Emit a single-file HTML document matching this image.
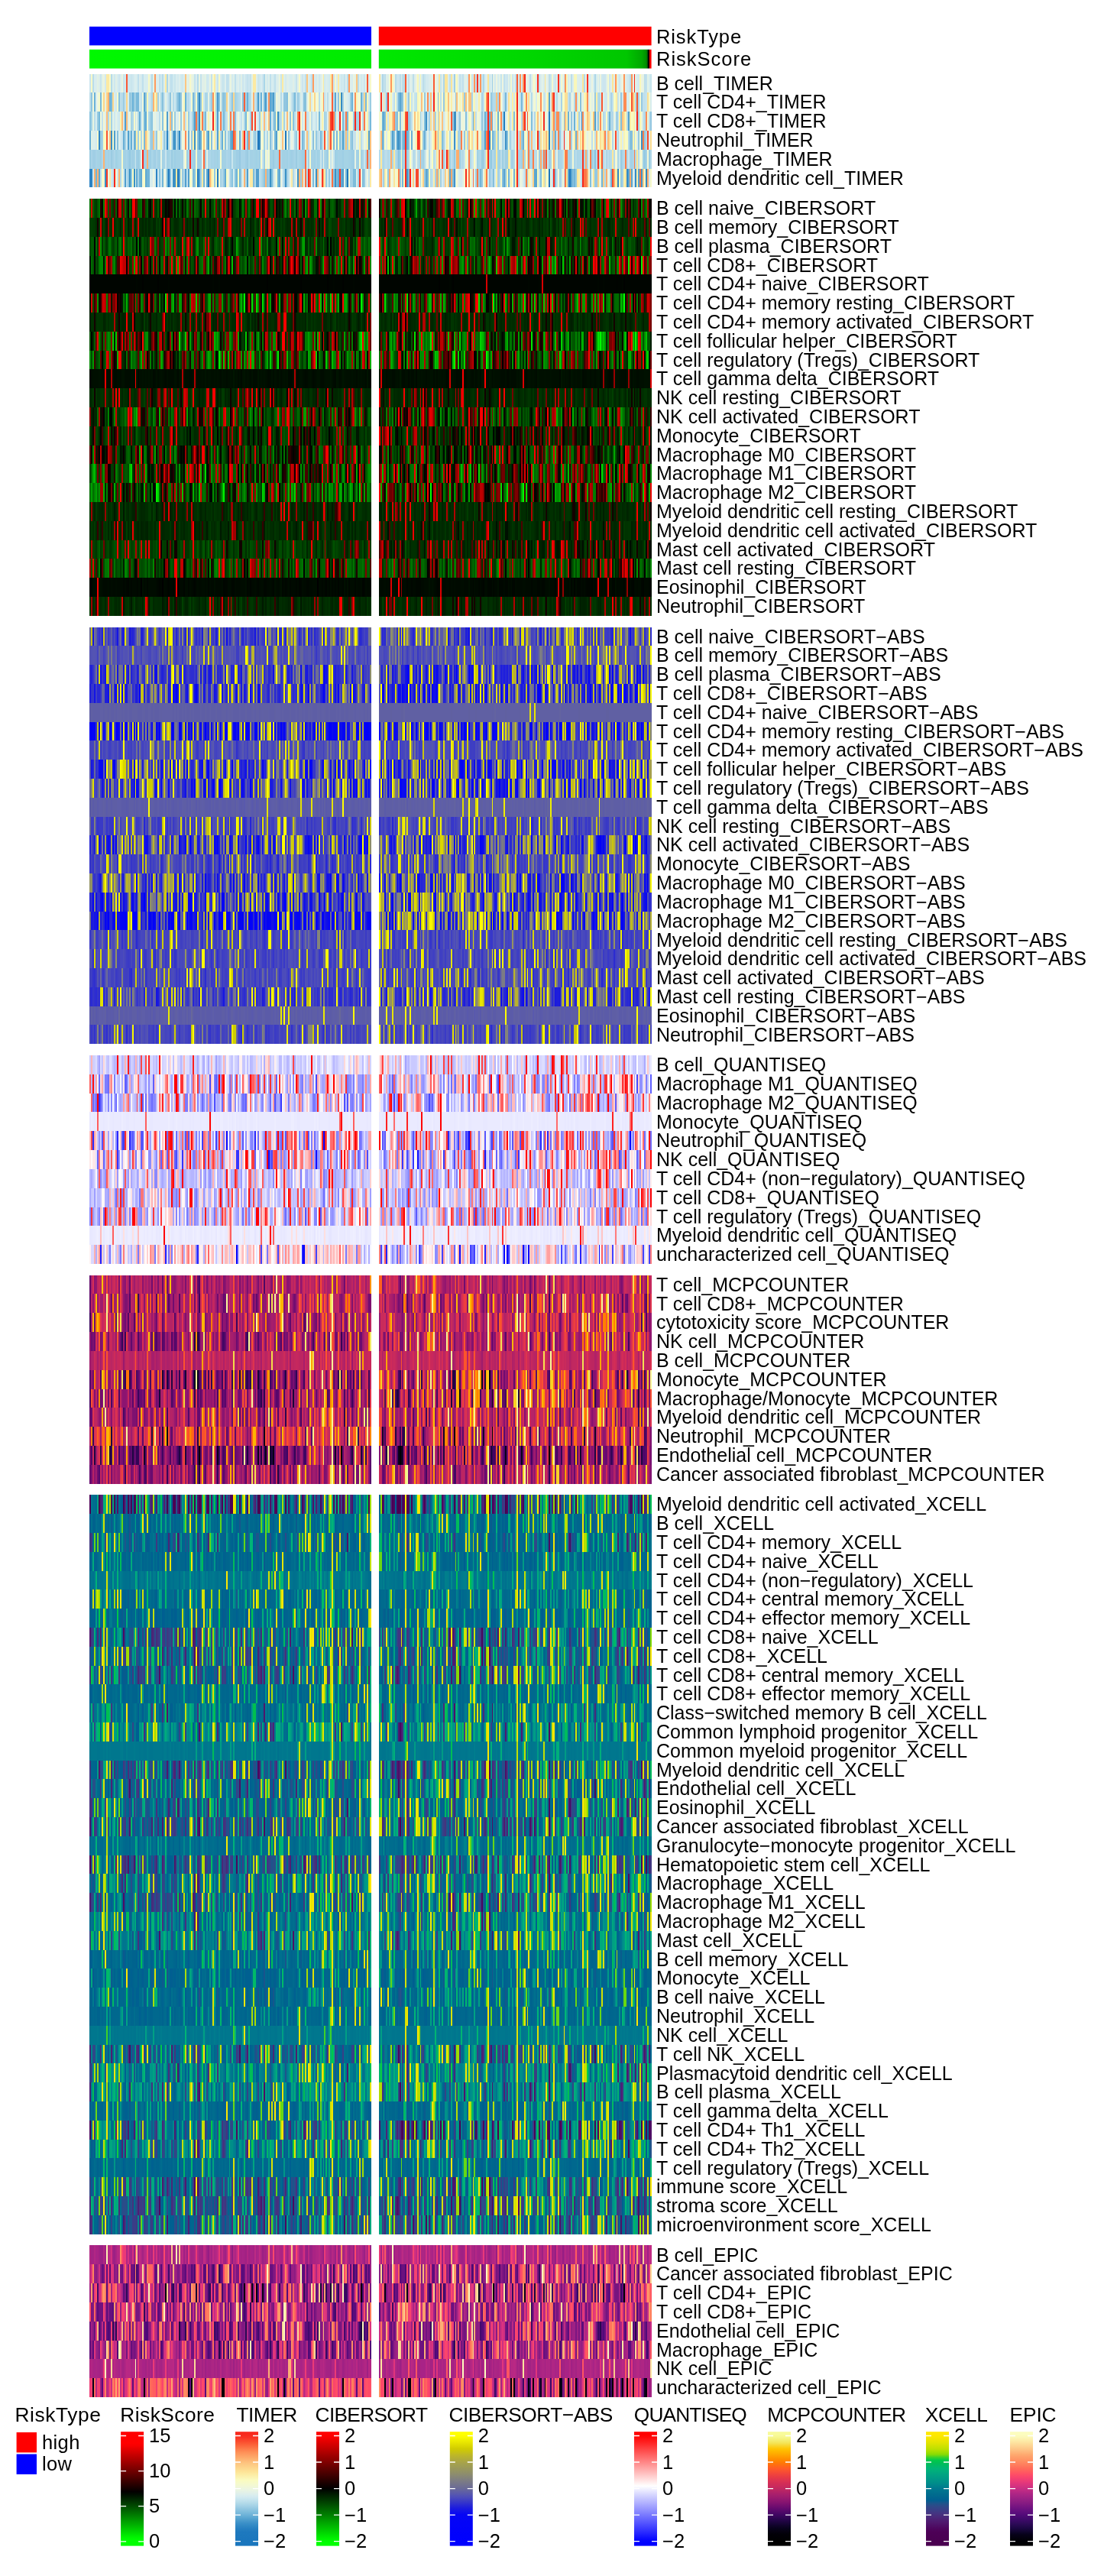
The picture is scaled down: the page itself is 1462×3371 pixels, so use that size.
<!DOCTYPE html><html><head><meta charset="utf-8"><title>heatmap</title><style>html,body{margin:0;padding:0;background:#fff;width:1462px;height:3371px;overflow:hidden}</style></head><body><svg width="1462" height="3371" viewBox="0 0 1462 3371" style="display:block;color-interpolation-filters:sRGB;filter:blur(0.5px)"><defs><style>text{font-family:"Liberation Sans",sans-serif}</style><g id="tx" shape-rendering="crispEdges" stroke-width="1"></g><g id="t0"><rect width="186" height="1" fill="none"/><path stroke="#000000" d="M142 .5h1m9 0h1"/><path stroke="#0b0b0b" d="M9 .5h1m91 0h1m27 0h1m53 0h1"/><path stroke="#161616" d="M64 .5h1m17 0h1m22 0h1"/><path stroke="#212121" d="M0 .5h1m5 0h1m16 0h1m2 0h1m7 0h1m22 0h1m11 0h1m65 0h1m12 0h2"/><path stroke="#2c2c2c" d="M17 .5h1m15 0h1m4 0h1m6 0h1m13 0h1m7 0h1m60 0h1m2 0h1m28 0h1"/><path stroke="#373737" d="M2 .5h1m29 0h1m37 0h2m2 0h1m11 0h1m11 0h1m60 0h1m1 0h1"/><path stroke="#434343" d="M5 .5h1m6 0h1m42 0h1m9 0h1m12 0h1m18 0h1m22 0h1m19 0h1m15 0h1m10 0h1"/><path stroke="#4e4e4e" d="M14 .5h1m22 0h1m43 0h1m2 0h1m34 0h1m17 0h1m5 0h1m13 0h1m8 0h1"/><path stroke="#595959" d="M3 .5h1m17 0h1m40 0h1m14 0h1m18 0h1m7 0h1m4 0h1m20 0h1m3 0h1"/><path stroke="#646464" d="M24 .5h1m16 0h1m33 0h1m4 0h1m9 0h1m9 0h1m1 0h1m3 0h1m26 0h1"/><path stroke="#6f6f6f" d="M4 .5h1m10 0h1m11 0h1m15 0h2m15 0h1m34 0h1m16 0h1m49 0h1m7 0h1"/><path stroke="#7a7a7a" d="M72 .5h1m12 0h1m35 0h1m4 0h1m20 0h1m16 0h1m4 0h1m5 0h1m5 0h1"/><path stroke="#858585" d="M46 .5h1m1 0h2m13 0h1m54 0h1m5 0h1m21 0h1m11 0h1m6 0h1"/><path stroke="#909090" d="M39 .5h1m11 0h1m6 0h1m49 0h1m16 0h1m10 0h1m13 0h1m25 0h2m1 0h1"/><path stroke="#9b9b9b" d="M8 .5h1m31 0h1m15 0h1m22 0h1m14 0h1m4 0h1m23 0h1m39 0h1m20 0h1"/><path stroke="#a6a6a6" d="M25 .5h1m24 0h1m1 0h1m8 0h1m11 0h1m17 0h1m22 0h1m26 0h1m32 0h1"/><path stroke="#b1b1b1" d="M7 .5h1m10 0h1m16 0h1m17 0h2m13 0h1m58 0h1m25 0h2m25 0h1"/><path stroke="#bcbcbc" d="M16 .5h1m13 0h1m5 0h1m29 0h1m21 0h1m18 0h1m7 0h1m29 0h1m39 0h1"/><path stroke="#c8c8c8" d="M13 .5h1m8 0h1m8 0h1m51 0h1m8 0h1m20 0h1m3 0h1m21 0h1m31 0h1"/><path stroke="#d3d3d3" d="M11 .5h1m77 0h1m3 0h1m9 0h1m18 0h1m15 0h1m16 0h1m12 0h1m3 0h1"/><path stroke="#dedede" d="M1 .5h1m17 0h2m21 0h1m4 0h1m39 0h1m56 0h1m28 0h1m4 0h1m3 0h1"/><path stroke="#e9e9e9" d="M76 .5h1m39 0h1m15 0h1"/><path stroke="#f4f4f4" d="M28 .5h1m81 0h2m39 0h1"/><path stroke="#ffffff" d="M10 .5h1m18 0h1"/></g><g id="t1"><rect width="186" height="1" fill="none"/><path stroke="#000000" d="M14 .5h1m109 0h1"/><path stroke="#0b0b0b" d="M70 .5h1m4 0h1m20 0h1m41 0h1"/><path stroke="#161616" d="M108 .5h1m17 0h1m4 0h1"/><path stroke="#212121" d="M26 .5h1m8 0h1m53 0h1m4 0h1m14 0h1m3 0h1m11 0h1m36 0h1m18 0h1m1 0h1"/><path stroke="#2c2c2c" d="M0 .5h1m3 0h1m22 0h1m10 0h1m11 0h1m17 0h1m34 0h1m13 0h1m16 0h1"/><path stroke="#373737" d="M12 .5h1m27 0h1m20 0h1m3 0h1m7 0h1m4 0h1m23 0h1m47 0h1m22 0h1"/><path stroke="#434343" d="M36 .5h1m5 0h1m1 0h1m15 0h1m15 0h1m28 0h1m26 0h1m16 0h1m19 0h1m1 0h1"/><path stroke="#4e4e4e" d="M15 .5h1m8 0h1m4 0h1m98 0h1m8 0h1m17 0h1m5 0h1m1 0h1m18 0h1"/><path stroke="#595959" d="M7 .5h1m5 0h1m16 0h2m54 0h1m19 0h1m13 0h1m1 0h1m23 0h1"/><path stroke="#646464" d="M28 .5h1m20 0h1m2 0h1m28 0h1m19 0h1m8 0h1m16 0h1m1 0h1m24 0h1"/><path stroke="#6f6f6f" d="M3 .5h1m15 0h1m25 0h1m1 0h1m32 0h1m14 0h1m25 0h1m11 0h1m30 0h1m13 0h1"/><path stroke="#7a7a7a" d="M2 .5h1m15 0h1m60 0h1m17 0h1m13 0h2m2 0h1m29 0h1m33 0h1"/><path stroke="#858585" d="M33 .5h1m17 0h1m22 0h1m29 0h1m37 0h2m4 0h1m26 0h1m8 0h1"/><path stroke="#909090" d="M6 .5h1m1 0h1m2 0h1m31 0h1m18 0h1m4 0h1m14 0h1m31 0h1m4 0h1m60 0h1"/><path stroke="#9b9b9b" d="M21 .5h1m12 0h1m6 0h1m29 0h1m44 0h1m1 0h1m16 0h2m37 0h1"/><path stroke="#a6a6a6" d="M17 .5h1m5 0h1m59 0h1m56 0h2m14 0h1m2 0h1m5 0h1m1 0h1"/><path stroke="#b1b1b1" d="M56 .5h1m2 0h1m6 0h1m2 0h1m20 0h1m2 0h1m5 0h1m52 0h1m5 0h1m17 0h1"/><path stroke="#bcbcbc" d="M9 .5h1m6 0h1m41 0h1m18 0h1m13 0h1m38 0h1m13 0h1m2 0h1m29 0h1"/><path stroke="#c8c8c8" d="M5 .5h1m16 0h1m9 0h1m21 0h1m8 0h1m21 0h1m6 0h1m7 0h1m65 0h1"/><path stroke="#d3d3d3" d="M10 .5h1m26 0h1m1 0h1m15 0h1m8 0h1m19 0h1m22 0h1m43 0h1m20 0h1"/><path stroke="#dedede" d="M20 .5h1m4 0h1m20 0h1m6 0h1m33 0h2m34 0h1m15 0h1m17 0h1m10 0h1"/><path stroke="#e9e9e9" d="M153 .5h1m6 0h1m9 0h1"/><path stroke="#f4f4f4" d="M1 .5h1m46 0h1m49 0h1m86 0h1"/><path stroke="#ffffff" d="M57 .5h1m14 0h1"/></g><g id="t2"><rect width="186" height="1" fill="none"/><path stroke="#000000" d="M36 .5h1m69 0h1"/><path stroke="#0b0b0b" d="M62 .5h1m39 0h1m40 0h1m18 0h1"/><path stroke="#161616" d="M161 .5h1m11 0h1m5 0h1"/><path stroke="#212121" d="M5 .5h1m5 0h1m3 0h1m29 0h1m27 0h1m19 0h1m9 0h1m65 0h1m4 0h2"/><path stroke="#2c2c2c" d="M13 .5h2m31 0h1m4 0h1m28 0h1m8 0h1m11 0h1m11 0h1m32 0h1"/><path stroke="#373737" d="M6 .5h3m29 0h1m16 0h1m11 0h1m7 0h1m23 0h1m48 0h1"/><path stroke="#434343" d="M1 .5h1m29 0h2m10 0h1m9 0h1m37 0h1m26 0h1m2 0h1m9 0h1m26 0h1"/><path stroke="#4e4e4e" d="M2 .5h1m38 0h1m5 0h1m17 0h1m3 0h1m16 0h1m33 0h1m6 0h1m36 0h1"/><path stroke="#595959" d="M4 .5h1m7 0h1m17 0h1m2 0h1m115 0h1m2 0h1m4 0h1m8 0h1m17 0h1"/><path stroke="#646464" d="M20 .5h1m21 0h1m13 0h1m14 0h1m38 0h1m21 0h1m27 0h1m6 0h1m14 0h1"/><path stroke="#6f6f6f" d="M17 .5h1m46 0h1m29 0h1m13 0h1m30 0h1m4 0h2m4 0h2m24 0h1"/><path stroke="#7a7a7a" d="M26 .5h1m60 0h1m7 0h1m23 0h1m10 0h1m6 0h1m3 0h1m5 0h1m20 0h1"/><path stroke="#858585" d="M10 .5h1m26 0h1m12 0h1m6 0h1m1 0h1m66 0h1m38 0h1m4 0h1m9 0h1"/><path stroke="#909090" d="M52 .5h1m8 0h1m6 0h1m13 0h1m2 0h1m4 0h1m5 0h1m41 0h1m1 0h1m13 0h1"/><path stroke="#9b9b9b" d="M23 .5h1m1 0h1m46 0h1m31 0h1m10 0h1m6 0h1m10 0h1m22 0h1m6 0h1"/><path stroke="#a6a6a6" d="M34 .5h1m9 0h1m36 0h1m1 0h1m23 0h1m15 0h1m12 0h1m18 0h1m22 0h1"/><path stroke="#b1b1b1" d="M9 .5h1m8 0h1m2 0h2m4 0h1m26 0h1m3 0h1m46 0h1m6 0h1m29 0h1"/><path stroke="#bcbcbc" d="M0 .5h1m34 0h1m3 0h1m69 0h1m6 0h1m42 0h1m12 0h1m4 0h1m3 0h1"/><path stroke="#c8c8c8" d="M3 .5h1m15 0h1m9 0h1m10 0h1m22 0h1m12 0h1m34 0h1m23 0h1m35 0h1"/><path stroke="#d3d3d3" d="M48 .5h1m28 0h2m5 0h1m7 0h1m24 0h1m16 0h1m18 0h1m31 0h1"/><path stroke="#dedede" d="M16 .5h1m43 0h1m5 0h1m3 0h1m3 0h1m13 0h1m9 0h1m15 0h1m9 0h2"/><path stroke="#e9e9e9" d="M28 .5h1m50 0h1m103 0h1"/><path stroke="#f4f4f4" d="M24 .5h1m72 0h1m2 0h1m28 0h1"/><path stroke="#ffffff" d="M49 .5h1m78 0h1"/></g><g id="t3"><rect width="186" height="1" fill="none"/><path stroke="#000000" d="M87 .5h1m62 0h1"/><path stroke="#0b0b0b" d="M55 .5h1m29 0h1m12 0h1m3 0h1"/><path stroke="#161616" d="M5 .5h1m66 0h1m64 0h1"/><path stroke="#212121" d="M1 .5h1m25 0h1m15 0h1m18 0h1m2 0h1m22 0h1m35 0h1m34 0h1m20 0h1m3 0h1"/><path stroke="#2c2c2c" d="M12 .5h1m1 0h1m13 0h1m22 0h1m11 0h2m62 0h1m6 0h1m32 0h1"/><path stroke="#373737" d="M9 .5h1m15 0h1m3 0h1m8 0h2m59 0h1m41 0h1m12 0h1m16 0h1"/><path stroke="#434343" d="M16 .5h1m2 0h1m61 0h1m18 0h1m21 0h1m5 0h1m4 0h1m22 0h1m13 0h1m3 0h1"/><path stroke="#4e4e4e" d="M10 .5h1m4 0h1m51 0h1m8 0h1m12 0h1m16 0h1m1 0h1m12 0h1m18 0h1"/><path stroke="#595959" d="M8 .5h1m8 0h1m30 0h1m9 0h1m25 0h1m9 0h1m51 0h1m15 0h1m9 0h1"/><path stroke="#646464" d="M2 .5h1m8 0h1m11 0h1m72 0h1m28 0h1m4 0h1m8 0h1m28 0h1m4 0h1"/><path stroke="#6f6f6f" d="M20 .5h1m25 0h1m5 0h1m21 0h1m3 0h1m31 0h1m1 0h1m13 0h1m15 0h1m38 0h1"/><path stroke="#7a7a7a" d="M59 .5h1m6 0h1m12 0h1m31 0h1m1 0h1m21 0h1m13 0h1m3 0h1m10 0h1"/><path stroke="#858585" d="M18 .5h1m28 0h1m20 0h1m13 0h1m18 0h1m21 0h1m7 0h1m19 0h1m8 0h1"/><path stroke="#909090" d="M7 .5h1m18 0h1m4 0h1m1 0h1m3 0h1m15 0h1m17 0h1m5 0h1m5 0h1m98 0h1"/><path stroke="#9b9b9b" d="M34 .5h2m9 0h1m15 0h1m24 0h1m3 0h1m45 0h1m32 0h1m5 0h1"/><path stroke="#a6a6a6" d="M3 .5h1m2 0h1m25 0h1m9 0h1m50 0h1m25 0h1m24 0h1m12 0h1m25 0h1"/><path stroke="#b1b1b1" d="M36 .5h1m32 0h1m35 0h1m12 0h1m10 0h1m8 0h1m19 0h1m4 0h1m13 0h2"/><path stroke="#bcbcbc" d="M24 .5h1m31 0h1m34 0h2m10 0h1m5 0h1m7 0h1m27 0h1m30 0h1"/><path stroke="#c8c8c8" d="M22 .5h1m52 0h1m21 0h1m6 0h1m9 0h1m17 0h1m10 0h1m17 0h1m3 0h1"/><path stroke="#d3d3d3" d="M30 .5h1m9 0h1m13 0h1m5 0h1m12 0h1m6 0h1m14 0h1m52 0h1m30 0h1"/><path stroke="#dedede" d="M13 .5h1m27 0h1m2 0h1m5 0h1m6 0h1m49 0h1m7 0h2m30 0h1m7 0h1"/><path stroke="#e9e9e9" d="M21 .5h1m27 0h1m70 0h1"/><path stroke="#f4f4f4" d="M0 .5h1m69 0h1m95 0h1m18 0h1"/><path stroke="#ffffff" d="M4 .5h1m147 0h1"/></g><g id="t4"><rect width="186" height="1" fill="none"/><path stroke="#000000" d="M31 .5h1m136 0h1"/><path stroke="#0b0b0b" d="M115 .5h1m12 0h1m23 0h1m11 0h1"/><path stroke="#161616" d="M21 .5h1m19 0h1m32 0h1"/><path stroke="#212121" d="M11 .5h1m1 0h1m32 0h1m32 0h1m8 0h1m21 0h1m5 0h1m4 0h1m8 0h1m2 0h1"/><path stroke="#2c2c2c" d="M0 .5h1m22 0h1m49 0h1m24 0h1m4 0h1m23 0h1m1 0h1m43 0h1m8 0h1"/><path stroke="#373737" d="M4 .5h1m5 0h1m21 0h1m50 0h1m1 0h1m28 0h1m25 0h1m13 0h1m6 0h1"/><path stroke="#434343" d="M5 .5h1m39 0h1m47 0h1m8 0h1m46 0h1m5 0h1m10 0h1m7 0h2m9 0h1"/><path stroke="#4e4e4e" d="M30 .5h1m8 0h1m20 0h1m6 0h1m14 0h1m12 0h1m10 0h1m55 0h1m6 0h1"/><path stroke="#595959" d="M33 .5h1m8 0h1m18 0h1m1 0h1m25 0h1m32 0h1m23 0h1m32 0h2"/><path stroke="#646464" d="M24 .5h1m3 0h1m20 0h1m1 0h1m16 0h1m7 0h1m30 0h1m24 0h1m24 0h1"/><path stroke="#6f6f6f" d="M36 .5h1m6 0h1m6 0h1m5 0h1m21 0h1m17 0h1m50 0h1m5 0h1m24 0h1m5 0h1"/><path stroke="#7a7a7a" d="M9 .5h1m9 0h1m2 0h1m12 0h1m16 0h1m6 0h1m49 0h1m26 0h1m46 0h1"/><path stroke="#858585" d="M26 .5h1m31 0h1m6 0h1m4 0h2m53 0h1m30 0h1m14 0h1m9 0h1"/><path stroke="#909090" d="M1 .5h1m13 0h1m18 0h1m12 0h1m14 0h1m6 0h1m31 0h1m10 0h1m4 0h1m19 0h1"/><path stroke="#9b9b9b" d="M6 .5h1m13 0h1m8 0h1m67 0h1m6 0h1m15 0h1m22 0h1m15 0h2"/><path stroke="#a6a6a6" d="M55 .5h1m8 0h1m16 0h1m4 0h1m3 0h1m32 0h2m51 0h2"/><path stroke="#b1b1b1" d="M7 .5h1m58 0h1m17 0h1m23 0h1m25 0h1m4 0h1m1 0h1m3 0h1m2 0h1m9 0h1"/><path stroke="#bcbcbc" d="M2 .5h1m11 0h1m1 0h1m21 0h1m36 0h1m29 0h1m5 0h1m1 0h1m56 0h1"/><path stroke="#c8c8c8" d="M8 .5h1m8 0h1m19 0h1m2 0h1m51 0h1m42 0h1m6 0h1m1 0h1m27 0h1"/><path stroke="#d3d3d3" d="M3 .5h1m23 0h1m44 0h1m14 0h1m12 0h1m37 0h1m11 0h2m15 0h1"/><path stroke="#dedede" d="M18 .5h1m6 0h1m18 0h1m3 0h1m4 0h1m23 0h1m13 0h1m2 0h1m31 0h1m36 0h1"/><path stroke="#e9e9e9" d="M12 .5h1m44 0h1m107 0h1"/><path stroke="#f4f4f4" d="M54 .5h1m25 0h1m37 0h1m12 0h1"/><path stroke="#ffffff" d="M99 .5h1m19 0h1"/></g><g id="t5"><rect width="186" height="1" fill="none"/><path stroke="#000000" d="M51 .5h1m21 0h1"/><path stroke="#0b0b0b" d="M54 .5h1m3 0h1m64 0h1m59 0h1"/><path stroke="#161616" d="M38 .5h1m1 0h1m9 0h1"/><path stroke="#212121" d="M8 .5h1m10 0h1m8 0h1m10 0h1m34 0h1m1 0h1m18 0h1m74 0h2m10 0h1"/><path stroke="#2c2c2c" d="M9 .5h1m13 0h1m6 0h1m39 0h1m20 0h1m9 0h1m10 0h1m35 0h1m25 0h1"/><path stroke="#373737" d="M17 .5h1m11 0h1m26 0h1m56 0h2m9 0h1m9 0h1m24 0h1m5 0h1"/><path stroke="#434343" d="M2 .5h1m29 0h2m33 0h1m26 0h1m4 0h1m21 0h1m24 0h1m15 0h2"/><path stroke="#4e4e4e" d="M0 .5h1m20 0h1m15 0h1m19 0h1m31 0h1m7 0h1m11 0h1m5 0h1m42 0h1"/><path stroke="#595959" d="M10 .5h1m32 0h1m74 0h1m9 0h1m1 0h1m7 0h1m5 0h1m9 0h1m17 0h1"/><path stroke="#646464" d="M11 .5h1m57 0h1m5 0h1m6 0h1m20 0h1m4 0h1m1 0h1m25 0h2"/><path stroke="#6f6f6f" d="M12 .5h1m47 0h1m35 0h1m9 0h1m32 0h1m7 0h1m9 0h1m9 0h2m10 0h1"/><path stroke="#7a7a7a" d="M6 .5h1m8 0h1m11 0h1m21 0h1m48 0h1m18 0h1m34 0h1m16 0h1m3 0h1"/><path stroke="#858585" d="M55 .5h1m22 0h1m11 0h1m9 0h1m18 0h1m31 0h1m9 0h1m2 0h1m19 0h1"/><path stroke="#909090" d="M16 .5h1m1 0h1m16 0h1m29 0h2m17 0h1m7 0h1m34 0h1m22 0h1m30 0h1"/><path stroke="#9b9b9b" d="M3 .5h1m32 0h1m10 0h1m20 0h1m35 0h1m2 0h1m3 0h1m43 0h1m20 0h1"/><path stroke="#a6a6a6" d="M22 .5h1m2 0h1m8 0h1m9 0h1m8 0h1m25 0h1m6 0h1m1 0h1m51 0h1"/><path stroke="#b1b1b1" d="M5 .5h1m39 0h2m12 0h1m1 0h1m10 0h1m10 0h1m1 0h1m19 0h1m27 0h1"/><path stroke="#bcbcbc" d="M42 .5h1m5 0h1m31 0h1m48 0h1m11 0h2m10 0h1m6 0h1m24 0h1"/><path stroke="#c8c8c8" d="M7 .5h1m54 0h1m8 0h1m44 0h1m3 0h1m1 0h1m9 0h1m2 0h1m9 0h1"/><path stroke="#d3d3d3" d="M4 .5h1m36 0h1m10 0h1m10 0h1m13 0h1m3 0h1m67 0h1m27 0h2"/><path stroke="#dedede" d="M1 .5h1m18 0h1m3 0h1m6 0h1m55 0h1m5 0h1m8 0h1m22 0h2m4 0h1"/><path stroke="#e9e9e9" d="M14 .5h1m49 0h1m110 0h1"/><path stroke="#f4f4f4" d="M13 .5h1m12 0h1m139 0h1m13 0h1"/><path stroke="#ffffff" d="M143 .5h1m12 0h1"/></g><g id="t6"><rect width="186" height="1" fill="none"/><path stroke="#000000" d="M102 .5h1m76 0h1"/><path stroke="#0b0b0b" d="M50 .5h1m56 0h1m2 0h1m3 0h1"/><path stroke="#161616" d="M70 .5h1m81 0h1m6 0h1"/><path stroke="#212121" d="M24 .5h1m30 0h1m23 0h1m20 0h1m24 0h1m15 0h1m12 0h1m1 0h1m7 0h1m4 0h1"/><path stroke="#2c2c2c" d="M5 .5h1m48 0h1m4 0h2m17 0h1m8 0h1m31 0h1m48 0h1m11 0h1"/><path stroke="#373737" d="M11 .5h1m22 0h1m11 0h1m19 0h1m14 0h1m17 0h1m11 0h1m18 0h1m42 0h1"/><path stroke="#434343" d="M22 .5h1m12 0h1m7 0h1m28 0h1m18 0h1m51 0h1m5 0h1m13 0h1m6 0h1m6 0h1"/><path stroke="#4e4e4e" d="M31 .5h1m51 0h2m7 0h1m3 0h1m4 0h1m13 0h1m2 0h1m55 0h1"/><path stroke="#595959" d="M2 .5h1m20 0h1m33 0h1m19 0h1m30 0h1m33 0h1m7 0h1m6 0h1m27 0h1"/><path stroke="#646464" d="M25 .5h1m18 0h1m3 0h1m27 0h1m11 0h1m44 0h1m24 0h1m2 0h1m21 0h1"/><path stroke="#6f6f6f" d="M29 .5h1m17 0h1m4 0h1m11 0h1m24 0h1m3 0h1m30 0h1m12 0h1m7 0h1m36 0h1"/><path stroke="#7a7a7a" d="M0 .5h1m13 0h1m6 0h1m15 0h1m18 0h1m56 0h1m2 0h1m9 0h2"/><path stroke="#858585" d="M18 .5h1m22 0h1m7 0h1m53 0h1m31 0h2m16 0h1m12 0h1m11 0h1"/><path stroke="#909090" d="M6 .5h1m13 0h1m17 0h1m26 0h1m54 0h2m18 0h1m3 0h1m20 0h1m5 0h1"/><path stroke="#9b9b9b" d="M7 .5h1m11 0h1m13 0h1m11 0h1m15 0h1m12 0h1m23 0h1m7 0h1m74 0h1"/><path stroke="#a6a6a6" d="M3 .5h1m36 0h1m12 0h1m19 0h1m6 0h1m23 0h1m17 0h1m49 0h1m2 0h1"/><path stroke="#b1b1b1" d="M26 .5h2m30 0h1m3 0h1m19 0h1m7 0h1m3 0h1m14 0h1m2 0h1m34 0h1"/><path stroke="#bcbcbc" d="M4 .5h1m7 0h1m2 0h2m11 0h1m3 0h1m3 0h1m5 0h1m88 0h1"/><path stroke="#c8c8c8" d="M63 .5h1m7 0h1m13 0h2m8 0h1m32 0h2m4 0h1m3 0h1"/><path stroke="#d3d3d3" d="M8 .5h1m1 0h1m2 0h1m3 0h1m50 0h2m5 0h1m56 0h1m43 0h1"/><path stroke="#dedede" d="M1 .5h1m7 0h1m20 0h1m36 0h1m29 0h1m7 0h1m17 0h1m31 0h1m6 0h1m21 0h1"/><path stroke="#e9e9e9" d="M51 .5h1m96 0h1m2 0h1"/><path stroke="#f4f4f4" d="M117 .5h1m21 0h1m6 0h1m13 0h1"/><path stroke="#ffffff" d="M39 .5h1m127 0h1"/></g><g id="t7"><rect width="186" height="1" fill="none"/><path stroke="#000000" d="M33 .5h1m83 0h1"/><path stroke="#0b0b0b" d="M56 .5h1m66 0h1m5 0h1m53 0h1"/><path stroke="#161616" d="M35 .5h1m44 0h1m91 0h1"/><path stroke="#212121" d="M25 .5h1m2 0h1m32 0h1m4 0h1m37 0h1m10 0h1m5 0h1m29 0h1m8 0h1m18 0h1"/><path stroke="#2c2c2c" d="M0 .5h1m2 0h1m38 0h1m16 0h1m13 0h1m38 0h1m11 0h1m3 0h1m13 0h1"/><path stroke="#373737" d="M7 .5h1m14 0h1m9 0h1m6 0h1m18 0h1m19 0h1m35 0h1m47 0h2"/><path stroke="#434343" d="M11 .5h1m38 0h1m3 0h1m13 0h1m8 0h1m1 0h1m23 0h1m26 0h1m33 0h1m11 0h1"/><path stroke="#4e4e4e" d="M6 .5h1m3 0h1m1 0h1m5 0h1m12 0h1m35 0h1m4 0h1m72 0h1m2 0h1"/><path stroke="#595959" d="M41 .5h1m1 0h1m27 0h1m26 0h1m8 0h1m35 0h1m2 0h1m11 0h1m18 0h1"/><path stroke="#646464" d="M45 .5h1m11 0h1m25 0h1m6 0h1m5 0h1m2 0h1m67 0h1m1 0h1m10 0h1"/><path stroke="#6f6f6f" d="M23 .5h1m2 0h1m68 0h1m14 0h1m2 0h1m22 0h1m3 0h1m6 0h1m7 0h1m22 0h1"/><path stroke="#7a7a7a" d="M8 .5h1m6 0h1m18 0h1m27 0h2m54 0h1m15 0h2m17 0h1"/><path stroke="#858585" d="M24 .5h1m57 0h1m6 0h1m16 0h1m31 0h1m15 0h1m4 0h1m5 0h1m2 0h1"/><path stroke="#909090" d="M1 .5h2m11 0h1m14 0h1m55 0h1m8 0h1m13 0h1m13 0h1m3 0h1m44 0h1"/><path stroke="#9b9b9b" d="M13 .5h1m6 0h1m23 0h1m10 0h1m31 0h1m9 0h1m7 0h1m38 0h1m29 0h1"/><path stroke="#a6a6a6" d="M52 .5h1m21 0h1m1 0h1m14 0h1m10 0h1m8 0h1m4 0h1m3 0h1m64 0h1"/><path stroke="#b1b1b1" d="M36 .5h1m1 0h1m1 0h1m5 0h1m1 0h1m15 0h1m4 0h1m22 0h1m7 0h2"/><path stroke="#bcbcbc" d="M27 .5h1m21 0h1m59 0h1m9 0h1m12 0h1m23 0h2m8 0h1m15 0h1"/><path stroke="#c8c8c8" d="M4 .5h1m14 0h1m33 0h1m11 0h1m4 0h1m17 0h1m4 0h1m39 0h1m16 0h1"/><path stroke="#d3d3d3" d="M9 .5h1m6 0h1m34 0h1m75 0h1m3 0h1m9 0h1m28 0h1m10 0h1m2 0h1"/><path stroke="#dedede" d="M5 .5h1m31 0h1m22 0h1m14 0h1m5 0h1m4 0h1m38 0h1m23 0h1m2 0h1m20 0h1"/><path stroke="#e9e9e9" d="M30 .5h1m108 0h1m21 0h1"/><path stroke="#f4f4f4" d="M17 .5h1m29 0h1m36 0h1m90 0h1"/><path stroke="#ffffff" d="M21 .5h1m115 0h1"/></g><g id="t8"><rect width="186" height="1" fill="none"/><path stroke="#000000" d="M31 .5h1m14 0h1"/><path stroke="#0b0b0b" d="M64 .5h1m76 0h2m35 0h1"/><path stroke="#161616" d="M29 .5h1m76 0h1m68 0h1"/><path stroke="#212121" d="M12 .5h1m3 0h1m13 0h1m11 0h1m42 0h1m23 0h1m2 0h1m41 0h1m5 0h1m6 0h1"/><path stroke="#2c2c2c" d="M23 .5h1m28 0h1m1 0h1m21 0h1m15 0h1m3 0h1m28 0h1m7 0h1m29 0h1"/><path stroke="#373737" d="M5 .5h1m33 0h1m3 0h1m63 0h1m15 0h1m13 0h1m6 0h1m13 0h1m25 0h1"/><path stroke="#434343" d="M67 .5h1m19 0h1m2 0h1m8 0h1m1 0h1m8 0h1m11 0h1m6 0h1m46 0h1m3 0h1"/><path stroke="#4e4e4e" d="M21 .5h1m2 0h1m3 0h1m26 0h1m35 0h1m13 0h1m9 0h1m22 0h1m14 0h1"/><path stroke="#595959" d="M22 .5h1m17 0h1m18 0h1m10 0h1m11 0h1m34 0h2m42 0h1m23 0h1"/><path stroke="#646464" d="M10 .5h1m9 0h1m45 0h1m19 0h1m13 0h1m18 0h1m12 0h1m3 0h1m12 0h1"/><path stroke="#6f6f6f" d="M15 .5h1m2 0h1m34 0h1m24 0h1m47 0h1m8 0h1m14 0h1m6 0h1m19 0h1m5 0h1"/><path stroke="#7a7a7a" d="M11 .5h1m7 0h1m17 0h1m3 0h1m8 0h1m47 0h1m17 0h1m4 0h1m34 0h1"/><path stroke="#858585" d="M1 .5h1m1 0h2m53 0h1m6 0h1m3 0h1m33 0h1m16 0h1m51 0h1"/><path stroke="#909090" d="M2 .5h1m4 0h1m26 0h1m33 0h1m5 0h1m64 0h1m6 0h1m8 0h1m13 0h1m12 0h1"/><path stroke="#9b9b9b" d="M9 .5h1m3 0h2m68 0h1m9 0h1m14 0h1m5 0h1m36 0h1m19 0h1"/><path stroke="#a6a6a6" d="M8 .5h1m26 0h2m8 0h1m2 0h1m23 0h2m10 0h1m79 0h1"/><path stroke="#b1b1b1" d="M44 .5h1m6 0h1m9 0h1m19 0h1m20 0h1m8 0h1m53 0h2m3 0h1m10 0h1"/><path stroke="#bcbcbc" d="M38 .5h1m10 0h1m10 0h1m2 0h1m30 0h1m39 0h1m10 0h1m6 0h1m6 0h1"/><path stroke="#c8c8c8" d="M0 .5h1m46 0h1m49 0h1m15 0h1m14 0h1m11 0h1m2 0h1m4 0h1m19 0h1"/><path stroke="#d3d3d3" d="M6 .5h1m19 0h1m5 0h1m23 0h1m18 0h1m1 0h1m26 0h1m22 0h1m45 0h1"/><path stroke="#dedede" d="M17 .5h1m15 0h1m37 0h1m7 0h2m7 0h1m58 0h1m14 0h1m11 0h1m4 0h1"/><path stroke="#e9e9e9" d="M57 .5h1m31 0h1m41 0h1"/><path stroke="#f4f4f4" d="M27 .5h1m34 0h1m32 0h1m34 0h1"/><path stroke="#ffffff" d="M25 .5h1m98 0h1"/></g><g id="t9"><rect width="186" height="1" fill="none"/><path stroke="#000000" d="M151 .5h1m23 0h1"/><path stroke="#0b0b0b" d="M24 .5h1m10 0h1m68 0h1m44 0h1"/><path stroke="#161616" d="M55 .5h1m13 0h1m54 0h1"/><path stroke="#212121" d="M47 .5h1m16 0h1m5 0h1m49 0h1m17 0h1m11 0h1m2 0h1m14 0h1m4 0h1m8 0h1"/><path stroke="#2c2c2c" d="M8 .5h1m8 0h1m33 0h1m19 0h1m15 0h1m24 0h1m16 0h1m9 0h1m12 0h1"/><path stroke="#373737" d="M10 .5h1m16 0h2m66 0h1m1 0h1m10 0h1m45 0h1m12 0h1m11 0h1"/><path stroke="#434343" d="M30 .5h1m1 0h1m4 0h1m20 0h1m27 0h1m26 0h1m14 0h1m19 0h1m27 0h1m4 0h1"/><path stroke="#4e4e4e" d="M7 .5h1m26 0h1m18 0h1m3 0h1m1 0h1m32 0h1m41 0h1m1 0h1m37 0h1"/><path stroke="#595959" d="M33 .5h1m33 0h1m4 0h1m7 0h1m8 0h2m34 0h1m30 0h1m5 0h1"/><path stroke="#646464" d="M3 .5h1m5 0h1m1 0h1m19 0h1m34 0h1m1 0h1m6 0h1m43 0h1m11 0h1"/><path stroke="#6f6f6f" d="M4 .5h1m17 0h1m104 0h1m4 0h2m1 0h1m28 0h1m15 0h1m2 0h2"/><path stroke="#7a7a7a" d="M2 .5h1m16 0h1m36 0h1m21 0h1m3 0h1m39 0h1m18 0h1m5 0h1m17 0h1"/><path stroke="#858585" d="M39 .5h1m21 0h1m26 0h1m2 0h1m8 0h1m15 0h1m20 0h1m2 0h1m14 0h1"/><path stroke="#909090" d="M0 .5h1m19 0h2m23 0h1m37 0h1m1 0h1m19 0h1m24 0h1m11 0h1m42 0h1"/><path stroke="#9b9b9b" d="M14 .5h1m64 0h1m4 0h1m21 0h1m11 0h1m4 0h1m2 0h1m34 0h1m7 0h1"/><path stroke="#a6a6a6" d="M6 .5h1m18 0h1m24 0h1m11 0h1m13 0h1m19 0h1m13 0h1m35 0h1m19 0h1"/><path stroke="#b1b1b1" d="M15 .5h1m2 0h1m4 0h1m14 0h1m38 0h1m15 0h2m8 0h1m7 0h1m51 0h1"/><path stroke="#bcbcbc" d="M13 .5h1m12 0h1m14 0h1m7 0h1m4 0h1m18 0h1m7 0h1m17 0h1m9 0h1"/><path stroke="#c8c8c8" d="M1 .5h1m42 0h1m53 0h1m8 0h1m7 0h1m28 0h1m12 0h2m1 0h1"/><path stroke="#d3d3d3" d="M46 .5h1m1 0h1m25 0h1m26 0h2m14 0h1m3 0h1m37 0h1m11 0h1"/><path stroke="#dedede" d="M5 .5h1m6 0h1m27 0h1m1 0h2m8 0h1m12 0h1m48 0h1m30 0h1m32 0h1"/><path stroke="#e9e9e9" d="M16 .5h1m43 0h1m109 0h1"/><path stroke="#f4f4f4" d="M29 .5h1m33 0h1m79 0h1m33 0h1"/><path stroke="#ffffff" d="M36 .5h1m135 0h1"/></g><g id="t10"><rect width="186" height="1" fill="none"/><path stroke="#000000" d="M85 .5h1m75 0h1"/><path stroke="#0b0b0b" d="M31 .5h1m20 0h1m28 0h1m92 0h1"/><path stroke="#161616" d="M69 .5h1m36 0h1m75 0h1"/><path stroke="#212121" d="M47 .5h1m19 0h1m7 0h1m10 0h1m14 0h1m24 0h1m14 0h1m30 0h1m3 0h1m7 0h1"/><path stroke="#2c2c2c" d="M13 .5h1m15 0h1m2 0h1m10 0h1m19 0h1m12 0h1m55 0h1m10 0h1m15 0h1"/><path stroke="#373737" d="M8 .5h1m2 0h1m32 0h1m33 0h1m14 0h1m6 0h1m19 0h1m19 0h1m34 0h1"/><path stroke="#434343" d="M21 .5h1m5 0h2m33 0h1m5 0h1m33 0h1m4 0h1m11 0h1m26 0h1m19 0h1"/><path stroke="#4e4e4e" d="M9 .5h1m51 0h1m18 0h1m1 0h1m4 0h1m22 0h1m1 0h1m43 0h1m22 0h1"/><path stroke="#595959" d="M20 .5h1m16 0h1m20 0h1m33 0h1m4 0h2m22 0h1m30 0h1m30 0h1"/><path stroke="#646464" d="M16 .5h1m1 0h1m46 0h2m28 0h1m8 0h1m17 0h1m21 0h1m25 0h1"/><path stroke="#6f6f6f" d="M4 .5h1m2 0h1m17 0h1m28 0h1m4 0h1m13 0h1m31 0h1m3 0h1m25 0h1m9 0h1"/><path stroke="#7a7a7a" d="M3 .5h1m13 0h1m39 0h1m21 0h1m44 0h1m2 0h1m5 0h2m20 0h1"/><path stroke="#858585" d="M5 .5h1m40 0h1m1 0h1m2 0h1m4 0h1m39 0h1m34 0h1m49 0h1m3 0h1"/><path stroke="#909090" d="M53 .5h1m10 0h1m38 0h1m10 0h1m10 0h1m10 0h1m12 0h1m4 0h1m7 0h1m2 0h1"/><path stroke="#9b9b9b" d="M0 .5h1m21 0h1m1 0h1m8 0h1m16 0h1m9 0h1m54 0h1m26 0h1m15 0h1"/><path stroke="#a6a6a6" d="M6 .5h1m27 0h1m1 0h1m35 0h1m1 0h1m62 0h2m21 0h1m12 0h1"/><path stroke="#b1b1b1" d="M1 .5h1m12 0h2m26 0h1m80 0h1m4 0h1m19 0h1m1 0h1m2 0h1m17 0h1"/><path stroke="#bcbcbc" d="M10 .5h1m1 0h1m70 0h1m29 0h1m16 0h1m16 0h1m3 0h1m11 0h1m14 0h1"/><path stroke="#c8c8c8" d="M26 .5h1m22 0h1m20 0h1m17 0h1m5 0h1m4 0h1m8 0h1m7 0h1m51 0h1"/><path stroke="#d3d3d3" d="M23 .5h1m15 0h3m29 0h1m5 0h1m33 0h1m65 0h1m2 0h1"/><path stroke="#dedede" d="M2 .5h1m27 0h1m7 0h1m45 0h1m4 0h2m27 0h1m10 0h1m34 0h1m4 0h1"/><path stroke="#e9e9e9" d="M19 .5h1m35 0h1m35 0h1"/><path stroke="#f4f4f4" d="M35 .5h1m9 0h1m111 0h1m9 0h1"/><path stroke="#ffffff" d="M117 .5h1m21 0h1"/></g><g id="t11"><rect width="186" height="1" fill="none"/><path stroke="#000000" d="M25 .5h1m39 0h1"/><path stroke="#0b0b0b" d="M56 .5h1m14 0h1m93 0h1m13 0h1"/><path stroke="#161616" d="M67 .5h1m47 0h1m66 0h1"/><path stroke="#212121" d="M29 .5h1m15 0h1m7 0h1m51 0h1m14 0h1m7 0h1m22 0h1m2 0h1m2 0h1m3 0h1"/><path stroke="#2c2c2c" d="M4 .5h1m9 0h1m5 0h1m11 0h1m21 0h1m15 0h1m10 0h1m2 0h1m50 0h1"/><path stroke="#373737" d="M1 .5h1m7 0h1m70 0h1m59 0h1m2 0h1m15 0h1m6 0h1m5 0h1m3 0h1"/><path stroke="#434343" d="M24 .5h1m33 0h1m9 0h1m13 0h1m2 0h1m5 0h1m12 0h1m21 0h1m21 0h1m32 0h1"/><path stroke="#4e4e4e" d="M19 .5h1m8 0h1m17 0h1m43 0h1m3 0h2m6 0h1m14 0h1m56 0h1"/><path stroke="#595959" d="M7 .5h1m2 0h1m15 0h1m32 0h1m40 0h1m30 0h1m10 0h1m6 0h1m25 0h1"/><path stroke="#646464" d="M30 .5h1m6 0h1m4 0h1m30 0h1m4 0h1m20 0h1m10 0h1m1 0h1m54 0h1"/><path stroke="#6f6f6f" d="M6 .5h1m20 0h1m3 0h1m19 0h2m23 0h1m53 0h1m19 0h1m7 0h1m14 0h1"/><path stroke="#7a7a7a" d="M11 .5h1m10 0h2m10 0h1m3 0h1m21 0h1m46 0h1m6 0h1m3 0h1"/><path stroke="#858585" d="M47 .5h2m78 0h1m4 0h1m4 0h1m1 0h1m13 0h1m15 0h1m14 0h1"/><path stroke="#909090" d="M18 .5h1m16 0h1m47 0h1m3 0h1m4 0h2m40 0h1m6 0h1m2 0h1m2 0h1"/><path stroke="#9b9b9b" d="M0 .5h1m20 0h1m14 0h1m25 0h1m35 0h1m26 0h1m12 0h1m39 0h1m6 0h1"/><path stroke="#a6a6a6" d="M89 .5h1m19 0h1m3 0h1m2 0h1m2 0h1m9 0h1m3 0h1m29 0h1m7 0h1"/><path stroke="#b1b1b1" d="M5 .5h1m6 0h1m20 0h1m5 0h1m23 0h1m11 0h1m45 0h2m23 0h1m15 0h1"/><path stroke="#bcbcbc" d="M13 .5h1m26 0h1m2 0h1m13 0h1m11 0h1m75 0h1m24 0h1m6 0h1m2 0h1"/><path stroke="#c8c8c8" d="M2 .5h2m37 0h1m32 0h1m36 0h1m12 0h1m27 0h1m7 0h1m7 0h1"/><path stroke="#d3d3d3" d="M44 .5h1m5 0h1m4 0h1m8 0h1m7 0h1m15 0h1m8 0h1m66 0h1m18 0h1"/><path stroke="#dedede" d="M8 .5h1m6 0h2m32 0h1m27 0h1m8 0h1m9 0h1m11 0h1m27 0h1m18 0h1"/><path stroke="#e9e9e9" d="M61 .5h1m4 0h1m89 0h1"/><path stroke="#f4f4f4" d="M17 .5h1m61 0h1m21 0h1m21 0h1"/><path stroke="#ffffff" d="M103 .5h1m2 0h1"/></g><g id="t12"><rect width="186" height="1" fill="none"/><path stroke="#000000" d="M36 .5h1m30 0h1"/><path stroke="#0b0b0b" d="M87 .5h2m35 0h1m42 0h1"/><path stroke="#161616" d="M2 .5h1m62 0h1m62 0h1"/><path stroke="#212121" d="M8 .5h1m19 0h1m37 0h1m9 0h1m52 0h1m4 0h1m3 0h1m12 0h1m24 0h1m3 0h1"/><path stroke="#2c2c2c" d="M7 .5h1m14 0h1m16 0h1m19 0h1m39 0h1m9 0h1m6 0h2m37 0h1"/><path stroke="#373737" d="M4 .5h1m6 0h1m23 0h1m21 0h1m83 0h1m3 0h2m12 0h1m6 0h1"/><path stroke="#434343" d="M12 .5h1m1 0h1m5 0h1m10 0h1m2 0h1m2 0h1m13 0h1m4 0h1m12 0h1m27 0h1"/><path stroke="#4e4e4e" d="M23 .5h1m37 0h1m8 0h1m14 0h1m20 0h1m7 0h1m12 0h1m14 0h1m21 0h1"/><path stroke="#595959" d="M24 .5h1m2 0h1m27 0h1m17 0h1m26 0h1m1 0h1m15 0h1m3 0h1m52 0h1"/><path stroke="#646464" d="M0 .5h1m8 0h1m20 0h1m59 0h1m34 0h1m6 0h1m10 0h1m14 0h1m13 0h1"/><path stroke="#6f6f6f" d="M1 .5h1m3 0h2m22 0h1m14 0h1m35 0h1m14 0h1m56 0h1m17 0h1m10 0h1"/><path stroke="#7a7a7a" d="M13 .5h1m34 0h1m22 0h1m3 0h1m3 0h1m68 0h1m5 0h1m6 0h1m3 0h1"/><path stroke="#858585" d="M18 .5h1m2 0h1m31 0h1m20 0h1m8 0h1m8 0h1m54 0h1m14 0h1m21 0h1"/><path stroke="#909090" d="M94 .5h1m16 0h1m28 0h1m12 0h1m9 0h1m5 0h1m8 0h1m3 0h2m1 0h1"/><path stroke="#9b9b9b" d="M16 .5h1m30 0h1m38 0h1m2 0h1m1 0h1m4 0h1m39 0h1m7 0h1m32 0h1"/><path stroke="#a6a6a6" d="M25 .5h1m16 0h2m28 0h1m11 0h1m23 0h1m14 0h1m2 0h1m22 0h1"/><path stroke="#b1b1b1" d="M3 .5h1m37 0h1m18 0h1m32 0h1m18 0h1m7 0h1m9 0h1m4 0h1m20 0h1m3 0h1"/><path stroke="#bcbcbc" d="M32 .5h1m5 0h1m1 0h1m11 0h1m5 0h1m42 0h1m3 0h1m44 0h1m23 0h1"/><path stroke="#c8c8c8" d="M33 .5h1m11 0h2m56 0h1m9 0h1m1 0h1m23 0h1m28 0h1m10 0h1"/><path stroke="#d3d3d3" d="M10 .5h1m4 0h1m10 0h1m22 0h1m14 0h1m56 0h1m15 0h1m33 0h1m1 0h1"/><path stroke="#dedede" d="M50 .5h1m11 0h2m13 0h2m19 0h1m5 0h1m26 0h1m1 0h1m23 0h1"/><path stroke="#e9e9e9" d="M81 .5h1m25 0h1m2 0h1"/><path stroke="#f4f4f4" d="M17 .5h1m1 0h1m34 0h1m64 0h1"/><path stroke="#ffffff" d="M68 .5h1m13 0h1"/></g><g id="t13"><rect width="186" height="1" fill="none"/><path stroke="#000000" d="M9 .5h1m94 0h1"/><path stroke="#0b0b0b" d="M0 .5h1m109 0h1m22 0h1m42 0h1"/><path stroke="#161616" d="M70 .5h1m48 0h1m16 0h1"/><path stroke="#212121" d="M3 .5h1m46 0h1m1 0h1m20 0h1m3 0h1m56 0h1m3 0h1m2 0h1m21 0h1m14 0h1"/><path stroke="#2c2c2c" d="M6 .5h2m41 0h1m24 0h1m3 0h1m42 0h1m21 0h1m11 0h1m18 0h1"/><path stroke="#373737" d="M11 .5h1m20 0h1m5 0h1m21 0h1m15 0h1m4 0h1m11 0h1m11 0h1m50 0h1"/><path stroke="#434343" d="M40 .5h1m16 0h1m4 0h1m25 0h1m8 0h2m23 0h1m31 0h1m4 0h1m4 0h1"/><path stroke="#4e4e4e" d="M25 .5h1m41 0h1m22 0h1m4 0h1m24 0h1m4 0h1m35 0h1m5 0h1m9 0h1"/><path stroke="#595959" d="M2 .5h1m30 0h1m19 0h1m15 0h1m17 0h1m41 0h1m14 0h1m34 0h1m2 0h1"/><path stroke="#646464" d="M37 .5h1m13 0h1m7 0h1m31 0h2m60 0h1m8 0h1m10 0h1m7 0h1"/><path stroke="#6f6f6f" d="M5 .5h1m17 0h1m23 0h1m10 0h1m7 0h1m17 0h1m15 0h1m25 0h1m10 0h1m4 0h1"/><path stroke="#7a7a7a" d="M1 .5h1m42 0h1m18 0h1m18 0h1m24 0h1m4 0h1m10 0h1m3 0h1m41 0h1"/><path stroke="#858585" d="M29 .5h1m24 0h1m9 0h1m24 0h1m16 0h1m1 0h1m6 0h1m24 0h1m42 0h1"/><path stroke="#909090" d="M10 .5h1m4 0h1m6 0h1m1 0h1m1 0h1m48 0h1m9 0h1m27 0h1m35 0h1m20 0h1"/><path stroke="#9b9b9b" d="M4 .5h1m7 0h1m22 0h2m18 0h1m27 0h1m15 0h1m46 0h1m5 0h1"/><path stroke="#a6a6a6" d="M8 .5h1m11 0h1m27 0h1m90 0h1m7 0h1m3 0h1m6 0h1m7 0h1m5 0h1"/><path stroke="#b1b1b1" d="M21 .5h1m19 0h1m1 0h1m2 0h1m55 0h1m8 0h1m18 0h1m1 0h1m2 0h1m21 0h1"/><path stroke="#bcbcbc" d="M28 .5h1m16 0h1m26 0h1m28 0h1m14 0h1m14 0h1m33 0h1m5 0h1m8 0h1"/><path stroke="#c8c8c8" d="M14 .5h1m3 0h1m52 0h1m8 0h1m33 0h1m3 0h1m26 0h1m14 0h1m7 0h1"/><path stroke="#d3d3d3" d="M39 .5h1m28 0h1m25 0h1m1 0h1m20 0h1m30 0h1m1 0h1m24 0h1m9 0h1"/><path stroke="#dedede" d="M16 .5h1m2 0h1m10 0h2m2 0h1m21 0h1m22 0h1m6 0h1m41 0h1m55 0h1"/><path stroke="#e9e9e9" d="M13 .5h1m3 0h1m24 0h1"/><path stroke="#f4f4f4" d="M27 .5h1m33 0h1m41 0h1m20 0h1"/><path stroke="#ffffff" d="M65 .5h1m43 0h1"/></g><g id="t14"><rect width="186" height="1" fill="none"/><path stroke="#000000" d="M94 .5h1m59 0h1"/><path stroke="#0b0b0b" d="M29 .5h1m28 0h1m19 0h1m64 0h1"/><path stroke="#161616" d="M145 .5h1m28 0h1m6 0h1"/><path stroke="#212121" d="M7 .5h2m7 0h1m47 0h1m49 0h1m31 0h1m15 0h1m1 0h1m6 0h1m13 0h1"/><path stroke="#2c2c2c" d="M6 .5h1m3 0h1m4 0h1m46 0h1m11 0h1m2 0h1m11 0h1m13 0h1m38 0h1"/><path stroke="#373737" d="M1 .5h1m33 0h1m11 0h1m5 0h1m19 0h1m31 0h1m47 0h1m5 0h1m7 0h1"/><path stroke="#434343" d="M45 .5h1m2 0h1m6 0h1m16 0h1m27 0h1m1 0h1m5 0h1m13 0h1m7 0h1m8 0h1"/><path stroke="#4e4e4e" d="M2 .5h1m38 0h1m25 0h1m12 0h1m7 0h1m26 0h2m48 0h1m6 0h1"/><path stroke="#595959" d="M4 .5h1m22 0h1m4 0h1m35 0h1m30 0h1m1 0h1m5 0h1m2 0h1m69 0h1"/><path stroke="#646464" d="M5 .5h1m11 0h1m8 0h1m12 0h1m16 0h1m49 0h1m19 0h1m20 0h2"/><path stroke="#6f6f6f" d="M50 .5h1m15 0h1m19 0h1m9 0h1m14 0h1m1 0h1m6 0h1m31 0h1m8 0h1m11 0h1"/><path stroke="#7a7a7a" d="M43 .5h1m25 0h1m9 0h1m2 0h1m10 0h1m31 0h1m32 0h1m11 0h1m12 0h1"/><path stroke="#858585" d="M0 .5h1m8 0h1m41 0h1m75 0h1m10 0h1m1 0h1m8 0h2m17 0h1"/><path stroke="#909090" d="M3 .5h1m20 0h1m9 0h1m5 0h1m5 0h1m57 0h1m14 0h1m15 0h1m40 0h1m1 0h1"/><path stroke="#9b9b9b" d="M63 .5h1m7 0h1m11 0h1m6 0h1m4 0h1m27 0h1m7 0h1m28 0h1m18 0h1"/><path stroke="#a6a6a6" d="M12 .5h1m5 0h2m16 0h1m23 0h1m15 0h1m47 0h1m19 0h1m6 0h1"/><path stroke="#b1b1b1" d="M13 .5h1m23 0h1m23 0h1m19 0h1m27 0h1m7 0h1m11 0h1m27 0h1m19 0h1m4 0h1"/><path stroke="#bcbcbc" d="M33 .5h1m18 0h1m22 0h1m8 0h1m2 0h1m9 0h1m14 0h1m21 0h1m21 0h1"/><path stroke="#c8c8c8" d="M14 .5h1m10 0h1m2 0h1m15 0h1m87 0h1m4 0h1m3 0h1m21 0h1m5 0h1"/><path stroke="#d3d3d3" d="M22 .5h2m14 0h1m3 0h1m22 0h1m4 0h1m14 0h1m12 0h1m56 0h1"/><path stroke="#dedede" d="M21 .5h1m8 0h1m18 0h1m41 0h2m28 0h1m6 0h1m7 0h1m38 0h1m8 0h1"/><path stroke="#e9e9e9" d="M20 .5h1m97 0h1m47 0h1"/><path stroke="#f4f4f4" d="M31 .5h1m22 0h1m4 0h1m73 0h1"/><path stroke="#ffffff" d="M11 .5h1m45 0h1"/></g><g id="t15"><rect width="186" height="1" fill="none"/><path stroke="#000000" d="M19 .5h1m67 0h1"/><path stroke="#0b0b0b" d="M39 .5h1m104 0h1m2 0h1m27 0h1"/><path stroke="#161616" d="M21 .5h1m108 0h1m19 0h1"/><path stroke="#212121" d="M2 .5h1m10 0h1m2 0h1m14 0h1m2 0h1m1 0h1m29 0h1m41 0h2m53 0h1"/><path stroke="#2c2c2c" d="M3 .5h1m2 0h1m55 0h1m20 0h1m26 0h1m47 0h1m8 0h2m7 0h1"/><path stroke="#373737" d="M27 .5h1m2 0h1m7 0h1m31 0h1m1 0h2m27 0h1m25 0h1m37 0h1"/><path stroke="#434343" d="M14 .5h1m2 0h1m6 0h1m12 0h1m30 0h1m54 0h1m12 0h1m1 0h1m1 0h1m18 0h1"/><path stroke="#4e4e4e" d="M9 .5h1m38 0h1m5 0h2m46 0h1m11 0h1m4 0h1m49 0h1m1 0h1"/><path stroke="#595959" d="M18 .5h1m45 0h1m21 0h1m10 0h1m1 0h1m6 0h1m6 0h1m28 0h2"/><path stroke="#646464" d="M10 .5h1m12 0h1m20 0h1m5 0h1m6 0h1m34 0h1m58 0h1m4 0h1m27 0h1"/><path stroke="#6f6f6f" d="M8 .5h1m24 0h1m24 0h1m25 0h1m5 0h1m24 0h1m23 0h1m5 0h1m18 0h1m7 0h1"/><path stroke="#7a7a7a" d="M45 .5h1m3 0h1m17 0h1m8 0h1m2 0h1m16 0h1m1 0h1m29 0h1m4 0h1"/><path stroke="#858585" d="M7 .5h1m4 0h1m2 0h1m6 0h1m3 0h1m54 0h1m43 0h1m23 0h1m3 0h1"/><path stroke="#909090" d="M0 .5h1m3 0h1m41 0h1m31 0h1m12 0h1m26 0h1m12 0h1m42 0h1m3 0h1m3 0h1"/><path stroke="#9b9b9b" d="M43 .5h1m30 0h1m20 0h1m9 0h1m1 0h1m9 0h1m4 0h1m6 0h1m5 0h1"/><path stroke="#a6a6a6" d="M59 .5h2m32 0h1m9 0h2m43 0h1m5 0h1m15 0h1m2 0h1"/><path stroke="#b1b1b1" d="M29 .5h1m5 0h1m4 0h1m1 0h1m4 0h1m3 0h1m37 0h1m21 0h1m8 0h1m13 0h1"/><path stroke="#bcbcbc" d="M32 .5h1m19 0h1m3 0h1m8 0h1m11 0h1m10 0h1m43 0h1m4 0h1m3 0h1"/><path stroke="#c8c8c8" d="M53 .5h1m21 0h1m6 0h1m2 0h1m14 0h1m45 0h1m5 0h1m4 0h1m4 0h1"/><path stroke="#d3d3d3" d="M11 .5h1m13 0h1m2 0h1m32 0h1m1 0h1m7 0h1m22 0h1m60 0h1m25 0h1"/><path stroke="#dedede" d="M5 .5h1m74 0h1m31 0h1m8 0h1m2 0h1m35 0h2m15 0h1m2 0h1m2 0h1"/><path stroke="#e9e9e9" d="M20 .5h1m48 0h1m56 0h1"/><path stroke="#f4f4f4" d="M1 .5h1m114 0h1m49 0h1m12 0h1"/><path stroke="#ffffff" d="M41 .5h1m143 0h1"/></g><g id="t16"><rect width="186" height="1" fill="none"/><path stroke="#000000" d="M31 .5h1m63 0h1"/><path stroke="#0b0b0b" d="M76 .5h1m82 0h1m7 0h1m15 0h1"/><path stroke="#161616" d="M102 .5h1m8 0h1m51 0h1"/><path stroke="#212121" d="M41 .5h1m14 0h1m27 0h1m35 0h1m1 0h1m27 0h2m5 0h1m6 0h1m12 0h1"/><path stroke="#2c2c2c" d="M7 .5h1m29 0h1m6 0h1m14 0h1m14 0h1m18 0h1m34 0h1m5 0h1m23 0h1"/><path stroke="#373737" d="M6 .5h1m15 0h1m16 0h1m7 0h1m14 0h1m15 0h1m18 0h1m9 0h1m7 0h1"/><path stroke="#434343" d="M21 .5h1m38 0h1m9 0h1m8 0h1m2 0h1m4 0h1m25 0h1m42 0h1m11 0h1m10 0h1"/><path stroke="#4e4e4e" d="M35 .5h1m32 0h1m32 0h1m2 0h1m20 0h1m4 0h1m8 0h1m5 0h1m27 0h1"/><path stroke="#595959" d="M3 .5h1m1 0h1m13 0h1m16 0h1m34 0h1m5 0h1m7 0h1m37 0h1m46 0h1"/><path stroke="#646464" d="M2 .5h1m43 0h1m10 0h1m30 0h1m27 0h1m10 0h1m18 0h1m31 0h1m1 0h1"/><path stroke="#6f6f6f" d="M4 .5h1m22 0h1m37 0h1m6 0h1m7 0h1m11 0h1m6 0h1m5 0h1m8 0h1m60 0h1"/><path stroke="#7a7a7a" d="M12 .5h1m15 0h1m11 0h1m42 0h1m5 0h1m13 0h1m40 0h1m24 0h1m2 0h1"/><path stroke="#858585" d="M34 .5h1m13 0h1m45 0h1m17 0h1m16 0h1m8 0h1m1 0h1m8 0h1m5 0h1"/><path stroke="#909090" d="M8 .5h1m6 0h1m2 0h1m44 0h1m9 0h1m1 0h1m5 0h1m54 0h1m23 0h1m5 0h1"/><path stroke="#9b9b9b" d="M33 .5h1m4 0h1m12 0h1m12 0h1m26 0h1m4 0h1m74 0h1m2 0h1m6 0h1"/><path stroke="#a6a6a6" d="M17 .5h1m5 0h1m21 0h1m91 0h1m5 0h1m9 0h1m7 0h1m3 0h1m19 0h1"/><path stroke="#b1b1b1" d="M0 .5h2m11 0h1m84 0h1m9 0h1m10 0h1m6 0h1m21 0h1m3 0h1m29 0h1"/><path stroke="#bcbcbc" d="M11 .5h1m8 0h1m22 0h1m9 0h2m35 0h1m18 0h1m7 0h1m23 0h1"/><path stroke="#c8c8c8" d="M25 .5h2m22 0h1m16 0h2m18 0h1m23 0h1m13 0h1m29 0h1"/><path stroke="#d3d3d3" d="M16 .5h1m7 0h1m4 0h1m22 0h1m2 0h1m50 0h1m14 0h1m54 0h1m7 0h1"/><path stroke="#dedede" d="M9 .5h1m22 0h1m9 0h1m7 0h1m7 0h1m41 0h1m32 0h1m8 0h1m4 0h1m14 0h1"/><path stroke="#e9e9e9" d="M118 .5h1m12 0h2"/><path stroke="#f4f4f4" d="M14 .5h1m46 0h1m7 0h1m65 0h1"/><path stroke="#ffffff" d="M10 .5h1m19 0h1"/></g><g id="t17"><rect width="186" height="1" fill="none"/><path stroke="#000000" d="M78 .5h1m88 0h1"/><path stroke="#0b0b0b" d="M4 .5h1m14 0h1m48 0h1m30 0h1"/><path stroke="#161616" d="M106 .5h1m5 0h1m40 0h1"/><path stroke="#212121" d="M34 .5h2m6 0h1m1 0h1m41 0h1m4 0h1m26 0h1m16 0h1m11 0h1m17 0h1"/><path stroke="#2c2c2c" d="M10 .5h1m12 0h1m47 0h1m8 0h1m23 0h1m34 0h2m4 0h1m3 0h1"/><path stroke="#373737" d="M12 .5h1m2 0h1m8 0h1m70 0h1m1 0h1m36 0h1m21 0h2m8 0h1"/><path stroke="#434343" d="M11 .5h1m21 0h1m11 0h1m7 0h1m4 0h1m50 0h1m16 0h1m4 0h1m40 0h1m3 0h1"/><path stroke="#4e4e4e" d="M5 .5h1m66 0h1m41 0h1m6 0h1m2 0h1m30 0h1m5 0h3"/><path stroke="#595959" d="M17 .5h1m8 0h1m2 0h1m8 0h1m16 0h1m40 0h1m13 0h1m49 0h1m9 0h1"/><path stroke="#646464" d="M8 .5h1m21 0h1m9 0h1m15 0h1m22 0h1m2 0h1m4 0h1m45 0h1m44 0h1"/><path stroke="#6f6f6f" d="M6 .5h2m14 0h1m42 0h1m3 0h1m19 0h1m33 0h1m18 0h1m1 0h1m19 0h1"/><path stroke="#7a7a7a" d="M47 .5h1m27 0h2m16 0h1m31 0h1m1 0h1m9 0h1m5 0h1m37 0h1"/><path stroke="#858585" d="M13 .5h1m6 0h1m27 0h1m5 0h1m53 0h1m11 0h1m7 0h1m1 0h1m37 0h1"/><path stroke="#909090" d="M1 .5h1m26 0h1m33 0h1m10 0h2m9 0h1m5 0h1m25 0h1m42 0h1m13 0h1"/><path stroke="#9b9b9b" d="M50 .5h1m12 0h2m16 0h1m19 0h1m1 0h1m50 0h1m20 0h1m1 0h1"/><path stroke="#a6a6a6" d="M0 .5h1m2 0h1m10 0h1m1 0h1m14 0h1m4 0h1m9 0h1m36 0h1m16 0h1"/><path stroke="#b1b1b1" d="M9 .5h1m15 0h1m13 0h1m3 0h1m5 0h1m44 0h1m10 0h1m5 0h1m57 0h1m12 0h1"/><path stroke="#bcbcbc" d="M52 .5h1m39 0h1m29 0h1m9 0h1m15 0h1m2 0h1m6 0h1m21 0h1m4 0h1"/><path stroke="#c8c8c8" d="M2 .5h1m24 0h1m4 0h1m8 0h1m46 0h1m18 0h1m11 0h1m9 0h1m16 0h1"/><path stroke="#d3d3d3" d="M21 .5h1m37 0h1m10 0h1m31 0h1m49 0h1m18 0h1m2 0h1m4 0h1m4 0h1"/><path stroke="#dedede" d="M18 .5h1m32 0h1m8 0h1m37 0h1m14 0h1m1 0h1m20 0h1m1 0h1m2 0h1m41 0h1"/><path stroke="#e9e9e9" d="M37 .5h1m19 0h1m8 0h1"/><path stroke="#f4f4f4" d="M67 .5h1m9 0h1m7 0h1m31 0h1"/><path stroke="#ffffff" d="M61 .5h1m88 0h1"/></g><g id="t18"><rect width="186" height="1" fill="none"/><path stroke="#000000" d="M97 .5h1m43 0h1"/><path stroke="#0b0b0b" d="M7 .5h1m42 0h1m20 0h1m68 0h1"/><path stroke="#161616" d="M113 .5h1m10 0h1m24 0h1"/><path stroke="#212121" d="M13 .5h1m6 0h1m11 0h1m10 0h1m8 0h1m1 0h1m15 0h1m46 0h1m51 0h1m6 0h1"/><path stroke="#2c2c2c" d="M4 .5h1m14 0h1m7 0h1m34 0h1m12 0h1m22 0h1m55 0h1m26 0h1m2 0h1"/><path stroke="#373737" d="M9 .5h1m2 0h1m4 0h1m7 0h1m9 0h1m47 0h1m8 0h1m11 0h1m74 0h1"/><path stroke="#434343" d="M1 .5h2m23 0h1m2 0h2m20 0h1m76 0h1m15 0h1m29 0h1m7 0h1"/><path stroke="#4e4e4e" d="M14 .5h1m8 0h1m60 0h1m1 0h1m1 0h1m21 0h1m21 0h2m24 0h1"/><path stroke="#595959" d="M16 .5h1m27 0h1m12 0h1m24 0h1m32 0h1m5 0h1m58 0h1m2 0h1m1 0h1"/><path stroke="#646464" d="M37 .5h1m1 0h1m15 0h1m46 0h1m6 0h1m1 0h1m8 0h1m5 0h1m12 0h1"/><path stroke="#6f6f6f" d="M0 .5h1m9 0h1m23 0h1m31 0h1m6 0h1m3 0h1m1 0h1m19 0h1m46 0h1m19 0h1"/><path stroke="#7a7a7a" d="M24 .5h1m11 0h1m10 0h2m14 0h1m10 0h1m10 0h1m21 0h1m44 0h1"/><path stroke="#858585" d="M21 .5h1m37 0h1m12 0h1m23 0h1m19 0h1m5 0h1m24 0h1m14 0h1m5 0h1"/><path stroke="#909090" d="M15 .5h1m12 0h1m62 0h1m3 0h1m4 0h1m2 0h1m10 0h1m38 0h1m1 0h1m8 0h1"/><path stroke="#9b9b9b" d="M5 .5h1m2 0h1m29 0h1m19 0h1m21 0h1m49 0h1m5 0h1m23 0h1m14 0h1"/><path stroke="#a6a6a6" d="M11 .5h1m34 0h1m22 0h1m23 0h1m44 0h1m6 0h1m4 0h2m18 0h1"/><path stroke="#b1b1b1" d="M18 .5h1m41 0h1m7 0h1m36 0h2m12 0h1m22 0h2m12 0h1m6 0h1"/><path stroke="#bcbcbc" d="M81 .5h1m7 0h2m10 0h1m16 0h1m16 0h1m25 0h1m10 0h2"/><path stroke="#c8c8c8" d="M3 .5h1m27 0h1m1 0h1m60 0h1m13 0h1m14 0h1m3 0h1m29 0h1m1 0h1"/><path stroke="#d3d3d3" d="M41 .5h2m2 0h1m3 0h1m3 0h1m80 0h1m13 0h1m18 0h1m3 0h1"/><path stroke="#dedede" d="M6 .5h1m49 0h1m7 0h1m2 0h1m8 0h1m48 0h1m5 0h1m5 0h1m39 0h2"/><path stroke="#e9e9e9" d="M40 .5h1m46 0h1m41 0h1"/><path stroke="#f4f4f4" d="M22 .5h1m38 0h1m3 0h1m46 0h1"/><path stroke="#ffffff" d="M78 .5h1m86 0h1"/></g><g id="t19"><rect width="186" height="1" fill="none"/><path stroke="#000000" d="M121 .5h1m10 0h1"/><path stroke="#0b0b0b" d="M15 .5h1m26 0h1m114 0h1m7 0h1"/><path stroke="#161616" d="M26 .5h1m1 0h1m95 0h1"/><path stroke="#212121" d="M5 .5h1m3 0h1m13 0h1m23 0h1m30 0h1m5 0h1m6 0h1m48 0h1m5 0h1m19 0h1"/><path stroke="#2c2c2c" d="M7 .5h1m3 0h1m38 0h1m16 0h1m8 0h1m4 0h1m5 0h1m60 0h1m30 0h1"/><path stroke="#373737" d="M38 .5h1m13 0h1m57 0h1m6 0h1m4 0h1m30 0h1m6 0h1m6 0h1m8 0h1"/><path stroke="#434343" d="M44 .5h1m3 0h1m4 0h1m19 0h1m22 0h1m26 0h1m10 0h1m4 0h1m5 0h1m1 0h1"/><path stroke="#4e4e4e" d="M56 .5h1m22 0h1m8 0h1m9 0h1m1 0h1m1 0h1m3 0h1m51 0h1m11 0h1"/><path stroke="#595959" d="M8 .5h1m23 0h1m31 0h1m18 0h1m11 0h1m40 0h2m24 0h1m11 0h1"/><path stroke="#646464" d="M1 .5h1m56 0h1m40 0h1m1 0h1m3 0h1m27 0h1m16 0h1m18 0h1m14 0h1"/><path stroke="#6f6f6f" d="M3 .5h1m20 0h1m14 0h1m3 0h1m11 0h1m56 0h1m30 0h1m8 0h1m15 0h1m12 0h1"/><path stroke="#7a7a7a" d="M22 .5h1m28 0h1m7 0h1m20 0h1m5 0h1m10 0h1m46 0h1m30 0h1m7 0h1"/><path stroke="#858585" d="M4 .5h1m36 0h1m18 0h1m42 0h1m12 0h1m12 0h1m24 0h1m6 0h1m11 0h1"/><path stroke="#909090" d="M17 .5h1m9 0h1m17 0h1m3 0h1m21 0h1m32 0h1m20 0h1m5 0h1m9 0h1m13 0h1"/><path stroke="#9b9b9b" d="M14 .5h1m4 0h1m20 0h1m5 0h1m21 0h1m16 0h1m28 0h1m20 0h1m23 0h1"/><path stroke="#a6a6a6" d="M0 .5h1m9 0h1m1 0h1m5 0h1m56 0h1m33 0h1m3 0h1m28 0h1m28 0h1"/><path stroke="#b1b1b1" d="M2 .5h1m22 0h1m7 0h1m28 0h1m48 0h1m14 0h1m50 0h2m3 0h1m2 0h1"/><path stroke="#bcbcbc" d="M6 .5h1m24 0h1m22 0h1m8 0h1m1 0h1m23 0h2m37 0h1m43 0h1"/><path stroke="#c8c8c8" d="M16 .5h1m4 0h1m15 0h1m36 0h1m2 0h1m14 0h2m14 0h1m18 0h1"/><path stroke="#d3d3d3" d="M20 .5h1m8 0h1m36 0h1m15 0h1m11 0h1m23 0h2m29 0h1m14 0h1"/><path stroke="#dedede" d="M34 .5h1m1 0h1m20 0h1m62 0h1m9 0h1m7 0h1m12 0h1m4 0h1m6 0h1m16 0h1"/><path stroke="#e9e9e9" d="M35 .5h1m33 0h1m37 0h1"/><path stroke="#f4f4f4" d="M13 .5h1m16 0h1m39 0h1m1 0h1"/><path stroke="#ffffff" d="M61 .5h1m53 0h1"/></g><g id="t20"><rect width="186" height="1" fill="none"/><path stroke="#000000" d="M85 .5h1m38 0h1"/><path stroke="#0b0b0b" d="M88 .5h1m30 0h1m29 0h1m6 0h1"/><path stroke="#161616" d="M91 .5h1m38 0h1m29 0h1"/><path stroke="#212121" d="M18 .5h1m15 0h1m12 0h1m30 0h1m26 0h1m1 0h2m8 0h1m26 0h1m40 0h1"/><path stroke="#2c2c2c" d="M2 .5h1m76 0h1m6 0h1m13 0h1m1 0h1m42 0h1m19 0h1m4 0h1m11 0h1"/><path stroke="#373737" d="M0 .5h1m12 0h1m13 0h1m20 0h1m25 0h1m7 0h1m29 0h1m48 0h1m14 0h1"/><path stroke="#434343" d="M40 .5h1m26 0h2m8 0h1m18 0h1m19 0h1m21 0h1m12 0h1m10 0h1m11 0h1"/><path stroke="#4e4e4e" d="M24 .5h1m4 0h1m73 0h1m16 0h1m36 0h1m13 0h2m4 0h1m1 0h1"/><path stroke="#595959" d="M6 .5h1m21 0h1m1 0h1m5 0h1m22 0h1m63 0h1m8 0h1m8 0h1m10 0h1"/><path stroke="#646464" d="M10 .5h1m22 0h1m8 0h1m2 0h1m18 0h1m8 0h1m6 0h1m61 0h1m24 0h1"/><path stroke="#6f6f6f" d="M1 .5h1m3 0h1m25 0h1m33 0h1m4 0h1m39 0h1m20 0h1m7 0h1m13 0h1m15 0h1"/><path stroke="#7a7a7a" d="M4 .5h1m4 0h1m47 0h1m2 0h1m32 0h1m17 0h1m3 0h1m2 0h1m21 0h1"/><path stroke="#858585" d="M21 .5h2m3 0h1m16 0h1m32 0h1m13 0h1m36 0h1m7 0h1m23 0h1"/><path stroke="#909090" d="M23 .5h1m17 0h1m14 0h1m1 0h1m13 0h1m11 0h1m10 0h1m18 0h1m28 0h1m34 0h1"/><path stroke="#9b9b9b" d="M8 .5h1m7 0h1m21 0h1m16 0h1m27 0h1m66 0h1m3 0h1m11 0h1m16 0h1"/><path stroke="#a6a6a6" d="M17 .5h1m26 0h1m4 0h1m3 0h1m12 0h1m58 0h1m29 0h1m12 0h1m6 0h1"/><path stroke="#b1b1b1" d="M3 .5h1m11 0h1m9 0h1m13 0h1m10 0h1m11 0h1m38 0h1m19 0h2m13 0h1"/><path stroke="#bcbcbc" d="M7 .5h1m24 0h1m21 0h1m14 0h1m17 0h1m21 0h1m3 0h1m12 0h1m19 0h1"/><path stroke="#c8c8c8" d="M46 .5h1m14 0h1m9 0h1m25 0h1m31 0h1m4 0h1m2 0h1m20 0h1m4 0h1"/><path stroke="#d3d3d3" d="M14 .5h1m36 0h1m11 0h1m11 0h1m5 0h1m7 0h1m9 0h1m28 0h1m52 0h1"/><path stroke="#dedede" d="M12 .5h1m22 0h1m1 0h1m14 0h1m41 0h1m9 0h1m28 0h1m13 0h1m25 0h1m10 0h1"/><path stroke="#e9e9e9" d="M92 .5h1m5 0h1m65 0h1"/><path stroke="#f4f4f4" d="M11 .5h1m8 0h1m127 0h1m31 0h1"/><path stroke="#ffffff" d="M19 .5h1m86 0h1"/></g><g id="t21"><rect width="186" height="1" fill="none"/><path stroke="#000000" d="M109 .5h1m39 0h1"/><path stroke="#0b0b0b" d="M48 .5h1m53 0h1m50 0h1m12 0h1"/><path stroke="#161616" d="M18 .5h1m44 0h1m18 0h1"/><path stroke="#212121" d="M14 .5h1m22 0h1m26 0h1m11 0h1m10 0h1m2 0h1m3 0h1m5 0h1m29 0h1m43 0h1"/><path stroke="#2c2c2c" d="M6 .5h1m8 0h1m20 0h1m3 0h1m13 0h1m82 0h1m2 0h1m19 0h1m16 0h1"/><path stroke="#373737" d="M2 .5h1m13 0h2m49 0h1m2 0h1m14 0h1m60 0h1m17 0h1m6 0h1"/><path stroke="#434343" d="M43 .5h1m9 0h1m26 0h1m12 0h1m14 0h1m7 0h1m9 0h2m22 0h1m30 0h1"/><path stroke="#4e4e4e" d="M8 .5h1m11 0h1m8 0h1m31 0h1m4 0h1m14 0h1m2 0h1m34 0h1m60 0h1"/><path stroke="#595959" d="M0 .5h1m22 0h1m10 0h1m11 0h1m24 0h1m11 0h1m2 0h1m42 0h1m13 0h1"/><path stroke="#646464" d="M26 .5h1m12 0h1m7 0h1m10 0h1m13 0h1m40 0h1m56 0h1m5 0h1m6 0h1"/><path stroke="#6f6f6f" d="M22 .5h1m8 0h1m25 0h1m21 0h1m9 0h1m20 0h1m13 0h1m13 0h1m2 0h1m27 0h1"/><path stroke="#7a7a7a" d="M4 .5h1m2 0h1m25 0h1m4 0h1m23 0h1m32 0h1m38 0h1m1 0h1m21 0h1"/><path stroke="#858585" d="M12 .5h1m88 0h1m4 0h2m9 0h1m26 0h2m15 0h1m1 0h1"/><path stroke="#909090" d="M5 .5h1m5 0h1m37 0h1m18 0h1m6 0h1m63 0h1m2 0h1m16 0h1m12 0h2"/><path stroke="#9b9b9b" d="M35 .5h1m20 0h1m47 0h1m9 0h1m3 0h1m4 0h1m23 0h1m6 0h1m29 0h1"/><path stroke="#a6a6a6" d="M19 .5h1m4 0h2m16 0h1m1 0h1m51 0h1m18 0h1m4 0h1m31 0h1"/><path stroke="#b1b1b1" d="M3 .5h1m23 0h1m17 0h1m14 0h1m4 0h1m12 0h1m13 0h1m4 0h1m50 0h1m16 0h1"/><path stroke="#bcbcbc" d="M10 .5h1m2 0h1m63 0h1m13 0h1m30 0h1m2 0h1m6 0h1m24 0h1m10 0h1"/><path stroke="#c8c8c8" d="M32 .5h1m22 0h1m42 0h2m5 0h1m25 0h1m19 0h1m4 0h1m22 0h1"/><path stroke="#d3d3d3" d="M51 .5h2m6 0h1m14 0h1m13 0h1m14 0h1m29 0h1m41 0h1m2 0h1"/><path stroke="#dedede" d="M21 .5h1m6 0h1m1 0h1m38 0h1m42 0h1m8 0h1m6 0h1m6 0h1m19 0h1m26 0h1"/><path stroke="#e9e9e9" d="M1 .5h1m7 0h1m175 0h1"/><path stroke="#f4f4f4" d="M41 .5h1m8 0h1m111 0h1m4 0h1"/><path stroke="#ffffff" d="M73 .5h1m37 0h1"/></g><g id="t22"><rect width="186" height="1" fill="none"/><path stroke="#000000" d="M109 .5h1m48 0h1"/><path stroke="#0b0b0b" d="M112 .5h1m35 0h1m10 0h1m22 0h1"/><path stroke="#161616" d="M9 .5h1m14 0h1m158 0h1"/><path stroke="#212121" d="M1 .5h1m16 0h1m27 0h1m7 0h1m5 0h1m15 0h1m6 0h1m21 0h1m20 0h1m49 0h1"/><path stroke="#2c2c2c" d="M0 .5h1m20 0h1m22 0h1m28 0h1m27 0h1m20 0h1m5 0h1m25 0h1m13 0h1"/><path stroke="#373737" d="M2 .5h1m14 0h1m51 0h1m16 0h1m8 0h2m1 0h1m21 0h1m31 0h1"/><path stroke="#434343" d="M13 .5h1m9 0h1m35 0h1m29 0h1m13 0h2m62 0h1m9 0h1m3 0h1m2 0h1"/><path stroke="#4e4e4e" d="M3 .5h1m25 0h1m1 0h1m35 0h1m22 0h1m19 0h1m31 0h1m18 0h2"/><path stroke="#595959" d="M6 .5h1m12 0h1m21 0h1m13 0h1m7 0h1m1 0h1m14 0h1m79 0h1m2 0h1"/><path stroke="#646464" d="M147 .5h1m2 0h1m6 0h1m7 0h2m3 0h2m7 0h1m5 0h1"/><path stroke="#6f6f6f" d="M27 .5h1m10 0h1m6 0h1m32 0h1m18 0h1m18 0h1m7 0h1m2 0h1m12 0h1m4 0h1"/><path stroke="#7a7a7a" d="M14 .5h1m21 0h1m29 0h1m8 0h1m1 0h1m47 0h1m3 0h1m13 0h1m12 0h1"/><path stroke="#858585" d="M4 .5h1m5 0h1m22 0h2m37 0h1m34 0h1m24 0h1m4 0h1m6 0h1"/><path stroke="#909090" d="M16 .5h1m9 0h1m13 0h1m6 0h1m33 0h1m3 0h1m8 0h1m13 0h1m37 0h1m26 0h1"/><path stroke="#9b9b9b" d="M8 .5h1m41 0h1m7 0h1m11 0h1m16 0h1m35 0h1m7 0h1m6 0h1m33 0h1"/><path stroke="#a6a6a6" d="M20 .5h1m35 0h2m3 0h1m12 0h1m36 0h1m2 0h1m15 0h1m38 0h1"/><path stroke="#b1b1b1" d="M35 .5h1m1 0h1m1 0h1m2 0h2m20 0h1m14 0h1m2 0h1m16 0h1m34 0h1"/><path stroke="#bcbcbc" d="M11 .5h1m13 0h1m4 0h1m22 0h1m52 0h1m28 0h1m17 0h1m21 0h1m4 0h1"/><path stroke="#c8c8c8" d="M5 .5h1m42 0h1m19 0h1m2 0h1m45 0h1m21 0h1m11 0h1m22 0h1m3 0h1"/><path stroke="#d3d3d3" d="M12 .5h1m38 0h1m10 0h1m21 0h1m3 0h1m11 0h1m14 0h1m33 0h1m14 0h1"/><path stroke="#dedede" d="M22 .5h1m5 0h1m23 0h1m38 0h1m10 0h1m15 0h1m14 0h1m2 0h1m4 0h1m13 0h1"/><path stroke="#e9e9e9" d="M7 .5h1m24 0h1m59 0h1"/><path stroke="#f4f4f4" d="M15 .5h1m77 0h1m19 0h1m7 0h1"/><path stroke="#ffffff" d="M49 .5h1m69 0h1"/></g><g id="t23"><rect width="186" height="1" fill="none"/><path stroke="#000000" d="M113 .5h1m45 0h1"/><path stroke="#0b0b0b" d="M90 .5h1m50 0h1m20 0h1m6 0h1"/><path stroke="#161616" d="M21 .5h1m112 0h1m31 0h1"/><path stroke="#212121" d="M4 .5h1m4 0h1m28 0h1m32 0h1m20 0h1m9 0h1m2 0h1m17 0h1m26 0h1m31 0h1"/><path stroke="#2c2c2c" d="M20 .5h1m43 0h1m45 0h1m13 0h1m4 0h1m25 0h1m1 0h1m15 0h1m7 0h1"/><path stroke="#373737" d="M37 .5h1m41 0h1m18 0h1m4 0h1m5 0h1m7 0h1m30 0h1m9 0h1m6 0h1"/><path stroke="#434343" d="M8 .5h1m6 0h1m2 0h1m8 0h1m17 0h1m3 0h1m51 0h1m24 0h1m8 0h1m44 0h1"/><path stroke="#4e4e4e" d="M40 .5h1m17 0h1m4 0h1m6 0h1m9 0h1m12 0h1m31 0h1m21 0h1m3 0h1"/><path stroke="#595959" d="M16 .5h1m31 0h1m45 0h1m2 0h1m14 0h1m6 0h1m12 0h1m21 0h1m29 0h1"/><path stroke="#646464" d="M65 .5h1m3 0h1m13 0h1m16 0h1m29 0h1m6 0h1m25 0h1m15 0h1m5 0h1"/><path stroke="#6f6f6f" d="M11 .5h1m50 0h1m15 0h1m8 0h1m8 0h1m14 0h1m24 0h1m9 0h1m20 0h1m3 0h1"/><path stroke="#7a7a7a" d="M6 .5h1m28 0h1m10 0h1m8 0h1m33 0h1m48 0h1m13 0h1m24 0h1m5 0h1"/><path stroke="#858585" d="M5 .5h1m36 0h1m7 0h1m9 0h1m16 0h1m29 0h1m8 0h1m25 0h1m18 0h1"/><path stroke="#909090" d="M10 .5h1m1 0h1m1 0h1m14 0h1m58 0h1m15 0h1m1 0h1m8 0h1m28 0h1m15 0h1"/><path stroke="#9b9b9b" d="M13 .5h1m9 0h1m20 0h1m21 0h1m6 0h1m12 0h1m12 0h1m39 0h1m35 0h1"/><path stroke="#a6a6a6" d="M26 .5h1m12 0h1m19 0h1m1 0h1m22 0h1m33 0h1m9 0h1m35 0h1m3 0h1"/><path stroke="#b1b1b1" d="M19 .5h1m14 0h1m16 0h1m1 0h1m27 0h1m13 0h1m25 0h1m11 0h1m19 0h1m2 0h1"/><path stroke="#bcbcbc" d="M1 .5h2m30 0h1m34 0h1m5 0h1m1 0h1m66 0h1m26 0h1m5 0h1"/><path stroke="#c8c8c8" d="M3 .5h1m27 0h1m15 0h1m24 0h1m2 0h1m73 0h1m22 0h1m1 0h1m3 0h1"/><path stroke="#d3d3d3" d="M22 .5h1m2 0h1m6 0h1m21 0h1m36 0h1m16 0h1m5 0h1m25 0h1m4 0h1"/><path stroke="#dedede" d="M7 .5h1m16 0h1m16 0h1m1 0h1m8 0h1m14 0h1m52 0h1m1 0h1m4 0h1m3 0h1"/><path stroke="#e9e9e9" d="M28 .5h1m1 0h1m25 0h1"/><path stroke="#f4f4f4" d="M0 .5h1m16 0h1m39 0h1m24 0h1"/><path stroke="#ffffff" d="M36 .5h1m48 0h1"/></g><g id="t24"><rect width="186" height="1" fill="none"/><path stroke="#000000" d="M59 .5h1m119 0h1"/><path stroke="#0b0b0b" d="M15 .5h1m1 0h1m45 0h1m39 0h1"/><path stroke="#161616" d="M82 .5h1m67 0h1m27 0h1"/><path stroke="#212121" d="M66 .5h1m17 0h1m7 0h1m5 0h1m12 0h1m32 0h1m3 0h1m19 0h1m12 0h1m1 0h1"/><path stroke="#2c2c2c" d="M12 .5h1m24 0h2m15 0h1m28 0h1m9 0h1m12 0h1m14 0h2"/><path stroke="#373737" d="M6 .5h1m6 0h1m57 0h1m42 0h1m27 0h2m1 0h1m25 0h1m1 0h1"/><path stroke="#434343" d="M9 .5h1m1 0h1m14 0h1m18 0h1m43 0h1m18 0h1m1 0h1m8 0h1m26 0h1m35 0h1"/><path stroke="#4e4e4e" d="M3 .5h1m32 0h1m23 0h1m1 0h1m9 0h1m3 0h1m8 0h1m8 0h1m82 0h1"/><path stroke="#595959" d="M0 .5h1m6 0h1m42 0h1m16 0h1m37 0h1m6 0h1m39 0h1m6 0h1m5 0h1"/><path stroke="#646464" d="M28 .5h1m32 0h1m13 0h1m11 0h1m13 0h1m16 0h1m7 0h1m4 0h1m37 0h1"/><path stroke="#6f6f6f" d="M2 .5h1m19 0h1m16 0h1m60 0h1m1 0h1m26 0h1m5 0h1m19 0h1m8 0h1m1 0h1"/><path stroke="#7a7a7a" d="M16 .5h1m14 0h1m8 0h1m7 0h1m2 0h1m16 0h1m72 0h1m14 0h1m18 0h1"/><path stroke="#858585" d="M1 .5h1m50 0h1m2 0h1m22 0h1m20 0h1m9 0h1m43 0h1m3 0h1m4 0h1"/><path stroke="#909090" d="M19 .5h1m14 0h1m9 0h1m20 0h1m7 0h1m12 0h1m17 0h1m8 0h1m10 0h1m49 0h1"/><path stroke="#9b9b9b" d="M8 .5h1m34 0h1m13 0h1m57 0h1m9 0h1m10 0h1m12 0h1m22 0h1m3 0h1"/><path stroke="#a6a6a6" d="M20 .5h1m3 0h1m8 0h1m43 0h1m2 0h1m7 0h1m43 0h1m34 0h1m2 0h1"/><path stroke="#b1b1b1" d="M4 .5h1m13 0h1m13 0h1m8 0h1m16 0h1m11 0h1m25 0h1m43 0h1m17 0h1m26 0h1"/><path stroke="#bcbcbc" d="M10 .5h1m3 0h1m15 0h1m18 0h1m41 0h1m3 0h1m24 0h1m9 0h1m16 0h1"/><path stroke="#c8c8c8" d="M25 .5h1m16 0h1m10 0h1m2 0h1m12 0h1m4 0h1m6 0h1m8 0h1m47 0h1"/><path stroke="#d3d3d3" d="M23 .5h1m3 0h1m18 0h1m17 0h1m42 0h1m9 0h1m16 0h1m26 0h1m1 0h1"/><path stroke="#dedede" d="M29 .5h1m17 0h1m31 0h1m17 0h1m18 0h1m6 0h1m9 0h1m5 0h1m20 0h1m23 0h1"/><path stroke="#e9e9e9" d="M5 .5h1m15 0h1m132 0h1"/><path stroke="#f4f4f4" d="M35 .5h1m91 0h1m9 0h1m13 0h1"/><path stroke="#ffffff" d="M128 .5h1m51 0h1"/></g><g id="t25"><rect width="186" height="1" fill="none"/><path stroke="#000000" d="M170 .5h1m8 0h1"/><path stroke="#0b0b0b" d="M6 .5h1m73 0h1m39 0h1m4 0h1"/><path stroke="#161616" d="M75 .5h1m40 0h1m40 0h1"/><path stroke="#212121" d="M43 .5h1m13 0h1m2 0h1m23 0h1m4 0h1m4 0h1m16 0h1m6 0h1m11 0h1m12 0h1"/><path stroke="#2c2c2c" d="M10 .5h1m45 0h1m15 0h1m1 0h1m22 0h1m40 0h1m24 0h1m11 0h1m7 0h1"/><path stroke="#373737" d="M1 .5h1m46 0h1m6 0h1m9 0h1m34 0h1m18 0h1m33 0h1m8 0h1m3 0h1"/><path stroke="#434343" d="M8 .5h1m4 0h1m6 0h1m6 0h1m10 0h1m1 0h1m27 0h1m7 0h1m75 0h1m7 0h1"/><path stroke="#4e4e4e" d="M3 .5h1m10 0h1m18 0h1m33 0h1m38 0h1m19 0h1m1 0h1m7 0h1m22 0h1"/><path stroke="#595959" d="M36 .5h1m4 0h1m16 0h1m10 0h1m16 0h2m19 0h1m15 0h1m34 0h1"/><path stroke="#646464" d="M17 .5h1m11 0h1m1 0h1m29 0h1m1 0h1m31 0h2m35 0h1m12 0h1"/><path stroke="#6f6f6f" d="M11 .5h2m5 0h1m2 0h1m8 0h1m4 0h1m28 0h1m57 0h1m6 0h1m14 0h1"/><path stroke="#7a7a7a" d="M7 .5h1m70 0h1m9 0h1m21 0h1m13 0h1m10 0h1m4 0h2m7 0h1"/><path stroke="#858585" d="M5 .5h1m9 0h1m3 0h1m25 0h1m31 0h1m24 0h1m6 0h1m40 0h1m27 0h1"/><path stroke="#909090" d="M22 .5h1m23 0h2m18 0h1m36 0h2m22 0h1m3 0h1m1 0h1m38 0h1"/><path stroke="#9b9b9b" d="M54 .5h1m15 0h1m8 0h1m34 0h1m22 0h1m18 0h1m4 0h1m7 0h1m11 0h1"/><path stroke="#a6a6a6" d="M16 .5h1m20 0h1m35 0h1m11 0h1m26 0h1m29 0h1m12 0h1m9 0h1m2 0h1"/><path stroke="#b1b1b1" d="M25 .5h1m8 0h1m15 0h1m11 0h1m20 0h1m17 0h1m11 0h1m68 0h1m1 0h2"/><path stroke="#bcbcbc" d="M24 .5h1m7 0h1m18 0h1m30 0h1m9 0h1m5 0h1m6 0h1m15 0h1m55 0h1"/><path stroke="#c8c8c8" d="M0 .5h1m25 0h1m17 0h1m7 0h2m17 0h1m19 0h1m25 0h1m33 0h1"/><path stroke="#d3d3d3" d="M2 .5h1m20 0h1m4 0h1m10 0h1m2 0h1m16 0h1m30 0h1m56 0h1m25 0h1"/><path stroke="#dedede" d="M4 .5h1m76 0h1m11 0h1m14 0h1m6 0h1m18 0h1m4 0h1m14 0h1m16 0h1m2 0h1"/><path stroke="#e9e9e9" d="M49 .5h1m98 0h1m27 0h1"/><path stroke="#f4f4f4" d="M146 .5h1m17 0h1m2 0h1m12 0h1"/><path stroke="#ffffff" d="M9 .5h1m89 0h1"/></g><g id="t26"><rect width="186" height="1" fill="none"/><path stroke="#000000" d="M51 .5h1m25 0h1"/><path stroke="#0b0b0b" d="M2 .5h1m41 0h1m26 0h1m75 0h1"/><path stroke="#161616" d="M11 .5h1m5 0h1m122 0h1"/><path stroke="#212121" d="M4 .5h1m9 0h1m1 0h1m6 0h1m6 0h1m72 0h1m12 0h1m14 0h1m39 0h1m9 0h1"/><path stroke="#2c2c2c" d="M20 .5h1m27 0h1m6 0h1m1 0h1m8 0h1m18 0h1m7 0h1m15 0h1m72 0h1"/><path stroke="#373737" d="M31 .5h1m10 0h1m20 0h1m6 0h1m12 0h1m5 0h1m27 0h1m8 0h1m58 0h1"/><path stroke="#434343" d="M3 .5h1m8 0h2m73 0h1m3 0h1m28 0h1m2 0h1m29 0h2m2 0h1"/><path stroke="#4e4e4e" d="M56 .5h1m11 0h1m6 0h1m10 0h1m8 0h1m54 0h1m1 0h1m11 0h1m5 0h1"/><path stroke="#595959" d="M32 .5h2m26 0h1m18 0h1m17 0h1m21 0h1m23 0h1m25 0h1m7 0h1"/><path stroke="#646464" d="M29 .5h1m42 0h1m8 0h1m47 0h1m16 0h1m1 0h1m14 0h1m12 0h1m7 0h1"/><path stroke="#6f6f6f" d="M19 .5h1m20 0h1m6 0h1m2 0h1m25 0h1m30 0h1m4 0h1m19 0h1m5 0h1m5 0h1"/><path stroke="#7a7a7a" d="M1 .5h1m13 0h1m8 0h1m9 0h1m29 0h1m39 0h1m5 0h1m25 0h2"/><path stroke="#858585" d="M5 .5h2m15 0h1m4 0h1m7 0h1m22 0h1m62 0h1m13 0h1m19 0h1"/><path stroke="#909090" d="M21 .5h1m21 0h1m10 0h1m18 0h1m18 0h1m9 0h1m12 0h1m42 0h1m1 0h1m7 0h1"/><path stroke="#9b9b9b" d="M36 .5h1m22 0h1m22 0h1m5 0h1m11 0h1m10 0h1m18 0h1m42 0h1m9 0h1"/><path stroke="#a6a6a6" d="M39 .5h1m38 0h1m35 0h1m10 0h1m15 0h1m7 0h1m15 0h1m9 0h1m4 0h1"/><path stroke="#b1b1b1" d="M10 .5h1m14 0h1m12 0h1m41 0h1m3 0h1m16 0h1m43 0h1m5 0h1m14 0h1m12 0h1"/><path stroke="#bcbcbc" d="M7 .5h1m44 0h1m9 0h1m27 0h1m14 0h2m11 0h1m5 0h1m31 0h1"/><path stroke="#c8c8c8" d="M9 .5h1m16 0h1m1 0h1m24 0h1m74 0h1m4 0h2m27 0h1m15 0h1"/><path stroke="#d3d3d3" d="M0 .5h1m40 0h1m3 0h2m2 0h1m24 0h1m38 0h1m25 0h1m19 0h1"/><path stroke="#dedede" d="M8 .5h1m52 0h1m3 0h1m3 0h1m26 0h1m1 0h1m28 0h1m33 0h1m5 0h1m4 0h1"/><path stroke="#e9e9e9" d="M18 .5h1m18 0h1m56 0h1"/><path stroke="#f4f4f4" d="M67 .5h1m40 0h1m13 0h1m19 0h1"/><path stroke="#ffffff" d="M99 .5h1m74 0h1"/></g><g id="t27"><rect width="186" height="1" fill="none"/><path stroke="#000000" d="M14 .5h1m101 0h1"/><path stroke="#0b0b0b" d="M13 .5h1m1 0h1m70 0h1m10 0h1"/><path stroke="#161616" d="M16 .5h1m23 0h1m96 0h1"/><path stroke="#212121" d="M5 .5h1m14 0h1m10 0h1m12 0h1m7 0h1m5 0h1m17 0h1m70 0h1m17 0h1m13 0h1"/><path stroke="#2c2c2c" d="M63 .5h1m6 0h1m6 0h1m3 0h1m42 0h1m5 0h1m19 0h1m7 0h1m18 0h1"/><path stroke="#373737" d="M12 .5h1m65 0h2m5 0h1m18 0h1m16 0h1m11 0h1m15 0h1m25 0h1"/><path stroke="#434343" d="M10 .5h1m14 0h1m16 0h1m28 0h1m24 0h1m16 0h1m15 0h1m29 0h1m20 0h2"/><path stroke="#4e4e4e" d="M19 .5h1m2 0h1m1 0h1m9 0h1m77 0h1m22 0h1m15 0h1m11 0h1m18 0h1"/><path stroke="#595959" d="M4 .5h1m82 0h1m4 0h1m5 0h1m21 0h1m33 0h2m1 0h1m8 0h1"/><path stroke="#646464" d="M9 .5h1m26 0h1m47 0h1m5 0h1m16 0h1m35 0h1m25 0h2m14 0h1"/><path stroke="#6f6f6f" d="M2 .5h1m25 0h1m3 0h1m33 0h1m28 0h1m7 0h1m18 0h1m8 0h1m7 0h1m13 0h1"/><path stroke="#7a7a7a" d="M0 .5h1m22 0h1m43 0h1m1 0h1m5 0h1m41 0h1m5 0h1m21 0h1m18 0h1"/><path stroke="#858585" d="M7 .5h1m9 0h1m32 0h2m49 0h1m3 0h1m26 0h1m5 0h1m7 0h1"/><path stroke="#909090" d="M39 .5h1m8 0h1m5 0h1m1 0h1m3 0h1m3 0h1m44 0h1m4 0h1m29 0h1m33 0h1"/><path stroke="#9b9b9b" d="M11 .5h1m18 0h1m12 0h1m39 0h1m22 0h1m4 0h1m14 0h1m29 0h1m27 0h1"/><path stroke="#a6a6a6" d="M27 .5h1m10 0h1m33 0h1m16 0h1m18 0h1m16 0h1m10 0h1m23 0h1m10 0h1"/><path stroke="#b1b1b1" d="M8 .5h1m12 0h1m4 0h1m14 0h1m4 0h1m8 0h1m9 0h1m33 0h1m40 0h1m20 0h1"/><path stroke="#bcbcbc" d="M45 .5h1m3 0h1m18 0h1m22 0h1m1 0h1m21 0h1m25 0h1m6 0h1m25 0h1"/><path stroke="#c8c8c8" d="M3 .5h1m14 0h1m38 0h1m30 0h1m13 0h1m24 0h2m33 0h1m20 0h1"/><path stroke="#d3d3d3" d="M29 .5h1m5 0h1m11 0h1m5 0h1m5 0h1m1 0h2m17 0h1m92 0h1"/><path stroke="#dedede" d="M33 .5h1m39 0h1m8 0h1m17 0h1m9 0h1m7 0h1m15 0h1m7 0h1m24 0h2"/><path stroke="#e9e9e9" d="M152 .5h1m19 0h1m3 0h1"/><path stroke="#f4f4f4" d="M1 .5h1m4 0h1m67 0h1m44 0h1"/><path stroke="#ffffff" d="M37 .5h1m56 0h1"/></g><g id="t28"><rect width="186" height="1" fill="none"/><path stroke="#000000" d="M85 .5h1m30 0h1"/><path stroke="#0b0b0b" d="M32 .5h1m18 0h2m85 0h1"/><path stroke="#161616" d="M3 .5h1m143 0h1m22 0h1"/><path stroke="#212121" d="M2 .5h1m61 0h1m7 0h1m2 0h1m1 0h1m3 0h1m47 0h1m3 0h1m23 0h1m4 0h1"/><path stroke="#2c2c2c" d="M4 .5h1m7 0h1m1 0h1m16 0h1m27 0h1m32 0h1m11 0h1m21 0h1m38 0h1"/><path stroke="#373737" d="M11 .5h1m8 0h1m29 0h1m4 0h1m14 0h1m2 0h1m57 0h1m17 0h1m35 0h1"/><path stroke="#434343" d="M21 .5h1m6 0h1m5 0h1m3 0h1m1 0h1m48 0h1m30 0h1m2 0h1m12 0h1m40 0h1"/><path stroke="#4e4e4e" d="M84 .5h1m12 0h1m8 0h1m46 0h1m2 0h1m1 0h2m9 0h1m11 0h1"/><path stroke="#595959" d="M22 .5h1m31 0h1m8 0h1m2 0h1m4 0h1m82 0h1m8 0h1m16 0h1m3 0h1"/><path stroke="#646464" d="M6 .5h1m22 0h1m3 0h1m10 0h1m34 0h1m44 0h1m12 0h1m10 0h1m12 0h1"/><path stroke="#6f6f6f" d="M60 .5h1m8 0h1m16 0h1m3 0h1m14 0h1m9 0h1m1 0h1m14 0h1m7 0h1m3 0h1"/><path stroke="#7a7a7a" d="M16 .5h1m13 0h1m5 0h1m16 0h1m24 0h1m21 0h1m12 0h1m20 0h1m40 0h1"/><path stroke="#858585" d="M42 .5h1m2 0h1m2 0h1m7 0h1m1 0h1m44 0h1m5 0h1m20 0h1m29 0h1"/><path stroke="#909090" d="M1 .5h1m13 0h1m7 0h1m33 0h1m9 0h2m18 0h1m7 0h1m83 0h1m3 0h1"/><path stroke="#9b9b9b" d="M0 .5h1m12 0h1m32 0h1m15 0h1m33 0h1m14 0h1m2 0h1m10 0h1m26 0h1"/><path stroke="#a6a6a6" d="M25 .5h1m13 0h1m42 0h1m10 0h1m8 0h1m42 0h1m4 0h1m4 0h1m16 0h1"/><path stroke="#b1b1b1" d="M8 .5h1m8 0h1m9 0h1m33 0h1m18 0h1m26 0h1m33 0h1m26 0h1m4 0h1m4 0h1"/><path stroke="#bcbcbc" d="M5 .5h1m1 0h1m80 0h1m2 0h1m36 0h1m6 0h1m28 0h1m6 0h1m2 0h1"/><path stroke="#c8c8c8" d="M26 .5h1m8 0h1m5 0h1m5 0h1m17 0h1m44 0h1m7 0h1m24 0h1m23 0h1"/><path stroke="#d3d3d3" d="M9 .5h1m14 0h1m12 0h1m5 0h1m64 0h1m18 0h1m14 0h1m3 0h1m19 0h1"/><path stroke="#dedede" d="M10 .5h1m65 0h1m6 0h1m14 0h1m20 0h1m1 0h2m16 0h1m11 0h1m30 0h1"/><path stroke="#e9e9e9" d="M18 .5h1m30 0h1m51 0h1"/><path stroke="#f4f4f4" d="M19 .5h1m74 0h1m4 0h1m12 0h1"/><path stroke="#ffffff" d="M74 .5h1m101 0h1"/></g><g id="t29"><rect width="186" height="1" fill="none"/><path stroke="#000000" d="M75 .5h1m40 0h1"/><path stroke="#0b0b0b" d="M13 .5h1m37 0h1m34 0h1m92 0h1"/><path stroke="#161616" d="M9 .5h1m2 0h1m59 0h1"/><path stroke="#212121" d="M2 .5h1m11 0h1m2 0h1m1 0h1m2 0h1m8 0h1m45 0h1m20 0h1m21 0h1m13 0h1"/><path stroke="#2c2c2c" d="M10 .5h1m5 0h1m3 0h1m22 0h1m34 0h1m8 0h1m1 0h1m81 0h2"/><path stroke="#373737" d="M3 .5h1m26 0h1m9 0h1m17 0h1m22 0h1m15 0h1m25 0h1m53 0h1m3 0h1"/><path stroke="#434343" d="M8 .5h1m35 0h1m9 0h2m14 0h2m7 0h1m29 0h1m8 0h1m12 0h1"/><path stroke="#4e4e4e" d="M48 .5h1m11 0h1m23 0h1m16 0h1m57 0h1m3 0h1m6 0h1m3 0h1m7 0h1"/><path stroke="#595959" d="M32 .5h1m1 0h1m50 0h1m4 0h1m1 0h1m2 0h1m7 0h1m41 0h1m1 0h1"/><path stroke="#646464" d="M15 .5h1m36 0h1m11 0h1m26 0h1m13 0h2m14 0h1m2 0h1m30 0h1"/><path stroke="#6f6f6f" d="M5 .5h1m5 0h1m23 0h1m9 0h1m79 0h1m1 0h1m34 0h1m3 0h1m9 0h1m7 0h1"/><path stroke="#7a7a7a" d="M0 .5h1m32 0h1m23 0h1m25 0h1m52 0h1m5 0h1m7 0h1m9 0h1m3 0h1"/><path stroke="#858585" d="M21 .5h1m1 0h2m25 0h1m17 0h1m13 0h1m5 0h1m40 0h1m2 0h1"/><path stroke="#909090" d="M65 .5h1m27 0h1m5 0h1m11 0h1m5 0h1m10 0h1m12 0h1m1 0h2m33 0h1"/><path stroke="#9b9b9b" d="M4 .5h1m24 0h1m6 0h1m10 0h1m28 0h1m30 0h1m38 0h1m11 0h1m9 0h1"/><path stroke="#a6a6a6" d="M6 .5h2m54 0h1m37 0h1m12 0h1m24 0h1m10 0h1m19 0h1m5 0h1"/><path stroke="#b1b1b1" d="M28 .5h1m20 0h1m3 0h1m5 0h1m6 0h1m2 0h1m82 0h1m12 0h1m1 0h1m5 0h1"/><path stroke="#bcbcbc" d="M25 .5h1m11 0h1m3 0h2m3 0h1m33 0h1m34 0h1m17 0h1m6 0h1"/><path stroke="#c8c8c8" d="M39 .5h1m23 0h1m46 0h1m1 0h1m24 0h1m13 0h1m1 0h1m3 0h1m27 0h1"/><path stroke="#d3d3d3" d="M1 .5h1m59 0h1m34 0h1m7 0h1m9 0h1m4 0h1m15 0h1m12 0h1m7 0h1"/><path stroke="#dedede" d="M38 .5h1m17 0h1m10 0h1m5 0h1m28 0h1m19 0h1m7 0h1m8 0h1m14 0h1m25 0h1"/><path stroke="#e9e9e9" d="M27 .5h1m133 0h1m21 0h1"/><path stroke="#f4f4f4" d="M18 .5h1m55 0h1m19 0h1m13 0h1"/><path stroke="#ffffff" d="M26 .5h1m99 0h1"/></g><g id="t30"><rect width="186" height="1" fill="none"/><path stroke="#000000" d="M13 .5h1m133 0h1"/><path stroke="#0b0b0b" d="M51 .5h1m24 0h1m36 0h1m67 0h1"/><path stroke="#161616" d="M70 .5h1m94 0h1m18 0h1"/><path stroke="#212121" d="M16 .5h1m2 0h1m35 0h1m15 0h1m12 0h1m1 0h2m21 0h1m6 0h1m28 0h1"/><path stroke="#2c2c2c" d="M30 .5h1m17 0h1m18 0h1m7 0h1m3 0h1m2 0h1m14 0h1m32 0h1m49 0h1"/><path stroke="#373737" d="M12 .5h1m1 0h1m29 0h1m36 0h1m9 0h1m30 0h1m6 0h1m42 0h1m9 0h1"/><path stroke="#434343" d="M3 .5h1m25 0h1m60 0h1m4 0h2m6 0h1m13 0h1m22 0h1m25 0h1m4 0h1"/><path stroke="#4e4e4e" d="M9 .5h1m58 0h1m35 0h1m18 0h1m9 0h1m1 0h1m10 0h1m3 0h1m12 0h1"/><path stroke="#595959" d="M17 .5h1m9 0h1m50 0h1m45 0h1m11 0h2m4 0h1m12 0h1m17 0h1"/><path stroke="#646464" d="M34 .5h1m15 0h1m11 0h1m6 0h1m15 0h1m13 0h1m31 0h1m6 0h1m36 0h1"/><path stroke="#6f6f6f" d="M2 .5h1m3 0h1m13 0h1m36 0h1m19 0h1m14 0h1m60 0h1m3 0h1m11 0h1m15 0h1"/><path stroke="#7a7a7a" d="M0 .5h1m10 0h1m11 0h1m7 0h1m24 0h1m44 0h1m9 0h1m46 0h1m18 0h1"/><path stroke="#858585" d="M7 .5h1m16 0h1m12 0h1m69 0h1m17 0h1m8 0h1m13 0h1m11 0h1m6 0h1"/><path stroke="#909090" d="M4 .5h2m20 0h1m22 0h1m2 0h1m19 0h1m10 0h1m22 0h1m13 0h1m35 0h1"/><path stroke="#9b9b9b" d="M38 .5h1m6 0h1m12 0h1m4 0h2m50 0h1m38 0h1m9 0h1m5 0h1"/><path stroke="#a6a6a6" d="M22 .5h1m2 0h1m6 0h1m2 0h1m6 0h1m17 0h1m5 0h1m54 0h1m21 0h1"/><path stroke="#b1b1b1" d="M33 .5h1m6 0h1m52 0h1m14 0h1m23 0h1m28 0h2m15 0h2m3 0h1"/><path stroke="#bcbcbc" d="M15 .5h1m5 0h1m14 0h1m22 0h1m5 0h1m23 0h1m10 0h1m17 0h1m7 0h1"/><path stroke="#c8c8c8" d="M1 .5h1m8 0h1m28 0h1m33 0h1m6 0h1m7 0h1m62 0h1m7 0h1m16 0h1"/><path stroke="#d3d3d3" d="M8 .5h1m19 0h1m18 0h1m5 0h2m43 0h1m11 0h1m8 0h1m21 0h1"/><path stroke="#dedede" d="M41 .5h1m19 0h1m40 0h1m2 0h1m6 0h1m14 0h2m15 0h1m23 0h1m5 0h1"/><path stroke="#e9e9e9" d="M43 .5h1m70 0h1m37 0h1"/><path stroke="#f4f4f4" d="M18 .5h1m75 0h1m44 0h1m9 0h1"/><path stroke="#ffffff" d="M46 .5h1m27 0h1"/></g><g id="t31"><rect width="186" height="1" fill="none"/><path stroke="#000000" d="M116 .5h1m13 0h1"/><path stroke="#0b0b0b" d="M163 .5h1m5 0h1m5 0h1m6 0h1"/><path stroke="#161616" d="M19 .5h1m31 0h1m127 0h1"/><path stroke="#212121" d="M32 .5h1m15 0h1m36 0h1m20 0h2m21 0h1m1 0h1m38 0h1m1 0h1m4 0h1"/><path stroke="#2c2c2c" d="M16 .5h1m3 0h1m12 0h1m35 0h1m18 0h1m3 0h1m40 0h1m18 0h1m5 0h1"/><path stroke="#373737" d="M3 .5h1m36 0h1m9 0h1m27 0h1m5 0h1m25 0h1m9 0h1m11 0h1m11 0h1"/><path stroke="#434343" d="M6 .5h1m7 0h1m16 0h1m38 0h1m4 0h1m10 0h1m47 0h1m12 0h2m16 0h1"/><path stroke="#4e4e4e" d="M38 .5h1m3 0h1m23 0h1m1 0h1m12 0h1m19 0h1m11 0h1m9 0h1m42 0h1"/><path stroke="#595959" d="M28 .5h1m6 0h1m40 0h2m4 0h1m12 0h1m30 0h1m11 0h1m15 0h1"/><path stroke="#646464" d="M2 .5h1m33 0h1m7 0h1m54 0h1m9 0h1m8 0h1m2 0h1m2 0h1m49 0h1"/><path stroke="#6f6f6f" d="M43 .5h1m11 0h2m17 0h1m4 0h1m9 0h1m8 0h1m38 0h1m19 0h1m26 0h1"/><path stroke="#7a7a7a" d="M24 .5h1m2 0h1m24 0h1m1 0h1m2 0h1m5 0h1m1 0h1m38 0h1m68 0h1"/><path stroke="#858585" d="M9 .5h1m12 0h1m48 0h1m24 0h2m19 0h1m27 0h1m5 0h1m4 0h1"/><path stroke="#909090" d="M8 .5h1m2 0h1m3 0h1m30 0h1m44 0h1m23 0h1m6 0h1m2 0h1m17 0h1m6 0h1"/><path stroke="#9b9b9b" d="M5 .5h1m23 0h1m23 0h1m4 0h1m1 0h1m22 0h1m19 0h1m77 0h1m3 0h1"/><path stroke="#a6a6a6" d="M12 .5h1m4 0h1m16 0h1m27 0h1m24 0h1m20 0h1m2 0h1m2 0h1m49 0h1"/><path stroke="#b1b1b1" d="M4 .5h1m32 0h1m42 0h1m9 0h1m2 0h1m8 0h1m33 0h1m24 0h1m5 0h1m8 0h1"/><path stroke="#bcbcbc" d="M10 .5h1m30 0h1m30 0h1m39 0h1m15 0h1m6 0h1m10 0h1m15 0h1m5 0h1"/><path stroke="#c8c8c8" d="M0 .5h1m22 0h1m6 0h1m14 0h1m1 0h1m57 0h1m43 0h1m3 0h1m26 0h1"/><path stroke="#d3d3d3" d="M1 .5h1m5 0h1m31 0h1m9 0h1m92 0h1m12 0h1m4 0h1m10 0h1m11 0h1"/><path stroke="#dedede" d="M13 .5h1m47 0h1m2 0h1m2 0h1m5 0h1m26 0h1m26 0h1m12 0h2m36 0h1"/><path stroke="#e9e9e9" d="M25 .5h2m132 0h1"/><path stroke="#f4f4f4" d="M18 .5h1m2 0h1m37 0h1m59 0h1"/><path stroke="#ffffff" d="M94 .5h1m44 0h1"/></g><g id="t32"><rect width="186" height="1" fill="none"/><path stroke="#000000" d="M14 .5h1m101 0h1"/><path stroke="#0b0b0b" d="M58 .5h1m18 0h1m25 0h1m2 0h1"/><path stroke="#161616" d="M85 .5h1m54 0h1m24 0h1"/><path stroke="#212121" d="M2 .5h1m17 0h1m51 0h1m14 0h1m11 0h1m37 0h1m9 0h1m18 0h1m12 0h1m2 0h1"/><path stroke="#2c2c2c" d="M13 .5h1m2 0h1m28 0h1m2 0h1m4 0h1m35 0h1m14 0h1m27 0h1m21 0h1"/><path stroke="#373737" d="M19 .5h1m12 0h1m11 0h1m30 0h1m16 0h1m20 0h1m6 0h1m3 0h1m39 0h1"/><path stroke="#434343" d="M3 .5h1m30 0h2m35 0h1m12 0h1m1 0h1m10 0h1m40 0h1m12 0h1m6 0h1"/><path stroke="#4e4e4e" d="M4 .5h1m38 0h1m6 0h1m15 0h1m1 0h1m4 0h1m16 0h1m45 0h1m39 0h1"/><path stroke="#595959" d="M23 .5h1m22 0h1m33 0h1m15 0h1m20 0h1m13 0h1m21 0h1m23 0h1m3 0h1"/><path stroke="#646464" d="M47 .5h1m8 0h1m4 0h1m33 0h1m11 0h1m1 0h1m15 0h1m36 0h1m8 0h1"/><path stroke="#6f6f6f" d="M29 .5h1m10 0h1m29 0h1m7 0h2m13 0h1m8 0h1m7 0h1m19 0h1m18 0h1"/><path stroke="#7a7a7a" d="M6 .5h1m8 0h1m35 0h1m10 0h1m37 0h1m34 0h1m7 0h1m16 0h1m9 0h1"/><path stroke="#858585" d="M9 .5h1m32 0h1m12 0h1m3 0h1m3 0h1m12 0h1m68 0h1m23 0h1m14 0h1"/><path stroke="#909090" d="M8 .5h1m8 0h1m3 0h2m34 0h1m23 0h1m19 0h1m9 0h1m11 0h1m33 0h1"/><path stroke="#9b9b9b" d="M39 .5h1m9 0h1m33 0h1m37 0h1m20 0h1m3 0h1m14 0h1m5 0h1m17 0h1"/><path stroke="#a6a6a6" d="M11 .5h1m16 0h1m36 0h1m22 0h1m16 0h1m20 0h1m14 0h1m26 0h1m11 0h1"/><path stroke="#b1b1b1" d="M31 .5h1m9 0h1m40 0h1m8 0h1m36 0h1m5 0h1m9 0h1m7 0h1m2 0h2"/><path stroke="#bcbcbc" d="M10 .5h1m1 0h1m51 0h1m33 0h1m13 0h1m20 0h1m14 0h1m1 0h1m8 0h1"/><path stroke="#c8c8c8" d="M24 .5h1m42 0h1m6 0h1m33 0h1m9 0h1m3 0h1m4 0h1m35 0h1m8 0h1"/><path stroke="#d3d3d3" d="M5 .5h1m1 0h1m25 0h1m2 0h1m17 0h1m5 0h1m54 0h1m13 0h1m9 0h1"/><path stroke="#dedede" d="M0 .5h2m24 0h2m2 0h1m7 0h1m13 0h1m41 0h1m79 0h2"/><path stroke="#e9e9e9" d="M37 .5h1m140 0h1m4 0h1"/><path stroke="#f4f4f4" d="M25 .5h1m43 0h1m49 0h1m53 0h1"/><path stroke="#ffffff" d="M18 .5h1m95 0h1"/></g><g id="t33"><rect width="186" height="1" fill="none"/><path stroke="#000000" d="M103 .5h1m12 0h1"/><path stroke="#0b0b0b" d="M19 .5h1m11 0h1m134 0h1m15 0h1"/><path stroke="#161616" d="M16 .5h1m25 0h1m126 0h1"/><path stroke="#212121" d="M4 .5h1m8 0h1m57 0h1m1 0h1m12 0h1m19 0h1m17 0h1m11 0h1m31 0h1m12 0h1"/><path stroke="#2c2c2c" d="M22 .5h1m21 0h1m3 0h1m11 0h1m15 0h1m18 0h1m42 0h1m21 0h1m2 0h1"/><path stroke="#373737" d="M14 .5h1m5 0h1m9 0h1m20 0h1m18 0h1m10 0h1m2 0h1m5 0h1m93 0h1"/><path stroke="#434343" d="M10 .5h1m1 0h1m30 0h1m8 0h1m39 0h1m14 0h1m5 0h1m5 0h1m24 0h1m12 0h1"/><path stroke="#4e4e4e" d="M15 .5h1m11 0h1m11 0h1m14 0h2m32 0h1m9 0h1m21 0h1m9 0h1"/><path stroke="#595959" d="M9 .5h1m11 0h1m6 0h1m36 0h1m16 0h1m2 0h1m11 0h1m34 0h1m32 0h1"/><path stroke="#646464" d="M8 .5h1m41 0h1m86 0h1m3 0h1m5 0h1m2 0h1m7 0h1m11 0h1m8 0h1"/><path stroke="#6f6f6f" d="M2 .5h1m4 0h1m32 0h1m28 0h1m2 0h1m23 0h1m24 0h1m11 0h1m15 0h1m24 0h1"/><path stroke="#7a7a7a" d="M11 .5h1m12 0h1m7 0h1m33 0h1m22 0h1m15 0h1m8 0h1m47 0h1m12 0h1"/><path stroke="#858585" d="M0 .5h1m4 0h1m27 0h2m45 0h1m53 0h1m7 0h2m23 0h1"/><path stroke="#909090" d="M26 .5h1m29 0h1m18 0h1m1 0h1m23 0h1m29 0h1m16 0h1m4 0h1m17 0h1m5 0h1"/><path stroke="#9b9b9b" d="M6 .5h1m72 0h1m7 0h1m5 0h1m23 0h1m36 0h1m6 0h1m2 0h1m11 0h1"/><path stroke="#a6a6a6" d="M1 .5h1m27 0h1m17 0h1m9 0h1m53 0h1m3 0h1m12 0h2m55 0h1"/><path stroke="#b1b1b1" d="M25 .5h1m19 0h2m11 0h2m8 0h1m33 0h1m20 0h1m16 0h1m31 0h1"/><path stroke="#bcbcbc" d="M3 .5h1m45 0h1m33 0h1m16 0h1m8 0h1m12 0h1m22 0h1m5 0h1m28 0h1"/><path stroke="#c8c8c8" d="M18 .5h1m16 0h1m5 0h1m22 0h1m2 0h1m36 0h1m5 0h1m15 0h1m51 0h1"/><path stroke="#d3d3d3" d="M17 .5h1m5 0h1m14 0h1m24 0h1m27 0h1m16 0h1m26 0h1m23 0h1m23 0h1"/><path stroke="#dedede" d="M37 .5h1m15 0h1m8 0h1m11 0h1m3 0h1m39 0h1m20 0h1m6 0h1m8 0h1m17 0h1"/><path stroke="#e9e9e9" d="M61 .5h1m37 0h1m12 0h1"/><path stroke="#f4f4f4" d="M36 .5h1m88 0h1m26 0h1m3 0h1"/><path stroke="#ffffff" d="M94 .5h1m32 0h1"/></g><g id="t34"><rect width="186" height="1" fill="none"/><path stroke="#000000" d="M179 .5h1m2 0h1"/><path stroke="#0b0b0b" d="M66 .5h1m49 0h1m6 0h1m6 0h1"/><path stroke="#161616" d="M55 .5h1m25 0h1m80 0h1"/><path stroke="#212121" d="M16 .5h1m6 0h1m7 0h1m10 0h1m34 0h1m28 0h1m2 0h1m37 0h1m1 0h1m34 0h1"/><path stroke="#2c2c2c" d="M15 .5h1m4 0h1m4 0h1m14 0h1m3 0h1m26 0h1m19 0h1m23 0h1m48 0h1"/><path stroke="#373737" d="M0 .5h1m32 0h1m1 0h1m88 0h1m11 0h2m27 0h1m10 0h1m8 0h1"/><path stroke="#434343" d="M5 .5h1m6 0h1m1 0h1m4 0h1m2 0h1m7 0h1m32 0h1m9 0h1m4 0h1m49 0h1"/><path stroke="#4e4e4e" d="M13 .5h1m3 0h1m18 0h1m14 0h1m18 0h1m24 0h1m9 0h1m60 0h1m8 0h1"/><path stroke="#595959" d="M11 .5h1m26 0h1m28 0h1m21 0h1m2 0h1m7 0h1m10 0h1m51 0h1m6 0h1"/><path stroke="#646464" d="M9 .5h1m38 0h1m3 0h1m4 0h1m27 0h2m55 0h1m14 0h1m11 0h1"/><path stroke="#6f6f6f" d="M26 .5h1m18 0h1m4 0h1m21 0h1m30 0h1m14 0h1m1 0h1m24 0h1m31 0h1m5 0h1"/><path stroke="#7a7a7a" d="M29 .5h1m28 0h2m5 0h1m21 0h1m16 0h1m17 0h1m21 0h1m7 0h1"/><path stroke="#858585" d="M1 .5h3m17 0h1m27 0h1m19 0h1m61 0h1m36 0h1m12 0h1"/><path stroke="#909090" d="M4 .5h1m1 0h1m49 0h1m19 0h1m7 0h1m3 0h1m24 0h1m11 0h1m32 0h1m12 0h1"/><path stroke="#9b9b9b" d="M27 .5h1m13 0h1m12 0h1m5 0h2m17 0h1m27 0h1m26 0h1m37 0h1"/><path stroke="#a6a6a6" d="M10 .5h1m17 0h1m24 0h1m36 0h1m6 0h1m28 0h1m5 0h1m13 0h1m26 0h1"/><path stroke="#b1b1b1" d="M39 .5h1m28 0h1m6 0h1m4 0h1m29 0h1m1 0h1m6 0h1m1 0h1m7 0h1m3 0h1"/><path stroke="#bcbcbc" d="M32 .5h1m50 0h1m14 0h1m3 0h1m14 0h1m17 0h1m12 0h1m6 0h1m22 0h1"/><path stroke="#c8c8c8" d="M7 .5h1m35 0h1m2 0h1m35 0h1m18 0h1m6 0h1m18 0h1m10 0h1m12 0h1"/><path stroke="#d3d3d3" d="M24 .5h1m12 0h1m26 0h1m49 0h1m25 0h1m12 0h2m5 0h1m6 0h1"/><path stroke="#dedede" d="M8 .5h1m53 0h1m30 0h1m47 0h1m8 0h1m5 0h1m2 0h1m1 0h1m12 0h1m5 0h1"/><path stroke="#e9e9e9" d="M18 .5h1m15 0h1m12 0h1"/><path stroke="#f4f4f4" d="M96 .5h1m2 0h1m39 0h1m3 0h1"/><path stroke="#ffffff" d="M74 .5h1m19 0h1"/></g><g id="t35"><rect width="186" height="1" fill="none"/><path stroke="#000000" d="M116 .5h1m53 0h1"/><path stroke="#0b0b0b" d="M3 .5h1m73 0h1m8 0h1m71 0h1"/><path stroke="#161616" d="M6 .5h1m21 0h1m74 0h1"/><path stroke="#212121" d="M14 .5h3m3 0h1m19 0h1m7 0h1m2 0h1m59 0h1m11 0h1m6 0h1"/><path stroke="#2c2c2c" d="M9 .5h1m32 0h1m17 0h1m2 0h2m14 0h1m24 0h1m15 0h1m8 0h1"/><path stroke="#373737" d="M29 .5h1m40 0h1m5 0h1m1 0h1m6 0h1m9 0h1m25 0h1m22 0h1m40 0h1"/><path stroke="#434343" d="M0 .5h1m3 0h1m51 0h1m14 0h1m1 0h1m15 0h2m45 0h1m20 0h1m24 0h1"/><path stroke="#4e4e4e" d="M55 .5h1m5 0h1m5 0h1m49 0h1m19 0h1m17 0h1m9 0h2m17 0h1"/><path stroke="#595959" d="M22 .5h1m1 0h1m14 0h1m4 0h2m6 0h1m57 0h1m27 0h1m8 0h1"/><path stroke="#646464" d="M19 .5h1m10 0h1m22 0h1m5 0h1m2 0h1m25 0h1m46 0h1m14 0h1m18 0h1"/><path stroke="#6f6f6f" d="M43 .5h1m10 0h1m13 0h1m3 0h1m27 0h1m21 0h1m8 0h1m2 0h1m27 0h1m5 0h1"/><path stroke="#7a7a7a" d="M12 .5h1m10 0h1m81 0h1m6 0h1m2 0h1m8 0h1m38 0h1m7 0h1m2 0h1"/><path stroke="#858585" d="M2 .5h1m14 0h1m9 0h1m10 0h1m11 0h1m30 0h1m10 0h1m4 0h1m9 0h1"/><path stroke="#909090" d="M32 .5h1m24 0h1m8 0h1m17 0h1m2 0h1m44 0h1m7 0h1m19 0h1m14 0h1m4 0h1"/><path stroke="#9b9b9b" d="M1 .5h1m6 0h1m16 0h1m67 0h1m2 0h1m28 0h1m27 0h1m10 0h1m14 0h1"/><path stroke="#a6a6a6" d="M5 .5h1m1 0h1m3 0h1m57 0h1m10 0h1m17 0h1m14 0h1m38 0h1m19 0h1"/><path stroke="#b1b1b1" d="M31 .5h1m33 0h1m16 0h1m11 0h1m4 0h1m26 0h1m1 0h1m14 0h1m1 0h1m37 0h1"/><path stroke="#bcbcbc" d="M10 .5h1m24 0h1m11 0h1m53 0h1m4 0h1m11 0h1m8 0h1m21 0h1m26 0h1"/><path stroke="#c8c8c8" d="M13 .5h1m27 0h1m7 0h1m8 0h1m16 0h1m33 0h1m51 0h1m11 0h1m7 0h1"/><path stroke="#d3d3d3" d="M21 .5h1m14 0h1m71 0h1m24 0h1m5 0h1m1 0h1m6 0h1m2 0h1m26 0h1"/><path stroke="#dedede" d="M33 .5h2m56 0h1m22 0h1m27 0h1m3 0h1m7 0h1m4 0h1m7 0h1m9 0h1"/><path stroke="#e9e9e9" d="M83 .5h1m35 0h1m36 0h1"/><path stroke="#f4f4f4" d="M26 .5h1m10 0h1m8 0h1m27 0h1"/><path stroke="#ffffff" d="M18 .5h1m83 0h1"/></g><g id="t36"><rect width="186" height="1" fill="none"/><path stroke="#000000" d="M48 .5h1m21 0h1"/><path stroke="#0b0b0b" d="M50 .5h1m4 0h1m25 0h1m13 0h1"/><path stroke="#161616" d="M75 .5h1m10 0h1m77 0h1"/><path stroke="#212121" d="M16 .5h1m12 0h1m21 0h1m39 0h1m24 0h1m4 0h1m8 0h1m5 0h1m10 0h1m29 0h1"/><path stroke="#2c2c2c" d="M2 .5h1m10 0h2m4 0h1m49 0h1m9 0h1m4 0h1m22 0h1m55 0h1"/><path stroke="#373737" d="M20 .5h1m23 0h1m18 0h1m28 0h1m5 0h1m4 0h1m6 0h1m37 0h1m30 0h1"/><path stroke="#434343" d="M4 .5h1m7 0h1m47 0h1m7 0h1m8 0h1m28 0h1m47 0h1m2 0h2m10 0h1"/><path stroke="#4e4e4e" d="M0 .5h1m46 0h1m23 0h1m17 0h1m7 0h1m7 0h1m32 0h1m11 0h1m31 0h1"/><path stroke="#595959" d="M32 .5h1m5 0h1m28 0h1m10 0h1m52 0h1m13 0h2m15 0h1m8 0h1"/><path stroke="#646464" d="M24 .5h1m6 0h1m20 0h1m13 0h1m5 0h1m42 0h1m28 0h1m36 0h1m1 0h1"/><path stroke="#6f6f6f" d="M7 .5h1m29 0h1m4 0h1m21 0h1m63 0h2m2 0h3m5 0h1"/><path stroke="#7a7a7a" d="M11 .5h1m9 0h1m3 0h1m2 0h1m4 0h1m6 0h1m35 0h1m34 0h1m37 0h1"/><path stroke="#858585" d="M17 .5h1m27 0h1m34 0h1m4 0h1m1 0h1m5 0h1m32 0h1m25 0h1m31 0h1"/><path stroke="#909090" d="M9 .5h1m12 0h1m30 0h1m2 0h1m17 0h1m19 0h1m9 0h1m32 0h1m17 0h1m14 0h1"/><path stroke="#9b9b9b" d="M6 .5h1m28 0h2m2 0h1m48 0h1m35 0h1m18 0h1m23 0h1m8 0h1"/><path stroke="#a6a6a6" d="M1 .5h1m8 0h1m7 0h1m8 0h1m62 0h1m36 0h1m25 0h1m11 0h1m9 0h1"/><path stroke="#b1b1b1" d="M83 .5h1m12 0h1m4 0h2m11 0h1m8 0h1m1 0h1m9 0h1m5 0h1m17 0h1"/><path stroke="#bcbcbc" d="M8 .5h1m21 0h1m23 0h1m2 0h1m4 0h1m36 0h1m9 0h1m10 0h1m40 0h1"/><path stroke="#c8c8c8" d="M3 .5h1m19 0h1m19 0h1m29 0h1m44 0h1m41 0h1m5 0h1m1 0h1m3 0h1"/><path stroke="#d3d3d3" d="M34 .5h1m6 0h1m4 0h1m53 0h1m12 0h1m28 0h1m31 0h1m3 0h1m6 0h1"/><path stroke="#dedede" d="M15 .5h1m42 0h2m1 0h1m3 0h1m16 0h1m25 0h1m10 0h1m2 0h1m50 0h1"/><path stroke="#e9e9e9" d="M5 .5h1m145 0h1m4 0h1"/><path stroke="#f4f4f4" d="M26 .5h1m85 0h1m26 0h1m40 0h1"/><path stroke="#ffffff" d="M49 .5h1m67 0h1"/></g><g id="t37"><rect width="186" height="1" fill="none"/><path stroke="#000000" d="M70 .5h1m4 0h1"/><path stroke="#0b0b0b" d="M50 .5h2m20 0h1m96 0h1"/><path stroke="#161616" d="M14 .5h1m14 0h1m151 0h1"/><path stroke="#212121" d="M13 .5h1m34 0h1m6 0h1m25 0h1m34 0h1m13 0h1m14 0h1m17 0h1m2 0h1m10 0h1"/><path stroke="#2c2c2c" d="M20 .5h1m2 0h1m68 0h1m10 0h1m3 0h1m7 0h1m24 0h1m21 0h1m16 0h1"/><path stroke="#373737" d="M16 .5h1m22 0h1m12 0h1m23 0h2m5 0h1m1 0h1m15 0h1m29 0h1"/><path stroke="#434343" d="M22 .5h1m21 0h2m41 0h1m32 0h1m16 0h1m8 0h2m17 0h1m4 0h1"/><path stroke="#4e4e4e" d="M4 .5h1m27 0h1m53 0h1m8 0h1m25 0h1m12 0h1m1 0h1m24 0h1m22 0h1"/><path stroke="#595959" d="M8 .5h1m3 0h1m11 0h1m2 0h1m56 0h1m4 0h1m58 0h1m29 0h1m3 0h1"/><path stroke="#646464" d="M21 .5h1m12 0h1m5 0h1m6 0h1m12 0h1m29 0h2m31 0h1m27 0h1"/><path stroke="#6f6f6f" d="M11 .5h1m7 0h1m11 0h1m9 0h1m1 0h1m15 0h1m33 0h1m44 0h1m13 0h1m4 0h1"/><path stroke="#7a7a7a" d="M9 .5h1m5 0h1m40 0h1m6 0h1m7 0h1m24 0h1m15 0h2m21 0h1"/><path stroke="#858585" d="M3 .5h1m1 0h1m30 0h1m42 0h1m2 0h1m21 0h1m36 0h1m16 0h1m12 0h1"/><path stroke="#909090" d="M2 .5h1m4 0h1m22 0h1m18 0h1m38 0h1m25 0h1m13 0h2m24 0h2"/><path stroke="#9b9b9b" d="M38 .5h1m58 0h1m4 0h1m7 0h1m14 0h1m18 0h1m8 0h1m6 0h1m6 0h1"/><path stroke="#a6a6a6" d="M25 .5h1m39 0h1m33 0h1m5 0h1m5 0h1m20 0h1m16 0h1m14 0h1m9 0h1"/><path stroke="#b1b1b1" d="M0 .5h1m9 0h1m6 0h1m88 0h1m2 0h1m9 0h1m4 0h1m2 0h1m31 0h1m20 0h1"/><path stroke="#bcbcbc" d="M54 .5h1m2 0h2m2 0h2m4 0h1m30 0h1m34 0h1m39 0h1"/><path stroke="#c8c8c8" d="M33 .5h1m8 0h1m23 0h1m2 0h1m8 0h1m1 0h1m27 0h1m30 0h1m35 0h1"/><path stroke="#d3d3d3" d="M6 .5h1m21 0h1m8 0h1m35 0h1m20 0h1m27 0h1m3 0h1m15 0h1m13 0h1"/><path stroke="#dedede" d="M1 .5h1m51 0h1m20 0h1m25 0h1m16 0h2m49 0h1m3 0h1m3 0h1m6 0h1"/><path stroke="#e9e9e9" d="M64 .5h1m78 0h1m6 0h1"/><path stroke="#f4f4f4" d="M18 .5h1m7 0h1m8 0h1m149 0h1"/><path stroke="#ffffff" d="M46 .5h1m21 0h1"/></g><g id="t38"><rect width="186" height="1" fill="none"/><path stroke="#000000" d="M55 .5h1m21 0h1"/><path stroke="#0b0b0b" d="M12 .5h1m36 0h1m45 0h1m81 0h1"/><path stroke="#161616" d="M13 .5h1m6 0h1m126 0h1"/><path stroke="#212121" d="M4 .5h1m4 0h1m1 0h1m27 0h1m23 0h1m5 0h1m16 0h1m36 0h1m9 0h1m47 0h1"/><path stroke="#2c2c2c" d="M21 .5h1m9 0h1m13 0h1m6 0h1m23 0h1m4 0h1m2 0h2m87 0h1"/><path stroke="#373737" d="M51 .5h1m23 0h1m22 0h1m17 0h1m26 0h1m4 0h1m1 0h1m5 0h1m6 0h1"/><path stroke="#434343" d="M24 .5h1m72 0h1m30 0h1m2 0h1m4 0h1m1 0h1m5 0h1m4 0h1m12 0h1m21 0h1"/><path stroke="#4e4e4e" d="M17 .5h1m9 0h1m16 0h1m27 0h1m5 0h1m26 0h1m58 0h1m11 0h1m2 0h1"/><path stroke="#595959" d="M2 .5h1m25 0h1m7 0h1m53 0h2m14 0h2m1 0h1m72 0h1"/><path stroke="#646464" d="M1 .5h1m12 0h1m55 0h2m17 0h1m40 0h1m4 0h1m29 0h1m8 0h1"/><path stroke="#6f6f6f" d="M38 .5h1m3 0h1m13 0h1m1 0h1m67 0h1m13 0h1m4 0h1m11 0h2m12 0h1"/><path stroke="#7a7a7a" d="M0 .5h1m15 0h1m5 0h1m9 0h1m7 0h1m6 0h1m40 0h1m65 0h1m11 0h1"/><path stroke="#858585" d="M19 .5h1m14 0h1m6 0h1m8 0h1m63 0h1m6 0h1m12 0h1m43 0h1m1 0h1"/><path stroke="#909090" d="M5 .5h1m19 0h1m3 0h1m18 0h1m10 0h2m1 0h1m50 0h1m15 0h1m37 0h1"/><path stroke="#9b9b9b" d="M15 .5h1m2 0h1m16 0h1m21 0h1m52 0h1m4 0h1m25 0h1m17 0h1m9 0h1"/><path stroke="#a6a6a6" d="M99 .5h1m17 0h1m2 0h1m6 0h1m32 0h1m9 0h1m4 0h1m7 0h1m1 0h1"/><path stroke="#b1b1b1" d="M3 .5h1m3 0h1m38 0h1m35 0h1m19 0h1m21 0h1m12 0h1m13 0h2m8 0h1"/><path stroke="#bcbcbc" d="M10 .5h1m12 0h1m6 0h1m33 0h1m2 0h1m74 0h1m3 0h1m6 0h1m14 0h1"/><path stroke="#c8c8c8" d="M33 .5h1m27 0h1m4 0h1m1 0h1m4 0h1m30 0h1m7 0h1m12 0h1m6 0h1"/><path stroke="#d3d3d3" d="M53 .5h2m32 0h1m8 0h1m4 0h1m6 0h1m2 0h1m7 0h1m35 0h1"/><path stroke="#dedede" d="M6 .5h1m19 0h1m16 0h1m30 0h1m4 0h1m3 0h1m8 0h2m24 0h1m53 0h1"/><path stroke="#e9e9e9" d="M37 .5h1m27 0h1m56 0h1"/><path stroke="#f4f4f4" d="M8 .5h1m71 0h1m19 0h1m2 0h1"/><path stroke="#ffffff" d="M94 .5h1m44 0h1"/></g><g id="t39"><rect width="186" height="1" fill="none"/><path stroke="#000000" d="M32 .5h1m144 0h1"/><path stroke="#0b0b0b" d="M23 .5h1m57 0h1m41 0h1m41 0h1"/><path stroke="#161616" d="M34 .5h1m81 0h1m38 0h1"/><path stroke="#212121" d="M4 .5h1m38 0h1m33 0h1m9 0h1m4 0h1m37 0h1m7 0h1m22 0h1m6 0h1m10 0h1"/><path stroke="#2c2c2c" d="M20 .5h1m8 0h1m8 0h1m29 0h1m16 0h1m13 0h1m20 0h1m24 0h1m35 0h1"/><path stroke="#373737" d="M2 .5h1m6 0h1m4 0h1m6 0h1m2 0h1m25 0h1m19 0h1m61 0h1m49 0h1"/><path stroke="#434343" d="M11 .5h2m6 0h1m5 0h1m22 0h1m2 0h1m5 0h1m55 0h1m15 0h1m16 0h1"/><path stroke="#4e4e4e" d="M15 .5h2m59 0h1m13 0h1m34 0h1m21 0h1m15 0h1m6 0h1m13 0h1"/><path stroke="#595959" d="M3 .5h1m40 0h1m10 0h1m23 0h1m44 0h1m3 0h1m7 0h1m7 0h1m13 0h1"/><path stroke="#646464" d="M13 .5h1m38 0h1m22 0h1m8 0h1m10 0h1m10 0h1m14 0h1m47 0h1m2 0h1"/><path stroke="#6f6f6f" d="M39 .5h1m14 0h1m18 0h1m12 0h1m10 0h1m2 0h1m3 0h2m3 0h1m61 0h1"/><path stroke="#7a7a7a" d="M35 .5h1m24 0h1m10 0h1m11 0h1m17 0h1m8 0h2m21 0h1m14 0h1"/><path stroke="#858585" d="M6 .5h1m51 0h1m2 0h1m5 0h1m10 0h1m24 0h1m50 0h1m9 0h1m1 0h1"/><path stroke="#909090" d="M5 .5h1m21 0h1m28 0h1m25 0h1m8 0h1m6 0h1m15 0h1m19 0h1m22 0h1m9 0h1"/><path stroke="#9b9b9b" d="M31 .5h1m14 0h1m12 0h1m47 0h1m10 0h1m8 0h1m9 0h1m5 0h1m41 0h1"/><path stroke="#a6a6a6" d="M17 .5h1m4 0h1m5 0h1m11 0h1m1 0h1m2 0h1m26 0h1m62 0h1m20 0h1"/><path stroke="#b1b1b1" d="M0 .5h2m28 0h1m2 0h1m2 0h1m75 0h1m39 0h1m20 0h1m1 0h2"/><path stroke="#bcbcbc" d="M53 .5h1m9 0h1m2 0h1m2 0h1m18 0h1m4 0h1m28 0h1m8 0h1m28 0h1"/><path stroke="#c8c8c8" d="M8 .5h1m32 0h1m32 0h1m5 0h1m8 0h1m18 0h1m17 0h1m14 0h1m32 0h1"/><path stroke="#d3d3d3" d="M10 .5h1m38 0h1m46 0h1m20 0h1m1 0h1m20 0h1m18 0h1m18 0h1m1 0h1"/><path stroke="#dedede" d="M7 .5h1m10 0h1m7 0h1m10 0h1m24 0h1m1 0h1m50 0h1m34 0h2m10 0h1"/><path stroke="#e9e9e9" d="M142 .5h1m6 0h1m3 0h1"/><path stroke="#f4f4f4" d="M47 .5h1m17 0h1m28 0h1m88 0h1"/><path stroke="#ffffff" d="M102 .5h1m36 0h1"/></g><g id="t40"><rect width="186" height="1" fill="none"/><path stroke="#000000" d="M51 .5h1m63 0h1"/><path stroke="#0b0b0b" d="M14 .5h1m26 0h1m6 0h1m22 0h1"/><path stroke="#161616" d="M2 .5h1m167 0h1m6 0h1"/><path stroke="#212121" d="M32 .5h1m2 0h1m10 0h1m7 0h1m35 0h1m5 0h1m22 0h1m2 0h1m19 0h1m3 0h1"/><path stroke="#2c2c2c" d="M53 .5h1m15 0h1m3 0h1m6 0h1m10 0h1m12 0h1m1 0h1m29 0h1m31 0h1"/><path stroke="#373737" d="M7 .5h1m14 0h1m4 0h1m28 0h1m27 0h1m2 0h2m22 0h1m14 0h1"/><path stroke="#434343" d="M0 .5h1m18 0h1m5 0h1m75 0h1m1 0h1m1 0h1m8 0h1m25 0h1m20 0h1m19 0h1"/><path stroke="#4e4e4e" d="M16 .5h1m9 0h1m1 0h1m18 0h1m13 0h1m15 0h1m34 0h1m38 0h1m14 0h1"/><path stroke="#595959" d="M23 .5h1m31 0h1m4 0h1m38 0h1m21 0h1m33 0h1m2 0h1m8 0h1m11 0h1"/><path stroke="#646464" d="M10 .5h1m23 0h1m23 0h1m19 0h1m15 0h1m22 0h1m11 0h1m15 0h1m3 0h1"/><path stroke="#6f6f6f" d="M18 .5h1m12 0h1m5 0h1m6 0h1m38 0h1m18 0h1m29 0h2m1 0h1m21 0h1"/><path stroke="#7a7a7a" d="M3 .5h1m25 0h1m40 0h1m42 0h1m6 0h1m2 0h1m41 0h1m7 0h1m10 0h1"/><path stroke="#858585" d="M36 .5h1m3 0h1m16 0h1m4 0h1m34 0h1m43 0h1m6 0h1m14 0h1m16 0h1"/><path stroke="#909090" d="M4 .5h1m1 0h1m13 0h1m12 0h1m4 0h1m47 0h1m52 0h1m4 0h1m7 0h1m3 0h1"/><path stroke="#9b9b9b" d="M30 .5h1m14 0h1m13 0h1m29 0h1m8 0h1m11 0h1m20 0h1m37 0h1m2 0h1"/><path stroke="#a6a6a6" d="M15 .5h1m33 0h1m45 0h1m20 0h1m1 0h1m5 0h1m3 0h1m21 0h1m27 0h1"/><path stroke="#b1b1b1" d="M17 .5h1m34 0h1m12 0h1m8 0h2m16 0h1m7 0h1m29 0h1m3 0h1m2 0h1"/><path stroke="#bcbcbc" d="M5 .5h1m2 0h1m33 0h1m21 0h1m3 0h1m7 0h1m30 0h1m67 0h1m6 0h1"/><path stroke="#c8c8c8" d="M9 .5h1m11 0h1m45 0h1m4 0h1m6 0h1m13 0h1m31 0h1m27 0h1m20 0h1"/><path stroke="#d3d3d3" d="M1 .5h1m11 0h1m25 0h1m26 0h1m14 0h1m3 0h1m52 0h1m23 0h1m22 0h1"/><path stroke="#dedede" d="M11 .5h2m37 0h1m31 0h1m25 0h2m17 0h1m26 0h1m4 0h1m4 0h1"/><path stroke="#e9e9e9" d="M63 .5h1m79 0h1m32 0h1"/><path stroke="#f4f4f4" d="M43 .5h1m103 0h1m12 0h1m10 0h1"/><path stroke="#ffffff" d="M24 .5h1m158 0h1"/></g><g id="t41"><rect width="186" height="1" fill="none"/><path stroke="#000000" d="M72 .5h1m93 0h1"/><path stroke="#0b0b0b" d="M84 .5h1m26 0h1m4 0h1m4 0h1"/><path stroke="#161616" d="M36 .5h1m82 0h1m42 0h1"/><path stroke="#212121" d="M3 .5h1m9 0h1m14 0h1m30 0h1m3 0h1m40 0h1m8 0h1m6 0h1m52 0h1m5 0h1"/><path stroke="#2c2c2c" d="M7 .5h1m6 0h1m16 0h2m35 0h1m2 0h1m43 0h1m19 0h1m46 0h1"/><path stroke="#373737" d="M19 .5h1m28 0h1m9 0h1m26 0h1m2 0h1m12 0h1m28 0h1m10 0h2"/><path stroke="#434343" d="M1 .5h1m24 0h1m10 0h1m15 0h1m6 0h1m12 0h1m20 0h1m33 0h2m34 0h1"/><path stroke="#4e4e4e" d="M22 .5h1m4 0h1m1 0h1m50 0h1m6 0h1m1 0h1m47 0h1m34 0h1m12 0h1"/><path stroke="#595959" d="M30 .5h1m14 0h1m23 0h1m13 0h1m12 0h1m6 0h1m18 0h1m11 0h1m32 0h1"/><path stroke="#646464" d="M41 .5h1m5 0h1m9 0h1m18 0h2m19 0h1m7 0h1m4 0h1m69 0h1"/><path stroke="#6f6f6f" d="M21 .5h1m33 0h1m9 0h1m13 0h1m13 0h1m4 0h1m7 0h1m19 0h1m11 0h1m22 0h1"/><path stroke="#7a7a7a" d="M0 .5h1m19 0h1m31 0h1m11 0h1m27 0h1m6 0h1m12 0h1m38 0h1m5 0h1"/><path stroke="#858585" d="M23 .5h1m10 0h1m5 0h1m8 0h1m59 0h1m7 0h1m15 0h1m2 0h1m18 0h1"/><path stroke="#909090" d="M17 .5h1m15 0h1m5 0h1m11 0h1m4 0h1m9 0h1m8 0h1m64 0h1m30 0h1m12 0h1"/><path stroke="#9b9b9b" d="M4 .5h1m11 0h1m8 0h1m101 0h1m18 0h1m9 0h1m6 0h1m6 0h1m3 0h1"/><path stroke="#a6a6a6" d="M46 .5h1m7 0h1m45 0h1m13 0h1m17 0h1m6 0h1m3 0h1m14 0h1m10 0h1"/><path stroke="#b1b1b1" d="M10 .5h1m39 0h1m27 0h1m7 0h1m4 0h1m15 0h1m16 0h2m33 0h1m8 0h1"/><path stroke="#bcbcbc" d="M2 .5h1m2 0h1m29 0h1m25 0h1m61 0h1m7 0h1m17 0h1m2 0h1m24 0h1"/><path stroke="#c8c8c8" d="M6 .5h1m1 0h1m9 0h1m48 0h1m2 0h1m73 0h1m2 0h1m2 0h1m27 0h1"/><path stroke="#d3d3d3" d="M38 .5h1m4 0h1m18 0h1m11 0h1m7 0h1m70 0h1m11 0h1m10 0h1m6 0h1"/><path stroke="#dedede" d="M9 .5h1m1 0h1m3 0h1m8 0h1m19 0h1m45 0h1m4 0h1m49 0h1m2 0h1m32 0h1"/><path stroke="#e9e9e9" d="M12 .5h1m29 0h1m65 0h1"/><path stroke="#f4f4f4" d="M81 .5h1m36 0h1m35 0h1m20 0h1"/><path stroke="#ffffff" d="M102 .5h1m57 0h1"/></g><g id="t42"><rect width="186" height="1" fill="none"/><path stroke="#000000" d="M72 .5h1m51 0h1"/><path stroke="#0b0b0b" d="M23 .5h1m27 0h1m17 0h1m14 0h1"/><path stroke="#161616" d="M33 .5h1m3 0h1m81 0h1"/><path stroke="#212121" d="M6 .5h1m29 0h1m39 0h1m11 0h1m14 0h1m18 0h1m28 0h1m15 0h1m2 0h1m14 0h1"/><path stroke="#2c2c2c" d="M0 .5h1m40 0h1m6 0h1m5 0h1m13 0h1m2 0h1m24 0h1m35 0h1m1 0h1"/><path stroke="#373737" d="M5 .5h1m34 0h1m15 0h1m3 0h1m4 0h1m46 0h1m8 0h1m40 0h1m11 0h1"/><path stroke="#434343" d="M1 .5h1m12 0h1m12 0h1m47 0h1m30 0h1m18 0h1m2 0h1m26 0h1m20 0h2"/><path stroke="#4e4e4e" d="M12 .5h1m15 0h1m3 0h1m6 0h1m43 0h1m3 0h1m1 0h1m12 0h1m53 0h1"/><path stroke="#595959" d="M3 .5h1m42 0h1m45 0h1m33 0h1m8 0h1m10 0h1m21 0h1m11 0h1m3 0h1"/><path stroke="#646464" d="M8 .5h1m21 0h1m3 0h1m28 0h1m3 0h1m22 0h1m9 0h1m42 0h1m5 0h1"/><path stroke="#6f6f6f" d="M16 .5h1m2 0h1m2 0h1m43 0h1m27 0h1m16 0h1m4 0h1m23 0h1m3 0h1m19 0h1"/><path stroke="#7a7a7a" d="M4 .5h1m13 0h1m39 0h1m38 0h1m1 0h1m20 0h1m15 0h1m10 0h2"/><path stroke="#858585" d="M10 .5h1m14 0h1m18 0h2m6 0h1m4 0h1m27 0h1m28 0h1m42 0h1"/><path stroke="#909090" d="M15 .5h1m1 0h1m24 0h1m58 0h1m3 0h1m2 0h1m1 0h1m18 0h1m20 0h1m1 0h1"/><path stroke="#9b9b9b" d="M2 .5h1m28 0h1m3 0h1m7 0h1m3 0h1m29 0h1m1 0h1m51 0h1m9 0h1"/><path stroke="#a6a6a6" d="M7 .5h1m18 0h1m34 0h1m18 0h1m17 0h1m64 0h1m2 0h1m6 0h1m8 0h1"/><path stroke="#b1b1b1" d="M9 .5h1m28 0h1m10 0h2m4 0h1m3 0h1m57 0h1m27 0h1m8 0h1m24 0h1"/><path stroke="#bcbcbc" d="M29 .5h1m34 0h1m26 0h1m12 0h1m18 0h1m9 0h1m5 0h1m31 0h2"/><path stroke="#c8c8c8" d="M13 .5h1m6 0h1m52 0h1m4 0h1m3 0h1m30 0h1m13 0h1m25 0h1m29 0h1"/><path stroke="#d3d3d3" d="M11 .5h1m9 0h1m2 0h1m28 0h1m8 0h1m52 0h1m2 0h1m11 0h1m27 0h1"/><path stroke="#dedede" d="M70 .5h1m3 0h1m11 0h1m6 0h1m1 0h1m41 0h1m4 0h1m18 0h1m7 0h1m11 0h1"/><path stroke="#e9e9e9" d="M107 .5h1m1 0h1m49 0h1"/><path stroke="#f4f4f4" d="M81 .5h1m83 0h1m9 0h1m2 0h1"/><path stroke="#ffffff" d="M138 .5h1m21 0h1"/></g><g id="t43"><rect width="186" height="1" fill="none"/><path stroke="#000000" d="M111 .5h1m17 0h1"/><path stroke="#0b0b0b" d="M6 .5h1m44 0h1m7 0h1m52 0h1"/><path stroke="#161616" d="M14 .5h1m41 0h1m12 0h1"/><path stroke="#212121" d="M16 .5h1m8 0h1m29 0h1m16 0h1m5 0h1m5 0h1m9 0h1m28 0h1m43 0h1m16 0h1"/><path stroke="#2c2c2c" d="M0 .5h1m21 0h1m4 0h1m1 0h1m35 0h1m7 0h1m13 0h1m5 0h1m5 0h1"/><path stroke="#373737" d="M30 .5h1m5 0h1m40 0h1m26 0h1m17 0h1m17 0h1m11 0h1m8 0h1m1 0h1"/><path stroke="#434343" d="M18 .5h1m39 0h1m12 0h1m8 0h1m8 0h1m29 0h1m11 0h1m15 0h1m17 0h1m7 0h1"/><path stroke="#4e4e4e" d="M7 .5h1m33 0h1m2 0h1m4 0h1m17 0h1m41 0h1m26 0h1m4 0h1m7 0h1"/><path stroke="#595959" d="M8 .5h1m14 0h1m8 0h1m7 0h1m50 0h1m23 0h1m52 0h1m1 0h1m1 0h1"/><path stroke="#646464" d="M26 .5h1m7 0h1m51 0h1m5 0h1m15 0h1m8 0h1m17 0h1m17 0h1m12 0h1"/><path stroke="#6f6f6f" d="M50 .5h1m1 0h1m4 0h1m2 0h1m49 0h1m9 0h1m23 0h1m5 0h1m6 0h1m21 0h1"/><path stroke="#7a7a7a" d="M21 .5h1m21 0h1m10 0h1m28 0h1m19 0h1m2 0h1m44 0h1m22 0h2"/><path stroke="#858585" d="M4 .5h1m15 0h1m3 0h1m3 0h1m19 0h1m48 0h1m2 0h1m31 0h1m47 0h1"/><path stroke="#909090" d="M2 .5h2m13 0h1m1 0h1m70 0h1m25 0h1m17 0h1m4 0h1m6 0h1m30 0h1"/><path stroke="#9b9b9b" d="M1 .5h1m37 0h1m67 0h1m18 0h1m10 0h1m4 0h1m5 0h1m5 0h1m27 0h1"/><path stroke="#a6a6a6" d="M46 .5h1m15 0h1m1 0h1m1 0h1m14 0h1m39 0h1m6 0h1m1 0h1m2 0h1"/><path stroke="#b1b1b1" d="M12 .5h1m48 0h1m14 0h1m36 0h1m4 0h1m5 0h1m31 0h1m5 0h1m13 0h1m4 0h1"/><path stroke="#bcbcbc" d="M5 .5h1m9 0h1m19 0h1m9 0h1m7 0h1m16 0h1m17 0h1m9 0h1m15 0h1"/><path stroke="#c8c8c8" d="M9 .5h2m22 0h1m40 0h1m4 0h1m45 0h1m19 0h1m14 0h1m3 0h1"/><path stroke="#d3d3d3" d="M31 .5h1m6 0h1m8 0h1m20 0h1m13 0h1m2 0h1m85 0h1m6 0h1m4 0h1"/><path stroke="#dedede" d="M13 .5h1m23 0h1m4 0h1m32 0h1m25 0h1m25 0h1m15 0h1m14 0h1m10 0h1m15 0h1"/><path stroke="#e9e9e9" d="M63 .5h1m32 0h1m8 0h1"/><path stroke="#f4f4f4" d="M11 .5h1m83 0h1m59 0h1m3 0h1"/><path stroke="#ffffff" d="M102 .5h1m35 0h1"/></g><g id="t44"><rect width="186" height="1" fill="none"/><path stroke="#000000" d="M26 .5h1m72 0h1"/><path stroke="#0b0b0b" d="M14 .5h1m39 0h1m49 0h1m31 0h1"/><path stroke="#161616" d="M0 .5h1m31 0h1m88 0h1"/><path stroke="#212121" d="M7 .5h1m17 0h1m5 0h1m24 0h1m12 0h1m1 0h1m25 0h1m14 0h1m2 0h1m41 0h1"/><path stroke="#2c2c2c" d="M36 .5h1m3 0h1m31 0h1m67 0h2m20 0h1m4 0h1m5 0h2"/><path stroke="#373737" d="M2 .5h2m24 0h1m14 0h1m20 0h1m28 0h1m4 0h1m4 0h1m29 0h1"/><path stroke="#434343" d="M17 .5h1m50 0h1m15 0h1m25 0h1m8 0h1m10 0h1m1 0h1m15 0h1m1 0h1m12 0h1"/><path stroke="#4e4e4e" d="M23 .5h1m21 0h1m5 0h1m7 0h1m49 0h1m17 0h2m17 0h1m30 0h1"/><path stroke="#595959" d="M12 .5h1m9 0h1m23 0h1m29 0h1m43 0h1m3 0h1m31 0h1m22 0h1m4 0h1"/><path stroke="#646464" d="M57 .5h1m29 0h3m16 0h1m32 0h1m4 0h1m21 0h1m9 0h1"/><path stroke="#6f6f6f" d="M10 .5h1m16 0h1m9 0h1m1 0h1m8 0h1m9 0h1m14 0h1m91 0h1m5 0h2"/><path stroke="#7a7a7a" d="M6 .5h1m8 0h1m26 0h1m39 0h1m24 0h1m21 0h1m4 0h1m12 0h1m16 0h1"/><path stroke="#858585" d="M18 .5h1m36 0h1m24 0h1m2 0h1m24 0h1m13 0h1m15 0h1m12 0h1m17 0h1"/><path stroke="#909090" d="M5 .5h1m23 0h1m3 0h1m18 0h1m8 0h1m33 0h2m14 0h1m56 0h1m1 0h1"/><path stroke="#9b9b9b" d="M11 .5h1m12 0h1m24 0h1m31 0h1m9 0h2m7 0h3"/><path stroke="#a6a6a6" d="M1 .5h1m2 0h1m8 0h1m46 0h1m6 0h1m55 0h1m7 0h1m3 0h1m17 0h1"/><path stroke="#b1b1b1" d="M19 .5h1m21 0h1m23 0h1m12 0h1m6 0h1m19 0h1m31 0h1m11 0h1m5 0h1m24 0h1"/><path stroke="#bcbcbc" d="M8 .5h1m7 0h1m3 0h1m23 0h1m8 0h1m25 0h1m10 0h1m35 0h1m55 0h1"/><path stroke="#c8c8c8" d="M30 .5h1m19 0h1m43 0h1m19 0h1m28 0h1m8 0h1m6 0h1m1 0h1m19 0h1"/><path stroke="#d3d3d3" d="M34 .5h1m12 0h1m14 0h1m11 0h1m2 0h1m39 0h1m36 0h1m5 0h1m14 0h1"/><path stroke="#dedede" d="M21 .5h1m41 0h1m6 0h1m15 0h1m26 0h1m2 0h1m1 0h1m26 0h1m12 0h1m19 0h1"/><path stroke="#e9e9e9" d="M9 .5h1m28 0h1m146 0h1"/><path stroke="#f4f4f4" d="M75 .5h1m49 0h1m16 0h1m40 0h1"/><path stroke="#ffffff" d="M35 .5h1m30 0h1"/></g><g id="t45"><rect width="186" height="1" fill="none"/><path stroke="#000000" d="M58 .5h1m111 0h1"/><path stroke="#0b0b0b" d="M52 .5h1m18 0h1m6 0h1m5 0h1"/><path stroke="#161616" d="M0 .5h2m42 0h1"/><path stroke="#212121" d="M10 .5h1m15 0h1m2 0h1m25 0h2m62 0h1m9 0h1m7 0h1m11 0h1m12 0h1"/><path stroke="#2c2c2c" d="M23 .5h1m35 0h1m3 0h1m1 0h1m6 0h1m31 0h1m5 0h2m55 0h1"/><path stroke="#373737" d="M6 .5h1m24 0h1m2 0h1m2 0h1m39 0h1m11 0h1m35 0h1m38 0h1m1 0h1"/><path stroke="#434343" d="M4 .5h1m28 0h1m4 0h2m8 0h1m2 0h1m23 0h1m21 0h1m1 0h1m24 0h1"/><path stroke="#4e4e4e" d="M68 .5h1m39 0h1m11 0h1m26 0h1m15 0h1m5 0h1m4 0h2m4 0h1"/><path stroke="#595959" d="M27 .5h1m18 0h1m6 0h1m15 0h1m24 0h1m1 0h1m18 0h1m1 0h1m43 0h1"/><path stroke="#646464" d="M25 .5h1m35 0h1m20 0h1m5 0h1m29 0h1m20 0h1m16 0h1m1 0h1m22 0h1"/><path stroke="#6f6f6f" d="M32 .5h1m40 0h1m12 0h1m6 0h1m20 0h1m13 0h1m1 0h1m41 0h2m3 0h1"/><path stroke="#7a7a7a" d="M20 .5h1m41 0h1m24 0h1m12 0h1m2 0h1m5 0h1m3 0h1m20 0h1m8 0h1"/><path stroke="#858585" d="M7 .5h1m7 0h1m8 0h1m39 0h1m27 0h1m19 0h1m8 0h1m9 0h1m52 0h1"/><path stroke="#909090" d="M2 .5h1m11 0h1m3 0h1m3 0h1m22 0h1m1 0h1m79 0h1m7 0h1m21 0h1m1 0h1"/><path stroke="#9b9b9b" d="M40 .5h2m1 0h1m10 0h1m40 0h1m52 0h1m2 0h1m24 0h1m5 0h1"/><path stroke="#a6a6a6" d="M30 .5h1m19 0h1m25 0h1m24 0h1m3 0h1m16 0h1m18 0h1m4 0h1m21 0h1"/><path stroke="#b1b1b1" d="M12 .5h1m29 0h1m6 0h1m41 0h1m34 0h1m5 0h1m3 0h1m15 0h1m26 0h1m3 0h1"/><path stroke="#bcbcbc" d="M9 .5h1m7 0h1m3 0h1m13 0h1m24 0h1m6 0h1m17 0h1m37 0h1m47 0h1"/><path stroke="#c8c8c8" d="M8 .5h1m19 0h1m7 0h1m29 0h1m3 0h1m10 0h1m1 0h1m6 0h1m7 0h1"/><path stroke="#d3d3d3" d="M13 .5h1m43 0h1m16 0h1m5 0h1m25 0h2m25 0h1m21 0h1m29 0h1"/><path stroke="#dedede" d="M3 .5h1m1 0h1m13 0h1m59 0h1m22 0h1m13 0h1m21 0h1m1 0h1m9 0h1m3 0h1"/><path stroke="#e9e9e9" d="M142 .5h1m2 0h1m14 0h1"/><path stroke="#f4f4f4" d="M11 .5h1m141 0h1m11 0h1m12 0h1"/><path stroke="#ffffff" d="M16 .5h1m127 0h1"/></g><g id="t46"><rect width="186" height="1" fill="none"/><path stroke="#000000" d="M72 .5h1m42 0h1"/><path stroke="#0b0b0b" d="M0 .5h1m25 0h1m21 0h1m22 0h1"/><path stroke="#161616" d="M41 .5h1m9 0h1m116 0h1"/><path stroke="#212121" d="M19 .5h1m25 0h1m17 0h1m5 0h1m7 0h1m10 0h1m10 0h1m4 0h1m6 0h1m8 0h1"/><path stroke="#2c2c2c" d="M3 .5h1m19 0h1m11 0h1m20 0h1m32 0h1m40 0h2m7 0h1m11 0h1"/><path stroke="#373737" d="M4 .5h1m17 0h1m32 0h1m24 0h1m2 0h1m1 0h1m15 0h1m4 0h1m30 0h1"/><path stroke="#434343" d="M54 .5h1m6 0h1m13 0h1m37 0h1m5 0h1m2 0h1m3 0h1m5 0h1m3 0h1m25 0h1"/><path stroke="#4e4e4e" d="M29 .5h1m9 0h1m3 0h1m47 0h1m4 0h1m6 0h1m63 0h1m2 0h1m11 0h1"/><path stroke="#595959" d="M12 .5h1m12 0h1m11 0h1m14 0h1m4 0h1m7 0h1m44 0h1m65 0h2"/><path stroke="#646464" d="M10 .5h1m49 0h1m17 0h1m11 0h1m6 0h1m7 0h1m51 0h1m3 0h1m12 0h1"/><path stroke="#6f6f6f" d="M1 .5h1m19 0h1m18 0h1m43 0h1m15 0h1m16 0h1m37 0h1m2 0h1m7 0h1m4 0h1"/><path stroke="#7a7a7a" d="M14 .5h1m17 0h1m53 0h1m21 0h1m3 0h1m15 0h1m15 0h1m3 0h1m23 0h1"/><path stroke="#858585" d="M7 .5h1m9 0h1m10 0h1m7 0h1m25 0h1m29 0h1m1 0h1m45 0h1m43 0h1"/><path stroke="#909090" d="M38 .5h1m5 0h1m1 0h1m11 0h2m4 0h1m53 0h1m15 0h1m7 0h1m16 0h1"/><path stroke="#9b9b9b" d="M30 .5h2m15 0h1m28 0h1m32 0h1m19 0h1m16 0h2m32 0h1"/><path stroke="#a6a6a6" d="M5 .5h1m18 0h1m8 0h1m47 0h1m20 0h1m13 0h1m8 0h1m47 0h1m9 0h1"/><path stroke="#b1b1b1" d="M49 .5h1m18 0h1m10 0h1m7 0h1m5 0h1m30 0h1m8 0h1m9 0h1m12 0h1m7 0h1"/><path stroke="#bcbcbc" d="M6 .5h1m8 0h1m18 0h1m7 0h1m92 0h1m17 0h2m20 0h1m3 0h1"/><path stroke="#c8c8c8" d="M9 .5h1m3 0h1m2 0h1m53 0h1m11 0h1m15 0h1m15 0h1m35 0h1m30 0h1"/><path stroke="#d3d3d3" d="M2 .5h1m15 0h1m8 0h1m45 0h1m64 0h1m2 0h1m3 0h1m19 0h1m3 0h1"/><path stroke="#dedede" d="M11 .5h1m8 0h1m45 0h1m7 0h1m20 0h1m11 0h1m13 0h1m27 0h1m2 0h1m25 0h1"/><path stroke="#e9e9e9" d="M50 .5h1m112 0h1m21 0h1"/><path stroke="#f4f4f4" d="M8 .5h1m44 0h1m73 0h1m32 0h1"/><path stroke="#ffffff" d="M67 .5h1m55 0h1"/></g><g id="t47"><rect width="186" height="1" fill="none"/><path stroke="#000000" d="M32 .5h1m39 0h1"/><path stroke="#0b0b0b" d="M26 .5h1m17 0h1m7 0h1m6 0h1"/><path stroke="#161616" d="M0 .5h1m87 0h1m21 0h1"/><path stroke="#212121" d="M14 .5h1m40 0h1m13 0h1m14 0h1m4 0h1m9 0h1m8 0h1m10 0h1m15 0h1m48 0h1"/><path stroke="#2c2c2c" d="M23 .5h2m16 0h1m86 0h1m5 0h1m16 0h1m14 0h1m6 0h1m11 0h1"/><path stroke="#373737" d="M36 .5h1m2 0h1m8 0h1m38 0h1m16 0h1m6 0h1m2 0h1m27 0h1m22 0h1"/><path stroke="#434343" d="M2 .5h1m16 0h1m2 0h1m48 0h1m6 0h1m30 0h1m5 0h2m7 0h1m42 0h1"/><path stroke="#4e4e4e" d="M5 .5h1m19 0h1m23 0h1m1 0h1m1 0h1m29 0h1m2 0h1m49 0h1m11 0h1"/><path stroke="#595959" d="M7 .5h2m8 0h1m79 0h1m5 0h1m25 0h1m27 0h1m17 0h1m7 0h1"/><path stroke="#646464" d="M13 .5h1m2 0h1m59 0h1m14 0h1m9 0h1m19 0h1m8 0h1m2 0h1m6 0h1"/><path stroke="#6f6f6f" d="M29 .5h1m3 0h1m20 0h1m1 0h2m5 0h3m14 0h1m73 0h1"/><path stroke="#7a7a7a" d="M10 .5h1m49 0h2m23 0h1m7 0h1m38 0h1m35 0h1m8 0h1m4 0h1"/><path stroke="#858585" d="M28 .5h1m29 0h1m8 0h1m11 0h1m2 0h1m11 0h1m28 0h1m13 0h1m23 0h1"/><path stroke="#909090" d="M1 .5h1m19 0h1m5 0h1m18 0h1m60 0h1m4 0h1m31 0h1m1 0h1m15 0h2"/><path stroke="#9b9b9b" d="M3 .5h1m2 0h1m36 0h1m37 0h1m16 0h1m44 0h1m20 0h1m7 0h1m3 0h1"/><path stroke="#a6a6a6" d="M9 .5h1m25 0h1m1 0h1m35 0h1m22 0h1m5 0h1m14 0h1m56 0h1m3 0h1"/><path stroke="#b1b1b1" d="M34 .5h1m7 0h1m25 0h1m1 0h1m21 0h1m12 0h1m35 0h1m7 0h1m6 0h1m24 0h1"/><path stroke="#bcbcbc" d="M12 .5h1m7 0h1m54 0h1m1 0h1m61 0h1m7 0h1m5 0h1m16 0h1m9 0h1"/><path stroke="#c8c8c8" d="M40 .5h1m6 0h1m14 0h1m11 0h1m31 0h1m31 0h1m6 0h1m9 0h1m2 0h1"/><path stroke="#d3d3d3" d="M15 .5h1m15 0h1m6 0h1m6 0h1m20 0h1m33 0h1m68 0h1m1 0h1m7 0h1"/><path stroke="#dedede" d="M4 .5h1m13 0h1m11 0h1m19 0h1m44 0h1m17 0h1m12 0h2m22 0h1m1 0h1"/><path stroke="#e9e9e9" d="M120 .5h1m4 0h1m33 0h1"/><path stroke="#f4f4f4" d="M11 .5h1m106 0h1m12 0h1m28 0h1"/><path stroke="#ffffff" d="M90 .5h1m31 0h1"/></g><g id="t48"><rect width="186" height="1" fill="none"/><path stroke="#000000" d="M0 .5h1m96 0h1"/><path stroke="#0b0b0b" d="M25 .5h1m3 0h1m26 0h1m84 0h1"/><path stroke="#161616" d="M17 .5h1m30 0h1m83 0h1"/><path stroke="#212121" d="M3 .5h1m19 0h1m20 0h1m26 0h1m15 0h1m2 0h1m51 0h1m6 0h1m1 0h1m17 0h1"/><path stroke="#2c2c2c" d="M22 .5h1m40 0h1m8 0h1m3 0h1m27 0h1m43 0h1m13 0h1m3 0h1m6 0h1"/><path stroke="#373737" d="M34 .5h1m8 0h1m45 0h1m4 0h1m22 0h1m10 0h1m2 0h1m48 0h1m3 0h1"/><path stroke="#434343" d="M32 .5h1m3 0h1m12 0h1m34 0h1m3 0h1m4 0h1m7 0h1m16 0h1m17 0h1m10 0h1"/><path stroke="#4e4e4e" d="M24 .5h1m16 0h1m35 0h1m1 0h1m35 0h1m13 0h1m9 0h1m28 0h1m5 0h1"/><path stroke="#595959" d="M21 .5h1m5 0h2m62 0h1m7 0h1m9 0h1m9 0h1m56 0h1m1 0h1"/><path stroke="#646464" d="M57 .5h1m1 0h1m2 0h1m2 0h1m48 0h1m6 0h2m21 0h1m36 0h1"/><path stroke="#6f6f6f" d="M1 .5h1m35 0h1m26 0h1m3 0h1m9 0h1m33 0h1m7 0h1m3 0h1m9 0h1m28 0h1"/><path stroke="#7a7a7a" d="M14 .5h2m44 0h1m8 0h1m3 0h1m8 0h1m24 0h1m38 0h1m10 0h1"/><path stroke="#858585" d="M26 .5h1m12 0h1m2 0h1m9 0h3m78 0h1m36 0h1m1 0h1"/><path stroke="#909090" d="M40 .5h1m10 0h1m31 0h1m16 0h1m29 0h1m21 0h1m11 0h2m11 0h1m7 0h1"/><path stroke="#9b9b9b" d="M8 .5h1m3 0h1m42 0h1m25 0h1m4 0h1m18 0h1m7 0h1m24 0h1m11 0h1"/><path stroke="#a6a6a6" d="M9 .5h1m9 0h1m10 0h1m14 0h1m50 0h1m5 0h1m32 0h1m19 0h1m26 0h1"/><path stroke="#b1b1b1" d="M7 .5h1m2 0h1m36 0h1m10 0h1m2 0h1m33 0h1m2 0h1m7 0h1m30 0h1m20 0h1"/><path stroke="#bcbcbc" d="M13 .5h1m19 0h1m12 0h1m20 0h1m2 0h1m21 0h1m30 0h1m1 0h1m33 0h1"/><path stroke="#c8c8c8" d="M38 .5h1m11 0h1m52 0h1m36 0h1m12 0h2m6 0h1m5 0h1m11 0h1"/><path stroke="#d3d3d3" d="M4 .5h1m1 0h1m9 0h1m14 0h1m48 0h1m4 0h1m25 0h1m4 0h1m39 0h1"/><path stroke="#dedede" d="M2 .5h1m2 0h1m29 0h1m38 0h2m32 0h1m17 0h1m18 0h1m29 0h1m7 0h1"/><path stroke="#e9e9e9" d="M18 .5h1m1 0h1m150 0h1"/><path stroke="#f4f4f4" d="M11 .5h1m54 0h1m60 0h1m15 0h1"/><path stroke="#ffffff" d="M110 .5h1m49 0h1"/></g><g id="t49"><rect width="186" height="1" fill="none"/><path stroke="#000000" d="M69 .5h1m1 0h1"/><path stroke="#0b0b0b" d="M21 .5h1m1 0h1m80 0h1m61 0h1"/><path stroke="#161616" d="M72 .5h1m15 0h1m58 0h1"/><path stroke="#212121" d="M32 .5h1m8 0h1m2 0h1m3 0h1m5 0h1m1 0h1m30 0h1m15 0h1m7 0h1m14 0h1"/><path stroke="#2c2c2c" d="M27 .5h1m15 0h1m5 0h1m7 0h1m31 0h1m65 0h1m2 0h1m9 0h1m1 0h1"/><path stroke="#373737" d="M1 .5h1m1 0h1m16 0h1m76 0h1m24 0h1m5 0h1m34 0h1m14 0h2"/><path stroke="#434343" d="M7 .5h1m4 0h1m32 0h2m62 0h1m14 0h2m4 0h1m2 0h1m28 0h1"/><path stroke="#4e4e4e" d="M2 .5h1m48 0h1m24 0h1m39 0h1m12 0h1m2 0h1m7 0h1m3 0h1m31 0h1"/><path stroke="#595959" d="M33 .5h2m20 0h1m4 0h1m4 0h1m15 0h1m30 0h1m33 0h1m27 0h1"/><path stroke="#646464" d="M19 .5h1m39 0h1m23 0h2m13 0h1m14 0h1m27 0h1m6 0h1m24 0h1"/><path stroke="#6f6f6f" d="M0 .5h1m7 0h1m8 0h1m8 0h1m1 0h1m61 0h1m15 0h1m3 0h1m40 0h1m15 0h1"/><path stroke="#7a7a7a" d="M22 .5h1m13 0h1m15 0h1m20 0h1m12 0h1m4 0h1m4 0h1m4 0h1m78 0h1"/><path stroke="#858585" d="M25 .5h1m3 0h1m10 0h1m9 0h1m27 0h1m16 0h1m40 0h1m17 0h1m2 0h1"/><path stroke="#909090" d="M63 .5h2m3 0h1m5 0h1m18 0h2m5 0h1m14 0h1m2 0h1m24 0h1"/><path stroke="#9b9b9b" d="M5 .5h1m5 0h1m3 0h1m21 0h1m15 0h1m28 0h1m48 0h1m33 0h1m15 0h1"/><path stroke="#a6a6a6" d="M16 .5h1m14 0h1m15 0h1m10 0h1m40 0h1m21 0h1m17 0h1m42 0h2"/><path stroke="#b1b1b1" d="M13 .5h2m47 0h1m39 0h1m5 0h1m11 0h1m24 0h1m4 0h1m1 0h1m16 0h1"/><path stroke="#bcbcbc" d="M4 .5h1m25 0h1m4 0h1m2 0h1m27 0h1m13 0h1m46 0h1m9 0h1m37 0h1"/><path stroke="#c8c8c8" d="M24 .5h1m52 0h1m36 0h1m2 0h1m1 0h1m18 0h1m14 0h1m7 0h1m9 0h1"/><path stroke="#d3d3d3" d="M6 .5h1m3 0h1m7 0h1m66 0h1m6 0h1m14 0h1m26 0h1m25 0h1m3 0h1"/><path stroke="#dedede" d="M9 .5h1m32 0h1m18 0h1m8 0h1m8 0h1m69 0h1m6 0h1m15 0h1m4 0h1m6 0h1"/><path stroke="#e9e9e9" d="M39 .5h1m83 0h1m11 0h1"/><path stroke="#f4f4f4" d="M67 .5h1m7 0h1m66 0h1m42 0h1"/><path stroke="#ffffff" d="M105 .5h1m53 0h1"/></g><g id="t50"><rect width="186" height="1" fill="none"/><path stroke="#000000" d="M22 .5h1m150 0h1"/><path stroke="#0b0b0b" d="M0 .5h1m67 0h2m62 0h1"/><path stroke="#161616" d="M7 .5h1m33 0h1m17 0h1"/><path stroke="#212121" d="M5 .5h1m26 0h1m9 0h1m1 0h1m12 0h1m14 0h1m27 0h1m12 0h1m27 0h1m20 0h1"/><path stroke="#2c2c2c" d="M1 .5h1m35 0h1m7 0h1m3 0h1m1 0h1m2 0h1m16 0h1m1 0h1m105 0h1"/><path stroke="#373737" d="M48 .5h1m3 0h1m30 0h1m4 0h1m8 0h1m5 0h1m47 0h1m16 0h1m1 0h1"/><path stroke="#434343" d="M2 .5h1m32 0h1m10 0h1m30 0h1m2 0h1m30 0h1m7 0h1m2 0h1m7 0h1m46 0h1"/><path stroke="#4e4e4e" d="M28 .5h1m14 0h1m9 0h1m7 0h1m14 0h1m29 0h1m2 0h1m55 0h1m1 0h1"/><path stroke="#595959" d="M10 .5h1m15 0h2m22 0h1m5 0h1m27 0h1m11 0h1m19 0h1m31 0h1"/><path stroke="#646464" d="M14 .5h1m8 0h1m41 0h1m25 0h1m1 0h1m10 0h1m20 0h1m13 0h1m3 0h1"/><path stroke="#6f6f6f" d="M17 .5h1m15 0h1m5 0h1m30 0h1m15 0h1m3 0h1m19 0h1m10 0h1m39 0h1m13 0h1"/><path stroke="#7a7a7a" d="M4 .5h1m35 0h1m22 0h1m65 0h1m8 0h1m1 0h1m18 0h1m3 0h1m7 0h1"/><path stroke="#858585" d="M6 .5h1m6 0h1m7 0h1m38 0h1m33 0h1m17 0h1m13 0h1m7 0h1m14 0h1"/><path stroke="#909090" d="M15 .5h1m9 0h1m8 0h1m1 0h1m78 0h1m1 0h1m9 0h1m7 0h1m19 0h1m26 0h1"/><path stroke="#9b9b9b" d="M12 .5h1m11 0h1m62 0h1m11 0h1m23 0h2m8 0h1m3 0h1m6 0h1"/><path stroke="#a6a6a6" d="M8 .5h1m9 0h1m47 0h1m34 0h1m3 0h1m30 0h1m16 0h1m20 0h1m6 0h1"/><path stroke="#b1b1b1" d="M19 .5h1m11 0h1m23 0h1m26 0h1m2 0h1m3 0h1m52 0h1m23 0h1m16 0h1m1 0h1"/><path stroke="#bcbcbc" d="M3 .5h1m16 0h1m8 0h1m17 0h1m16 0h1m42 0h1m23 0h1m25 0h1m26 0h1"/><path stroke="#c8c8c8" d="M16 .5h1m58 0h1m3 0h1m12 0h1m5 0h1m15 0h1m3 0h1m9 0h1m21 0h1"/><path stroke="#d3d3d3" d="M58 .5h1m22 0h1m26 0h1m43 0h1m1 0h1m3 0h1m10 0h1m2 0h1m3 0h1"/><path stroke="#dedede" d="M9 .5h1m1 0h1m18 0h1m7 0h1m23 0h1m4 0h1m10 0h1m23 0h1m53 0h1m7 0h1"/><path stroke="#e9e9e9" d="M74 .5h1m71 0h1m33 0h1"/><path stroke="#f4f4f4" d="M95 .5h1m24 0h1m26 0h1m30 0h1"/><path stroke="#ffffff" d="M145 .5h1m14 0h1"/></g><g id="t51"><rect width="186" height="1" fill="none"/><path stroke="#000000" d="M69 .5h1m1 0h1"/><path stroke="#0b0b0b" d="M48 .5h1m14 0h1m35 0h1m11 0h1"/><path stroke="#161616" d="M51 .5h1m2 0h1m74 0h1"/><path stroke="#212121" d="M23 .5h1m2 0h1m32 0h1m20 0h1m13 0h1m9 0h1m1 0h1m8 0h1m20 0h1m27 0h1"/><path stroke="#2c2c2c" d="M68 .5h1m9 0h1m8 0h1m15 0h1m15 0h1m21 0h1m24 0h1m7 0h1m9 0h1"/><path stroke="#373737" d="M22 .5h1m8 0h1m8 0h1m11 0h1m19 0h1m3 0h1m12 0h1m22 0h1m9 0h1"/><path stroke="#434343" d="M0 .5h1m6 0h1m54 0h1m21 0h1m20 0h1m22 0h1m32 0h1m8 0h1m1 0h1m6 0h1"/><path stroke="#4e4e4e" d="M19 .5h1m7 0h1m4 0h1m24 0h1m15 0h1m46 0h1m12 0h1m1 0h1m41 0h1"/><path stroke="#595959" d="M2 .5h1m33 0h1m7 0h1m4 0h1m25 0h1m7 0h1m17 0h1m46 0h1m7 0h1"/><path stroke="#646464" d="M33 .5h1m3 0h1m47 0h1m4 0h1m5 0h1m11 0h1m4 0h1m11 0h1m8 0h1"/><path stroke="#6f6f6f" d="M13 .5h1m6 0h1m65 0h1m22 0h1m30 0h1m3 0h1m17 0h2m7 0h1m4 0h1"/><path stroke="#7a7a7a" d="M1 .5h1m10 0h1m30 0h1m53 0h1m18 0h1m4 0h1m5 0h1m4 0h1m6 0h1"/><path stroke="#858585" d="M15 .5h1m30 0h1m77 0h1m26 0h1m5 0h1m10 0h1m4 0h1m6 0h2"/><path stroke="#909090" d="M5 .5h1m11 0h1m38 0h1m1 0h1m6 0h1m26 0h1m17 0h1m26 0h1m12 0h1m3 0h1"/><path stroke="#9b9b9b" d="M4 .5h1m9 0h1m38 0h1m1 0h1m8 0h1m2 0h1m58 0h1m3 0h1m51 0h1"/><path stroke="#a6a6a6" d="M10 .5h1m18 0h1m4 0h1m4 0h1m10 0h1m9 0h1m53 0h1m27 0h1m42 0h1"/><path stroke="#b1b1b1" d="M6 .5h1m21 0h1m32 0h1m26 0h1m4 0h1m52 0h2m1 0h1m2 0h1m30 0h1"/><path stroke="#bcbcbc" d="M66 .5h1m10 0h1m1 0h1m2 0h1m8 0h1m51 0h1m11 0h1m2 0h1m8 0h1"/><path stroke="#c8c8c8" d="M30 .5h1m4 0h1m5 0h2m4 0h1m50 0h1m32 0h1m6 0h1m36 0h1"/><path stroke="#d3d3d3" d="M3 .5h1m20 0h2m19 0h1m28 0h1m6 0h1m18 0h1m16 0h1m42 0h1"/><path stroke="#dedede" d="M9 .5h1m1 0h1m4 0h1m1 0h1m19 0h1m63 0h1m15 0h1m4 0h1m45 0h1m8 0h1"/><path stroke="#e9e9e9" d="M8 .5h1m86 0h1m11 0h1"/><path stroke="#f4f4f4" d="M21 .5h1m123 0h1m13 0h1m5 0h1"/><path stroke="#ffffff" d="M70 .5h1m82 0h1"/></g><g id="t52"><rect width="186" height="1" fill="none"/><path stroke="#000000" d="M46 .5h1m87 0h1"/><path stroke="#0b0b0b" d="M69 .5h1m43 0h1m1 0h1m68 0h1"/><path stroke="#161616" d="M32 .5h1m78 0h1m61 0h1"/><path stroke="#212121" d="M0 .5h1m13 0h1m4 0h1m34 0h1m16 0h1m12 0h1m27 0h1m15 0h1m28 0h1m10 0h1"/><path stroke="#2c2c2c" d="M28 .5h1m7 0h1m36 0h1m13 0h1m1 0h1m4 0h1m28 0h2m7 0h1"/><path stroke="#373737" d="M7 .5h1m25 0h2m5 0h1m47 0h1m50 0h1m9 0h1m8 0h1m11 0h1"/><path stroke="#434343" d="M12 .5h1m31 0h1m10 0h1m43 0h1m4 0h1m4 0h1m9 0h1m2 0h1m21 0h1m29 0h1"/><path stroke="#4e4e4e" d="M26 .5h1m8 0h1m9 0h1m13 0h1m12 0h1m3 0h1m5 0h1m15 0h1m64 0h1"/><path stroke="#595959" d="M3 .5h1m1 0h1m2 0h1m22 0h1m7 0h1m16 0h1m57 0h1m57 0h1m9 0h1"/><path stroke="#646464" d="M22 .5h2m27 0h1m12 0h1m9 0h1m25 0h1m35 0h1m25 0h1m16 0h1"/><path stroke="#6f6f6f" d="M21 .5h1m2 0h1m2 0h1m2 0h1m27 0h1m1 0h1m17 0h1m1 0h1m9 0h1m59 0h1"/><path stroke="#7a7a7a" d="M10 .5h1m52 0h1m1 0h1m13 0h1m12 0h1m32 0h1m9 0h1m16 0h1m28 0h1"/><path stroke="#858585" d="M15 .5h1m27 0h1m9 0h1m23 0h1m3 0h1m1 0h1m49 0h1m27 0h1m14 0h1"/><path stroke="#909090" d="M47 .5h2m44 0h1m11 0h1m4 0h1m9 0h1m24 0h2m7 0h1m12 0h1"/><path stroke="#9b9b9b" d="M68 .5h1m22 0h1m4 0h1m11 0h1m20 0h1m12 0h1m5 0h1m20 0h1m10 0h1"/><path stroke="#a6a6a6" d="M4 .5h1m15 0h1m8 0h1m22 0h1m44 0h1m4 0h1m27 0h1m10 0h1m33 0h1"/><path stroke="#b1b1b1" d="M25 .5h1m24 0h1m35 0h1m29 0h2m3 0h1m15 0h1m13 0h1m1 0h1m17 0h1"/><path stroke="#bcbcbc" d="M2 .5h1m8 0h1m25 0h1m3 0h1m33 0h1m30 0h1m24 0h1m8 0h1m25 0h1"/><path stroke="#c8c8c8" d="M13 .5h1m3 0h2m23 0h1m6 0h1m11 0h1m8 0h1m55 0h1m58 0h1"/><path stroke="#d3d3d3" d="M1 .5h1m14 0h1m40 0h1m8 0h1m34 0h1m1 0h1m60 0h1m12 0h1m5 0h1"/><path stroke="#dedede" d="M6 .5h1m31 0h1m46 0h1m32 0h1m8 0h1m10 0h1m8 0h1m8 0h1m2 0h1m5 0h1"/><path stroke="#e9e9e9" d="M67 .5h1m75 0h1m16 0h1"/><path stroke="#f4f4f4" d="M62 .5h1m32 0h1m59 0h1m22 0h1"/><path stroke="#ffffff" d="M9 .5h1m97 0h1"/></g><g id="t53"><rect width="186" height="1" fill="none"/><path stroke="#000000" d="M129 .5h1m38 0h1"/><path stroke="#0b0b0b" d="M22 .5h1m28 0h1m63 0h1m23 0h1"/><path stroke="#161616" d="M65 .5h1m33 0h1m24 0h1"/><path stroke="#212121" d="M0 .5h2m31 0h1m37 0h2m21 0h1m6 0h1m10 0h1m6 0h1m53 0h1"/><path stroke="#2c2c2c" d="M23 .5h1m7 0h1m9 0h1m42 0h1m18 0h2m6 0h1m58 0h1m11 0h1"/><path stroke="#373737" d="M25 .5h1m2 0h3m5 0h1m7 0h1m3 0h1m84 0h1m10 0h1"/><path stroke="#434343" d="M14 .5h1m22 0h1m19 0h1m18 0h1m11 0h1m17 0h1m7 0h1m61 0h1m2 0h1m4 0h1"/><path stroke="#4e4e4e" d="M6 .5h2m11 0h1m20 0h1m4 0h1m23 0h1m17 0h1m34 0h1m12 0h1"/><path stroke="#595959" d="M38 .5h1m8 0h1m8 0h1m2 0h1m30 0h2m55 0h1m3 0h1m22 0h1"/><path stroke="#646464" d="M26 .5h2m36 0h1m14 0h1m3 0h1m48 0h1m5 0h1m2 0h1m20 0h1"/><path stroke="#6f6f6f" d="M9 .5h1m1 0h1m51 0h1m9 0h1m23 0h1m19 0h1m25 0h1m13 0h1m5 0h1m7 0h1"/><path stroke="#7a7a7a" d="M5 .5h1m7 0h1m41 0h1m33 0h1m23 0h1m13 0h1m6 0h1m30 0h1m14 0h1"/><path stroke="#858585" d="M21 .5h1m2 0h1m28 0h2m11 0h1m10 0h1m15 0h1m14 0h1m27 0h1"/><path stroke="#909090" d="M3 .5h2m11 0h1m25 0h1m43 0h1m22 0h1m32 0h1m6 0h1m25 0h1m2 0h1"/><path stroke="#9b9b9b" d="M18 .5h1m41 0h2m5 0h2m1 0h1m60 0h1m8 0h1m26 0h1"/><path stroke="#a6a6a6" d="M15 .5h1m36 0h1m5 0h1m33 0h1m14 0h1m17 0h1m2 0h1m17 0h1m5 0h1"/><path stroke="#b1b1b1" d="M2 .5h1m9 0h1m4 0h1m14 0h1m6 0h1m10 0h1m49 0h1m20 0h1m4 0h1m39 0h1"/><path stroke="#bcbcbc" d="M20 .5h1m14 0h1m10 0h1m69 0h1m6 0h1m6 0h1m19 0h1m10 0h1m10 0h1"/><path stroke="#c8c8c8" d="M62 .5h1m17 0h1m15 0h1m8 0h1m31 0h1m10 0h1m7 0h1m7 0h1m20 0h1"/><path stroke="#d3d3d3" d="M43 .5h1m31 0h1m6 0h1m2 0h1m9 0h1m6 0h1m7 0h1m47 0h1m10 0h1"/><path stroke="#dedede" d="M8 .5h1m25 0h1m14 0h1m24 0h1m3 0h1m41 0h1m24 0h1m9 0h1m3 0h1m17 0h1"/><path stroke="#e9e9e9" d="M81 .5h1m16 0h1m54 0h1"/><path stroke="#f4f4f4" d="M118 .5h1m35 0h1m26 0h1m1 0h1"/><path stroke="#ffffff" d="M10 .5h1m149 0h1"/></g><filter id="f0a" x="-.01" y="-.1" width="1.02" height="1.2"><feComponentTransfer><feFuncR type="discrete" tableValues=".67 .71 .73 .75 .77 .79 .8 .81 .82 .83 .84 .85 .85 .86 .87 .87 .88 .89 .92 .97 .99 .99 1 .98"/><feFuncG type="discrete" tableValues=".84 .86 .87 .88 .89 .9 .9 .91 .92 .92 .93 .93 .93 .93 .94 .94 .94 .95 .96 .98 .92 .78 .61 .35"/><feFuncB type="discrete" tableValues=".91 .92 .92 .93 .93 .93 .94 .94 .94 .94 .94 .94 .94 .93 .93 .92 .91 .9 .88 .79 .64 .51 .37 .21"/></feComponentTransfer></filter><filter id="f0b" x="-.01" y="-.1" width="1.02" height="1.2"><feComponentTransfer><feFuncR type="discrete" tableValues=".63 .68 .71 .74 .76 .78 .8 .81 .83 .84 .85 .86 .87 .88 .89 .9 .93 .96 .98 .99 1 .98 .98 .97"/><feFuncG type="discrete" tableValues=".81 .84 .86 .87 .88 .9 .9 .91 .92 .93 .93 .93 .94 .94 .95 .95 .96 .98 .97 .9 .59 .36 .2 .16"/><feFuncB type="discrete" tableValues=".9 .91 .92 .92 .93 .93 .94 .94 .94 .94 .94 .93 .92 .92 .91 .9 .88 .82 .73 .6 .36 .21 .14 .11"/></feComponentTransfer></filter><filter id="f1a" x="-.01" y="-.1" width="1.02" height="1.2"><feComponentTransfer><feFuncR type="discrete" tableValues=".21 .29 .36 .42 .48 .53 .57 .61 .64 .67 .71 .74 .77 .81 .85 .87 .9 .94 .96 .98 .99 .99 1 .99"/><feFuncG type="discrete" tableValues=".55 .61 .65 .7 .73 .76 .78 .8 .82 .84 .86 .87 .89 .91 .93 .94 .95 .97 .98 .97 .84 .7 .58 .38"/><feFuncB type="discrete" tableValues=".77 .8 .82 .85 .86 .87 .88 .89 .9 .91 .92 .92 .93 .94 .94 .92 .9 .87 .81 .73 .55 .44 .35 .22"/></feComponentTransfer></filter><filter id="f1b" x="-.01" y="-.1" width="1.02" height="1.2"><feComponentTransfer><feFuncR type="discrete" tableValues=".35 .47 .53 .59 .66 .7 .75 .78 .82 .85 .87 .89 .92 .94 .96 .97 .98 .99 .99 .99 1 .98 .97 .97"/><feFuncG type="discrete" tableValues=".65 .72 .76 .79 .83 .86 .88 .9 .91 .93 .94 .95 .96 .97 .98 .99 .97 .94 .88 .76 .55 .34 .19 .16"/><feFuncB type="discrete" tableValues=".82 .86 .87 .89 .91 .92 .93 .93 .94 .94 .92 .9 .88 .85 .82 .78 .72 .66 .59 .49 .33 .2 .13 .11"/></feComponentTransfer></filter><filter id="f2a" x="-.01" y="-.1" width="1.02" height="1.2"><feComponentTransfer><feFuncR type="discrete" tableValues=".21 .32 .39 .47 .54 .6 .65 .69 .73 .77 .81 .84 .86 .89 .91 .93 .95 .97 .98 .99 .99 .98 .97 .97"/><feFuncG type="discrete" tableValues=".55 .62 .68 .73 .77 .8 .83 .85 .87 .89 .91 .93 .94 .95 .96 .97 .97 .98 .96 .74 .48 .28 .16 .16"/><feFuncB type="discrete" tableValues=".77 .81 .84 .86 .88 .89 .9 .91 .92 .93 .94 .94 .93 .91 .89 .87 .84 .79 .7 .48 .29 .17 .11 .11"/></feComponentTransfer></filter><filter id="f2b" x="-.01" y="-.1" width="1.02" height="1.2"><feComponentTransfer><feFuncR type="discrete" tableValues=".14 .24 .32 .42 .51 .58 .64 .7 .75 .8 .85 .88 .92 .94 .96 .98 .98 .99 .99 .99 1 .98 .97 .97"/><feFuncG type="discrete" tableValues=".5 .57 .63 .7 .75 .78 .82 .85 .88 .91 .93 .94 .96 .97 .98 .99 .97 .93 .87 .76 .55 .35 .19 .16"/><feFuncB type="discrete" tableValues=".75 .78 .81 .84 .87 .88 .9 .91 .93 .94 .94 .91 .89 .85 .81 .77 .72 .65 .58 .49 .33 .21 .13 .11"/></feComponentTransfer></filter><filter id="f3a" x="-.01" y="-.1" width="1.02" height="1.2"><feComponentTransfer><feFuncR type="discrete" tableValues=".12 .19 .23 .32 .41 .48 .54 .59 .64 .69 .73 .78 .83 .86 .89 .93 .94 .96 .98 .99 .99 1 .98 .97"/><feFuncG type="discrete" tableValues=".47 .53 .57 .63 .69 .73 .76 .79 .82 .85 .87 .89 .92 .94 .95 .96 .97 .98 .99 .94 .76 .54 .33 .16"/><feFuncB type="discrete" tableValues=".74 .77 .78 .81 .84 .86 .87 .89 .9 .91 .92 .93 .94 .93 .9 .88 .85 .81 .76 .66 .49 .32 .2 .11"/></feComponentTransfer></filter><filter id="f3b" x="-.01" y="-.1" width="1.02" height="1.2"><feComponentTransfer><feFuncR type="discrete" tableValues=".15 .24 .32 .42 .51 .58 .64 .7 .75 .81 .86 .9 .93 .95 .97 .98 .98 .99 .99 .99 .99 .98 .97 .97"/><feFuncG type="discrete" tableValues=".5 .57 .63 .69 .75 .79 .82 .85 .88 .91 .93 .95 .97 .97 .98 .99 .96 .93 .87 .73 .5 .28 .16 .16"/><feFuncB type="discrete" tableValues=".76 .78 .81 .84 .87 .89 .9 .92 .93 .94 .93 .9 .87 .83 .79 .75 .7 .64 .58 .47 .3 .17 .11 .11"/></feComponentTransfer></filter><filter id="f4a" x="-.01" y="-.1" width="1.02" height="1.2"><feComponentTransfer><feFuncR type="discrete" tableValues=".59 .61 .61 .62 .62 .63 .63 .64 .64 .64 .64 .65 .65 .65 .66 .66 .67 .68 .79 .9 .96 .99 .99 .97"/><feFuncG type="discrete" tableValues=".79 .8 .8 .81 .81 .81 .82 .82 .82 .82 .82 .82 .83 .83 .83 .83 .84 .84 .9 .95 .98 .7 .41 .16"/><feFuncB type="discrete" tableValues=".89 .89 .89 .9 .9 .9 .9 .9 .9 .9 .9 .9 .9 .9 .91 .91 .91 .91 .93 .9 .81 .45 .24 .11"/></feComponentTransfer></filter><filter id="f4b" x="-.01" y="-.1" width="1.02" height="1.2"><feComponentTransfer><feFuncR type="discrete" tableValues=".54 .58 .6 .62 .63 .65 .66 .67 .68 .69 .7 .71 .72 .74 .79 .9 .95 .98 .99 .99 .99 .98 .98 .97"/><feFuncG type="discrete" tableValues=".77 .79 .8 .81 .82 .82 .83 .84 .84 .85 .85 .86 .86 .87 .9 .95 .97 .99 .91 .68 .49 .33 .2 .16"/><feFuncB type="discrete" tableValues=".88 .89 .89 .89 .9 .9 .91 .91 .91 .91 .91 .92 .92 .92 .93 .9 .84 .76 .61 .43 .29 .19 .13 .11"/></feComponentTransfer></filter><filter id="f5a" x="-.01" y="-.1" width="1.02" height="1.2"><feComponentTransfer><feFuncR type="discrete" tableValues=".11 .13 .18 .23 .32 .38 .44 .49 .54 .59 .65 .7 .75 .81 .85 .89 .93 .95 .98 .99 .99 .99 .98 .97"/><feFuncG type="discrete" tableValues=".47 .48 .52 .57 .62 .67 .71 .74 .77 .79 .82 .85 .88 .91 .93 .95 .96 .97 .99 .92 .7 .44 .23 .16"/><feFuncB type="discrete" tableValues=".74 .75 .77 .78 .81 .83 .85 .86 .88 .89 .9 .91 .93 .94 .93 .91 .88 .83 .77 .64 .45 .26 .15 .11"/></feComponentTransfer></filter><filter id="f5b" x="-.01" y="-.1" width="1.02" height="1.2"><feComponentTransfer><feFuncR type="discrete" tableValues=".12 .2 .26 .35 .45 .52 .58 .64 .7 .76 .83 .87 .92 .95 .97 .98 .99 .99 .99 .99 .99 .98 .97 .97"/><feFuncG type="discrete" tableValues=".47 .54 .58 .65 .71 .75 .79 .82 .85 .88 .92 .94 .96 .97 .98 .98 .94 .9 .81 .67 .47 .29 .16 .16"/><feFuncB type="discrete" tableValues=".74 .77 .79 .82 .85 .87 .89 .9 .92 .93 .94 .92 .89 .84 .79 .74 .67 .6 .53 .42 .28 .18 .11 .11"/></feComponentTransfer></filter><filter id="f6a" x="-.01" y="-.1" width="1.02" height="1.2"><feComponentTransfer><feFuncR type="discrete" tableValues="0 0 0 0 0 0 0 0 0 0 0 0 0 0 0 .04 .14 .3 .49 .66 .81 .94 1 1"/><feFuncG type="discrete" tableValues=".59 .52 .48 .44 .39 .36 .33 .3 .27 .25 .22 .19 .15 .09 .03 0 0 0 0 0 0 0 0 0"/><feFuncB type="discrete" tableValues="0 0 0 0 0 0 0 0 0 0 0 0 0 0 0 0 0 0 0 0 0 0 0 0"/></feComponentTransfer></filter><filter id="f6b" x="-.01" y="-.1" width="1.02" height="1.2"><feComponentTransfer><feFuncR type="discrete" tableValues="0 0 0 0 0 0 0 0 0 0 0 0 0 0 .05 .14 .27 .44 .58 .72 .86 .99 1 1"/><feFuncG type="discrete" tableValues=".66 .56 .51 .46 .4 .36 .32 .28 .25 .21 .17 .13 .08 .02 0 0 0 0 0 0 0 0 0 0"/><feFuncB type="discrete" tableValues="0 0 0 0 0 0 0 0 0 0 0 0 0 0 0 0 0 0 0 0 0 0 0 0"/></feComponentTransfer></filter><filter id="f7a" x="-.01" y="-.1" width="1.02" height="1.2"><feComponentTransfer><feFuncR type="discrete" tableValues="0 0 0 0 0 0 0 0 0 0 0 0 0 0 0 0 0 0 .08 .55 .75 .87 .97 1"/><feFuncG type="discrete" tableValues=".3 .28 .27 .25 .24 .23 .22 .22 .21 .2 .2 .19 .18 .18 .17 .16 .15 .12 0 0 0 0 0 0"/><feFuncB type="discrete" tableValues="0 0 0 0 0 0 0 0 0 0 0 0 0 0 0 0 0 0 0 0 0 0 0 0"/></feComponentTransfer></filter><filter id="f7b" x="-.01" y="-.1" width="1.02" height="1.2"><feComponentTransfer><feFuncR type="discrete" tableValues="0 0 0 0 0 0 0 0 0 0 0 0 0 0 0 0 0 0 0 .41 .71 .85 .95 1"/><feFuncG type="discrete" tableValues=".3 .28 .27 .25 .24 .23 .22 .22 .21 .2 .2 .19 .19 .18 .17 .16 .15 .14 .06 0 0 0 0 0"/><feFuncB type="discrete" tableValues="0 0 0 0 0 0 0 0 0 0 0 0 0 0 0 0 0 0 0 0 0 0 0 0"/></feComponentTransfer></filter><filter id="f8a" x="-.01" y="-.1" width="1.02" height="1.2"><feComponentTransfer><feFuncR type="discrete" tableValues="0 0 0 0 0 0 0 0 0 0 0 0 0 0 0 0 0 0 0 .51 .75 .9 1 1"/><feFuncG type="discrete" tableValues=".65 .58 .54 .48 .43 .38 .35 .32 .3 .29 .27 .26 .24 .23 .21 .19 .17 .13 0 0 0 0 0 0"/><feFuncB type="discrete" tableValues="0 0 0 0 0 0 0 0 0 0 0 0 0 0 0 0 0 0 0 0 0 0 0 0"/></feComponentTransfer></filter><filter id="f8b" x="-.01" y="-.1" width="1.02" height="1.2"><feComponentTransfer><feFuncR type="discrete" tableValues="0 0 0 0 0 0 0 0 0 0 0 0 0 0 0 0 0 0 .09 .51 .75 .91 1 1"/><feFuncG type="discrete" tableValues=".6 .53 .49 .44 .39 .36 .33 .31 .29 .28 .26 .25 .23 .21 .2 .17 .14 .08 0 0 0 0 0 0"/><feFuncB type="discrete" tableValues="0 0 0 0 0 0 0 0 0 0 0 0 0 0 0 0 0 0 0 0 0 0 0 0"/></feComponentTransfer></filter><filter id="f9a" x="-.01" y="-.1" width="1.02" height="1.2"><feComponentTransfer><feFuncR type="discrete" tableValues="0 0 0 0 0 0 0 0 0 0 0 0 0 .02 .13 .3 .45 .56 .65 .75 .85 .95 1 1"/><feFuncG type="discrete" tableValues=".75 .66 .6 .53 .47 .42 .37 .33 .29 .24 .19 .13 .07 0 0 0 0 0 0 0 0 0 0 0"/><feFuncB type="discrete" tableValues="0 0 0 0 0 0 0 0 0 0 0 0 0 0 0 0 0 0 0 0 0 0 0 0"/></feComponentTransfer></filter><filter id="f9b" x="-.01" y="-.1" width="1.02" height="1.2"><feComponentTransfer><feFuncR type="discrete" tableValues="0 0 0 0 0 0 0 0 0 0 0 0 .02 .13 .28 .43 .53 .61 .69 .77 .87 .97 1 1"/><feFuncG type="discrete" tableValues=".92 .78 .71 .62 .54 .47 .4 .34 .28 .21 .13 .06 0 0 0 0 0 0 0 0 0 0 0 0"/><feFuncB type="discrete" tableValues="0 0 0 0 0 0 0 0 0 0 0 0 0 0 0 0 0 0 0 0 0 0 0 0"/></feComponentTransfer></filter><filter id="f10a" x="-.01" y="-.1" width="1.02" height="1.2"><feComponentTransfer><feFuncR type="discrete" tableValues="0 0 0 0 0 0 0 0 0 0 0 0 0 0 0 0 0 0 0 0 0 0 0 0"/><feFuncG type="discrete" tableValues=".03 .03 .02 .02 .02 .02 .02 .02 .02 .02 .02 .02 .02 .02 .02 .02 .02 .02 .02 .02 .02 .02 .01 .01"/><feFuncB type="discrete" tableValues="0 0 0 0 0 0 0 0 0 0 0 0 0 0 0 0 0 0 0 0 0 0 0 0"/></feComponentTransfer></filter><filter id="f10b" x="-.01" y="-.1" width="1.02" height="1.2"><feComponentTransfer><feFuncR type="discrete" tableValues="0 0 0 0 0 0 0 0 0 0 0 0 0 0 0 0 0 0 0 0 0 0 0 .85"/><feFuncG type="discrete" tableValues=".03 .03 .02 .02 .02 .02 .02 .02 .02 .02 .02 .02 .02 .02 .02 .02 .02 .02 .02 .02 .02 .02 .01 0"/><feFuncB type="discrete" tableValues="0 0 0 0 0 0 0 0 0 0 0 0 0 0 0 0 0 0 0 0 0 0 0 0"/></feComponentTransfer></filter><filter id="f11a" x="-.01" y="-.1" width="1.02" height="1.2"><feComponentTransfer><feFuncR type="discrete" tableValues="0 0 0 0 0 0 0 0 0 0 0 0 0 .05 .13 .23 .36 .49 .6 .71 .84 .96 1 1"/><feFuncG type="discrete" tableValues="1 .88 .79 .69 .6 .52 .45 .38 .31 .24 .16 .09 .02 0 0 0 0 0 0 0 0 0 0 0"/><feFuncB type="discrete" tableValues="0 0 0 0 0 0 0 0 0 0 0 0 0 0 0 0 0 0 0 0 0 0 0 0"/></feComponentTransfer></filter><filter id="f11b" x="-.01" y="-.1" width="1.02" height="1.2"><feComponentTransfer><feFuncR type="discrete" tableValues="0 0 0 0 0 0 0 0 0 0 0 0 0 .02 .11 .23 .37 .49 .6 .71 .84 .96 1 1"/><feFuncG type="discrete" tableValues="1 .89 .8 .71 .61 .54 .48 .42 .36 .29 .22 .14 .07 0 0 0 0 0 0 0 0 0 0 0"/><feFuncB type="discrete" tableValues="0 0 0 0 0 0 0 0 0 0 0 0 0 0 0 0 0 0 0 0 0 0 0 0"/></feComponentTransfer></filter><filter id="f12a" x="-.01" y="-.1" width="1.02" height="1.2"><feComponentTransfer><feFuncR type="discrete" tableValues="0 0 0 0 0 0 0 0 0 0 0 0 0 0 0 0 0 0 .08 .46 .7 .86 .98 1"/><feFuncG type="discrete" tableValues=".25 .24 .22 .21 .21 .2 .19 .19 .18 .18 .17 .17 .16 .16 .15 .14 .14 .12 0 0 0 0 0 0"/><feFuncB type="discrete" tableValues="0 0 0 0 0 0 0 0 0 0 0 0 0 0 0 0 0 0 0 0 0 0 0 0"/></feComponentTransfer></filter><filter id="f12b" x="-.01" y="-.1" width="1.02" height="1.2"><feComponentTransfer><feFuncR type="discrete" tableValues="0 0 0 0 0 0 0 0 0 0 0 0 0 0 0 0 0 0 .08 .45 .7 .86 .98 1"/><feFuncG type="discrete" tableValues=".25 .23 .23 .21 .21 .2 .19 .19 .18 .18 .17 .17 .16 .16 .15 .14 .14 .12 0 0 0 0 0 0"/><feFuncB type="discrete" tableValues="0 0 0 0 0 0 0 0 0 0 0 0 0 0 0 0 0 0 0 0 0 0 0 0"/></feComponentTransfer></filter><filter id="f13a" x="-.01" y="-.1" width="1.02" height="1.2"><feComponentTransfer><feFuncR type="discrete" tableValues="0 0 0 0 0 0 0 0 0 0 0 0 0 .06 .16 .28 .41 .51 .6 .69 .8 .9 .99 1"/><feFuncG type="discrete" tableValues=".91 .79 .71 .63 .55 .49 .43 .37 .31 .25 .18 .11 .02 0 0 0 0 0 0 0 0 0 0 0"/><feFuncB type="discrete" tableValues="0 0 0 0 0 0 0 0 0 0 0 0 0 0 0 0 0 0 0 0 0 0 0 0"/></feComponentTransfer></filter><filter id="f13b" x="-.01" y="-.1" width="1.02" height="1.2"><feComponentTransfer><feFuncR type="discrete" tableValues="0 0 0 0 0 0 0 0 0 0 0 0 0 0 0 .05 .15 .3 .47 .61 .74 .85 .96 1"/><feFuncG type="discrete" tableValues="1 .9 .83 .75 .67 .61 .56 .5 .45 .4 .34 .26 .19 .11 .03 0 0 0 0 0 0 0 0 0"/><feFuncB type="discrete" tableValues="0 0 0 0 0 0 0 0 0 0 0 0 0 0 0 0 0 0 0 0 0 0 0 0"/></feComponentTransfer></filter><filter id="f14a" x="-.01" y="-.1" width="1.02" height="1.2"><feComponentTransfer><feFuncR type="discrete" tableValues="0 0 0 0 0 0 0 0 0 0 0 0 0 0 .01 .1 .24 .38 .49 .6 .72 .83 .93 1"/><feFuncG type="discrete" tableValues=".93 .81 .74 .67 .6 .54 .5 .45 .4 .36 .3 .24 .17 .09 0 0 0 0 0 0 0 0 0 0"/><feFuncB type="discrete" tableValues="0 0 0 0 0 0 0 0 0 0 0 0 0 0 0 0 0 0 0 0 0 0 0 0"/></feComponentTransfer></filter><filter id="f14b" x="-.01" y="-.1" width="1.02" height="1.2"><feComponentTransfer><feFuncR type="discrete" tableValues="0 0 0 0 0 0 0 0 0 0 0 0 0 .01 .11 .23 .36 .46 .55 .64 .74 .84 .94 1"/><feFuncG type="discrete" tableValues=".98 .84 .77 .68 .6 .54 .48 .42 .37 .3 .23 .16 .07 0 0 0 0 0 0 0 0 0 0 0"/><feFuncB type="discrete" tableValues="0 0 0 0 0 0 0 0 0 0 0 0 0 0 0 0 0 0 0 0 0 0 0 0"/></feComponentTransfer></filter><filter id="f15a" x="-.01" y="-.1" width="1.02" height="1.2"><feComponentTransfer><feFuncR type="discrete" tableValues="0 0 0 0 0 0 0 0 0 0 0 0 0 0 0 0 0 0 0 0 0 0 .7 1"/><feFuncG type="discrete" tableValues=".09 .08 .08 .07 .07 .07 .07 .07 .06 .06 .06 .06 .06 .06 .06 .05 .05 .05 .05 .05 .04 .04 0 0"/><feFuncB type="discrete" tableValues="0 0 0 0 0 0 0 0 0 0 0 0 0 0 0 0 0 0 0 0 0 0 0 0"/></feComponentTransfer></filter><filter id="f15b" x="-.01" y="-.1" width="1.02" height="1.2"><feComponentTransfer><feFuncR type="discrete" tableValues="0 0 0 0 0 0 0 0 0 0 0 0 0 0 0 0 0 0 0 0 0 .6 .86 1"/><feFuncG type="discrete" tableValues=".09 .08 .08 .07 .07 .07 .07 .07 .06 .06 .06 .06 .06 .06 .06 .05 .05 .05 .05 .05 .04 0 0 0"/><feFuncB type="discrete" tableValues="0 0 0 0 0 0 0 0 0 0 0 0 0 0 0 0 0 0 0 0 0 0 0 0"/></feComponentTransfer></filter><filter id="f16a" x="-.01" y="-.1" width="1.02" height="1.2"><feComponentTransfer><feFuncR type="discrete" tableValues="0 0 0 0 0 0 0 0 0 0 0 0 0 0 0 0 .06 .38 .57 .7 .83 .95 1 1"/><feFuncG type="discrete" tableValues=".25 .23 .22 .21 .2 .2 .19 .18 .18 .17 .17 .16 .15 .15 .14 .12 0 0 0 0 0 0 0 0"/><feFuncB type="discrete" tableValues="0 0 0 0 0 0 0 0 0 0 0 0 0 0 0 0 0 0 0 0 0 0 0 0"/></feComponentTransfer></filter><filter id="f16b" x="-.01" y="-.1" width="1.02" height="1.2"><feComponentTransfer><feFuncR type="discrete" tableValues="0 0 0 0 0 0 0 0 0 0 0 0 0 0 0 0 0 0 .07 .46 .71 .86 .97 1"/><feFuncG type="discrete" tableValues=".25 .23 .22 .21 .21 .2 .19 .19 .18 .18 .17 .17 .16 .16 .15 .14 .14 .12 0 0 0 0 0 0"/><feFuncB type="discrete" tableValues="0 0 0 0 0 0 0 0 0 0 0 0 0 0 0 0 0 0 0 0 0 0 0 0"/></feComponentTransfer></filter><filter id="f17a" x="-.01" y="-.1" width="1.02" height="1.2"><feComponentTransfer><feFuncR type="discrete" tableValues="0 0 0 0 0 0 0 0 0 0 0 0 0 0 0 .1 .23 .39 .53 .66 .8 .93 1 1"/><feFuncG type="discrete" tableValues=".7 .62 .57 .51 .46 .42 .38 .35 .32 .28 .25 .2 .15 .08 0 0 0 0 0 0 0 0 0 0"/><feFuncB type="discrete" tableValues="0 0 0 0 0 0 0 0 0 0 0 0 0 0 0 0 0 0 0 0 0 0 0 0"/></feComponentTransfer></filter><filter id="f17b" x="-.01" y="-.1" width="1.02" height="1.2"><feComponentTransfer><feFuncR type="discrete" tableValues="0 0 0 0 0 0 0 0 0 0 0 0 0 0 .04 .12 .24 .39 .53 .66 .8 .93 1 1"/><feFuncG type="discrete" tableValues=".7 .61 .56 .51 .45 .41 .37 .33 .3 .26 .21 .16 .1 .04 0 0 0 0 0 0 0 0 0 0"/><feFuncB type="discrete" tableValues="0 0 0 0 0 0 0 0 0 0 0 0 0 0 0 0 0 0 0 0 0 0 0 0"/></feComponentTransfer></filter><filter id="f18a" x="-.01" y="-.1" width="1.02" height="1.2"><feComponentTransfer><feFuncR type="discrete" tableValues="0 0 0 0 0 0 0 0 0 0 0 0 0 0 0 0 0 .07 .25 .5 .69 .85 .97 1"/><feFuncG type="discrete" tableValues=".37 .34 .32 .3 .28 .26 .25 .24 .23 .21 .2 .19 .17 .16 .13 .09 .01 0 0 0 0 0 0 0"/><feFuncB type="discrete" tableValues="0 0 0 0 0 0 0 0 0 0 0 0 0 0 0 0 0 0 0 0 0 0 0 0"/></feComponentTransfer></filter><filter id="f18b" x="-.01" y="-.1" width="1.02" height="1.2"><feComponentTransfer><feFuncR type="discrete" tableValues="0 0 0 0 0 0 0 0 0 0 0 0 0 0 0 .02 .09 .23 .44 .6 .76 .9 1 1"/><feFuncG type="discrete" tableValues=".38 .33 .31 .28 .26 .24 .22 .2 .18 .17 .15 .13 .11 .07 .03 0 0 0 0 0 0 0 0 0"/><feFuncB type="discrete" tableValues="0 0 0 0 0 0 0 0 0 0 0 0 0 0 0 0 0 0 0 0 0 0 0 0"/></feComponentTransfer></filter><filter id="f19a" x="-.01" y="-.1" width="1.02" height="1.2"><feComponentTransfer><feFuncR type="discrete" tableValues="0 0 0 0 0 0 0 0 0 0 0 0 0 0 .03 .08 .17 .34 .48 .6 .74 .87 .99 1"/><feFuncG type="discrete" tableValues=".65 .56 .51 .46 .4 .36 .32 .28 .24 .2 .16 .11 .07 .02 0 0 0 0 0 0 0 0 0 0"/><feFuncB type="discrete" tableValues="0 0 0 0 0 0 0 0 0 0 0 0 0 0 0 0 0 0 0 0 0 0 0 0"/></feComponentTransfer></filter><filter id="f19b" x="-.01" y="-.1" width="1.02" height="1.2"><feComponentTransfer><feFuncR type="discrete" tableValues="0 0 0 0 0 0 0 0 0 0 0 0 0 0 .02 .08 .18 .35 .49 .61 .75 .89 1 1"/><feFuncG type="discrete" tableValues=".66 .56 .51 .45 .4 .36 .32 .28 .24 .2 .16 .12 .07 .02 0 0 0 0 0 0 0 0 0 0"/><feFuncB type="discrete" tableValues="0 0 0 0 0 0 0 0 0 0 0 0 0 0 0 0 0 0 0 0 0 0 0 0"/></feComponentTransfer></filter><filter id="f20a" x="-.01" y="-.1" width="1.02" height="1.2"><feComponentTransfer><feFuncR type="discrete" tableValues="0 0 0 0 0 0 0 0 0 0 0 0 0 0 .05 .13 .29 .45 .57 .69 .82 .94 1 1"/><feFuncG type="discrete" tableValues=".84 .73 .66 .58 .51 .45 .4 .35 .3 .24 .18 .12 .06 .01 0 0 0 0 0 0 0 0 0 0"/><feFuncB type="discrete" tableValues="0 0 0 0 0 0 0 0 0 0 0 0 0 0 0 0 0 0 0 0 0 0 0 0"/></feComponentTransfer></filter><filter id="f20b" x="-.01" y="-.1" width="1.02" height="1.2"><feComponentTransfer><feFuncR type="discrete" tableValues="0 0 0 0 0 0 0 0 0 0 0 0 0 .07 .18 .34 .45 .55 .65 .75 .87 .98 1 1"/><feFuncG type="discrete" tableValues=".87 .74 .67 .59 .52 .46 .4 .35 .29 .21 .14 .06 0 0 0 0 0 0 0 0 0 0 0 0"/><feFuncB type="discrete" tableValues="0 0 0 0 0 0 0 0 0 0 0 0 0 0 0 0 0 0 0 0 0 0 0 0"/></feComponentTransfer></filter><filter id="f21a" x="-.01" y="-.1" width="1.02" height="1.2"><feComponentTransfer><feFuncR type="discrete" tableValues="0 0 0 0 0 0 0 0 0 0 0 0 0 0 0 0 0 .08 .26 .45 .62 .77 .89 1"/><feFuncG type="discrete" tableValues=".95 .83 .76 .69 .62 .56 .52 .47 .43 .39 .35 .3 .25 .2 .15 .09 .02 0 0 0 0 0 0 0"/><feFuncB type="discrete" tableValues="0 0 0 0 0 0 0 0 0 0 0 0 0 0 0 0 0 0 0 0 0 0 0 0"/></feComponentTransfer></filter><filter id="f21b" x="-.01" y="-.1" width="1.02" height="1.2"><feComponentTransfer><feFuncR type="discrete" tableValues="0 0 0 0 0 0 0 0 0 0 0 .01 .07 .15 .26 .35 .43 .5 .57 .65 .74 .84 .93 1"/><feFuncG type="discrete" tableValues="1 .86 .77 .67 .57 .49 .41 .33 .23 .13 .05 0 0 0 0 0 0 0 0 0 0 0 0 0"/><feFuncB type="discrete" tableValues="0 0 0 0 0 0 0 0 0 0 0 0 0 0 0 0 0 0 0 0 0 0 0 0"/></feComponentTransfer></filter><filter id="f22a" x="-.01" y="-.1" width="1.02" height="1.2"><feComponentTransfer><feFuncR type="discrete" tableValues="0 0 0 0 0 0 0 0 0 0 0 0 0 0 0 0 0 0 0 .22 .61 .8 .93 1"/><feFuncG type="discrete" tableValues=".25 .24 .23 .22 .21 .2 .19 .19 .18 .18 .17 .17 .16 .16 .15 .15 .14 .13 .1 0 0 0 0 0"/><feFuncB type="discrete" tableValues="0 0 0 0 0 0 0 0 0 0 0 0 0 0 0 0 0 0 0 0 0 0 0 0"/></feComponentTransfer></filter><filter id="f22b" x="-.01" y="-.1" width="1.02" height="1.2"><feComponentTransfer><feFuncR type="discrete" tableValues="0 0 0 0 0 0 0 0 0 0 0 0 0 0 0 0 0 0 .08 .45 .7 .87 .98 1"/><feFuncG type="discrete" tableValues=".25 .24 .22 .21 .21 .2 .19 .19 .18 .18 .17 .17 .16 .16 .15 .14 .13 .12 0 0 0 0 0 0"/><feFuncB type="discrete" tableValues="0 0 0 0 0 0 0 0 0 0 0 0 0 0 0 0 0 0 0 0 0 0 0 0"/></feComponentTransfer></filter><filter id="f23a" x="-.01" y="-.1" width="1.02" height="1.2"><feComponentTransfer><feFuncR type="discrete" tableValues="0 0 0 0 0 0 0 0 0 0 0 0 0 0 0 0 0 0 0 .21 .62 .8 .94 1"/><feFuncG type="discrete" tableValues=".25 .23 .23 .22 .21 .2 .19 .19 .18 .18 .17 .17 .16 .16 .15 .15 .14 .13 .1 0 0 0 0 0"/><feFuncB type="discrete" tableValues="0 0 0 0 0 0 0 0 0 0 0 0 0 0 0 0 0 0 0 0 0 0 0 0"/></feComponentTransfer></filter><filter id="f23b" x="-.01" y="-.1" width="1.02" height="1.2"><feComponentTransfer><feFuncR type="discrete" tableValues="0 0 0 0 0 0 0 0 0 0 0 0 0 0 0 0 0 0 0 .31 .65 .82 .95 1"/><feFuncG type="discrete" tableValues=".25 .23 .22 .21 .21 .2 .19 .19 .18 .18 .17 .17 .16 .16 .15 .15 .14 .13 .06 0 0 0 0 0"/><feFuncB type="discrete" tableValues="0 0 0 0 0 0 0 0 0 0 0 0 0 0 0 0 0 0 0 0 0 0 0 0"/></feComponentTransfer></filter><filter id="f24a" x="-.01" y="-.1" width="1.02" height="1.2"><feComponentTransfer><feFuncR type="discrete" tableValues="0 0 0 0 0 0 0 0 0 0 0 0 0 0 0 0 0 0 .07 .45 .7 .85 .98 1"/><feFuncG type="discrete" tableValues=".37 .35 .33 .32 .3 .29 .28 .27 .26 .25 .25 .24 .23 .22 .21 .2 .18 .15 0 0 0 0 0 0"/><feFuncB type="discrete" tableValues="0 0 0 0 0 0 0 0 0 0 0 0 0 0 0 0 0 0 0 0 0 0 0 0"/></feComponentTransfer></filter><filter id="f24b" x="-.01" y="-.1" width="1.02" height="1.2"><feComponentTransfer><feFuncR type="discrete" tableValues="0 0 0 0 0 0 0 0 0 0 0 0 0 0 0 0 .09 .33 .51 .64 .78 .89 1 1"/><feFuncG type="discrete" tableValues=".33 .29 .27 .25 .23 .21 .2 .19 .18 .17 .15 .14 .13 .11 .09 .05 0 0 0 0 0 0 0 0"/><feFuncB type="discrete" tableValues="0 0 0 0 0 0 0 0 0 0 0 0 0 0 0 0 0 0 0 0 0 0 0 0"/></feComponentTransfer></filter><filter id="f25a" x="-.01" y="-.1" width="1.02" height="1.2"><feComponentTransfer><feFuncR type="discrete" tableValues="0 0 0 0 0 0 0 0 0 0 0 0 0 0 0 0 .13 .34 .52 .65 .78 .9 1 1"/><feFuncG type="discrete" tableValues=".59 .53 .5 .46 .43 .4 .38 .36 .34 .32 .3 .27 .24 .2 .12 0 0 0 0 0 0 0 0 0"/><feFuncB type="discrete" tableValues="0 0 0 0 0 0 0 0 0 0 0 0 0 0 0 0 0 0 0 0 0 0 0 0"/></feComponentTransfer></filter><filter id="f25b" x="-.01" y="-.1" width="1.02" height="1.2"><feComponentTransfer><feFuncR type="discrete" tableValues="0 0 0 0 0 0 0 0 0 0 0 0 0 0 0 .12 .32 .48 .59 .7 .82 .92 1 1"/><feFuncG type="discrete" tableValues=".59 .53 .5 .46 .42 .4 .37 .35 .33 .3 .28 .25 .2 .12 0 0 0 0 0 0 0 0 0 0"/><feFuncB type="discrete" tableValues="0 0 0 0 0 0 0 0 0 0 0 0 0 0 0 0 0 0 0 0 0 0 0 0"/></feComponentTransfer></filter><filter id="f26a" x="-.01" y="-.1" width="1.02" height="1.2"><feComponentTransfer><feFuncR type="discrete" tableValues="0 0 0 0 0 0 0 0 0 0 0 0 0 0 0 0 0 0 0 0 0 0 0 .99"/><feFuncG type="discrete" tableValues=".07 .06 .06 .05 .05 .05 .05 .05 .04 .04 .04 .04 .04 .04 .04 .04 .03 .03 .03 .03 .02 .02 0 0"/><feFuncB type="discrete" tableValues="0 0 0 0 0 0 0 0 0 0 0 0 0 0 0 0 0 0 0 0 0 0 0 0"/></feComponentTransfer></filter><filter id="f26b" x="-.01" y="-.1" width="1.02" height="1.2"><feComponentTransfer><feFuncR type="discrete" tableValues="0 0 0 0 0 0 0 0 0 0 0 0 0 0 0 0 0 0 0 0 0 .58 .86 1"/><feFuncG type="discrete" tableValues=".07 .06 .06 .05 .05 .05 .05 .05 .04 .04 .04 .04 .04 .04 .04 .03 .03 .03 .03 .03 .02 0 0 0"/><feFuncB type="discrete" tableValues="0 0 0 0 0 0 0 0 0 0 0 0 0 0 0 0 0 0 0 0 0 0 0 0"/></feComponentTransfer></filter><filter id="f27a" x="-.01" y="-.1" width="1.02" height="1.2"><feComponentTransfer><feFuncR type="discrete" tableValues="0 0 0 0 0 0 0 0 0 0 0 0 0 0 0 0 0 0 0 .22 .61 .8 .94 1"/><feFuncG type="discrete" tableValues=".25 .24 .22 .22 .21 .2 .19 .19 .18 .18 .17 .17 .16 .16 .15 .15 .14 .13 .1 0 0 0 0 0"/><feFuncB type="discrete" tableValues="0 0 0 0 0 0 0 0 0 0 0 0 0 0 0 0 0 0 0 0 0 0 0 0"/></feComponentTransfer></filter><filter id="f27b" x="-.01" y="-.1" width="1.02" height="1.2"><feComponentTransfer><feFuncR type="discrete" tableValues="0 0 0 0 0 0 0 0 0 0 0 0 0 0 0 0 0 0 .08 .46 .7 .86 .98 1"/><feFuncG type="discrete" tableValues=".25 .24 .22 .21 .21 .2 .19 .19 .18 .18 .17 .17 .16 .16 .15 .14 .13 .12 0 0 0 0 0 0"/><feFuncB type="discrete" tableValues="0 0 0 0 0 0 0 0 0 0 0 0 0 0 0 0 0 0 0 0 0 0 0 0"/></feComponentTransfer></filter><filter id="f28a" x="-.01" y="-.1" width="1.02" height="1.2"><feComponentTransfer><feFuncR type="discrete" tableValues=".06 .09 .12 .14 .16 .18 .2 .22 .23 .25 .27 .29 .31 .34 .38 .43 .46 .49 .55 .79 .89 .96 1 1"/><feFuncG type="discrete" tableValues=".06 .09 .12 .14 .16 .18 .2 .22 .23 .25 .27 .29 .31 .34 .38 .43 .46 .49 .55 .77 .88 .96 1 1"/><feFuncB type="discrete" tableValues=".92 .89 .87 .85 .83 .81 .8 .79 .78 .77 .75 .74 .72 .69 .63 .59 .55 .52 .44 .06 0 0 0 0"/></feComponentTransfer></filter><filter id="f28b" x="-.01" y="-.1" width="1.02" height="1.2"><feComponentTransfer><feFuncR type="discrete" tableValues=".07 .1 .12 .15 .17 .19 .21 .23 .24 .26 .29 .32 .36 .42 .45 .48 .52 .57 .72 .81 .89 .96 1 1"/><feFuncG type="discrete" tableValues=".07 .1 .12 .15 .17 .19 .21 .23 .24 .26 .29 .32 .36 .42 .45 .48 .52 .57 .7 .79 .88 .95 1 1"/><feFuncB type="discrete" tableValues=".91 .88 .86 .84 .82 .81 .79 .78 .77 .75 .74 .72 .67 .59 .56 .52 .48 .4 .19 .01 0 0 0 0"/></feComponentTransfer></filter><filter id="f29a" x="-.01" y="-.1" width="1.02" height="1.2"><feComponentTransfer><feFuncR type="discrete" tableValues=".22 .24 .25 .26 .28 .28 .29 .3 .3 .31 .32 .32 .32 .33 .33 .34 .35 .36 .4 .49 .73 .89 .97 1"/><feFuncG type="discrete" tableValues=".22 .24 .25 .26 .28 .28 .29 .3 .3 .31 .32 .32 .32 .33 .33 .34 .35 .36 .4 .49 .71 .88 .96 1"/><feFuncB type="discrete" tableValues=".78 .77 .76 .75 .75 .74 .74 .73 .73 .72 .72 .71 .71 .7 .7 .69 .68 .66 .61 .51 .17 0 0 0"/></feComponentTransfer></filter><filter id="f29b" x="-.01" y="-.1" width="1.02" height="1.2"><feComponentTransfer><feFuncR type="discrete" tableValues=".22 .24 .25 .26 .28 .29 .29 .3 .31 .31 .32 .32 .33 .33 .34 .35 .36 .43 .51 .62 .85 .93 1 1"/><feFuncG type="discrete" tableValues=".22 .24 .25 .26 .28 .29 .29 .3 .31 .31 .32 .32 .33 .33 .34 .35 .36 .43 .51 .61 .84 .93 1 1"/><feFuncB type="discrete" tableValues=".78 .77 .76 .75 .75 .74 .74 .73 .73 .72 .72 .71 .7 .7 .69 .68 .66 .58 .5 .34 0 0 0 0"/></feComponentTransfer></filter><filter id="f30a" x="-.01" y="-.1" width="1.02" height="1.2"><feComponentTransfer><feFuncR type="discrete" tableValues=".03 .06 .08 .09 .12 .13 .15 .16 .18 .19 .21 .23 .25 .29 .36 .43 .46 .5 .56 .73 .85 .95 1 1"/><feFuncG type="discrete" tableValues=".03 .06 .08 .09 .12 .13 .15 .16 .18 .19 .21 .23 .25 .29 .36 .43 .46 .5 .56 .7 .84 .94 1 1"/><feFuncB type="discrete" tableValues=".95 .92 .9 .89 .87 .85 .84 .83 .82 .8 .79 .78 .76 .74 .67 .59 .54 .5 .42 .18 0 0 0 0"/></feComponentTransfer></filter><filter id="f30b" x="-.01" y="-.1" width="1.02" height="1.2"><feComponentTransfer><feFuncR type="discrete" tableValues=".02 .02 .02 .04 .06 .08 .1 .12 .14 .16 .18 .2 .23 .28 .37 .44 .49 .55 .71 .81 .9 .98 1 1"/><feFuncG type="discrete" tableValues=".02 .02 .02 .04 .06 .08 .1 .12 .14 .16 .18 .2 .23 .28 .37 .44 .49 .55 .68 .79 .89 .98 1 1"/><feFuncB type="discrete" tableValues=".97 .96 .96 .94 .92 .9 .88 .87 .85 .84 .82 .8 .78 .74 .65 .57 .52 .43 .21 .02 0 0 0 0"/></feComponentTransfer></filter><filter id="f31a" x="-.01" y="-.1" width="1.02" height="1.2"><feComponentTransfer><feFuncR type="discrete" tableValues=".02 .02 .04 .06 .08 .1 .12 .14 .16 .18 .2 .22 .25 .28 .33 .39 .44 .5 .67 .78 .86 .94 1 1"/><feFuncG type="discrete" tableValues=".02 .02 .04 .06 .08 .1 .12 .14 .16 .18 .2 .22 .25 .28 .33 .39 .44 .5 .65 .76 .85 .94 1 1"/><feFuncB type="discrete" tableValues=".97 .96 .94 .92 .9 .88 .86 .85 .83 .82 .8 .78 .77 .74 .7 .63 .57 .5 .26 .09 0 0 0 0"/></feComponentTransfer></filter><filter id="f31b" x="-.01" y="-.1" width="1.02" height="1.2"><feComponentTransfer><feFuncR type="discrete" tableValues=".01 .02 .02 .02 .04 .06 .07 .09 .1 .12 .15 .18 .23 .34 .42 .47 .52 .66 .75 .82 .89 .96 1 1"/><feFuncG type="discrete" tableValues=".01 .02 .02 .02 .04 .06 .07 .09 .1 .12 .15 .18 .23 .34 .42 .47 .52 .64 .73 .8 .88 .96 1 1"/><feFuncB type="discrete" tableValues=".97 .97 .96 .96 .94 .92 .91 .89 .88 .86 .84 .82 .78 .69 .59 .54 .47 .28 .14 0 0 0 0 0"/></feComponentTransfer></filter><filter id="f32a" x="-.01" y="-.1" width="1.02" height="1.2"><feComponentTransfer><feFuncR type="discrete" tableValues=".37 .37 .37 .37 .37 .37 .37 .37 .37 .37 .37 .37 .38 .38 .38 .38 .38 .38 .38 .38 .38 .38 .38 .38"/><feFuncG type="discrete" tableValues=".37 .37 .37 .37 .37 .37 .37 .37 .37 .37 .37 .37 .38 .38 .38 .38 .38 .38 .38 .38 .38 .38 .38 .38"/><feFuncB type="discrete" tableValues=".65 .65 .65 .65 .65 .65 .65 .65 .65 .65 .65 .65 .65 .65 .65 .65 .65 .64 .64 .64 .64 .64 .64 .64"/></feComponentTransfer></filter><filter id="f32b" x="-.01" y="-.1" width="1.02" height="1.2"><feComponentTransfer><feFuncR type="discrete" tableValues=".38 .38 .38 .38 .38 .38 .38 .38 .38 .38 .38 .38 .38 .38 .38 .38 .38 .38 .38 .38 .38 .38 .39 .91"/><feFuncG type="discrete" tableValues=".38 .38 .38 .38 .38 .38 .38 .38 .38 .38 .38 .38 .38 .38 .38 .38 .38 .38 .38 .38 .38 .38 .39 .9"/><feFuncB type="discrete" tableValues=".64 .64 .64 .64 .64 .64 .64 .64 .64 .64 .64 .64 .64 .64 .64 .64 .64 .64 .64 .64 .63 .63 .63 0"/></feComponentTransfer></filter><filter id="f33a" x="-.01" y="-.1" width="1.02" height="1.2"><feComponentTransfer><feFuncR type="discrete" tableValues=".01 .01 .01 .01 .02 .02 .02 .02 .04 .06 .09 .13 .19 .28 .37 .45 .53 .66 .75 .82 .9 .97 1 1"/><feFuncG type="discrete" tableValues=".01 .01 .01 .01 .02 .02 .02 .02 .04 .06 .09 .13 .19 .28 .37 .45 .53 .64 .73 .8 .89 .96 1 1"/><feFuncB type="discrete" tableValues=".99 .98 .98 .97 .97 .97 .96 .96 .94 .92 .89 .86 .81 .74 .65 .56 .46 .28 .13 0 0 0 0 0"/></feComponentTransfer></filter><filter id="f33b" x="-.01" y="-.1" width="1.02" height="1.2"><feComponentTransfer><feFuncR type="discrete" tableValues=".01 .01 .01 .02 .02 .02 .04 .07 .09 .13 .17 .24 .33 .42 .47 .52 .58 .67 .75 .81 .89 .96 1 1"/><feFuncG type="discrete" tableValues=".01 .01 .01 .02 .02 .02 .04 .07 .09 .13 .17 .24 .33 .42 .47 .52 .58 .65 .73 .8 .88 .96 1 1"/><feFuncB type="discrete" tableValues=".98 .98 .97 .97 .96 .96 .94 .91 .89 .86 .82 .77 .7 .6 .54 .48 .38 .27 .14 0 0 0 0 0"/></feComponentTransfer></filter><filter id="f34a" x="-.01" y="-.1" width="1.02" height="1.2"><feComponentTransfer><feFuncR type="discrete" tableValues=".19 .22 .23 .24 .25 .26 .27 .28 .28 .29 .29 .3 .3 .31 .32 .32 .33 .35 .45 .6 .85 .94 1 1"/><feFuncG type="discrete" tableValues=".19 .22 .23 .24 .25 .26 .27 .28 .28 .29 .29 .3 .3 .31 .32 .32 .33 .35 .45 .6 .84 .93 1 1"/><feFuncB type="discrete" tableValues=".8 .79 .78 .77 .76 .76 .75 .75 .74 .74 .74 .73 .73 .72 .72 .71 .7 .68 .55 .36 0 0 0 0"/></feComponentTransfer></filter><filter id="f34b" x="-.01" y="-.1" width="1.02" height="1.2"><feComponentTransfer><feFuncR type="discrete" tableValues=".2 .22 .23 .24 .25 .26 .27 .28 .28 .29 .3 .3 .31 .32 .32 .33 .34 .44 .54 .79 .89 .96 1 1"/><feFuncG type="discrete" tableValues=".2 .22 .23 .24 .25 .26 .27 .28 .28 .29 .3 .3 .31 .32 .32 .33 .34 .44 .54 .77 .88 .95 1 1"/><feFuncB type="discrete" tableValues=".8 .79 .78 .77 .76 .76 .75 .75 .74 .74 .73 .73 .72 .72 .71 .7 .68 .57 .44 .06 0 0 0 0"/></feComponentTransfer></filter><filter id="f35a" x="-.01" y="-.1" width="1.02" height="1.2"><feComponentTransfer><feFuncR type="discrete" tableValues=".01 .02 .02 .03 .06 .09 .12 .15 .18 .21 .25 .3 .35 .41 .47 .53 .65 .73 .79 .85 .92 .98 1 1"/><feFuncG type="discrete" tableValues=".01 .02 .02 .03 .06 .09 .12 .15 .18 .21 .25 .3 .35 .41 .47 .53 .63 .71 .77 .84 .91 .98 1 1"/><feFuncB type="discrete" tableValues=".97 .97 .96 .95 .92 .89 .87 .84 .82 .79 .76 .73 .68 .6 .54 .46 .3 .17 .05 0 0 0 0 0"/></feComponentTransfer></filter><filter id="f35b" x="-.01" y="-.1" width="1.02" height="1.2"><feComponentTransfer><feFuncR type="discrete" tableValues=".01 .01 .02 .02 .02 .05 .07 .1 .13 .17 .22 .3 .38 .44 .49 .55 .65 .73 .79 .85 .91 .98 1 1"/><feFuncG type="discrete" tableValues=".01 .01 .02 .02 .02 .05 .07 .1 .13 .17 .22 .3 .38 .44 .49 .55 .63 .71 .77 .83 .91 .98 1 1"/><feFuncB type="discrete" tableValues=".98 .97 .97 .97 .96 .93 .91 .88 .85 .82 .78 .73 .64 .57 .52 .43 .3 .18 .06 0 0 0 0 0"/></feComponentTransfer></filter><filter id="f36a" x="-.01" y="-.1" width="1.02" height="1.2"><feComponentTransfer><feFuncR type="discrete" tableValues=".01 .02 .02 .04 .07 .1 .13 .16 .19 .22 .25 .28 .32 .36 .42 .47 .53 .66 .75 .81 .89 .96 1 1"/><feFuncG type="discrete" tableValues=".01 .02 .02 .04 .07 .1 .13 .16 .19 .22 .25 .28 .32 .36 .42 .47 .53 .64 .73 .8 .88 .96 1 1"/><feFuncB type="discrete" tableValues=".97 .97 .96 .94 .91 .88 .86 .83 .81 .79 .76 .74 .71 .66 .6 .54 .45 .28 .14 0 0 0 0 0"/></feComponentTransfer></filter><filter id="f36b" x="-.01" y="-.1" width="1.02" height="1.2"><feComponentTransfer><feFuncR type="discrete" tableValues=".01 .01 .02 .02 .02 .05 .07 .1 .13 .17 .23 .3 .41 .47 .51 .57 .65 .73 .79 .85 .92 .98 1 1"/><feFuncG type="discrete" tableValues=".01 .01 .02 .02 .02 .05 .07 .1 .13 .17 .23 .3 .41 .47 .51 .57 .64 .71 .77 .83 .91 .98 1 1"/><feFuncB type="discrete" tableValues=".98 .97 .97 .97 .96 .93 .91 .88 .85 .82 .78 .73 .61 .54 .49 .4 .29 .17 .06 0 0 0 0 0"/></feComponentTransfer></filter><filter id="f37a" x="-.01" y="-.1" width="1.02" height="1.2"><feComponentTransfer><feFuncR type="discrete" tableValues=".35 .35 .35 .35 .36 .36 .36 .36 .36 .36 .36 .36 .37 .37 .37 .37 .37 .37 .37 .37 .38 .38 .9 1"/><feFuncG type="discrete" tableValues=".35 .35 .35 .35 .36 .36 .36 .36 .36 .36 .36 .36 .37 .37 .37 .37 .37 .37 .37 .37 .38 .38 .89 1"/><feFuncB type="discrete" tableValues=".68 .68 .67 .67 .67 .67 .66 .66 .66 .66 .66 .66 .66 .66 .66 .65 .65 .65 .65 .65 .64 .64 0 0"/></feComponentTransfer></filter><filter id="f37b" x="-.01" y="-.1" width="1.02" height="1.2"><feComponentTransfer><feFuncR type="discrete" tableValues=".36 .36 .36 .37 .37 .37 .37 .37 .37 .37 .37 .37 .38 .38 .38 .38 .38 .38 .38 .38 .39 .87 .94 1"/><feFuncG type="discrete" tableValues=".36 .36 .36 .37 .37 .37 .37 .37 .37 .37 .37 .37 .38 .38 .38 .38 .38 .38 .38 .38 .39 .86 .94 1"/><feFuncB type="discrete" tableValues=".67 .66 .66 .66 .66 .65 .65 .65 .65 .65 .65 .65 .65 .64 .64 .64 .64 .64 .64 .63 .63 0 0 0"/></feComponentTransfer></filter><filter id="f38a" x="-.01" y="-.1" width="1.02" height="1.2"><feComponentTransfer><feFuncR type="discrete" tableValues=".15 .17 .19 .21 .22 .23 .24 .25 .26 .27 .27 .28 .29 .3 .31 .32 .34 .42 .52 .79 .89 .96 1 1"/><feFuncG type="discrete" tableValues=".15 .17 .19 .21 .22 .23 .24 .25 .26 .27 .27 .28 .29 .3 .31 .32 .34 .42 .52 .77 .88 .95 1 1"/><feFuncB type="discrete" tableValues=".84 .82 .81 .8 .78 .78 .77 .76 .76 .75 .75 .74 .74 .73 .72 .71 .69 .59 .48 .06 0 0 0 0"/></feComponentTransfer></filter><filter id="f38b" x="-.01" y="-.1" width="1.02" height="1.2"><feComponentTransfer><feFuncR type="discrete" tableValues=".15 .17 .19 .21 .22 .23 .24 .25 .26 .27 .27 .28 .29 .3 .31 .32 .34 .41 .52 .79 .89 .96 1 1"/><feFuncG type="discrete" tableValues=".15 .17 .19 .21 .22 .23 .24 .25 .26 .27 .27 .28 .29 .3 .31 .32 .34 .41 .52 .77 .88 .96 1 1"/><feFuncB type="discrete" tableValues=".84 .82 .81 .8 .78 .78 .77 .76 .76 .75 .75 .74 .74 .73 .72 .71 .69 .6 .48 .06 0 0 0 0"/></feComponentTransfer></filter><filter id="f39a" x="-.01" y="-.1" width="1.02" height="1.2"><feComponentTransfer><feFuncR type="discrete" tableValues=".01 .02 .02 .03 .06 .08 .1 .13 .15 .18 .21 .25 .31 .41 .47 .51 .56 .64 .72 .78 .85 .92 .98 1"/><feFuncG type="discrete" tableValues=".01 .02 .02 .03 .06 .08 .1 .13 .15 .18 .21 .25 .31 .41 .47 .51 .56 .63 .7 .76 .84 .92 .98 1"/><feFuncB type="discrete" tableValues=".97 .97 .96 .95 .92 .9 .88 .86 .84 .82 .79 .76 .72 .61 .54 .49 .41 .31 .19 .07 0 0 0 0"/></feComponentTransfer></filter><filter id="f39b" x="-.01" y="-.1" width="1.02" height="1.2"><feComponentTransfer><feFuncR type="discrete" tableValues=".01 .02 .02 .03 .06 .09 .11 .14 .17 .2 .25 .31 .39 .45 .49 .53 .57 .64 .72 .79 .86 .93 .99 1"/><feFuncG type="discrete" tableValues=".01 .02 .02 .03 .06 .09 .11 .14 .17 .2 .25 .31 .39 .45 .49 .53 .57 .63 .7 .77 .84 .92 .99 1"/><feFuncB type="discrete" tableValues=".97 .97 .96 .95 .92 .89 .87 .85 .82 .8 .77 .73 .62 .56 .51 .46 .4 .31 .19 .06 0 0 0 0"/></feComponentTransfer></filter><filter id="f40a" x="-.01" y="-.1" width="1.02" height="1.2"><feComponentTransfer><feFuncR type="discrete" tableValues=".12 .15 .17 .18 .2 .21 .22 .23 .24 .25 .25 .26 .27 .28 .3 .32 .34 .42 .46 .53 .78 .88 .95 1"/><feFuncG type="discrete" tableValues=".12 .15 .17 .18 .2 .21 .22 .23 .24 .25 .25 .26 .27 .28 .3 .32 .34 .42 .46 .53 .76 .87 .94 1"/><feFuncB type="discrete" tableValues=".86 .84 .83 .81 .8 .79 .78 .78 .77 .77 .76 .76 .75 .74 .73 .72 .68 .59 .54 .46 .07 0 0 0"/></feComponentTransfer></filter><filter id="f40b" x="-.01" y="-.1" width="1.02" height="1.2"><feComponentTransfer><feFuncR type="discrete" tableValues=".13 .16 .17 .19 .2 .22 .23 .24 .25 .26 .27 .28 .3 .32 .4 .47 .51 .57 .65 .74 .82 .9 .97 1"/><feFuncG type="discrete" tableValues=".13 .16 .17 .19 .2 .22 .23 .24 .25 .26 .27 .28 .3 .32 .4 .47 .51 .57 .64 .72 .81 .89 .97 1"/><feFuncB type="discrete" tableValues=".86 .84 .82 .81 .8 .79 .78 .77 .77 .76 .75 .74 .73 .72 .62 .54 .49 .4 .29 .15 0 0 0 0"/></feComponentTransfer></filter><filter id="f41a" x="-.01" y="-.1" width="1.02" height="1.2"><feComponentTransfer><feFuncR type="discrete" tableValues=".02 .02 .03 .06 .09 .12 .14 .17 .2 .23 .26 .3 .35 .43 .49 .53 .58 .63 .69 .75 .82 .89 .95 1"/><feFuncG type="discrete" tableValues=".02 .02 .03 .06 .09 .12 .14 .17 .2 .23 .26 .3 .35 .43 .49 .53 .58 .62 .67 .73 .8 .88 .95 1"/><feFuncB type="discrete" tableValues=".97 .96 .95 .92 .89 .87 .84 .82 .8 .78 .76 .73 .68 .58 .52 .45 .39 .32 .24 .13 0 0 0 0"/></feComponentTransfer></filter><filter id="f41b" x="-.01" y="-.1" width="1.02" height="1.2"><feComponentTransfer><feFuncR type="discrete" tableValues=".01 .02 .02 .03 .06 .09 .11 .14 .17 .2 .25 .31 .42 .47 .51 .55 .59 .65 .72 .79 .86 .92 .98 1"/><feFuncG type="discrete" tableValues=".01 .02 .02 .03 .06 .09 .11 .14 .17 .2 .25 .31 .42 .47 .51 .55 .59 .63 .7 .77 .84 .92 .98 1"/><feFuncB type="discrete" tableValues=".97 .97 .96 .95 .92 .89 .87 .85 .82 .8 .77 .72 .59 .53 .49 .43 .37 .3 .19 .06 0 0 0 0"/></feComponentTransfer></filter><filter id="f42a" x="-.01" y="-.1" width="1.02" height="1.2"><feComponentTransfer><feFuncR type="discrete" tableValues=".01 .02 .02 .02 .05 .07 .09 .11 .14 .16 .19 .22 .26 .32 .41 .47 .51 .57 .65 .74 .83 .91 .97 1"/><feFuncG type="discrete" tableValues=".01 .02 .02 .02 .05 .07 .09 .11 .14 .16 .19 .22 .26 .32 .41 .47 .51 .57 .64 .72 .81 .9 .97 1"/><feFuncB type="discrete" tableValues=".97 .97 .96 .96 .93 .91 .89 .87 .85 .83 .81 .78 .76 .72 .61 .54 .49 .4 .29 .15 0 0 0 0"/></feComponentTransfer></filter><filter id="f42b" x="-.01" y="-.1" width="1.02" height="1.2"><feComponentTransfer><feFuncR type="discrete" tableValues=".01 .02 .02 .03 .06 .09 .11 .14 .17 .21 .25 .31 .43 .49 .53 .58 .64 .7 .76 .81 .88 .94 1 1"/><feFuncG type="discrete" tableValues=".01 .02 .02 .03 .06 .09 .11 .14 .17 .21 .25 .31 .43 .49 .53 .58 .63 .68 .74 .8 .87 .94 1 1"/><feFuncB type="discrete" tableValues=".97 .97 .96 .95 .92 .89 .87 .85 .82 .8 .77 .72 .58 .52 .45 .38 .31 .22 .12 .01 0 0 0 0"/></feComponentTransfer></filter><filter id="f43a" x="-.01" y="-.1" width="1.02" height="1.2"><feComponentTransfer><feFuncR type="discrete" tableValues=".01 .01 .01 .01 .01 .02 .02 .02 .02 .03 .05 .07 .09 .12 .16 .22 .33 .41 .48 .7 .82 .91 .98 1"/><feFuncG type="discrete" tableValues=".01 .01 .01 .01 .01 .02 .02 .02 .02 .03 .05 .07 .09 .12 .16 .22 .33 .41 .48 .68 .8 .9 .98 1"/><feFuncB type="discrete" tableValues=".99 .98 .98 .98 .97 .97 .97 .96 .96 .95 .93 .91 .89 .87 .83 .78 .71 .6 .52 .23 0 0 0 0"/></feComponentTransfer></filter><filter id="f43b" x="-.01" y="-.1" width="1.02" height="1.2"><feComponentTransfer><feFuncR type="discrete" tableValues=".01 .01 .02 .02 .04 .07 .1 .15 .2 .29 .44 .5 .54 .57 .61 .66 .72 .77 .81 .87 .93 .99 1 1"/><feFuncG type="discrete" tableValues=".01 .01 .02 .02 .04 .07 .1 .15 .2 .29 .44 .5 .54 .57 .6 .64 .7 .75 .8 .86 .92 .99 1 1"/><feFuncB type="discrete" tableValues=".98 .97 .97 .96 .94 .91 .88 .84 .8 .73 .56 .51 .45 .4 .34 .28 .19 .09 0 0 0 0 0 0"/></feComponentTransfer></filter><filter id="f44a" x="-.01" y="-.1" width="1.02" height="1.2"><feComponentTransfer><feFuncR type="discrete" tableValues=".17 .19 .2 .22 .23 .24 .24 .25 .26 .26 .27 .28 .28 .29 .3 .3 .31 .33 .42 .52 .81 .92 .98 1"/><feFuncG type="discrete" tableValues=".17 .19 .2 .22 .23 .24 .24 .25 .26 .26 .27 .28 .28 .29 .3 .3 .31 .33 .42 .52 .8 .91 .98 1"/><feFuncB type="discrete" tableValues=".82 .81 .8 .79 .78 .77 .77 .76 .76 .76 .75 .75 .74 .74 .73 .73 .72 .7 .6 .48 0 0 0 0"/></feComponentTransfer></filter><filter id="f44b" x="-.01" y="-.1" width="1.02" height="1.2"><feComponentTransfer><feFuncR type="discrete" tableValues=".17 .19 .2 .22 .23 .24 .25 .25 .26 .26 .27 .28 .28 .29 .3 .31 .32 .34 .45 .59 .85 .93 .99 1"/><feFuncG type="discrete" tableValues=".17 .19 .2 .22 .23 .24 .25 .25 .26 .26 .27 .28 .28 .29 .3 .31 .32 .34 .45 .58 .84 .93 .99 1"/><feFuncB type="discrete" tableValues=".82 .81 .8 .79 .78 .77 .77 .76 .76 .75 .75 .75 .74 .74 .73 .73 .72 .69 .55 .38 0 0 0 0"/></feComponentTransfer></filter><filter id="f45a" x="-.01" y="-.1" width="1.02" height="1.2"><feComponentTransfer><feFuncR type="discrete" tableValues=".17 .19 .21 .22 .23 .24 .25 .25 .26 .26 .27 .28 .28 .29 .3 .31 .32 .34 .45 .58 .85 .93 .99 1"/><feFuncG type="discrete" tableValues=".17 .19 .21 .22 .23 .24 .25 .25 .26 .26 .27 .28 .28 .29 .3 .31 .32 .34 .45 .58 .84 .93 .99 1"/><feFuncB type="discrete" tableValues=".82 .81 .8 .79 .78 .77 .77 .76 .76 .75 .75 .75 .74 .74 .73 .73 .72 .69 .55 .38 0 0 0 0"/></feComponentTransfer></filter><filter id="f45b" x="-.01" y="-.1" width="1.02" height="1.2"><feComponentTransfer><feFuncR type="discrete" tableValues=".17 .19 .21 .22 .23 .24 .25 .25 .26 .27 .27 .28 .29 .29 .3 .31 .33 .44 .54 .79 .89 .96 1 1"/><feFuncG type="discrete" tableValues=".17 .19 .21 .22 .23 .24 .25 .25 .26 .27 .27 .28 .29 .29 .3 .31 .33 .44 .54 .77 .88 .96 1 1"/><feFuncB type="discrete" tableValues=".82 .8 .8 .79 .78 .77 .77 .76 .76 .75 .75 .74 .74 .73 .73 .72 .7 .57 .45 .06 0 0 0 0"/></feComponentTransfer></filter><filter id="f46a" x="-.01" y="-.1" width="1.02" height="1.2"><feComponentTransfer><feFuncR type="discrete" tableValues=".17 .19 .2 .22 .23 .24 .24 .25 .26 .26 .27 .28 .28 .29 .3 .3 .31 .33 .42 .51 .82 .92 .98 1"/><feFuncG type="discrete" tableValues=".17 .19 .2 .22 .23 .24 .24 .25 .26 .26 .27 .28 .28 .29 .3 .3 .31 .33 .42 .51 .8 .91 .98 1"/><feFuncB type="discrete" tableValues=".82 .81 .8 .79 .78 .77 .77 .76 .76 .75 .75 .75 .74 .74 .73 .73 .72 .7 .6 .48 0 0 0 0"/></feComponentTransfer></filter><filter id="f46b" x="-.01" y="-.1" width="1.02" height="1.2"><feComponentTransfer><feFuncR type="discrete" tableValues=".15 .18 .19 .21 .23 .24 .25 .26 .27 .28 .28 .29 .31 .32 .34 .42 .49 .56 .74 .82 .89 .95 1 1"/><feFuncG type="discrete" tableValues=".15 .18 .19 .21 .23 .24 .25 .26 .27 .28 .28 .29 .31 .32 .34 .42 .49 .56 .72 .8 .88 .94 1 1"/><feFuncB type="discrete" tableValues=".84 .82 .8 .79 .78 .77 .77 .76 .75 .75 .74 .73 .73 .71 .69 .59 .52 .41 .16 0 0 0 0 0"/></feComponentTransfer></filter><filter id="f47a" x="-.01" y="-.1" width="1.02" height="1.2"><feComponentTransfer><feFuncR type="discrete" tableValues=".09 .11 .13 .15 .17 .18 .19 .2 .21 .22 .23 .25 .26 .27 .29 .31 .39 .47 .54 .79 .89 .96 1 1"/><feFuncG type="discrete" tableValues=".09 .11 .13 .15 .17 .18 .19 .2 .21 .22 .23 .25 .26 .27 .29 .31 .39 .47 .54 .77 .88 .96 1 1"/><feFuncB type="discrete" tableValues=".89 .87 .86 .84 .83 .82 .81 .8 .79 .78 .77 .77 .76 .75 .74 .72 .63 .54 .45 .05 0 0 0 0"/></feComponentTransfer></filter><filter id="f47b" x="-.01" y="-.1" width="1.02" height="1.2"><feComponentTransfer><feFuncR type="discrete" tableValues=".04 .06 .08 .1 .12 .14 .16 .17 .19 .21 .23 .25 .29 .4 .47 .51 .58 .73 .8 .85 .91 .96 1 1"/><feFuncG type="discrete" tableValues=".04 .06 .08 .1 .12 .14 .16 .17 .19 .21 .23 .25 .29 .4 .47 .51 .57 .7 .78 .84 .9 .96 1 1"/><feFuncB type="discrete" tableValues=".95 .92 .9 .88 .86 .85 .84 .82 .81 .8 .78 .76 .74 .61 .54 .48 .39 .18 .04 0 0 0 0 0"/></feComponentTransfer></filter><filter id="f48a" x="-.01" y="-.1" width="1.02" height="1.2"><feComponentTransfer><feFuncR type="discrete" tableValues=".35 .35 .35 .36 .36 .36 .36 .36 .36 .36 .36 .36 .37 .37 .37 .37 .37 .37 .37 .37 .38 .41 .92 1"/><feFuncG type="discrete" tableValues=".35 .35 .35 .36 .36 .36 .36 .36 .36 .36 .36 .36 .37 .37 .37 .37 .37 .37 .37 .37 .38 .41 .92 1"/><feFuncB type="discrete" tableValues=".68 .68 .67 .67 .67 .67 .66 .66 .66 .66 .66 .66 .66 .66 .66 .65 .65 .65 .65 .65 .64 .6 0 0"/></feComponentTransfer></filter><filter id="f48b" x="-.01" y="-.1" width="1.02" height="1.2"><feComponentTransfer><feFuncR type="discrete" tableValues=".35 .35 .35 .36 .36 .36 .36 .36 .36 .36 .36 .36 .37 .37 .37 .37 .37 .37 .37 .38 .38 .91 .97 1"/><feFuncG type="discrete" tableValues=".35 .35 .35 .36 .36 .36 .36 .36 .36 .36 .36 .36 .37 .37 .37 .37 .37 .37 .37 .38 .38 .9 .96 1"/><feFuncB type="discrete" tableValues=".68 .68 .67 .67 .67 .67 .66 .66 .66 .66 .66 .66 .66 .66 .66 .65 .65 .65 .65 .65 .64 0 0 0"/></feComponentTransfer></filter><filter id="f49a" x="-.01" y="-.1" width="1.02" height="1.2"><feComponentTransfer><feFuncR type="discrete" tableValues=".17 .19 .2 .22 .23 .24 .24 .25 .26 .26 .27 .28 .28 .29 .3 .3 .31 .33 .42 .52 .81 .92 .98 1"/><feFuncG type="discrete" tableValues=".17 .19 .2 .22 .23 .24 .24 .25 .26 .26 .27 .28 .28 .29 .3 .3 .31 .33 .42 .52 .8 .91 .98 1"/><feFuncB type="discrete" tableValues=".82 .81 .8 .79 .78 .77 .77 .76 .76 .76 .75 .75 .74 .74 .73 .73 .72 .7 .6 .48 .01 0 0 0"/></feComponentTransfer></filter><filter id="f49b" x="-.01" y="-.1" width="1.02" height="1.2"><feComponentTransfer><feFuncR type="discrete" tableValues=".17 .19 .21 .22 .23 .24 .25 .25 .26 .27 .27 .28 .29 .29 .3 .31 .33 .41 .52 .79 .89 .96 1 1"/><feFuncG type="discrete" tableValues=".17 .19 .21 .22 .23 .24 .25 .25 .26 .27 .27 .28 .29 .29 .3 .31 .33 .41 .52 .77 .88 .96 1 1"/><feFuncB type="discrete" tableValues=".82 .81 .8 .79 .78 .77 .77 .76 .76 .75 .75 .74 .74 .74 .73 .72 .71 .6 .48 .05 0 0 0 0"/></feComponentTransfer></filter><filter id="f50a" x="-.01" y="-.1" width="1.02" height="1.2"><feComponentTransfer><feFuncR type="discrete" tableValues=".63 .67 .69 .72 .74 .76 .77 .78 .8 .81 .82 .83 .85 .86 .87 .89 .92 .96 1 1 1 1 1 1"/><feFuncG type="discrete" tableValues=".63 .67 .69 .72 .74 .76 .77 .78 .8 .81 .82 .83 .85 .86 .87 .89 .92 .96 .94 .85 .71 .29 .12 0"/><feFuncB type="discrete" tableValues="1 1 1 1 1 1 1 1 1 1 1 1 1 1 1 1 1 1 .94 .85 .71 .29 .12 0"/></feComponentTransfer></filter><filter id="f50b" x="-.01" y="-.1" width="1.02" height="1.2"><feComponentTransfer><feFuncR type="discrete" tableValues=".64 .67 .7 .72 .74 .76 .78 .79 .8 .82 .83 .84 .86 .87 .89 .92 .99 1 1 1 1 1 1 1"/><feFuncG type="discrete" tableValues=".64 .67 .7 .72 .74 .76 .78 .79 .8 .82 .83 .84 .86 .87 .89 .92 .99 .89 .79 .66 .26 .11 .02 0"/><feFuncB type="discrete" tableValues="1 1 1 1 1 1 1 1 1 1 1 1 1 1 1 1 1 .89 .79 .66 .26 .11 .02 0"/></feComponentTransfer></filter><filter id="f51a" x="-.01" y="-.1" width="1.02" height="1.2"><feComponentTransfer><feFuncR type="discrete" tableValues=".28 .37 .43 .49 .55 .6 .64 .69 .73 .77 .82 .89 .96 1 1 1 1 1 1 1 1 1 1 1"/><feFuncG type="discrete" tableValues=".28 .37 .43 .49 .55 .6 .64 .69 .73 .77 .82 .89 .96 .98 .91 .84 .77 .67 .53 .37 .2 .06 0 0"/><feFuncB type="discrete" tableValues="1 1 1 1 1 1 1 1 1 1 1 1 1 .98 .91 .84 .77 .67 .53 .37 .2 .06 0 0"/></feComponentTransfer></filter><filter id="f51b" x="-.01" y="-.1" width="1.02" height="1.2"><feComponentTransfer><feFuncR type="discrete" tableValues=".29 .38 .44 .5 .57 .62 .66 .71 .76 .82 .88 .95 1 1 1 1 1 1 1 1 1 1 1 1"/><feFuncG type="discrete" tableValues=".29 .38 .44 .5 .57 .62 .66 .71 .76 .82 .88 .95 .99 .94 .88 .82 .75 .66 .53 .37 .2 .05 0 0"/><feFuncB type="discrete" tableValues="1 1 1 1 1 1 1 1 1 1 1 1 .99 .94 .88 .82 .75 .66 .53 .37 .2 .05 0 0"/></feComponentTransfer></filter><filter id="f52a" x="-.01" y="-.1" width="1.02" height="1.2"><feComponentTransfer><feFuncR type="discrete" tableValues=".22 .31 .37 .43 .48 .53 .56 .6 .64 .67 .71 .75 .8 .85 .92 .98 1 1 1 1 1 1 1 1"/><feFuncG type="discrete" tableValues=".22 .31 .37 .43 .48 .53 .56 .6 .64 .67 .71 .75 .8 .85 .92 .98 .95 .87 .78 .63 .42 .26 .13 0"/><feFuncB type="discrete" tableValues="1 1 1 1 1 1 1 1 1 1 1 1 1 1 1 1 .95 .87 .78 .63 .42 .26 .13 0"/></feComponentTransfer></filter><filter id="f52b" x="-.01" y="-.1" width="1.02" height="1.2"><feComponentTransfer><feFuncR type="discrete" tableValues=".28 .38 .44 .51 .57 .62 .67 .71 .76 .82 .88 .95 1 1 1 1 1 1 1 1 1 1 1 1"/><feFuncG type="discrete" tableValues=".28 .38 .44 .51 .57 .62 .67 .71 .76 .82 .88 .95 .99 .93 .87 .81 .73 .63 .5 .37 .22 .1 0 0"/><feFuncB type="discrete" tableValues="1 1 1 1 1 1 1 1 1 1 1 1 .99 .93 .87 .81 .73 .63 .5 .37 .22 .1 0 0"/></feComponentTransfer></filter><filter id="f53a" x="-.01" y="-.1" width="1.02" height="1.2"><feComponentTransfer><feFuncR type="discrete" tableValues=".91 .91 .91 .91 .91 .91 .92 .92 .92 .92 .92 .92 .92 .92 .92 .92 .92 .92 .92 .93 .93 .93 1 1"/><feFuncG type="discrete" tableValues=".91 .91 .91 .91 .91 .91 .92 .92 .92 .92 .92 .92 .92 .92 .92 .92 .92 .92 .92 .93 .93 .93 .37 0"/><feFuncB type="discrete" tableValues="1 1 1 1 1 1 1 1 1 1 1 1 1 1 1 1 1 1 1 1 1 1 .37 0"/></feComponentTransfer></filter><filter id="f53b" x="-.01" y="-.1" width="1.02" height="1.2"><feComponentTransfer><feFuncR type="discrete" tableValues=".91 .91 .91 .91 .91 .91 .92 .92 .92 .92 .92 .92 .92 .92 .92 .92 .92 .92 .92 .93 .93 1 1 1"/><feFuncG type="discrete" tableValues=".91 .91 .91 .91 .91 .91 .92 .92 .92 .92 .92 .92 .92 .92 .92 .92 .92 .92 .92 .93 .93 .42 .13 0"/><feFuncB type="discrete" tableValues="1 1 1 1 1 1 1 1 1 1 1 1 1 1 1 1 1 1 1 1 1 .42 .13 0"/></feComponentTransfer></filter><filter id="f54a" x="-.01" y="-.1" width="1.02" height="1.2"><feComponentTransfer><feFuncR type="discrete" tableValues=".03 .17 .25 .34 .43 .5 .57 .64 .71 .78 .86 .94 1 1 1 1 1 1 1 1 1 1 1 1"/><feFuncG type="discrete" tableValues=".03 .17 .25 .34 .43 .5 .57 .64 .71 .78 .86 .94 .99 .92 .84 .76 .65 .53 .42 .3 .17 .04 0 0"/><feFuncB type="discrete" tableValues="1 1 1 1 1 1 1 1 1 1 1 1 .99 .92 .84 .76 .65 .53 .42 .3 .17 .04 0 0"/></feComponentTransfer></filter><filter id="f54b" x="-.01" y="-.1" width="1.02" height="1.2"><feComponentTransfer><feFuncR type="discrete" tableValues=".03 .16 .25 .34 .43 .5 .57 .63 .71 .78 .87 .95 1 1 1 1 1 1 1 1 1 1 1 1"/><feFuncG type="discrete" tableValues=".03 .16 .25 .34 .43 .5 .57 .63 .71 .78 .87 .95 .99 .92 .84 .76 .66 .54 .42 .31 .17 .04 0 0"/><feFuncB type="discrete" tableValues="1 1 1 1 1 1 1 1 1 1 1 1 .99 .92 .84 .76 .66 .54 .42 .31 .17 .04 0 0"/></feComponentTransfer></filter><filter id="f55a" x="-.01" y="-.1" width="1.02" height="1.2"><feComponentTransfer><feFuncR type="discrete" tableValues=".07 .21 .3 .39 .48 .55 .61 .68 .75 .82 .89 .96 1 1 1 1 1 1 1 1 1 1 1 1"/><feFuncG type="discrete" tableValues=".07 .21 .3 .39 .48 .55 .61 .68 .75 .82 .89 .96 .98 .91 .83 .76 .67 .57 .47 .37 .24 .12 .01 0"/><feFuncB type="discrete" tableValues="1 1 1 1 1 1 1 1 1 1 1 1 .98 .91 .83 .76 .67 .57 .47 .37 .24 .12 .01 0"/></feComponentTransfer></filter><filter id="f55b" x="-.01" y="-.1" width="1.02" height="1.2"><feComponentTransfer><feFuncR type="discrete" tableValues=".07 .22 .3 .39 .48 .55 .61 .68 .75 .81 .88 .94 1 1 1 1 1 1 1 1 1 1 1 1"/><feFuncG type="discrete" tableValues=".07 .22 .3 .39 .48 .55 .61 .68 .75 .81 .88 .94 1 .94 .87 .8 .72 .62 .53 .41 .27 .15 .03 0"/><feFuncB type="discrete" tableValues="1 1 1 1 1 1 1 1 1 1 1 1 1 .94 .87 .8 .72 .62 .53 .41 .27 .15 .03 0"/></feComponentTransfer></filter><filter id="f56a" x="-.01" y="-.1" width="1.02" height="1.2"><feComponentTransfer><feFuncR type="discrete" tableValues=".48 .54 .57 .6 .63 .66 .68 .7 .71 .73 .75 .77 .79 .82 .86 .93 1 1 1 1 1 1 1 1"/><feFuncG type="discrete" tableValues=".48 .54 .57 .6 .63 .66 .68 .7 .71 .73 .75 .77 .79 .82 .86 .93 .98 .9 .81 .7 .35 .16 .04 0"/><feFuncB type="discrete" tableValues="1 1 1 1 1 1 1 1 1 1 1 1 1 1 1 1 .98 .9 .81 .7 .35 .16 .04 0"/></feComponentTransfer></filter><filter id="f56b" x="-.01" y="-.1" width="1.02" height="1.2"><feComponentTransfer><feFuncR type="discrete" tableValues=".5 .55 .58 .61 .64 .67 .69 .71 .74 .76 .78 .81 .86 .92 1 1 1 1 1 1 1 1 1 1"/><feFuncG type="discrete" tableValues=".5 .55 .58 .61 .64 .67 .69 .71 .74 .76 .78 .81 .86 .92 1 .93 .86 .79 .68 .41 .21 .08 0 0"/><feFuncB type="discrete" tableValues="1 1 1 1 1 1 1 1 1 1 1 1 1 1 1 .93 .86 .79 .68 .41 .21 .08 0 0"/></feComponentTransfer></filter><filter id="f57a" x="-.01" y="-.1" width="1.02" height="1.2"><feComponentTransfer><feFuncR type="discrete" tableValues=".43 .49 .53 .58 .62 .65 .68 .7 .73 .75 .78 .81 .84 .89 .95 1 1 1 1 1 1 1 1 1"/><feFuncG type="discrete" tableValues=".43 .49 .53 .58 .62 .65 .68 .7 .73 .75 .78 .81 .84 .89 .95 .97 .89 .81 .7 .46 .26 .13 .03 0"/><feFuncB type="discrete" tableValues="1 1 1 1 1 1 1 1 1 1 1 1 1 1 1 .97 .89 .81 .7 .46 .26 .13 .03 0"/></feComponentTransfer></filter><filter id="f57b" x="-.01" y="-.1" width="1.02" height="1.2"><feComponentTransfer><feFuncR type="discrete" tableValues=".43 .5 .54 .58 .63 .66 .69 .71 .74 .77 .8 .83 .88 .94 1 1 1 1 1 1 1 1 1 1"/><feFuncG type="discrete" tableValues=".43 .5 .54 .58 .63 .66 .69 .71 .74 .77 .8 .83 .88 .94 1 .93 .86 .79 .69 .47 .27 .14 .04 0"/><feFuncB type="discrete" tableValues="1 1 1 1 1 1 1 1 1 1 1 1 1 1 1 .93 .86 .79 .69 .47 .27 .14 .04 0"/></feComponentTransfer></filter><filter id="f58a" x="-.01" y="-.1" width="1.02" height="1.2"><feComponentTransfer><feFuncR type="discrete" tableValues=".34 .42 .47 .52 .57 .61 .65 .69 .72 .76 .81 .87 .95 1 1 1 1 1 1 1 1 1 1 1"/><feFuncG type="discrete" tableValues=".34 .42 .47 .52 .57 .61 .65 .69 .72 .76 .81 .87 .95 .98 .9 .83 .75 .64 .5 .37 .23 .11 0 0"/><feFuncB type="discrete" tableValues="1 1 1 1 1 1 1 1 1 1 1 1 1 .98 .9 .83 .75 .64 .5 .37 .23 .11 0 0"/></feComponentTransfer></filter><filter id="f58b" x="-.01" y="-.1" width="1.02" height="1.2"><feComponentTransfer><feFuncR type="discrete" tableValues=".35 .42 .47 .52 .57 .61 .65 .68 .72 .76 .81 .88 .98 1 1 1 1 1 1 1 1 1 1 1"/><feFuncG type="discrete" tableValues=".35 .42 .47 .52 .57 .61 .65 .68 .72 .76 .81 .88 .98 .93 .85 .78 .7 .61 .5 .37 .23 .1 0 0"/><feFuncB type="discrete" tableValues="1 1 1 1 1 1 1 1 1 1 1 1 1 .93 .85 .78 .7 .61 .5 .37 .23 .1 0 0"/></feComponentTransfer></filter><filter id="f59a" x="-.01" y="-.1" width="1.02" height="1.2"><feComponentTransfer><feFuncR type="discrete" tableValues=".9 .9 .91 .91 .91 .92 .92 .92 .92 .92 .92 .92 .93 .93 .93 .93 .93 .93 .94 .94 1 1 1 1"/><feFuncG type="discrete" tableValues=".9 .9 .91 .91 .91 .92 .92 .92 .92 .92 .92 .92 .93 .93 .93 .93 .93 .93 .94 .94 .88 .74 .37 .01"/><feFuncB type="discrete" tableValues="1 1 1 1 1 1 1 1 1 1 1 1 1 1 1 1 1 1 1 1 .88 .74 .37 .01"/></feComponentTransfer></filter><filter id="f59b" x="-.01" y="-.1" width="1.02" height="1.2"><feComponentTransfer><feFuncR type="discrete" tableValues=".9 .91 .91 .91 .91 .92 .92 .92 .92 .92 .92 .93 .93 .93 .93 .93 .93 .94 .94 1 1 1 1 1"/><feFuncG type="discrete" tableValues=".9 .91 .91 .91 .91 .92 .92 .92 .92 .92 .92 .93 .93 .93 .93 .93 .93 .94 .94 .91 .77 .49 .2 0"/><feFuncB type="discrete" tableValues="1 1 1 1 1 1 1 1 1 1 1 1 1 1 1 1 1 1 1 .91 .77 .49 .2 0"/></feComponentTransfer></filter><filter id="f60a" x="-.01" y="-.1" width="1.02" height="1.2"><feComponentTransfer><feFuncR type="discrete" tableValues="0 .13 .27 .48 .69 .78 .85 .91 .96 1 1 1 1 1 1 1 1 1 1 1 1 1 1 1"/><feFuncG type="discrete" tableValues="0 .13 .27 .48 .69 .78 .85 .91 .96 .99 .95 .91 .88 .85 .82 .79 .76 .73 .69 .65 .6 .55 .49 .4"/><feFuncB type="discrete" tableValues="1 1 1 1 1 1 1 1 1 .99 .95 .91 .88 .85 .82 .79 .76 .73 .69 .65 .6 .55 .49 .4"/></feComponentTransfer></filter><filter id="f60b" x="-.01" y="-.1" width="1.02" height="1.2"><feComponentTransfer><feFuncR type="discrete" tableValues="0 .03 .14 .26 .41 .55 .65 .72 .78 .83 .88 .93 .97 1 1 1 1 1 1 1 1 1 1 1"/><feFuncG type="discrete" tableValues="0 .03 .14 .26 .41 .55 .65 .72 .78 .83 .88 .93 .97 .98 .93 .88 .84 .79 .74 .69 .63 .56 .49 .38"/><feFuncB type="discrete" tableValues="1 1 1 1 1 1 1 1 1 1 1 1 1 .98 .93 .88 .84 .79 .74 .69 .63 .56 .49 .38"/></feComponentTransfer></filter><filter id="f61a" x="-.01" y="-.1" width="1.02" height="1.2"><feComponentTransfer><feFuncR type="discrete" tableValues=".3 .39 .44 .49 .55 .58 .6 .62 .64 .66 .67 .69 .71 .72 .74 .75 .77 .79 .81 .84 .96 1 1 .97"/><feFuncG type="discrete" tableValues=".03 .04 .05 .07 .08 .09 .1 .11 .12 .12 .13 .13 .14 .14 .15 .15 .16 .16 .17 .18 .29 .57 .76 .98"/><feFuncB type="discrete" tableValues=".4 .43 .44 .44 .44 .44 .43 .43 .43 .43 .42 .41 .4 .4 .39 .38 .37 .36 .35 .34 .21 0 0 .58"/></feComponentTransfer></filter><filter id="f61b" x="-.01" y="-.1" width="1.02" height="1.2"><feComponentTransfer><feFuncR type="discrete" tableValues=".37 .44 .49 .54 .58 .6 .63 .65 .67 .69 .71 .73 .75 .77 .78 .8 .82 .84 .86 .9 1 1 .96 .97"/><feFuncG type="discrete" tableValues=".04 .05 .06 .08 .09 .1 .11 .12 .13 .13 .14 .15 .15 .16 .16 .17 .17 .18 .19 .23 .38 .69 .89 .98"/><feFuncB type="discrete" tableValues=".43 .44 .44 .44 .44 .43 .43 .43 .42 .41 .4 .39 .38 .37 .37 .36 .35 .34 .32 .28 .12 0 .31 .6"/></feComponentTransfer></filter><filter id="f62a" x="-.01" y="-.1" width="1.02" height="1.2"><feComponentTransfer><feFuncR type="discrete" tableValues=".22 .32 .38 .44 .5 .54 .57 .59 .62 .64 .66 .69 .72 .75 .78 .82 .87 .93 .99 1 1 .96 .97 .97"/><feFuncG type="discrete" tableValues=".02 .03 .04 .05 .07 .08 .09 .1 .11 .11 .12 .13 .14 .15 .16 .17 .2 .25 .33 .48 .71 .88 .97 .98"/><feFuncB type="discrete" tableValues=".36 .41 .43 .44 .44 .44 .44 .44 .43 .43 .42 .41 .4 .38 .37 .35 .31 .26 .17 0 0 .3 .55 .6"/></feComponentTransfer></filter><filter id="f62b" x="-.01" y="-.1" width="1.02" height="1.2"><feComponentTransfer><feFuncR type="discrete" tableValues=".24 .34 .4 .46 .51 .55 .58 .61 .64 .67 .7 .73 .77 .8 .84 .88 .93 .97 1 1 1 .95 .97 .97"/><feFuncG type="discrete" tableValues=".02 .03 .04 .06 .07 .08 .09 .1 .11 .12 .13 .15 .16 .17 .18 .21 .25 .3 .37 .51 .72 .9 .98 .98"/><feFuncB type="discrete" tableValues=".38 .42 .44 .44 .44 .44 .44 .43 .43 .42 .41 .39 .37 .36 .34 .3 .25 .2 .13 0 0 .34 .58 .6"/></feComponentTransfer></filter><filter id="f63a" x="-.01" y="-.1" width="1.02" height="1.2"><feComponentTransfer><feFuncR type="discrete" tableValues=".23 .33 .38 .44 .5 .54 .57 .59 .61 .64 .66 .69 .71 .74 .78 .81 .87 .93 .99 1 1 .96 .97 .97"/><feFuncG type="discrete" tableValues=".02 .03 .04 .05 .07 .08 .09 .1 .11 .11 .12 .13 .14 .15 .16 .17 .2 .25 .34 .48 .71 .88 .96 .98"/><feFuncB type="discrete" tableValues=".37 .41 .43 .44 .44 .44 .44 .44 .43 .43 .42 .41 .4 .38 .37 .35 .32 .25 .17 0 0 .28 .54 .6"/></feComponentTransfer></filter><filter id="f63b" x="-.01" y="-.1" width="1.02" height="1.2"><feComponentTransfer><feFuncR type="discrete" tableValues=".29 .4 .45 .51 .56 .6 .63 .65 .68 .71 .74 .77 .79 .82 .86 .89 .93 .97 1 1 1 .96 .97 .97"/><feFuncG type="discrete" tableValues=".03 .04 .05 .07 .09 .1 .11 .12 .13 .14 .15 .16 .17 .17 .19 .22 .25 .31 .37 .5 .72 .89 .97 .98"/><feFuncB type="discrete" tableValues=".4 .44 .44 .44 .44 .44 .43 .43 .41 .4 .39 .37 .36 .35 .32 .29 .25 .2 .13 0 0 .33 .57 .6"/></feComponentTransfer></filter><filter id="f64a" x="-.01" y="-.1" width="1.02" height="1.2"><feComponentTransfer><feFuncR type="discrete" tableValues=".12 .21 .26 .32 .38 .42 .46 .49 .52 .55 .57 .6 .63 .65 .69 .74 .79 .85 .91 .98 1 1 .95 .97"/><feFuncG type="discrete" tableValues=".02 .02 .03 .03 .04 .05 .06 .07 .07 .08 .09 .1 .11 .12 .13 .15 .16 .18 .23 .33 .57 .78 .92 .98"/><feFuncB type="discrete" tableValues=".26 .35 .39 .41 .43 .44 .44 .44 .44 .44 .44 .43 .43 .43 .41 .39 .36 .33 .27 .18 0 .02 .4 .6"/></feComponentTransfer></filter><filter id="f64b" x="-.01" y="-.1" width="1.02" height="1.2"><feComponentTransfer><feFuncR type="discrete" tableValues=".24 .34 .4 .46 .52 .56 .58 .61 .64 .67 .69 .72 .76 .79 .82 .86 .9 .94 .99 1 1 .95 .97 .97"/><feFuncG type="discrete" tableValues=".02 .03 .04 .06 .07 .08 .09 .1 .11 .12 .13 .14 .16 .16 .17 .19 .22 .27 .34 .48 .72 .89 .97 .98"/><feFuncB type="discrete" tableValues=".38 .42 .44 .44 .44 .44 .44 .43 .43 .42 .41 .39 .38 .36 .35 .32 .28 .24 .17 .01 0 .34 .56 .6"/></feComponentTransfer></filter><filter id="f65a" x="-.01" y="-.1" width="1.02" height="1.2"><feComponentTransfer><feFuncR type="discrete" tableValues=".6 .63 .65 .66 .68 .69 .7 .71 .72 .73 .74 .75 .75 .76 .77 .78 .79 .8 .81 .87 .99 1 .96 .97"/><feFuncG type="discrete" tableValues=".1 .11 .12 .12 .13 .13 .14 .14 .14 .15 .15 .15 .15 .16 .16 .16 .16 .17 .17 .2 .33 .64 .87 .98"/><feFuncB type="discrete" tableValues=".43 .43 .43 .42 .42 .41 .4 .4 .4 .39 .39 .38 .38 .38 .37 .37 .36 .36 .35 .31 .18 0 .28 .6"/></feComponentTransfer></filter><filter id="f65b" x="-.01" y="-.1" width="1.02" height="1.2"><feComponentTransfer><feFuncR type="discrete" tableValues=".62 .65 .67 .69 .7 .71 .73 .74 .74 .75 .76 .77 .77 .78 .79 .79 .8 .81 .83 .87 .99 1 .96 .97"/><feFuncG type="discrete" tableValues=".11 .12 .13 .13 .14 .14 .14 .15 .15 .15 .16 .16 .16 .16 .16 .17 .17 .17 .18 .2 .33 .65 .89 .98"/><feFuncB type="discrete" tableValues=".43 .43 .42 .41 .4 .4 .39 .39 .38 .38 .38 .37 .37 .37 .36 .36 .36 .35 .34 .31 .17 0 .32 .6"/></feComponentTransfer></filter><filter id="f66a" x="-.01" y="-.1" width="1.02" height="1.2"><feComponentTransfer><feFuncR type="discrete" tableValues=".03 .09 .13 .19 .24 .29 .34 .38 .43 .48 .53 .58 .63 .68 .73 .78 .82 .88 .96 1 1 1 .95 .97"/><feFuncG type="discrete" tableValues=".01 .02 .02 .02 .02 .03 .03 .04 .05 .06 .07 .09 .11 .13 .15 .16 .17 .21 .3 .46 .65 .78 .9 .98"/><feFuncB type="discrete" tableValues=".11 .22 .27 .33 .38 .4 .42 .43 .44 .44 .44 .44 .43 .42 .39 .37 .35 .3 .21 .03 0 .03 .34 .6"/></feComponentTransfer></filter><filter id="f66b" x="-.01" y="-.1" width="1.02" height="1.2"><feComponentTransfer><feFuncR type="discrete" tableValues=".04 .12 .19 .27 .37 .45 .52 .58 .64 .71 .77 .82 .86 .9 .94 .98 1 1 1 1 .98 .95 .97 .97"/><feFuncG type="discrete" tableValues=".01 .02 .02 .03 .04 .05 .07 .09 .11 .14 .16 .17 .19 .22 .26 .32 .4 .5 .61 .71 .82 .93 .98 .98"/><feFuncB type="discrete" tableValues=".12 .26 .33 .39 .43 .44 .44 .44 .43 .4 .37 .35 .32 .28 .24 .19 .1 0 0 0 .14 .43 .59 .6"/></feComponentTransfer></filter><filter id="f67a" x="-.01" y="-.1" width="1.02" height="1.2"><feComponentTransfer><feFuncR type="discrete" tableValues=".1 .17 .23 .29 .35 .4 .44 .48 .51 .55 .58 .6 .64 .67 .71 .75 .79 .83 .89 .98 1 1 .97 .97"/><feFuncG type="discrete" tableValues=".02 .02 .02 .03 .03 .04 .05 .06 .07 .08 .09 .1 .11 .13 .14 .15 .16 .18 .21 .32 .54 .72 .84 .98"/><feFuncB type="discrete" tableValues=".23 .31 .37 .4 .42 .44 .44 .44 .44 .44 .44 .43 .43 .42 .4 .38 .36 .34 .3 .19 0 0 .2 .6"/></feComponentTransfer></filter><filter id="f67b" x="-.01" y="-.1" width="1.02" height="1.2"><feComponentTransfer><feFuncR type="discrete" tableValues=".03 .12 .19 .27 .37 .45 .52 .58 .64 .7 .77 .81 .86 .9 .94 .98 1 1 1 1 .98 .95 .97 .97"/><feFuncG type="discrete" tableValues=".01 .02 .02 .03 .04 .05 .07 .09 .11 .14 .16 .17 .19 .22 .26 .32 .41 .51 .61 .71 .82 .92 .98 .98"/><feFuncB type="discrete" tableValues=".11 .26 .33 .39 .43 .44 .44 .44 .43 .4 .37 .35 .32 .28 .24 .19 .09 0 0 0 .14 .42 .59 .6"/></feComponentTransfer></filter><filter id="f68a" x="-.01" y="-.1" width="1.02" height="1.2"><feComponentTransfer><feFuncR type="discrete" tableValues=".18 .27 .33 .4 .46 .5 .54 .57 .59 .62 .65 .68 .71 .75 .79 .82 .87 .91 .96 1 1 .98 .96 .97"/><feFuncG type="discrete" tableValues=".02 .03 .03 .04 .06 .07 .08 .09 .1 .11 .12 .13 .14 .15 .16 .17 .2 .23 .3 .43 .67 .83 .94 .98"/><feFuncB type="discrete" tableValues=".32 .39 .41 .44 .44 .44 .44 .44 .44 .43 .43 .42 .4 .38 .36 .35 .32 .27 .21 .06 0 .17 .47 .6"/></feComponentTransfer></filter><filter id="f68b" x="-.01" y="-.1" width="1.02" height="1.2"><feComponentTransfer><feFuncR type="discrete" tableValues=".24 .34 .41 .47 .53 .57 .6 .63 .66 .69 .72 .76 .8 .83 .87 .92 .95 .98 1 1 1 .95 .97 .97"/><feFuncG type="discrete" tableValues=".02 .03 .04 .06 .07 .09 .1 .11 .12 .13 .14 .16 .17 .18 .2 .24 .28 .33 .41 .57 .77 .91 .97 .98"/><feFuncB type="discrete" tableValues=".38 .42 .44 .44 .44 .44 .44 .43 .43 .41 .4 .38 .36 .34 .31 .27 .23 .18 .08 0 0 .37 .56 .6"/></feComponentTransfer></filter><filter id="f69a" x="-.01" y="-.1" width="1.02" height="1.2"><feComponentTransfer><feFuncR type="discrete" tableValues=".03 .12 .22 .36 .53 .62 .69 .73 .77 .8 .83 .85 .88 .91 .93 .96 .98 1 1 1 1 .96 .97 .97"/><feFuncG type="discrete" tableValues=".01 .02 .02 .04 .08 .11 .13 .15 .16 .17 .18 .19 .21 .23 .25 .29 .32 .37 .44 .54 .71 .88 .96 .98"/><feFuncB type="discrete" tableValues=".1 .26 .36 .42 .44 .43 .41 .39 .37 .36 .34 .33 .3 .28 .25 .22 .18 .13 .05 0 0 .29 .54 .6"/></feComponentTransfer></filter><filter id="f69b" x="-.01" y="-.1" width="1.02" height="1.2"><feComponentTransfer><feFuncR type="discrete" tableValues=".01 .07 .13 .23 .36 .48 .56 .62 .66 .7 .74 .78 .81 .84 .87 .92 .96 1 1 1 1 .96 .97 .97"/><feFuncG type="discrete" tableValues="0 .01 .02 .02 .04 .06 .09 .11 .12 .14 .15 .16 .17 .18 .2 .24 .29 .35 .43 .54 .71 .88 .96 .98"/><feFuncB type="discrete" tableValues=".05 .17 .27 .37 .42 .44 .44 .43 .42 .4 .39 .37 .35 .34 .31 .27 .22 .16 .07 0 0 .3 .54 .6"/></feComponentTransfer></filter><filter id="f70a" x="-.01" y="-.1" width="1.02" height="1.2"><feComponentTransfer><feFuncR type="discrete" tableValues=".01 .03 .07 .12 .2 .25 .31 .36 .4 .43 .47 .51 .54 .57 .6 .64 .7 .79 .87 .95 1 .98 .96 .97"/><feFuncG type="discrete" tableValues="0 .01 .01 .02 .02 .02 .03 .04 .04 .05 .06 .07 .08 .09 .1 .12 .14 .16 .2 .28 .63 .83 .94 .98"/><feFuncB type="discrete" tableValues=".03 .09 .17 .26 .34 .39 .41 .42 .44 .44 .44 .44 .44 .44 .43 .43 .41 .36 .31 .22 0 .17 .46 .6"/></feComponentTransfer></filter><filter id="f70b" x="-.01" y="-.1" width="1.02" height="1.2"><feComponentTransfer><feFuncR type="discrete" tableValues=".01 .03 .07 .12 .2 .26 .31 .36 .41 .45 .48 .52 .56 .59 .63 .7 .79 .87 .93 1 1 .96 .97 .97"/><feFuncG type="discrete" tableValues="0 .01 .01 .02 .02 .02 .03 .04 .04 .05 .06 .07 .08 .1 .11 .14 .16 .2 .25 .35 .68 .89 .97 .98"/><feFuncB type="discrete" tableValues=".03 .1 .17 .26 .34 .39 .41 .42 .44 .44 .44 .44 .44 .44 .43 .41 .36 .32 .25 .16 0 .31 .55 .6"/></feComponentTransfer></filter><filter id="f71a" x="-.01" y="-.1" width="1.02" height="1.2"><feComponentTransfer><feFuncR type="discrete" tableValues=".14 .22 .27 .34 .4 .44 .48 .52 .55 .57 .6 .63 .65 .68 .72 .75 .79 .82 .87 .94 1 .96 .97 .97"/><feFuncG type="discrete" tableValues=".02 .02 .03 .03 .04 .05 .06 .07 .08 .09 .1 .11 .12 .13 .14 .15 .16 .17 .2 .26 .68 .88 .97 .98"/><feFuncB type="discrete" tableValues=".28 .36 .39 .42 .44 .44 .44 .44 .44 .44 .43 .43 .43 .41 .4 .38 .36 .34 .31 .25 0 .3 .55 .6"/></feComponentTransfer></filter><filter id="f71b" x="-.01" y="-.1" width="1.02" height="1.2"><feComponentTransfer><feFuncR type="discrete" tableValues=".19 .27 .34 .4 .46 .5 .54 .57 .59 .62 .65 .68 .71 .75 .79 .82 .87 .92 .98 1 .98 .96 .97 .97"/><feFuncG type="discrete" tableValues=".02 .03 .03 .04 .06 .07 .08 .09 .1 .11 .12 .13 .14 .15 .16 .17 .2 .24 .32 .61 .82 .94 .98 .98"/><feFuncB type="discrete" tableValues=".33 .39 .42 .44 .44 .44 .44 .44 .44 .43 .43 .42 .4 .38 .36 .34 .31 .26 .19 0 .15 .47 .6 .6"/></feComponentTransfer></filter><filter id="f72a" x="-.01" y="-.1" width="1.02" height="1.2"><feComponentTransfer><feFuncR type="discrete" tableValues=".29 .29 .29 .3 .3 .3 .31 .31 .28 .22 .16 0 0 0 0 0 0 0 0 0 .64 .87 .97 1"/><feFuncG type="discrete" tableValues="0 0 0 0 0 .03 .07 .12 .18 .25 .31 .37 .4 .43 .47 .52 .59 .64 .7 .76 .87 .89 .91 .91"/><feFuncB type="discrete" tableValues=".31 .31 .32 .33 .34 .37 .41 .45 .49 .53 .54 .57 .56 .56 .56 .55 .53 .51 .47 .31 0 0 0 0"/></feComponentTransfer></filter><filter id="f72b" x="-.01" y="-.1" width="1.02" height="1.2"><feComponentTransfer><feFuncR type="discrete" tableValues=".29 .29 .29 .3 .3 .31 .3 .27 .22 .16 0 0 0 0 0 0 0 0 0 .54 .8 .93 1 1"/><feFuncG type="discrete" tableValues="0 0 0 0 .03 .08 .14 .2 .25 .31 .37 .4 .44 .47 .53 .59 .64 .7 .75 .86 .88 .9 .91 .91"/><feFuncB type="discrete" tableValues=".31 .31 .33 .34 .38 .42 .46 .5 .53 .54 .57 .56 .56 .56 .55 .53 .51 .47 .32 .01 0 0 0 0"/></feComponentTransfer></filter><filter id="f73a" x="-.01" y="-.1" width="1.02" height="1.2"><feComponentTransfer><feFuncR type="discrete" tableValues=".1 .04 .01 0 0 0 0 0 0 0 0 0 0 0 0 0 0 0 0 0 .38 .83 .94 1"/><feFuncG type="discrete" tableValues=".33 .36 .37 .38 .38 .39 .39 .4 .4 .41 .41 .41 .42 .42 .43 .44 .45 .58 .64 .71 .84 .89 .9 .91"/><feFuncB type="discrete" tableValues=".55 .56 .57 .57 .57 .56 .56 .56 .56 .56 .56 .56 .56 .56 .56 .56 .56 .54 .51 .47 .09 0 0 0"/></feComponentTransfer></filter><filter id="f73b" x="-.01" y="-.1" width="1.02" height="1.2"><feComponentTransfer><feFuncR type="discrete" tableValues=".1 .04 .01 0 0 0 0 0 0 0 0 0 0 0 0 0 0 0 0 0 .71 .89 .96 1"/><feFuncG type="discrete" tableValues=".34 .36 .37 .38 .39 .39 .4 .4 .4 .41 .41 .42 .42 .43 .44 .51 .6 .64 .69 .74 .88 .89 .9 .91"/><feFuncB type="discrete" tableValues=".55 .56 .57 .57 .57 .56 .56 .56 .56 .56 .56 .56 .56 .56 .56 .55 .53 .51 .48 .36 0 0 0 0"/></feComponentTransfer></filter><filter id="f74a" x="-.01" y="-.1" width="1.02" height="1.2"><feComponentTransfer><feFuncR type="discrete" tableValues=".31 .29 .25 .18 .12 .06 .01 0 0 0 0 0 0 0 0 0 0 0 0 0 .39 .83 .94 1"/><feFuncG type="discrete" tableValues=".07 .15 .22 .29 .33 .35 .37 .38 .38 .39 .4 .4 .41 .42 .43 .44 .46 .58 .64 .71 .84 .89 .9 .91"/><feFuncB type="discrete" tableValues=".41 .47 .51 .54 .55 .56 .57 .57 .57 .56 .56 .56 .56 .56 .56 .56 .56 .54 .51 .47 .09 0 0 0"/></feComponentTransfer></filter><filter id="f74b" x="-.01" y="-.1" width="1.02" height="1.2"><feComponentTransfer><feFuncR type="discrete" tableValues=".3 .3 .28 .19 .11 .05 0 0 0 0 0 0 0 0 0 0 0 0 0 0 .7 .88 .96 1"/><feFuncG type="discrete" tableValues=".04 .12 .19 .28 .33 .36 .37 .38 .39 .39 .4 .41 .42 .43 .45 .51 .6 .64 .69 .74 .88 .89 .9 .91"/><feFuncB type="discrete" tableValues=".38 .45 .49 .54 .55 .56 .57 .57 .56 .56 .56 .56 .56 .56 .56 .55 .53 .51 .48 .36 0 0 0 0"/></feComponentTransfer></filter><filter id="f75a" x="-.01" y="-.1" width="1.02" height="1.2"><feComponentTransfer><feFuncR type="discrete" tableValues=".05 .01 0 0 0 0 0 0 0 0 0 0 0 0 0 0 0 0 0 0 0 .76 .91 1"/><feFuncG type="discrete" tableValues=".35 .37 .38 .38 .39 .39 .4 .4 .4 .4 .41 .41 .41 .42 .42 .42 .43 .45 .6 .67 .74 .88 .9 .91"/><feFuncB type="discrete" tableValues=".56 .57 .57 .57 .56 .56 .56 .56 .56 .56 .56 .56 .56 .56 .56 .56 .56 .56 .53 .49 .35 0 0 0"/></feComponentTransfer></filter><filter id="f75b" x="-.01" y="-.1" width="1.02" height="1.2"><feComponentTransfer><feFuncR type="discrete" tableValues=".05 0 0 0 0 0 0 0 0 0 0 0 0 0 0 0 0 0 0 0 .41 .83 .94 1"/><feFuncG type="discrete" tableValues=".35 .37 .38 .38 .39 .39 .4 .4 .4 .41 .41 .41 .42 .42 .43 .43 .52 .61 .66 .71 .85 .89 .9 .91"/><feFuncB type="discrete" tableValues=".56 .57 .57 .57 .56 .56 .56 .56 .56 .56 .56 .56 .56 .56 .56 .56 .55 .52 .5 .45 .07 0 0 0"/></feComponentTransfer></filter><filter id="f76a" x="-.01" y="-.1" width="1.02" height="1.2"><feComponentTransfer><feFuncR type="discrete" tableValues="0 0 0 0 0 0 0 0 0 0 0 0 0 0 0 0 0 0 0 0 0 .19 .84 1"/><feFuncG type="discrete" tableValues=".41 .43 .43 .44 .44 .45 .45 .45 .46 .46 .46 .47 .47 .47 .48 .48 .49 .5 .53 .63 .7 .82 .89 .91"/><feFuncB type="discrete" tableValues=".56 .56 .56 .56 .56 .56 .56 .56 .56 .56 .56 .56 .56 .56 .56 .56 .56 .56 .55 .52 .47 .19 0 0"/></feComponentTransfer></filter><filter id="f76b" x="-.01" y="-.1" width="1.02" height="1.2"><feComponentTransfer><feFuncR type="discrete" tableValues="0 0 0 0 0 0 0 0 0 0 0 0 0 0 0 0 0 0 0 0 0 .76 .91 1"/><feFuncG type="discrete" tableValues=".41 .43 .43 .44 .44 .45 .45 .46 .46 .46 .47 .47 .47 .48 .48 .49 .5 .54 .62 .68 .75 .88 .9 .91"/><feFuncB type="discrete" tableValues=".56 .56 .56 .56 .56 .56 .56 .56 .56 .56 .56 .56 .56 .56 .56 .56 .55 .55 .52 .49 .34 0 0 0"/></feComponentTransfer></filter><filter id="f77a" x="-.01" y="-.1" width="1.02" height="1.2"><feComponentTransfer><feFuncR type="discrete" tableValues=".1 .04 .01 0 0 0 0 0 0 0 0 0 0 0 0 0 0 0 0 .62 .83 .93 1 1"/><feFuncG type="discrete" tableValues=".34 .36 .37 .38 .39 .39 .4 .4 .4 .41 .41 .42 .42 .43 .44 .48 .61 .67 .73 .87 .89 .9 .91 .91"/><feFuncB type="discrete" tableValues=".55 .56 .57 .57 .56 .56 .56 .56 .56 .56 .56 .56 .56 .56 .56 .56 .53 .5 .4 0 0 0 0 0"/></feComponentTransfer></filter><filter id="f77b" x="-.01" y="-.1" width="1.02" height="1.2"><feComponentTransfer><feFuncR type="discrete" tableValues=".1 .04 .01 0 0 0 0 0 0 0 0 0 0 0 0 0 0 0 0 0 .7 .88 .96 1"/><feFuncG type="discrete" tableValues=".34 .36 .37 .38 .39 .39 .4 .4 .4 .41 .41 .42 .42 .43 .44 .51 .6 .65 .69 .74 .87 .89 .9 .91"/><feFuncB type="discrete" tableValues=".55 .56 .57 .57 .57 .56 .56 .56 .56 .56 .56 .56 .56 .56 .56 .55 .53 .51 .48 .36 0 0 0 0"/></feComponentTransfer></filter><filter id="f78a" x="-.01" y="-.1" width="1.02" height="1.2"><feComponentTransfer><feFuncR type="discrete" tableValues=".1 .05 .03 0 0 0 0 0 0 0 0 0 0 0 0 0 0 0 0 0 .78 .9 .97 1"/><feFuncG type="discrete" tableValues=".34 .35 .36 .37 .38 .38 .39 .39 .39 .4 .4 .4 .4 .41 .41 .42 .48 .62 .69 .78 .88 .9 .91 .91"/><feFuncB type="discrete" tableValues=".55 .56 .56 .57 .57 .57 .57 .56 .56 .56 .56 .56 .56 .56 .56 .56 .56 .52 .48 .3 0 0 0 0"/></feComponentTransfer></filter><filter id="f78b" x="-.01" y="-.1" width="1.02" height="1.2"><feComponentTransfer><feFuncR type="discrete" tableValues=".1 .05 .03 0 0 0 0 0 0 0 0 0 0 0 0 0 0 0 0 0 .69 .88 .96 1"/><feFuncG type="discrete" tableValues=".33 .35 .36 .37 .38 .38 .39 .39 .39 .4 .4 .4 .41 .41 .42 .43 .57 .63 .68 .73 .87 .89 .9 .91"/><feFuncB type="discrete" tableValues=".55 .56 .56 .57 .57 .57 .56 .56 .56 .56 .56 .56 .56 .56 .56 .56 .54 .52 .49 .38 0 0 0 0"/></feComponentTransfer></filter><filter id="f79a" x="-.01" y="-.1" width="1.02" height="1.2"><feComponentTransfer><feFuncR type="discrete" tableValues=".31 .31 .3 .28 .25 .22 .2 .17 .13 .06 0 0 0 0 0 0 0 0 0 .61 .83 .93 1 1"/><feFuncG type="discrete" tableValues=".04 .1 .14 .18 .22 .25 .27 .3 .32 .35 .37 .39 .41 .43 .48 .58 .63 .68 .74 .87 .89 .9 .91 .91"/><feFuncB type="discrete" tableValues=".38 .44 .46 .49 .51 .53 .53 .54 .55 .56 .57 .56 .56 .56 .56 .54 .52 .48 .37 0 0 0 0 0"/></feComponentTransfer></filter><filter id="f79b" x="-.01" y="-.1" width="1.02" height="1.2"><feComponentTransfer><feFuncR type="discrete" tableValues=".3 .31 .3 .29 .26 .23 .2 .17 .12 .04 0 0 0 0 0 0 0 0 0 .53 .82 .93 .99 1"/><feFuncG type="discrete" tableValues=".02 .08 .12 .17 .21 .24 .27 .3 .33 .36 .38 .4 .42 .46 .55 .6 .64 .69 .73 .86 .89 .9 .91 .91"/><feFuncB type="discrete" tableValues=".36 .42 .45 .48 .51 .53 .53 .54 .55 .56 .57 .56 .56 .56 .55 .53 .51 .48 .39 .01 0 0 0 0"/></feComponentTransfer></filter><filter id="f80a" x="-.01" y="-.1" width="1.02" height="1.2"><feComponentTransfer><feFuncR type="discrete" tableValues=".31 .3 .28 .25 .21 .19 .16 .11 .06 .01 0 0 0 0 0 0 0 0 0 .62 .84 .94 1 1"/><feFuncG type="discrete" tableValues=".06 .13 .18 .22 .26 .29 .31 .33 .35 .37 .38 .39 .41 .42 .45 .52 .61 .67 .73 .87 .89 .9 .91 .91"/><feFuncB type="discrete" tableValues=".4 .46 .49 .51 .53 .54 .54 .55 .56 .57 .57 .56 .56 .56 .56 .55 .53 .49 .39 0 0 0 0 0"/></feComponentTransfer></filter><filter id="f80b" x="-.01" y="-.1" width="1.02" height="1.2"><feComponentTransfer><feFuncR type="discrete" tableValues=".3 .31 .29 .26 .22 .19 .16 .1 .04 0 0 0 0 0 0 0 0 0 0 .55 .82 .92 .99 1"/><feFuncG type="discrete" tableValues=".03 .1 .15 .21 .25 .29 .31 .33 .36 .38 .39 .4 .42 .45 .5 .59 .64 .68 .73 .86 .89 .9 .91 .91"/><feFuncB type="discrete" tableValues=".37 .44 .47 .51 .53 .54 .54 .55 .56 .57 .56 .56 .56 .56 .55 .53 .51 .49 .4 0 0 0 0 0"/></feComponentTransfer></filter><filter id="f81a" x="-.01" y="-.1" width="1.02" height="1.2"><feComponentTransfer><feFuncR type="discrete" tableValues=".31 .31 .29 .27 .24 .21 .18 .16 .1 .03 0 0 0 0 0 0 0 0 0 0 .78 .91 .97 1"/><feFuncG type="discrete" tableValues=".05 .11 .16 .2 .23 .26 .29 .31 .34 .36 .38 .39 .41 .43 .45 .49 .57 .63 .69 .78 .88 .9 .91 .91"/><feFuncB type="discrete" tableValues=".39 .45 .47 .5 .52 .53 .54 .54 .55 .56 .57 .56 .56 .56 .56 .56 .54 .51 .48 .29 0 0 0 0"/></feComponentTransfer></filter><filter id="f81b" x="-.01" y="-.1" width="1.02" height="1.2"><feComponentTransfer><feFuncR type="discrete" tableValues=".3 .31 .3 .28 .24 .21 .18 .14 .06 0 0 0 0 0 0 0 0 0 0 .52 .82 .92 .99 1"/><feFuncG type="discrete" tableValues=".02 .09 .13 .19 .23 .26 .29 .32 .35 .38 .39 .41 .43 .46 .52 .59 .64 .68 .73 .86 .89 .9 .91 .91"/><feFuncB type="discrete" tableValues=".36 .42 .46 .49 .52 .53 .54 .54 .56 .57 .56 .56 .56 .56 .55 .53 .51 .49 .4 .02 0 0 0 0"/></feComponentTransfer></filter><filter id="f82a" x="-.01" y="-.1" width="1.02" height="1.2"><feComponentTransfer><feFuncR type="discrete" tableValues=".05 0 0 0 0 0 0 0 0 0 0 0 0 0 0 0 0 0 0 0 .69 .88 .96 1"/><feFuncG type="discrete" tableValues=".35 .37 .38 .38 .39 .39 .4 .4 .4 .41 .41 .41 .41 .42 .42 .43 .44 .59 .66 .73 .87 .89 .9 .91"/><feFuncB type="discrete" tableValues=".56 .57 .57 .57 .56 .56 .56 .56 .56 .56 .56 .56 .56 .56 .56 .56 .56 .53 .5 .4 0 0 0 0"/></feComponentTransfer></filter><filter id="f82b" x="-.01" y="-.1" width="1.02" height="1.2"><feComponentTransfer><feFuncR type="discrete" tableValues=".05 0 0 0 0 0 0 0 0 0 0 0 0 0 0 0 0 0 0 0 .71 .89 .96 1"/><feFuncG type="discrete" tableValues=".35 .37 .38 .38 .39 .39 .4 .4 .4 .41 .41 .41 .42 .42 .43 .44 .57 .63 .68 .74 .88 .89 .9 .91"/><feFuncB type="discrete" tableValues=".56 .57 .57 .57 .56 .56 .56 .56 .56 .56 .56 .56 .56 .56 .56 .56 .54 .52 .49 .37 0 0 0 0"/></feComponentTransfer></filter><filter id="f83a" x="-.01" y="-.1" width="1.02" height="1.2"><feComponentTransfer><feFuncR type="discrete" tableValues=".31 .28 .18 .01 0 0 0 0 0 0 0 0 0 0 0 0 0 0 0 0 0 .76 .9 1"/><feFuncG type="discrete" tableValues=".09 .19 .29 .37 .39 .4 .41 .41 .42 .43 .43 .44 .45 .46 .47 .49 .54 .61 .65 .7 .75 .88 .9 .91"/><feFuncB type="discrete" tableValues=".43 .5 .54 .57 .56 .56 .56 .56 .56 .56 .56 .56 .56 .56 .56 .56 .55 .52 .5 .47 .31 0 0 0"/></feComponentTransfer></filter><filter id="f83b" x="-.01" y="-.1" width="1.02" height="1.2"><feComponentTransfer><feFuncR type="discrete" tableValues=".31 .29 .21 .01 0 0 0 0 0 0 0 0 0 0 0 0 0 0 0 0 .7 .88 .95 1"/><feFuncG type="discrete" tableValues=".06 .16 .26 .37 .39 .4 .41 .42 .43 .43 .44 .45 .46 .47 .51 .58 .62 .66 .7 .74 .88 .89 .9 .91"/><feFuncB type="discrete" tableValues=".4 .48 .53 .57 .56 .56 .56 .56 .56 .56 .56 .56 .56 .56 .55 .54 .52 .5 .47 .35 0 0 0 0"/></feComponentTransfer></filter><filter id="f84a" x="-.01" y="-.1" width="1.02" height="1.2"><feComponentTransfer><feFuncR type="discrete" tableValues=".31 .3 .28 .2 0 0 0 0 0 0 0 0 0 0 0 0 0 0 0 .62 .84 .93 .99 1"/><feFuncG type="discrete" tableValues=".06 .14 .19 .27 .37 .41 .43 .45 .47 .5 .53 .56 .58 .6 .62 .65 .68 .71 .74 .87 .89 .9 .91 .91"/><feFuncB type="discrete" tableValues=".4 .46 .5 .53 .57 .56 .56 .56 .56 .56 .55 .54 .54 .53 .52 .51 .49 .46 .34 0 0 0 0 0"/></feComponentTransfer></filter><filter id="f84b" x="-.01" y="-.1" width="1.02" height="1.2"><feComponentTransfer><feFuncR type="discrete" tableValues=".3 .31 .29 .23 .01 0 0 0 0 0 0 0 0 0 0 0 0 0 0 .54 .82 .93 .99 1"/><feFuncG type="discrete" tableValues=".03 .1 .16 .25 .37 .41 .43 .45 .47 .5 .52 .55 .58 .6 .62 .64 .67 .7 .74 .86 .89 .9 .91 .91"/><feFuncB type="discrete" tableValues=".38 .44 .48 .53 .57 .56 .56 .56 .56 .56 .55 .54 .54 .53 .52 .51 .49 .47 .37 .01 0 0 0 0"/></feComponentTransfer></filter><filter id="f85a" x="-.01" y="-.1" width="1.02" height="1.2"><feComponentTransfer><feFuncR type="discrete" tableValues="0 0 0 0 0 0 0 0 0 0 0 0 0 0 0 0 0 0 0 0 0 0 0 .84"/><feFuncG type="discrete" tableValues=".45 .46 .46 .46 .46 .46 .47 .47 .47 .47 .47 .47 .47 .47 .47 .47 .48 .48 .48 .49 .62 .7 .74 .89"/><feFuncB type="discrete" tableValues=".56 .56 .56 .56 .56 .56 .56 .56 .56 .56 .56 .56 .56 .56 .56 .56 .56 .56 .56 .56 .52 .48 .35 0"/></feComponentTransfer></filter><filter id="f85b" x="-.01" y="-.1" width="1.02" height="1.2"><feComponentTransfer><feFuncR type="discrete" tableValues="0 0 0 0 0 0 0 0 0 0 0 0 0 0 0 0 0 0 0 0 0 0 .76 .98"/><feFuncG type="discrete" tableValues=".45 .46 .46 .46 .46 .46 .47 .47 .47 .47 .47 .47 .47 .47 .47 .48 .48 .48 .49 .61 .69 .75 .88 .91"/><feFuncB type="discrete" tableValues=".56 .56 .56 .56 .56 .56 .56 .56 .56 .56 .56 .56 .56 .56 .56 .56 .56 .56 .56 .52 .48 .33 0 0"/></feComponentTransfer></filter><filter id="f86a" x="-.01" y="-.1" width="1.02" height="1.2"><feComponentTransfer><feFuncR type="discrete" tableValues=".3 .31 .3 .29 .26 .23 .2 .18 .17 .12 .07 .01 0 0 0 0 0 0 0 0 .69 .88 .96 1"/><feFuncG type="discrete" tableValues=".03 .09 .13 .18 .22 .24 .27 .29 .31 .33 .35 .37 .38 .4 .41 .44 .51 .61 .67 .73 .87 .89 .9 .91"/><feFuncB type="discrete" tableValues=".38 .43 .46 .49 .51 .53 .53 .54 .54 .55 .56 .57 .57 .56 .56 .56 .55 .52 .49 .39 0 0 0 0"/></feComponentTransfer></filter><filter id="f86b" x="-.01" y="-.1" width="1.02" height="1.2"><feComponentTransfer><feFuncR type="discrete" tableValues=".3 .31 .31 .29 .27 .24 .21 .18 .14 .07 0 0 0 0 0 0 0 0 0 .61 .83 .92 .99 1"/><feFuncG type="discrete" tableValues="0 .06 .1 .15 .2 .23 .27 .29 .32 .35 .37 .39 .41 .45 .56 .61 .65 .69 .74 .87 .89 .9 .91 .91"/><feFuncB type="discrete" tableValues=".35 .4 .44 .47 .5 .52 .53 .54 .54 .56 .57 .56 .56 .56 .54 .52 .5 .48 .36 0 0 0 0 0"/></feComponentTransfer></filter><filter id="f87a" x="-.01" y="-.1" width="1.02" height="1.2"><feComponentTransfer><feFuncR type="discrete" tableValues=".31 .3 .28 .23 .18 .16 .1 .05 .01 0 0 0 0 0 0 0 0 0 0 0 .71 .88 .96 1"/><feFuncG type="discrete" tableValues=".06 .13 .19 .25 .29 .31 .33 .35 .37 .38 .39 .4 .41 .42 .44 .47 .57 .63 .68 .74 .88 .89 .9 .91"/><feFuncB type="discrete" tableValues=".4 .46 .5 .53 .54 .54 .55 .56 .57 .57 .56 .56 .56 .56 .56 .56 .54 .52 .49 .37 0 0 0 0"/></feComponentTransfer></filter><filter id="f87b" x="-.01" y="-.1" width="1.02" height="1.2"><feComponentTransfer><feFuncR type="discrete" tableValues=".3 .31 .29 .24 .18 .14 .07 .01 0 0 0 0 0 0 0 0 0 0 0 .63 .84 .93 .99 1"/><feFuncG type="discrete" tableValues=".03 .1 .16 .23 .29 .32 .34 .37 .38 .39 .4 .42 .44 .49 .58 .62 .66 .7 .74 .87 .89 .9 .91 .91"/><feFuncB type="discrete" tableValues=".37 .44 .48 .52 .54 .54 .56 .57 .57 .56 .56 .56 .56 .56 .54 .52 .5 .47 .34 0 0 0 0 0"/></feComponentTransfer></filter><filter id="f88a" x="-.01" y="-.1" width="1.02" height="1.2"><feComponentTransfer><feFuncR type="discrete" tableValues=".31 .3 .28 .23 .18 .15 .09 .04 0 0 0 0 0 0 0 0 0 0 0 0 .41 .83 .94 1"/><feFuncG type="discrete" tableValues=".06 .14 .19 .25 .29 .32 .34 .36 .37 .38 .39 .4 .41 .43 .45 .51 .59 .64 .68 .72 .85 .89 .9 .91"/><feFuncB type="discrete" tableValues=".4 .46 .5 .53 .54 .54 .55 .56 .57 .57 .56 .56 .56 .56 .56 .55 .53 .51 .49 .42 .07 0 0 0"/></feComponentTransfer></filter><filter id="f88b" x="-.01" y="-.1" width="1.02" height="1.2"><feComponentTransfer><feFuncR type="discrete" tableValues=".3 .31 .29 .24 .18 .14 .08 .02 0 0 0 0 0 0 0 0 0 0 0 .53 .81 .92 .98 1"/><feFuncG type="discrete" tableValues=".03 .11 .16 .23 .29 .32 .34 .37 .38 .39 .4 .42 .44 .47 .57 .62 .65 .69 .73 .86 .89 .9 .91 .91"/><feFuncB type="discrete" tableValues=".38 .44 .48 .52 .54 .54 .56 .57 .57 .56 .56 .56 .56 .56 .54 .52 .5 .48 .38 .01 0 0 0 0"/></feComponentTransfer></filter><filter id="f89a" x="-.01" y="-.1" width="1.02" height="1.2"><feComponentTransfer><feFuncR type="discrete" tableValues=".3 .31 .3 .29 .26 .23 .21 .18 .17 .13 .07 .02 0 0 0 0 0 0 0 0 .71 .88 .96 1"/><feFuncG type="discrete" tableValues=".03 .09 .13 .18 .21 .24 .27 .29 .31 .32 .35 .37 .38 .4 .41 .44 .51 .61 .67 .73 .88 .89 .9 .91"/><feFuncB type="discrete" tableValues=".38 .43 .46 .49 .51 .53 .53 .54 .54 .55 .56 .57 .57 .56 .56 .56 .55 .53 .49 .4 0 0 0 0"/></feComponentTransfer></filter><filter id="f89b" x="-.01" y="-.1" width="1.02" height="1.2"><feComponentTransfer><feFuncR type="discrete" tableValues=".3 .31 .31 .29 .27 .23 .2 .18 .14 .06 0 0 0 0 0 0 0 0 0 .62 .84 .93 .99 1"/><feFuncG type="discrete" tableValues="0 .06 .1 .15 .2 .24 .27 .29 .32 .35 .38 .39 .41 .45 .56 .61 .65 .7 .74 .87 .89 .9 .91 .91"/><feFuncB type="discrete" tableValues=".34 .4 .44 .47 .5 .52 .53 .54 .54 .56 .57 .56 .56 .56 .54 .52 .5 .48 .35 0 0 0 0 0"/></feComponentTransfer></filter><filter id="f90a" x="-.01" y="-.1" width="1.02" height="1.2"><feComponentTransfer><feFuncR type="discrete" tableValues="0 0 0 0 0 0 0 0 0 0 0 0 0 0 0 0 0 0 0 0 0 0 .75 .97"/><feFuncG type="discrete" tableValues=".38 .39 .4 .4 .41 .41 .42 .42 .42 .43 .43 .43 .43 .44 .44 .45 .45 .46 .53 .63 .7 .75 .88 .91"/><feFuncB type="discrete" tableValues=".57 .56 .56 .56 .56 .56 .56 .56 .56 .56 .56 .56 .56 .56 .56 .56 .56 .56 .55 .52 .47 .31 0 0"/></feComponentTransfer></filter><filter id="f90b" x="-.01" y="-.1" width="1.02" height="1.2"><feComponentTransfer><feFuncR type="discrete" tableValues="0 0 0 0 0 0 0 0 0 0 0 0 0 0 0 0 0 0 0 0 .4 .83 .94 1"/><feFuncG type="discrete" tableValues=".38 .39 .4 .4 .41 .41 .42 .42 .43 .43 .43 .44 .44 .44 .45 .46 .51 .61 .66 .71 .84 .89 .9 .91"/><feFuncB type="discrete" tableValues=".57 .56 .56 .56 .56 .56 .56 .56 .56 .56 .56 .56 .56 .56 .56 .56 .55 .53 .5 .45 .08 0 0 0"/></feComponentTransfer></filter><filter id="f91a" x="-.01" y="-.1" width="1.02" height="1.2"><feComponentTransfer><feFuncR type="discrete" tableValues=".3 .31 .31 .29 .27 .25 .23 .2 .18 .16 .12 .05 0 0 0 0 0 0 0 0 .69 .88 .96 1"/><feFuncG type="discrete" tableValues=".03 .08 .12 .16 .2 .22 .25 .27 .29 .31 .33 .35 .37 .39 .41 .44 .51 .61 .67 .73 .87 .89 .9 .91"/><feFuncB type="discrete" tableValues=".37 .42 .45 .47 .5 .52 .53 .53 .54 .54 .55 .56 .57 .56 .56 .56 .55 .52 .49 .39 0 0 0 0"/></feComponentTransfer></filter><filter id="f91b" x="-.01" y="-.1" width="1.02" height="1.2"><feComponentTransfer><feFuncR type="discrete" tableValues=".3 .31 .31 .3 .28 .25 .22 .2 .17 .11 .03 0 0 0 0 0 0 0 0 .63 .84 .93 .99 1"/><feFuncG type="discrete" tableValues="0 .06 .1 .14 .19 .22 .25 .27 .3 .33 .36 .39 .41 .46 .56 .61 .65 .7 .74 .87 .89 .9 .91 .91"/><feFuncB type="discrete" tableValues=".35 .4 .43 .46 .49 .51 .53 .53 .54 .55 .56 .56 .56 .56 .54 .52 .5 .48 .35 0 0 0 0 0"/></feComponentTransfer></filter><filter id="f92a" x="-.01" y="-.1" width="1.02" height="1.2"><feComponentTransfer><feFuncR type="discrete" tableValues=".31 .29 .27 .22 .17 .11 .03 0 0 0 0 0 0 0 0 0 0 0 0 .63 .83 .93 .99 1"/><feFuncG type="discrete" tableValues=".08 .15 .2 .25 .3 .33 .36 .38 .39 .41 .42 .44 .46 .49 .57 .61 .65 .7 .74 .87 .89 .9 .91 .91"/><feFuncB type="discrete" tableValues=".41 .47 .5 .53 .54 .55 .56 .57 .56 .56 .56 .56 .56 .56 .54 .52 .5 .48 .36 0 0 0 0 0"/></feComponentTransfer></filter><filter id="f92b" x="-.01" y="-.1" width="1.02" height="1.2"><feComponentTransfer><feFuncR type="discrete" tableValues=".31 .3 .28 .22 .17 .09 .01 0 0 0 0 0 0 0 0 0 0 0 0 .67 .85 .94 1 1"/><feFuncG type="discrete" tableValues=".04 .12 .19 .25 .3 .34 .37 .39 .4 .42 .43 .46 .5 .57 .61 .64 .68 .71 .76 .87 .89 .9 .91 .91"/><feFuncB type="discrete" tableValues=".38 .45 .49 .53 .54 .55 .57 .56 .56 .56 .56 .56 .56 .54 .52 .51 .49 .45 .31 0 0 0 0 0"/></feComponentTransfer></filter><filter id="f93a" x="-.01" y="-.1" width="1.02" height="1.2"><feComponentTransfer><feFuncR type="discrete" tableValues=".31 .3 .29 .26 .22 .19 .17 .13 .07 .02 0 0 0 0 0 0 0 0 0 0 .78 .91 .98 1"/><feFuncG type="discrete" tableValues=".05 .12 .17 .21 .25 .28 .3 .32 .35 .37 .38 .39 .41 .42 .45 .51 .6 .65 .7 .79 .88 .9 .91 .91"/><feFuncB type="discrete" tableValues=".39 .45 .48 .51 .53 .53 .54 .55 .56 .57 .57 .56 .56 .56 .56 .55 .53 .51 .47 .29 0 0 0 0"/></feComponentTransfer></filter><filter id="f93b" x="-.01" y="-.1" width="1.02" height="1.2"><feComponentTransfer><feFuncR type="discrete" tableValues=".3 .31 .3 .27 .22 .19 .16 .09 .02 0 0 0 0 0 0 0 0 0 0 .62 .83 .93 .99 1"/><feFuncG type="discrete" tableValues=".02 .09 .14 .2 .25 .28 .31 .34 .36 .38 .4 .42 .44 .5 .58 .62 .66 .7 .74 .87 .89 .9 .91 .91"/><feFuncB type="discrete" tableValues=".37 .43 .46 .5 .53 .54 .54 .55 .56 .57 .56 .56 .56 .56 .54 .52 .5 .47 .35 0 0 0 0 0"/></feComponentTransfer></filter><filter id="f94a" x="-.01" y="-.1" width="1.02" height="1.2"><feComponentTransfer><feFuncR type="discrete" tableValues=".31 .28 .19 .07 0 0 0 0 0 0 0 0 0 0 0 0 0 0 0 0 .71 .88 .96 1"/><feFuncG type="discrete" tableValues=".09 .19 .28 .34 .38 .39 .4 .42 .43 .44 .45 .46 .47 .49 .53 .58 .62 .66 .7 .74 .88 .89 .9 .91"/><feFuncB type="discrete" tableValues=".43 .5 .54 .56 .57 .56 .56 .56 .56 .56 .56 .56 .56 .56 .55 .53 .52 .5 .47 .35 0 0 0 0"/></feComponentTransfer></filter><filter id="f94b" x="-.01" y="-.1" width="1.02" height="1.2"><feComponentTransfer><feFuncR type="discrete" tableValues=".31 .29 .21 .07 0 0 0 0 0 0 0 0 0 0 0 0 0 0 0 .56 .81 .92 .98 1"/><feFuncG type="discrete" tableValues=".07 .16 .26 .35 .38 .4 .41 .42 .43 .45 .46 .47 .5 .55 .59 .63 .66 .7 .74 .86 .89 .9 .91 .91"/><feFuncB type="discrete" tableValues=".41 .48 .53 .56 .57 .56 .56 .56 .56 .56 .56 .56 .55 .55 .53 .52 .5 .47 .37 0 0 0 0 0"/></feComponentTransfer></filter><filter id="f95a" x="-.01" y="-.1" width="1.02" height="1.2"><feComponentTransfer><feFuncR type="discrete" tableValues=".31 .3 .28 .21 .09 0 0 0 0 0 0 0 0 0 0 0 0 0 0 0 .7 .88 .96 1"/><feFuncG type="discrete" tableValues=".06 .14 .19 .26 .34 .38 .41 .42 .44 .46 .48 .5 .53 .57 .59 .62 .64 .67 .71 .75 .87 .89 .9 .91"/><feFuncB type="discrete" tableValues=".4 .46 .5 .53 .55 .57 .56 .56 .56 .56 .56 .55 .55 .54 .53 .52 .51 .49 .46 .33 0 0 0 0"/></feComponentTransfer></filter><filter id="f95b" x="-.01" y="-.1" width="1.02" height="1.2"><feComponentTransfer><feFuncR type="discrete" tableValues=".3 .31 .29 .23 .09 0 0 0 0 0 0 0 0 0 0 0 0 0 0 .56 .82 .92 .99 1"/><feFuncG type="discrete" tableValues=".03 .1 .16 .24 .34 .39 .41 .43 .45 .47 .5 .54 .57 .59 .62 .64 .67 .71 .74 .86 .89 .9 .91 .91"/><feFuncB type="discrete" tableValues=".37 .44 .48 .52 .55 .56 .56 .56 .56 .56 .55 .55 .54 .53 .52 .51 .49 .47 .36 0 0 0 0 0"/></feComponentTransfer></filter><filter id="f96a" x="-.01" y="-.1" width="1.02" height="1.2"><feComponentTransfer><feFuncR type="discrete" tableValues=".1 .05 .01 0 0 0 0 0 0 0 0 0 0 0 0 0 0 0 0 0 0 .75 .91 1"/><feFuncG type="discrete" tableValues=".33 .35 .37 .38 .38 .39 .39 .4 .4 .4 .41 .41 .42 .42 .43 .43 .44 .52 .62 .68 .75 .88 .9 .91"/><feFuncB type="discrete" tableValues=".55 .56 .57 .57 .57 .56 .56 .56 .56 .56 .56 .56 .56 .56 .56 .56 .56 .55 .52 .49 .34 0 0 0"/></feComponentTransfer></filter><filter id="f96b" x="-.01" y="-.1" width="1.02" height="1.2"><feComponentTransfer><feFuncR type="discrete" tableValues=".1 .04 .01 0 0 0 0 0 0 0 0 0 0 0 0 0 0 0 0 0 .69 .88 .95 1"/><feFuncG type="discrete" tableValues=".34 .36 .37 .38 .39 .39 .4 .4 .4 .41 .41 .42 .42 .43 .44 .51 .6 .65 .69 .74 .87 .89 .9 .91"/><feFuncB type="discrete" tableValues=".55 .56 .57 .57 .56 .56 .56 .56 .56 .56 .56 .56 .56 .56 .56 .55 .53 .51 .48 .36 0 0 0 0"/></feComponentTransfer></filter><filter id="f97a" x="-.01" y="-.1" width="1.02" height="1.2"><feComponentTransfer><feFuncR type="discrete" tableValues=".1 .06 .03 .01 0 0 0 0 0 0 0 0 0 0 0 0 0 0 0 0 0 .66 .88 1"/><feFuncG type="discrete" tableValues=".33 .35 .36 .37 .38 .38 .38 .39 .39 .39 .4 .4 .4 .4 .41 .41 .42 .43 .59 .66 .73 .87 .89 .91"/><feFuncB type="discrete" tableValues=".55 .56 .56 .57 .57 .57 .57 .56 .56 .56 .56 .56 .56 .56 .56 .56 .56 .56 .53 .5 .41 0 0 0"/></feComponentTransfer></filter><filter id="f97b" x="-.01" y="-.1" width="1.02" height="1.2"><feComponentTransfer><feFuncR type="discrete" tableValues=".1 .06 .03 0 0 0 0 0 0 0 0 0 0 0 0 0 0 0 0 0 .39 .83 .93 1"/><feFuncG type="discrete" tableValues=".33 .35 .36 .37 .38 .38 .39 .39 .39 .4 .4 .4 .41 .41 .41 .42 .51 .61 .66 .71 .84 .89 .9 .91"/><feFuncB type="discrete" tableValues=".55 .56 .56 .57 .57 .57 .57 .56 .56 .56 .56 .56 .56 .56 .56 .56 .55 .53 .5 .44 .09 0 0 0"/></feComponentTransfer></filter><filter id="f98a" x="-.01" y="-.1" width="1.02" height="1.2"><feComponentTransfer><feFuncR type="discrete" tableValues=".16 .09 .05 .01 0 0 0 0 0 0 0 0 0 0 0 0 0 0 0 0 0 .66 .88 1"/><feFuncG type="discrete" tableValues=".31 .34 .35 .37 .38 .39 .39 .4 .4 .4 .41 .41 .42 .42 .43 .44 .45 .48 .61 .67 .73 .87 .89 .91"/><feFuncB type="discrete" tableValues=".54 .55 .56 .57 .57 .57 .56 .56 .56 .56 .56 .56 .56 .56 .56 .56 .56 .56 .53 .5 .39 0 0 0"/></feComponentTransfer></filter><filter id="f98b" x="-.01" y="-.1" width="1.02" height="1.2"><feComponentTransfer><feFuncR type="discrete" tableValues=".15 .08 .04 0 0 0 0 0 0 0 0 0 0 0 0 0 0 0 0 0 .41 .83 .94 1"/><feFuncG type="discrete" tableValues=".32 .34 .36 .37 .38 .39 .39 .4 .4 .41 .41 .42 .42 .43 .44 .46 .58 .63 .67 .72 .85 .89 .9 .91"/><feFuncB type="discrete" tableValues=".54 .55 .56 .57 .57 .56 .56 .56 .56 .56 .56 .56 .56 .56 .56 .56 .54 .52 .49 .43 .07 0 0 0"/></feComponentTransfer></filter><filter id="f99a" x="-.01" y="-.1" width="1.02" height="1.2"><feComponentTransfer><feFuncR type="discrete" tableValues="0 0 0 0 0 0 0 0 0 0 0 0 0 0 0 0 0 0 0 0 0 .67 .89 1"/><feFuncG type="discrete" tableValues=".37 .38 .38 .39 .39 .39 .4 .4 .4 .4 .41 .41 .41 .41 .41 .42 .42 .43 .54 .64 .72 .87 .89 .91"/><feFuncB type="discrete" tableValues=".57 .57 .57 .56 .56 .56 .56 .56 .56 .56 .56 .56 .56 .56 .56 .56 .56 .56 .55 .51 .42 0 0 0"/></feComponentTransfer></filter><filter id="f99b" x="-.01" y="-.1" width="1.02" height="1.2"><feComponentTransfer><feFuncR type="discrete" tableValues="0 0 0 0 0 0 0 0 0 0 0 0 0 0 0 0 0 0 0 0 .41 .84 .94 1"/><feFuncG type="discrete" tableValues=".37 .38 .38 .39 .39 .4 .4 .4 .4 .41 .41 .41 .41 .41 .42 .42 .43 .58 .64 .71 .85 .89 .9 .91"/><feFuncB type="discrete" tableValues=".57 .57 .57 .56 .56 .56 .56 .56 .56 .56 .56 .56 .56 .56 .56 .56 .56 .54 .51 .47 .08 0 0 0"/></feComponentTransfer></filter><filter id="f100a" x="-.01" y="-.1" width="1.02" height="1.2"><feComponentTransfer><feFuncR type="discrete" tableValues="0 0 0 0 0 0 0 0 0 0 0 0 0 0 0 0 0 0 0 0 0 0 .24 .93"/><feFuncG type="discrete" tableValues=".45 .46 .46 .46 .46 .46 .46 .47 .47 .47 .47 .47 .47 .47 .47 .47 .48 .48 .48 .49 .63 .71 .83 .9"/><feFuncB type="discrete" tableValues=".56 .56 .56 .56 .56 .56 .56 .56 .56 .56 .56 .56 .56 .56 .56 .56 .56 .56 .56 .56 .52 .46 .16 0"/></feComponentTransfer></filter><filter id="f100b" x="-.01" y="-.1" width="1.02" height="1.2"><feComponentTransfer><feFuncR type="discrete" tableValues="0 0 0 0 0 0 0 0 0 0 0 0 0 0 0 0 0 0 0 0 0 .64 .88 1"/><feFuncG type="discrete" tableValues=".45 .46 .46 .46 .46 .46 .47 .47 .47 .47 .47 .47 .47 .47 .47 .48 .48 .48 .49 .62 .71 .87 .89 .91"/><feFuncB type="discrete" tableValues=".56 .56 .56 .56 .56 .56 .56 .56 .56 .56 .56 .56 .56 .56 .56 .56 .56 .56 .56 .52 .45 0 0 0"/></feComponentTransfer></filter><filter id="f101a" x="-.01" y="-.1" width="1.02" height="1.2"><feComponentTransfer><feFuncR type="discrete" tableValues=".31 .31 .29 .27 .22 .19 .16 .1 .04 0 0 0 0 0 0 0 0 0 0 0 .77 .91 .98 1"/><feFuncG type="discrete" tableValues=".05 .11 .15 .21 .25 .28 .31 .33 .36 .38 .39 .4 .42 .43 .46 .52 .6 .65 .7 .79 .88 .9 .91 .91"/><feFuncB type="discrete" tableValues=".39 .44 .47 .5 .53 .54 .54 .55 .56 .57 .56 .56 .56 .56 .56 .55 .53 .51 .47 .29 0 0 0 0"/></feComponentTransfer></filter><filter id="f101b" x="-.01" y="-.1" width="1.02" height="1.2"><feComponentTransfer><feFuncR type="discrete" tableValues=".3 .31 .3 .28 .23 .19 .16 .08 .01 0 0 0 0 0 0 0 0 0 0 .62 .83 .93 .99 1"/><feFuncG type="discrete" tableValues=".02 .08 .12 .18 .24 .28 .31 .34 .37 .39 .4 .42 .44 .48 .56 .61 .66 .7 .74 .87 .89 .9 .91 .91"/><feFuncB type="discrete" tableValues=".36 .42 .45 .49 .52 .54 .54 .55 .57 .57 .56 .56 .56 .56 .54 .52 .5 .48 .35 0 0 0 0 0"/></feComponentTransfer></filter><filter id="f102a" x="-.01" y="-.1" width="1.02" height="1.2"><feComponentTransfer><feFuncR type="discrete" tableValues=".31 .28 .21 .12 0 0 0 0 0 0 0 0 0 0 0 0 0 0 0 0 .7 .87 .95 1"/><feFuncG type="discrete" tableValues=".09 .19 .26 .33 .38 .4 .42 .44 .45 .47 .49 .51 .54 .57 .59 .62 .64 .67 .71 .75 .87 .89 .9 .91"/><feFuncB type="discrete" tableValues=".43 .49 .53 .55 .57 .56 .56 .56 .56 .56 .56 .55 .55 .54 .53 .52 .51 .49 .46 .34 0 0 0 0"/></feComponentTransfer></filter><filter id="f102b" x="-.01" y="-.1" width="1.02" height="1.2"><feComponentTransfer><feFuncR type="discrete" tableValues=".3 .31 .29 .23 .1 0 0 0 0 0 0 0 0 0 0 0 0 0 0 .03 .78 .91 .98 1"/><feFuncG type="discrete" tableValues=".03 .1 .16 .24 .34 .39 .41 .43 .45 .47 .5 .53 .56 .59 .61 .63 .66 .69 .72 .8 .88 .9 .91 .91"/><feFuncB type="discrete" tableValues=".38 .44 .48 .52 .55 .56 .56 .56 .56 .56 .56 .55 .54 .53 .52 .51 .5 .48 .41 .27 0 0 0 0"/></feComponentTransfer></filter><filter id="f103a" x="-.01" y="-.1" width="1.02" height="1.2"><feComponentTransfer><feFuncR type="discrete" tableValues=".31 .3 .28 .2 0 0 0 0 0 0 0 0 0 0 0 0 0 0 0 0 .7 .88 .95 1"/><feFuncG type="discrete" tableValues=".05 .13 .19 .27 .37 .4 .43 .45 .46 .48 .51 .53 .56 .58 .6 .62 .65 .68 .71 .74 .87 .89 .9 .91"/><feFuncB type="discrete" tableValues=".4 .46 .5 .53 .57 .56 .56 .56 .56 .56 .55 .55 .54 .54 .53 .52 .51 .49 .46 .34 0 0 0 0"/></feComponentTransfer></filter><filter id="f103b" x="-.01" y="-.1" width="1.02" height="1.2"><feComponentTransfer><feFuncR type="discrete" tableValues=".3 .31 .3 .28 .2 0 0 0 0 0 0 0 0 0 0 0 0 0 0 0 .7 .88 .96 1"/><feFuncG type="discrete" tableValues=".02 .08 .13 .19 .27 .38 .41 .44 .46 .48 .51 .54 .57 .59 .61 .63 .65 .68 .71 .75 .87 .89 .9 .91"/><feFuncB type="discrete" tableValues=".36 .42 .46 .5 .53 .57 .56 .56 .56 .56 .55 .55 .54 .53 .52 .52 .5 .49 .45 .33 0 0 0 0"/></feComponentTransfer></filter><filter id="f104a" x="-.01" y="-.1" width="1.02" height="1.2"><feComponentTransfer><feFuncR type="discrete" tableValues=".1 .04 .01 0 0 0 0 0 0 0 0 0 0 0 0 0 0 0 0 0 .41 .83 .94 1"/><feFuncG type="discrete" tableValues=".33 .36 .37 .38 .38 .39 .39 .4 .4 .41 .41 .41 .42 .42 .43 .44 .45 .58 .64 .71 .85 .89 .9 .91"/><feFuncB type="discrete" tableValues=".55 .56 .57 .57 .57 .56 .56 .56 .56 .56 .56 .56 .56 .56 .56 .56 .56 .54 .51 .47 .08 0 0 0"/></feComponentTransfer></filter><filter id="f104b" x="-.01" y="-.1" width="1.02" height="1.2"><feComponentTransfer><feFuncR type="discrete" tableValues=".1 .04 .01 0 0 0 0 0 0 0 0 0 0 0 0 0 0 0 0 0 .71 .88 .96 1"/><feFuncG type="discrete" tableValues=".34 .36 .37 .38 .39 .39 .4 .4 .4 .41 .41 .42 .42 .43 .43 .45 .57 .63 .68 .73 .88 .89 .9 .91"/><feFuncB type="discrete" tableValues=".55 .56 .57 .57 .57 .56 .56 .56 .56 .56 .56 .56 .56 .56 .56 .56 .54 .52 .49 .38 0 0 0 0"/></feComponentTransfer></filter><filter id="f105a" x="-.01" y="-.1" width="1.02" height="1.2"><feComponentTransfer><feFuncR type="discrete" tableValues=".31 .31 .29 .27 .23 .2 .17 .11 .03 0 0 0 0 0 0 0 0 0 0 0 .78 .91 .98 1"/><feFuncG type="discrete" tableValues=".04 .1 .15 .2 .24 .27 .3 .33 .36 .38 .4 .42 .44 .47 .53 .59 .63 .67 .71 .79 .88 .9 .91 .91"/><feFuncB type="discrete" tableValues=".38 .44 .47 .5 .52 .53 .54 .55 .56 .57 .56 .56 .56 .56 .55 .53 .52 .49 .45 .29 0 0 0 0"/></feComponentTransfer></filter><filter id="f105b" x="-.01" y="-.1" width="1.02" height="1.2"><feComponentTransfer><feFuncR type="discrete" tableValues=".29 .29 .3 .3 .3 .31 .3 .23 .17 .06 0 0 0 0 0 0 0 0 0 .62 .83 .93 1 1"/><feFuncG type="discrete" tableValues="0 0 0 0 .03 .07 .14 .24 .3 .35 .39 .41 .44 .48 .56 .61 .65 .7 .74 .87 .89 .9 .91 .91"/><feFuncB type="discrete" tableValues=".31 .32 .33 .34 .37 .41 .47 .53 .54 .56 .57 .56 .56 .56 .54 .52 .5 .48 .35 0 0 0 0 0"/></feComponentTransfer></filter><filter id="f106a" x="-.01" y="-.1" width="1.02" height="1.2"><feComponentTransfer><feFuncR type="discrete" tableValues=".31 .3 .28 .22 .16 .03 0 0 0 0 0 0 0 0 0 0 0 0 0 .06 .78 .9 .97 1"/><feFuncG type="discrete" tableValues=".06 .13 .19 .25 .31 .36 .39 .41 .42 .44 .46 .48 .52 .56 .59 .62 .65 .69 .72 .81 .88 .9 .91 .91"/><feFuncB type="discrete" tableValues=".4 .46 .5 .53 .54 .56 .56 .56 .56 .56 .56 .56 .55 .54 .53 .52 .5 .48 .42 .25 0 0 0 0"/></feComponentTransfer></filter><filter id="f106b" x="-.01" y="-.1" width="1.02" height="1.2"><feComponentTransfer><feFuncR type="discrete" tableValues=".3 .31 .3 .28 .22 .15 0 0 0 0 0 0 0 0 0 0 0 0 0 .63 .83 .93 .99 1"/><feFuncG type="discrete" tableValues=".02 .08 .12 .19 .25 .32 .37 .4 .42 .44 .46 .49 .53 .58 .61 .64 .67 .71 .75 .87 .89 .9 .91 .91"/><feFuncB type="discrete" tableValues=".36 .42 .45 .49 .53 .54 .57 .56 .56 .56 .56 .56 .55 .54 .52 .51 .49 .47 .34 0 0 0 0 0"/></feComponentTransfer></filter><filter id="f107a" x="-.01" y="-.1" width="1.02" height="1.2"><feComponentTransfer><feFuncR type="discrete" tableValues="0 0 0 0 0 0 0 0 0 0 0 0 0 0 0 0 0 0 0 0 0 .65 .87 1"/><feFuncG type="discrete" tableValues=".37 .38 .38 .39 .39 .4 .4 .4 .4 .4 .41 .41 .41 .41 .42 .42 .42 .43 .59 .65 .72 .87 .89 .91"/><feFuncB type="discrete" tableValues=".57 .57 .57 .56 .56 .56 .56 .56 .56 .56 .56 .56 .56 .56 .56 .56 .56 .56 .53 .5 .41 0 0 0"/></feComponentTransfer></filter><filter id="f107b" x="-.01" y="-.1" width="1.02" height="1.2"><feComponentTransfer><feFuncR type="discrete" tableValues="0 0 0 0 0 0 0 0 0 0 0 0 0 0 0 0 0 0 0 0 .4 .83 .94 1"/><feFuncG type="discrete" tableValues=".37 .38 .38 .39 .39 .4 .4 .4 .4 .41 .41 .41 .41 .41 .42 .42 .43 .58 .64 .7 .85 .89 .9 .91"/><feFuncB type="discrete" tableValues=".57 .57 .57 .56 .56 .56 .56 .56 .56 .56 .56 .56 .56 .56 .56 .56 .56 .54 .51 .47 .08 0 0 0"/></feComponentTransfer></filter><filter id="f108a" x="-.01" y="-.1" width="1.02" height="1.2"><feComponentTransfer><feFuncR type="discrete" tableValues=".31 .31 .3 .28 .24 .22 .19 .17 .15 .1 .04 0 0 0 0 0 0 0 0 0 .4 .84 .94 1"/><feFuncG type="discrete" tableValues=".04 .1 .15 .19 .23 .25 .28 .3 .32 .34 .36 .37 .39 .4 .42 .45 .53 .61 .66 .71 .85 .89 .9 .91"/><feFuncB type="discrete" tableValues=".39 .44 .47 .5 .52 .53 .53 .54 .54 .55 .56 .57 .56 .56 .56 .56 .55 .52 .5 .45 .08 0 0 0"/></feComponentTransfer></filter><filter id="f108b" x="-.01" y="-.1" width="1.02" height="1.2"><feComponentTransfer><feFuncR type="discrete" tableValues=".3 .31 .3 .29 .25 .22 .19 .16 .1 .04 0 0 0 0 0 0 0 0 0 .62 .84 .93 .99 1"/><feFuncG type="discrete" tableValues=".02 .08 .12 .17 .22 .25 .28 .31 .33 .36 .38 .4 .42 .46 .56 .61 .65 .7 .74 .87 .89 .9 .91 .91"/><feFuncB type="discrete" tableValues=".36 .42 .45 .49 .51 .53 .54 .54 .55 .56 .57 .56 .56 .56 .54 .52 .5 .48 .35 0 0 0 0 0"/></feComponentTransfer></filter><filter id="f109a" x="-.01" y="-.1" width="1.02" height="1.2"><feComponentTransfer><feFuncR type="discrete" tableValues=".3 .31 .3 .29 .27 .25 .23 .21 .19 .17 .15 .1 .04 0 0 0 0 0 0 0 .42 .83 .93 1"/><feFuncG type="discrete" tableValues=".03 .09 .13 .17 .2 .23 .24 .26 .28 .3 .31 .34 .36 .38 .39 .42 .52 .61 .66 .71 .85 .89 .9 .91"/><feFuncB type="discrete" tableValues=".38 .43 .46 .48 .5 .52 .53 .53 .54 .54 .54 .55 .56 .57 .56 .56 .55 .52 .5 .45 .07 0 0 0"/></feComponentTransfer></filter><filter id="f109b" x="-.01" y="-.1" width="1.02" height="1.2"><feComponentTransfer><feFuncR type="discrete" tableValues=".3 .31 .31 .3 .28 .25 .23 .2 .18 .16 .09 0 0 0 0 0 0 0 0 .62 .84 .93 1 1"/><feFuncG type="discrete" tableValues="0 .06 .1 .14 .19 .22 .24 .27 .29 .31 .34 .37 .39 .44 .56 .61 .65 .7 .74 .87 .89 .9 .91 .91"/><feFuncB type="discrete" tableValues=".35 .4 .44 .47 .5 .51 .53 .53 .54 .54 .55 .57 .56 .56 .54 .52 .5 .48 .36 0 0 0 0 0"/></feComponentTransfer></filter><filter id="f110a" x="-.01" y="-.1" width="1.02" height="1.2"><feComponentTransfer><feFuncR type="discrete" tableValues=".3 .31 .3 .29 .25 .23 .2 .18 .16 .12 .06 .01 0 0 0 0 0 0 0 0 .39 .83 .93 1"/><feFuncG type="discrete" tableValues=".03 .09 .13 .18 .22 .24 .27 .29 .31 .33 .35 .37 .38 .4 .41 .44 .53 .61 .66 .71 .84 .89 .9 .91"/><feFuncB type="discrete" tableValues=".38 .43 .46 .49 .51 .53 .53 .54 .54 .55 .56 .57 .57 .56 .56 .56 .55 .53 .5 .45 .08 0 0 0"/></feComponentTransfer></filter><filter id="f110b" x="-.01" y="-.1" width="1.02" height="1.2"><feComponentTransfer><feFuncR type="discrete" tableValues=".3 .31 .31 .29 .27 .24 .2 .18 .14 .07 0 0 0 0 0 0 0 0 0 .62 .83 .93 1 1"/><feFuncG type="discrete" tableValues="0 .06 .1 .15 .2 .24 .27 .29 .32 .35 .37 .39 .41 .46 .56 .61 .65 .7 .74 .87 .89 .9 .91 .91"/><feFuncB type="discrete" tableValues=".35 .4 .44 .47 .5 .52 .53 .54 .54 .56 .57 .56 .56 .56 .54 .52 .5 .48 .35 0 0 0 0 0"/></feComponentTransfer></filter><filter id="f111a" x="-.01" y="-.1" width="1.02" height="1.2"><feComponentTransfer><feFuncR type="discrete" tableValues=".56 .59 .6 .61 .63 .64 .65 .65 .66 .67 .68 .69 .69 .7 .71 .72 .74 .76 .83 .92 .99 1 .99 .99"/><feFuncG type="discrete" tableValues=".12 .12 .13 .13 .13 .14 .14 .14 .14 .14 .15 .15 .15 .15 .16 .16 .17 .17 .19 .23 .28 .56 .77 .95"/><feFuncB type="discrete" tableValues=".51 .52 .52 .52 .52 .52 .52 .52 .53 .52 .52 .52 .52 .52 .52 .52 .52 .52 .5 .47 .42 .38 .53 .7"/></feComponentTransfer></filter><filter id="f111b" x="-.01" y="-.1" width="1.02" height="1.2"><feComponentTransfer><feFuncR type="discrete" tableValues=".57 .59 .6 .62 .63 .64 .65 .66 .67 .67 .68 .69 .7 .71 .72 .74 .76 .82 .91 .96 1 1 .99 .99"/><feFuncG type="discrete" tableValues=".12 .12 .13 .13 .13 .14 .14 .14 .14 .15 .15 .15 .15 .16 .16 .17 .17 .19 .22 .26 .36 .68 .83 .99"/><feFuncB type="discrete" tableValues=".51 .52 .52 .52 .52 .52 .52 .53 .53 .52 .52 .52 .52 .52 .52 .52 .52 .51 .48 .44 .38 .45 .58 .74"/></feComponentTransfer></filter><filter id="f112a" x="-.01" y="-.1" width="1.02" height="1.2"><feComponentTransfer><feFuncR type="discrete" tableValues=".19 .25 .29 .33 .37 .4 .43 .46 .49 .52 .55 .59 .63 .69 .75 .81 .87 .93 1 1 1 .99 .99 .99"/><feFuncG type="discrete" tableValues=".04 .04 .04 .04 .05 .06 .07 .08 .09 .1 .11 .12 .13 .15 .17 .19 .21 .24 .29 .39 .52 .7 .85 .98"/><feFuncB type="discrete" tableValues=".36 .42 .45 .48 .49 .5 .5 .5 .51 .51 .51 .52 .52 .52 .52 .51 .49 .46 .41 .37 .37 .47 .59 .73"/></feComponentTransfer></filter><filter id="f112b" x="-.01" y="-.1" width="1.02" height="1.2"><feComponentTransfer><feFuncR type="discrete" tableValues=".2 .26 .3 .35 .39 .42 .46 .5 .54 .59 .65 .72 .79 .85 .91 .96 1 1 1 1 .99 .99 .99 .99"/><feFuncG type="discrete" tableValues=".04 .04 .04 .05 .06 .07 .08 .09 .11 .12 .14 .16 .18 .2 .22 .26 .31 .39 .48 .58 .73 .85 .93 .99"/><feFuncB type="discrete" tableValues=".37 .43 .46 .48 .49 .5 .5 .51 .51 .52 .52 .52 .52 .5 .48 .44 .4 .36 .36 .39 .49 .59 .67 .75"/></feComponentTransfer></filter><filter id="f113a" x="-.01" y="-.1" width="1.02" height="1.2"><feComponentTransfer><feFuncR type="discrete" tableValues="0 .02 .08 .18 .26 .33 .38 .42 .47 .53 .58 .65 .72 .79 .85 .91 .96 1 1 1 1 .99 .99 .99"/><feFuncG type="discrete" tableValues="0 .01 .02 .04 .04 .04 .06 .07 .09 .11 .12 .14 .16 .18 .2 .22 .26 .32 .4 .49 .62 .8 .89 .97"/><feFuncB type="discrete" tableValues=".02 .07 .21 .35 .43 .48 .49 .5 .5 .51 .51 .52 .52 .52 .5 .48 .44 .4 .36 .37 .41 .55 .62 .72"/></feComponentTransfer></filter><filter id="f113b" x="-.01" y="-.1" width="1.02" height="1.2"><feComponentTransfer><feFuncR type="discrete" tableValues="0 .02 .1 .21 .31 .37 .42 .47 .52 .57 .63 .7 .77 .83 .9 .94 .99 1 1 1 1 .99 .99 .99"/><feFuncG type="discrete" tableValues="0 .01 .03 .04 .04 .05 .07 .08 .1 .12 .13 .15 .18 .2 .22 .25 .28 .34 .41 .5 .62 .8 .89 .97"/><feFuncB type="discrete" tableValues=".02 .08 .24 .39 .47 .49 .5 .5 .51 .51 .52 .52 .52 .5 .48 .45 .42 .39 .35 .37 .41 .55 .62 .73"/></feComponentTransfer></filter><filter id="f114a" x="-.01" y="-.1" width="1.02" height="1.2"><feComponentTransfer><feFuncR type="discrete" tableValues=".19 .26 .3 .35 .4 .44 .47 .51 .54 .58 .61 .66 .71 .77 .84 .91 .96 1 1 1 1 .99 .99 .99"/><feFuncG type="discrete" tableValues=".04 .04 .04 .05 .06 .07 .09 .1 .11 .12 .13 .14 .16 .18 .2 .22 .26 .31 .4 .49 .61 .8 .9 .97"/><feFuncB type="discrete" tableValues=".35 .43 .46 .49 .5 .5 .5 .51 .51 .51 .52 .53 .52 .52 .5 .48 .44 .4 .36 .37 .41 .55 .63 .72"/></feComponentTransfer></filter><filter id="f114b" x="-.01" y="-.1" width="1.02" height="1.2"><feComponentTransfer><feFuncR type="discrete" tableValues=".23 .31 .35 .41 .46 .5 .53 .57 .6 .64 .68 .72 .77 .83 .88 .93 .98 1 1 1 1 .99 .99 .99"/><feFuncG type="discrete" tableValues=".04 .04 .05 .06 .08 .09 .11 .12 .13 .14 .15 .16 .18 .19 .21 .24 .27 .33 .41 .5 .62 .8 .89 .97"/><feFuncB type="discrete" tableValues=".4 .47 .49 .5 .5 .51 .51 .51 .52 .52 .52 .52 .52 .5 .49 .46 .43 .39 .36 .37 .41 .55 .62 .72"/></feComponentTransfer></filter><filter id="f115a" x="-.01" y="-.1" width="1.02" height="1.2"><feComponentTransfer><feFuncR type="discrete" tableValues=".11 .17 .21 .26 .31 .35 .38 .42 .45 .49 .53 .58 .63 .69 .75 .81 .87 .94 1 1 1 .99 .99 .99"/><feFuncG type="discrete" tableValues=".03 .04 .04 .04 .04 .05 .06 .07 .08 .09 .11 .12 .13 .15 .17 .19 .21 .24 .32 .43 .56 .72 .85 .98"/><feFuncB type="discrete" tableValues=".26 .34 .39 .43 .47 .48 .49 .5 .5 .51 .51 .51 .52 .52 .52 .51 .49 .45 .4 .36 .38 .49 .59 .73"/></feComponentTransfer></filter><filter id="f115b" x="-.01" y="-.1" width="1.02" height="1.2"><feComponentTransfer><feFuncR type="discrete" tableValues=".15 .22 .27 .32 .37 .41 .45 .49 .53 .57 .62 .67 .74 .8 .86 .92 .98 1 1 1 .99 .99 .99 .99"/><feFuncG type="discrete" tableValues=".03 .04 .04 .04 .05 .06 .08 .09 .11 .12 .13 .15 .17 .18 .2 .23 .27 .36 .46 .57 .69 .82 .91 .99"/><feFuncB type="discrete" tableValues=".31 .39 .43 .48 .49 .5 .5 .51 .51 .51 .52 .52 .52 .51 .5 .47 .43 .38 .36 .39 .46 .57 .64 .75"/></feComponentTransfer></filter><filter id="f116a" x="-.01" y="-.1" width="1.02" height="1.2"><feComponentTransfer><feFuncR type="discrete" tableValues=".14 .21 .26 .31 .36 .39 .43 .46 .5 .53 .57 .61 .65 .7 .75 .81 .88 .94 1 1 1 .99 .99 .99"/><feFuncG type="discrete" tableValues=".03 .04 .04 .04 .05 .06 .07 .08 .09 .11 .12 .13 .14 .15 .17 .19 .21 .25 .32 .43 .56 .71 .85 .97"/><feFuncB type="discrete" tableValues=".3 .39 .42 .47 .49 .49 .5 .5 .51 .51 .51 .52 .52 .52 .52 .51 .49 .45 .4 .36 .39 .48 .59 .72"/></feComponentTransfer></filter><filter id="f116b" x="-.01" y="-.1" width="1.02" height="1.2"><feComponentTransfer><feFuncR type="discrete" tableValues=".19 .26 .31 .36 .41 .45 .49 .53 .56 .6 .64 .69 .75 .8 .86 .92 .98 1 1 1 .99 .99 .99 .99"/><feFuncG type="discrete" tableValues=".04 .04 .04 .05 .06 .08 .09 .11 .12 .13 .14 .15 .17 .19 .2 .23 .27 .36 .46 .57 .69 .82 .91 .99"/><feFuncB type="discrete" tableValues=".35 .43 .47 .49 .5 .5 .51 .51 .51 .52 .52 .52 .52 .51 .49 .47 .43 .38 .36 .39 .46 .57 .64 .75"/></feComponentTransfer></filter><filter id="f117a" x="-.01" y="-.1" width="1.02" height="1.2"><feComponentTransfer><feFuncR type="discrete" tableValues=".61 .62 .63 .64 .64 .65 .65 .66 .66 .67 .67 .68 .68 .68 .69 .69 .7 .71 .72 .73 .92 .99 .99 .99"/><feFuncG type="discrete" tableValues=".13 .13 .13 .14 .14 .14 .14 .14 .14 .14 .15 .15 .15 .15 .15 .15 .15 .16 .16 .16 .23 .69 .85 .99"/><feFuncB type="discrete" tableValues=".52 .52 .52 .52 .52 .52 .52 .53 .53 .52 .52 .52 .52 .52 .52 .52 .52 .52 .52 .52 .47 .46 .59 .74"/></feComponentTransfer></filter><filter id="f117b" x="-.01" y="-.1" width="1.02" height="1.2"><feComponentTransfer><feFuncR type="discrete" tableValues=".61 .62 .63 .64 .64 .65 .66 .66 .66 .67 .67 .68 .68 .69 .69 .7 .71 .71 .73 .88 1 .99 .99 .99"/><feFuncG type="discrete" tableValues=".13 .13 .13 .14 .14 .14 .14 .14 .14 .14 .15 .15 .15 .15 .15 .15 .16 .16 .16 .21 .33 .79 .9 .99"/><feFuncB type="discrete" tableValues=".52 .52 .52 .52 .52 .52 .52 .53 .53 .52 .52 .52 .52 .52 .52 .52 .52 .52 .52 .49 .39 .54 .63 .75"/></feComponentTransfer></filter><filter id="f118a" x="-.01" y="-.1" width="1.02" height="1.2"><feComponentTransfer><feFuncR type="discrete" tableValues="0 0 .02 .36 .59 .71 .79 .85 .89 .93 .95 .98 1 1 1 1 1 1 1 1 1 1 1 .99"/><feFuncG type="discrete" tableValues="0 0 .01 .05 .12 .16 .18 .2 .21 .23 .25 .27 .29 .32 .34 .37 .4 .43 .46 .5 .55 .6 .64 .73"/><feFuncB type="discrete" tableValues=".02 .02 .09 .49 .52 .52 .51 .5 .48 .46 .44 .43 .41 .4 .38 .37 .36 .36 .36 .37 .38 .4 .42 .49"/></feComponentTransfer></filter><filter id="f118b" x="-.01" y="-.1" width="1.02" height="1.2"><feComponentTransfer><feFuncR type="discrete" tableValues="0 0 0 .01 .03 .23 .39 .51 .59 .65 .71 .76 .81 .86 .9 .93 .97 1 1 1 1 1 1 1"/><feFuncG type="discrete" tableValues="0 0 0 0 .01 .04 .06 .1 .12 .14 .16 .17 .19 .2 .22 .24 .26 .29 .33 .39 .45 .52 .57 .65"/><feFuncB type="discrete" tableValues=".02 .02 .02 .04 .1 .4 .49 .51 .52 .52 .52 .52 .51 .5 .48 .46 .43 .41 .39 .37 .36 .37 .39 .43"/></feComponentTransfer></filter></defs><rect width="1462" height="3371" fill="#fff"/><g shape-rendering="crispEdges" stroke-width="1"><g filter="url(#f0a)"><use href="#t40" transform="translate(117.00 96.50) scale(1.98387 25.305)"/></g><g filter="url(#f0b)"><use href="#t26" transform="translate(495.80 96.50) scale(1.91828 25.305)"/></g><g filter="url(#f1a)"><use href="#t41" transform="translate(117.00 121.31) scale(1.98387 25.305)"/></g><g filter="url(#f1b)"><use href="#t27" transform="translate(495.80 121.31) scale(1.91828 25.305)"/></g><g filter="url(#f2a)"><use href="#t42" transform="translate(117.00 146.11) scale(1.98387 25.305)"/></g><g filter="url(#f2b)"><use href="#t28" transform="translate(495.80 146.11) scale(1.91828 25.305)"/></g><g filter="url(#f3a)"><use href="#t43" transform="translate(117.00 170.92) scale(1.98387 25.305)"/></g><g filter="url(#f3b)"><use href="#t29" transform="translate(495.80 170.92) scale(1.91828 25.305)"/></g><g filter="url(#f4a)"><use href="#t44" transform="translate(117.00 195.72) scale(1.98387 25.305)"/></g><g filter="url(#f4b)"><use href="#t30" transform="translate(495.80 195.72) scale(1.91828 25.305)"/></g><g filter="url(#f5a)"><use href="#t45" transform="translate(117.00 220.53) scale(1.98387 24.805)"/></g><g filter="url(#f5b)"><use href="#t31" transform="translate(495.80 220.53) scale(1.91828 24.805)"/></g><g filter="url(#f6a)"><use href="#t0" transform="translate(117.00 260.10) scale(1.98387 25.305)"/></g><g filter="url(#f6b)"><use href="#t11" transform="translate(495.80 260.10) scale(1.91828 25.305)"/></g><g filter="url(#f7a)"><use href="#t22" transform="translate(117.00 284.91) scale(1.98387 25.305)"/></g><g filter="url(#f7b)"><use href="#t7" transform="translate(495.80 284.91) scale(1.91828 25.305)"/></g><g filter="url(#f8a)"><use href="#t18" transform="translate(117.00 309.71) scale(1.98387 25.305)"/></g><g filter="url(#f8b)"><use href="#t3" transform="translate(495.80 309.71) scale(1.91828 25.305)"/></g><g filter="url(#f9a)"><use href="#t14" transform="translate(117.00 334.52) scale(1.98387 25.305)"/></g><g filter="url(#f9b)"><use href="#t25" transform="translate(495.80 334.52) scale(1.91828 25.305)"/></g><g filter="url(#f10a)"><use href="#t10" transform="translate(117.00 359.32) scale(1.98387 25.305)"/></g><g filter="url(#f10b)"><use href="#t21" transform="translate(495.80 359.32) scale(1.91828 25.305)"/></g><g filter="url(#f11a)"><use href="#t6" transform="translate(117.00 384.13) scale(1.98387 25.305)"/></g><g filter="url(#f11b)"><use href="#t17" transform="translate(495.80 384.13) scale(1.91828 25.305)"/></g><g filter="url(#f12a)"><use href="#t2" transform="translate(117.00 408.93) scale(1.98387 25.305)"/></g><g filter="url(#f12b)"><use href="#t13" transform="translate(495.80 408.93) scale(1.91828 25.305)"/></g><g filter="url(#f13a)"><use href="#t24" transform="translate(117.00 433.74) scale(1.98387 25.305)"/></g><g filter="url(#f13b)"><use href="#t9" transform="translate(495.80 433.74) scale(1.91828 25.305)"/></g><g filter="url(#f14a)"><use href="#t20" transform="translate(117.00 458.54) scale(1.98387 25.305)"/></g><g filter="url(#f14b)"><use href="#t5" transform="translate(495.80 458.54) scale(1.91828 25.305)"/></g><g filter="url(#f15a)"><use href="#t16" transform="translate(117.00 483.35) scale(1.98387 25.305)"/></g><g filter="url(#f15b)"><use href="#t1" transform="translate(495.80 483.35) scale(1.91828 25.305)"/></g><g filter="url(#f16a)"><use href="#t12" transform="translate(117.00 508.15) scale(1.98387 25.305)"/></g><g filter="url(#f16b)"><use href="#t23" transform="translate(495.80 508.15) scale(1.91828 25.305)"/></g><g filter="url(#f17a)"><use href="#t8" transform="translate(117.00 532.96) scale(1.98387 25.305)"/></g><g filter="url(#f17b)"><use href="#t19" transform="translate(495.80 532.96) scale(1.91828 25.305)"/></g><g filter="url(#f18a)"><use href="#t4" transform="translate(117.00 557.76) scale(1.98387 25.305)"/></g><g filter="url(#f18b)"><use href="#t15" transform="translate(852.60 557.76) scale(-1.91828 25.305)"/></g><g filter="url(#f19a)"><use href="#t0" transform="translate(486.00 582.56) scale(-1.98387 25.305)"/></g><g filter="url(#f19b)"><use href="#t11" transform="translate(852.60 582.56) scale(-1.91828 25.305)"/></g><g filter="url(#f20a)"><use href="#t22" transform="translate(486.00 607.37) scale(-1.98387 25.305)"/></g><g filter="url(#f20b)"><use href="#t7" transform="translate(852.60 607.37) scale(-1.91828 25.305)"/></g><g filter="url(#f21a)"><use href="#t18" transform="translate(486.00 632.17) scale(-1.98387 25.305)"/></g><g filter="url(#f21b)"><use href="#t3" transform="translate(852.60 632.17) scale(-1.91828 25.305)"/></g><g filter="url(#f22a)"><use href="#t14" transform="translate(486.00 656.98) scale(-1.98387 25.305)"/></g><g filter="url(#f22b)"><use href="#t25" transform="translate(852.60 656.98) scale(-1.91828 25.305)"/></g><g filter="url(#f23a)"><use href="#t10" transform="translate(486.00 681.78) scale(-1.98387 25.305)"/></g><g filter="url(#f23b)"><use href="#t21" transform="translate(852.60 681.78) scale(-1.91828 25.305)"/></g><g filter="url(#f24a)"><use href="#t6" transform="translate(486.00 706.59) scale(-1.98387 25.305)"/></g><g filter="url(#f24b)"><use href="#t17" transform="translate(852.60 706.59) scale(-1.91828 25.305)"/></g><g filter="url(#f25a)"><use href="#t2" transform="translate(486.00 731.39) scale(-1.98387 25.305)"/></g><g filter="url(#f25b)"><use href="#t13" transform="translate(852.60 731.39) scale(-1.91828 25.305)"/></g><g filter="url(#f26a)"><use href="#t24" transform="translate(486.00 756.20) scale(-1.98387 25.305)"/></g><g filter="url(#f26b)"><use href="#t9" transform="translate(852.60 756.20) scale(-1.91828 25.305)"/></g><g filter="url(#f27a)"><use href="#t20" transform="translate(486.00 781.00) scale(-1.98387 24.805)"/></g><g filter="url(#f27b)"><use href="#t5" transform="translate(852.60 781.00) scale(-1.91828 24.805)"/></g><g filter="url(#f28a)"><use href="#t16" transform="translate(486.00 820.58) scale(-1.98387 25.305)"/></g><g filter="url(#f28b)"><use href="#t1" transform="translate(852.60 820.58) scale(-1.91828 25.305)"/></g><g filter="url(#f29a)"><use href="#t12" transform="translate(486.00 845.38) scale(-1.98387 25.305)"/></g><g filter="url(#f29b)"><use href="#t23" transform="translate(852.60 845.38) scale(-1.91828 25.305)"/></g><g filter="url(#f30a)"><use href="#t8" transform="translate(486.00 870.19) scale(-1.98387 25.305)"/></g><g filter="url(#f30b)"><use href="#t19" transform="translate(852.60 870.19) scale(-1.91828 25.305)"/></g><g filter="url(#f31a)"><use href="#t4" transform="translate(486.00 894.99) scale(-1.98387 25.305)"/></g><g filter="url(#f31b)"><use href="#t15" transform="translate(495.80 894.99) scale(1.91828 25.305)"/></g><g filter="url(#f32a)"><use href="#t0" transform="translate(117.00 919.80) scale(1.98387 25.305)"/></g><g filter="url(#f32b)"><use href="#t11" transform="translate(495.80 919.80) scale(1.91828 25.305)"/></g><g filter="url(#f33a)"><use href="#t22" transform="translate(117.00 944.60) scale(1.98387 25.305)"/></g><g filter="url(#f33b)"><use href="#t7" transform="translate(495.80 944.60) scale(1.91828 25.305)"/></g><g filter="url(#f34a)"><use href="#t18" transform="translate(117.00 969.41) scale(1.98387 25.305)"/></g><g filter="url(#f34b)"><use href="#t3" transform="translate(495.80 969.41) scale(1.91828 25.305)"/></g><g filter="url(#f35a)"><use href="#t14" transform="translate(117.00 994.21) scale(1.98387 25.305)"/></g><g filter="url(#f35b)"><use href="#t25" transform="translate(495.80 994.21) scale(1.91828 25.305)"/></g><g filter="url(#f36a)"><use href="#t10" transform="translate(117.00 1019.02) scale(1.98387 25.305)"/></g><g filter="url(#f36b)"><use href="#t21" transform="translate(495.80 1019.02) scale(1.91828 25.305)"/></g><g filter="url(#f37a)"><use href="#t6" transform="translate(117.00 1043.82) scale(1.98387 25.305)"/></g><g filter="url(#f37b)"><use href="#t17" transform="translate(495.80 1043.82) scale(1.91828 25.305)"/></g><g filter="url(#f38a)"><use href="#t2" transform="translate(117.00 1068.63) scale(1.98387 25.305)"/></g><g filter="url(#f38b)"><use href="#t13" transform="translate(495.80 1068.63) scale(1.91828 25.305)"/></g><g filter="url(#f39a)"><use href="#t24" transform="translate(117.00 1093.43) scale(1.98387 25.305)"/></g><g filter="url(#f39b)"><use href="#t9" transform="translate(495.80 1093.43) scale(1.91828 25.305)"/></g><g filter="url(#f40a)"><use href="#t20" transform="translate(117.00 1118.24) scale(1.98387 25.305)"/></g><g filter="url(#f40b)"><use href="#t5" transform="translate(495.80 1118.24) scale(1.91828 25.305)"/></g><g filter="url(#f41a)"><use href="#t16" transform="translate(117.00 1143.04) scale(1.98387 25.305)"/></g><g filter="url(#f41b)"><use href="#t1" transform="translate(495.80 1143.04) scale(1.91828 25.305)"/></g><g filter="url(#f42a)"><use href="#t12" transform="translate(117.00 1167.85) scale(1.98387 25.305)"/></g><g filter="url(#f42b)"><use href="#t23" transform="translate(495.80 1167.85) scale(1.91828 25.305)"/></g><g filter="url(#f43a)"><use href="#t8" transform="translate(117.00 1192.65) scale(1.98387 25.305)"/></g><g filter="url(#f43b)"><use href="#t19" transform="translate(495.80 1192.65) scale(1.91828 25.305)"/></g><g filter="url(#f44a)"><use href="#t4" transform="translate(117.00 1217.46) scale(1.98387 25.305)"/></g><g filter="url(#f44b)"><use href="#t15" transform="translate(852.60 1217.46) scale(-1.91828 25.305)"/></g><g filter="url(#f45a)"><use href="#t0" transform="translate(486.00 1242.26) scale(-1.98387 25.305)"/></g><g filter="url(#f45b)"><use href="#t11" transform="translate(852.60 1242.26) scale(-1.91828 25.305)"/></g><g filter="url(#f46a)"><use href="#t22" transform="translate(486.00 1267.07) scale(-1.98387 25.305)"/></g><g filter="url(#f46b)"><use href="#t7" transform="translate(852.60 1267.07) scale(-1.91828 25.305)"/></g><g filter="url(#f47a)"><use href="#t18" transform="translate(486.00 1291.87) scale(-1.98387 25.305)"/></g><g filter="url(#f47b)"><use href="#t3" transform="translate(852.60 1291.87) scale(-1.91828 25.305)"/></g><g filter="url(#f48a)"><use href="#t14" transform="translate(486.00 1316.68) scale(-1.98387 25.305)"/></g><g filter="url(#f48b)"><use href="#t25" transform="translate(852.60 1316.68) scale(-1.91828 25.305)"/></g><g filter="url(#f49a)"><use href="#t10" transform="translate(486.00 1341.48) scale(-1.98387 24.805)"/></g><g filter="url(#f49b)"><use href="#t21" transform="translate(852.60 1341.48) scale(-1.91828 24.805)"/></g><g filter="url(#f50a)"><use href="#t6" transform="translate(486.00 1381.06) scale(-1.98387 25.305)"/></g><g filter="url(#f50b)"><use href="#t17" transform="translate(852.60 1381.06) scale(-1.91828 25.305)"/></g><g filter="url(#f51a)"><use href="#t2" transform="translate(486.00 1405.87) scale(-1.98387 25.305)"/></g><g filter="url(#f51b)"><use href="#t13" transform="translate(852.60 1405.87) scale(-1.91828 25.305)"/></g><g filter="url(#f52a)"><use href="#t24" transform="translate(486.00 1430.67) scale(-1.98387 25.305)"/></g><g filter="url(#f52b)"><use href="#t9" transform="translate(852.60 1430.67) scale(-1.91828 25.305)"/></g><g filter="url(#f53a)"><use href="#t20" transform="translate(486.00 1455.48) scale(-1.98387 25.305)"/></g><g filter="url(#f53b)"><use href="#t5" transform="translate(852.60 1455.48) scale(-1.91828 25.305)"/></g><g filter="url(#f54a)"><use href="#t16" transform="translate(486.00 1480.28) scale(-1.98387 25.305)"/></g><g filter="url(#f54b)"><use href="#t1" transform="translate(852.60 1480.28) scale(-1.91828 25.305)"/></g><g filter="url(#f55a)"><use href="#t12" transform="translate(486.00 1505.09) scale(-1.98387 25.305)"/></g><g filter="url(#f55b)"><use href="#t23" transform="translate(852.60 1505.09) scale(-1.91828 25.305)"/></g><g filter="url(#f56a)"><use href="#t8" transform="translate(486.00 1529.89) scale(-1.98387 25.305)"/></g><g filter="url(#f56b)"><use href="#t19" transform="translate(852.60 1529.89) scale(-1.91828 25.305)"/></g><g filter="url(#f57a)"><use href="#t4" transform="translate(486.00 1554.70) scale(-1.98387 25.305)"/></g><g filter="url(#f57b)"><use href="#t15" transform="translate(495.80 1554.70) scale(1.91828 25.305)"/></g><g filter="url(#f58a)"><use href="#t0" transform="translate(117.00 1579.50) scale(1.98387 25.305)"/></g><g filter="url(#f58b)"><use href="#t11" transform="translate(495.80 1579.50) scale(1.91828 25.305)"/></g><g filter="url(#f59a)"><use href="#t22" transform="translate(117.00 1604.31) scale(1.98387 25.305)"/></g><g filter="url(#f59b)"><use href="#t7" transform="translate(495.80 1604.31) scale(1.91828 25.305)"/></g><g filter="url(#f60a)"><use href="#t18" transform="translate(117.00 1629.11) scale(1.98387 24.805)"/></g><g filter="url(#f60b)"><use href="#t3" transform="translate(495.80 1629.11) scale(1.91828 24.805)"/></g><g filter="url(#f61a)"><use href="#t46" transform="translate(117.00 1668.69) scale(1.98387 25.305)"/></g><g filter="url(#f61b)"><use href="#t32" transform="translate(495.80 1668.69) scale(1.91828 25.305)"/></g><g filter="url(#f62a)"><use href="#t47" transform="translate(117.00 1693.49) scale(1.98387 25.305)"/></g><g filter="url(#f62b)"><use href="#t33" transform="translate(495.80 1693.49) scale(1.91828 25.305)"/></g><g filter="url(#f63a)"><use href="#t48" transform="translate(117.00 1718.30) scale(1.98387 25.305)"/></g><g filter="url(#f63b)"><use href="#t34" transform="translate(495.80 1718.30) scale(1.91828 25.305)"/></g><g filter="url(#f64a)"><use href="#t49" transform="translate(117.00 1743.10) scale(1.98387 25.305)"/></g><g filter="url(#f64b)"><use href="#t35" transform="translate(495.80 1743.10) scale(1.91828 25.305)"/></g><g filter="url(#f65a)"><use href="#t50" transform="translate(117.00 1767.91) scale(1.98387 25.305)"/></g><g filter="url(#f65b)"><use href="#t36" transform="translate(495.80 1767.91) scale(1.91828 25.305)"/></g><g filter="url(#f66a)"><use href="#t51" transform="translate(117.00 1792.71) scale(1.98387 25.305)"/></g><g filter="url(#f66b)"><use href="#t37" transform="translate(495.80 1792.71) scale(1.91828 25.305)"/></g><g filter="url(#f67a)"><use href="#t52" transform="translate(117.00 1817.52) scale(1.98387 25.305)"/></g><g filter="url(#f67b)"><use href="#t38" transform="translate(495.80 1817.52) scale(1.91828 25.305)"/></g><g filter="url(#f68a)"><use href="#t53" transform="translate(117.00 1842.32) scale(1.98387 25.305)"/></g><g filter="url(#f68b)"><use href="#t39" transform="translate(495.80 1842.32) scale(1.91828 25.305)"/></g><g filter="url(#f69a)"><use href="#t40" transform="translate(117.00 1867.13) scale(1.98387 25.305)"/></g><g filter="url(#f69b)"><use href="#t26" transform="translate(495.80 1867.13) scale(1.91828 25.305)"/></g><g filter="url(#f70a)"><use href="#t41" transform="translate(117.00 1891.93) scale(1.98387 25.305)"/></g><g filter="url(#f70b)"><use href="#t27" transform="translate(495.80 1891.93) scale(1.91828 25.305)"/></g><g filter="url(#f71a)"><use href="#t42" transform="translate(117.00 1916.74) scale(1.98387 24.805)"/></g><g filter="url(#f71b)"><use href="#t28" transform="translate(495.80 1916.74) scale(1.91828 24.805)"/></g><g filter="url(#f72a)"><use href="#t43" transform="translate(117.00 1956.31) scale(1.98387 25.305)"/></g><g filter="url(#f72b)"><use href="#t29" transform="translate(495.80 1956.31) scale(1.91828 25.305)"/></g><g filter="url(#f73a)"><use href="#t44" transform="translate(117.00 1981.12) scale(1.98387 25.305)"/></g><g filter="url(#f73b)"><use href="#t30" transform="translate(495.80 1981.12) scale(1.91828 25.305)"/></g><g filter="url(#f74a)"><use href="#t45" transform="translate(117.00 2005.92) scale(1.98387 25.305)"/></g><g filter="url(#f74b)"><use href="#t31" transform="translate(495.80 2005.92) scale(1.91828 25.305)"/></g><g filter="url(#f75a)"><use href="#t46" transform="translate(117.00 2030.73) scale(1.98387 25.305)"/></g><g filter="url(#f75b)"><use href="#t32" transform="translate(495.80 2030.73) scale(1.91828 25.305)"/></g><g filter="url(#f76a)"><use href="#t47" transform="translate(117.00 2055.53) scale(1.98387 25.305)"/></g><g filter="url(#f76b)"><use href="#t33" transform="translate(495.80 2055.53) scale(1.91828 25.305)"/></g><g filter="url(#f77a)"><use href="#t48" transform="translate(117.00 2080.34) scale(1.98387 25.305)"/></g><g filter="url(#f77b)"><use href="#t34" transform="translate(495.80 2080.34) scale(1.91828 25.305)"/></g><g filter="url(#f78a)"><use href="#t49" transform="translate(117.00 2105.14) scale(1.98387 25.305)"/></g><g filter="url(#f78b)"><use href="#t35" transform="translate(495.80 2105.14) scale(1.91828 25.305)"/></g><g filter="url(#f79a)"><use href="#t50" transform="translate(117.00 2129.95) scale(1.98387 25.305)"/></g><g filter="url(#f79b)"><use href="#t36" transform="translate(495.80 2129.95) scale(1.91828 25.305)"/></g><g filter="url(#f80a)"><use href="#t51" transform="translate(117.00 2154.75) scale(1.98387 25.305)"/></g><g filter="url(#f80b)"><use href="#t37" transform="translate(495.80 2154.75) scale(1.91828 25.305)"/></g><g filter="url(#f81a)"><use href="#t52" transform="translate(117.00 2179.56) scale(1.98387 25.305)"/></g><g filter="url(#f81b)"><use href="#t38" transform="translate(495.80 2179.56) scale(1.91828 25.305)"/></g><g filter="url(#f82a)"><use href="#t53" transform="translate(117.00 2204.36) scale(1.98387 25.305)"/></g><g filter="url(#f82b)"><use href="#t39" transform="translate(495.80 2204.36) scale(1.91828 25.305)"/></g><g filter="url(#f83a)"><use href="#t40" transform="translate(117.00 2229.17) scale(1.98387 25.305)"/></g><g filter="url(#f83b)"><use href="#t26" transform="translate(495.80 2229.17) scale(1.91828 25.305)"/></g><g filter="url(#f84a)"><use href="#t41" transform="translate(117.00 2253.97) scale(1.98387 25.305)"/></g><g filter="url(#f84b)"><use href="#t27" transform="translate(495.80 2253.97) scale(1.91828 25.305)"/></g><g filter="url(#f85a)"><use href="#t42" transform="translate(117.00 2278.78) scale(1.98387 25.305)"/></g><g filter="url(#f85b)"><use href="#t28" transform="translate(495.80 2278.78) scale(1.91828 25.305)"/></g><g filter="url(#f86a)"><use href="#t43" transform="translate(117.00 2303.58) scale(1.98387 25.305)"/></g><g filter="url(#f86b)"><use href="#t29" transform="translate(495.80 2303.58) scale(1.91828 25.305)"/></g><g filter="url(#f87a)"><use href="#t44" transform="translate(117.00 2328.38) scale(1.98387 25.305)"/></g><g filter="url(#f87b)"><use href="#t30" transform="translate(495.80 2328.38) scale(1.91828 25.305)"/></g><g filter="url(#f88a)"><use href="#t45" transform="translate(117.00 2353.19) scale(1.98387 25.305)"/></g><g filter="url(#f88b)"><use href="#t31" transform="translate(495.80 2353.19) scale(1.91828 25.305)"/></g><g filter="url(#f89a)"><use href="#t46" transform="translate(117.00 2377.99) scale(1.98387 25.305)"/></g><g filter="url(#f89b)"><use href="#t32" transform="translate(495.80 2377.99) scale(1.91828 25.305)"/></g><g filter="url(#f90a)"><use href="#t47" transform="translate(117.00 2402.80) scale(1.98387 25.305)"/></g><g filter="url(#f90b)"><use href="#t33" transform="translate(495.80 2402.80) scale(1.91828 25.305)"/></g><g filter="url(#f91a)"><use href="#t48" transform="translate(117.00 2427.60) scale(1.98387 25.305)"/></g><g filter="url(#f91b)"><use href="#t34" transform="translate(495.80 2427.60) scale(1.91828 25.305)"/></g><g filter="url(#f92a)"><use href="#t49" transform="translate(117.00 2452.41) scale(1.98387 25.305)"/></g><g filter="url(#f92b)"><use href="#t35" transform="translate(495.80 2452.41) scale(1.91828 25.305)"/></g><g filter="url(#f93a)"><use href="#t50" transform="translate(117.00 2477.21) scale(1.98387 25.305)"/></g><g filter="url(#f93b)"><use href="#t36" transform="translate(495.80 2477.21) scale(1.91828 25.305)"/></g><g filter="url(#f94a)"><use href="#t51" transform="translate(117.00 2502.02) scale(1.98387 25.305)"/></g><g filter="url(#f94b)"><use href="#t37" transform="translate(495.80 2502.02) scale(1.91828 25.305)"/></g><g filter="url(#f95a)"><use href="#t52" transform="translate(117.00 2526.82) scale(1.98387 25.305)"/></g><g filter="url(#f95b)"><use href="#t38" transform="translate(495.80 2526.82) scale(1.91828 25.305)"/></g><g filter="url(#f96a)"><use href="#t53" transform="translate(117.00 2551.63) scale(1.98387 25.305)"/></g><g filter="url(#f96b)"><use href="#t39" transform="translate(495.80 2551.63) scale(1.91828 25.305)"/></g><g filter="url(#f97a)"><use href="#t40" transform="translate(117.00 2576.43) scale(1.98387 25.305)"/></g><g filter="url(#f97b)"><use href="#t26" transform="translate(495.80 2576.43) scale(1.91828 25.305)"/></g><g filter="url(#f98a)"><use href="#t41" transform="translate(117.00 2601.24) scale(1.98387 25.305)"/></g><g filter="url(#f98b)"><use href="#t27" transform="translate(495.80 2601.24) scale(1.91828 25.305)"/></g><g filter="url(#f99a)"><use href="#t42" transform="translate(117.00 2626.04) scale(1.98387 25.305)"/></g><g filter="url(#f99b)"><use href="#t28" transform="translate(495.80 2626.04) scale(1.91828 25.305)"/></g><g filter="url(#f100a)"><use href="#t43" transform="translate(117.00 2650.85) scale(1.98387 25.305)"/></g><g filter="url(#f100b)"><use href="#t29" transform="translate(495.80 2650.85) scale(1.91828 25.305)"/></g><g filter="url(#f101a)"><use href="#t44" transform="translate(117.00 2675.65) scale(1.98387 25.305)"/></g><g filter="url(#f101b)"><use href="#t30" transform="translate(495.80 2675.65) scale(1.91828 25.305)"/></g><g filter="url(#f102a)"><use href="#t45" transform="translate(117.00 2700.46) scale(1.98387 25.305)"/></g><g filter="url(#f102b)"><use href="#t31" transform="translate(495.80 2700.46) scale(1.91828 25.305)"/></g><g filter="url(#f103a)"><use href="#t46" transform="translate(117.00 2725.26) scale(1.98387 25.305)"/></g><g filter="url(#f103b)"><use href="#t32" transform="translate(495.80 2725.26) scale(1.91828 25.305)"/></g><g filter="url(#f104a)"><use href="#t47" transform="translate(117.00 2750.07) scale(1.98387 25.305)"/></g><g filter="url(#f104b)"><use href="#t33" transform="translate(495.80 2750.07) scale(1.91828 25.305)"/></g><g filter="url(#f105a)"><use href="#t48" transform="translate(117.00 2774.87) scale(1.98387 25.305)"/></g><g filter="url(#f105b)"><use href="#t34" transform="translate(495.80 2774.87) scale(1.91828 25.305)"/></g><g filter="url(#f106a)"><use href="#t49" transform="translate(117.00 2799.68) scale(1.98387 25.305)"/></g><g filter="url(#f106b)"><use href="#t35" transform="translate(495.80 2799.68) scale(1.91828 25.305)"/></g><g filter="url(#f107a)"><use href="#t50" transform="translate(117.00 2824.48) scale(1.98387 25.305)"/></g><g filter="url(#f107b)"><use href="#t36" transform="translate(495.80 2824.48) scale(1.91828 25.305)"/></g><g filter="url(#f108a)"><use href="#t51" transform="translate(117.00 2849.29) scale(1.98387 25.305)"/></g><g filter="url(#f108b)"><use href="#t37" transform="translate(495.80 2849.29) scale(1.91828 25.305)"/></g><g filter="url(#f109a)"><use href="#t52" transform="translate(117.00 2874.09) scale(1.98387 25.305)"/></g><g filter="url(#f109b)"><use href="#t38" transform="translate(495.80 2874.09) scale(1.91828 25.305)"/></g><g filter="url(#f110a)"><use href="#t53" transform="translate(117.00 2898.90) scale(1.98387 24.805)"/></g><g filter="url(#f110b)"><use href="#t39" transform="translate(495.80 2898.90) scale(1.91828 24.805)"/></g><g filter="url(#f111a)"><use href="#t14" transform="translate(117.00 2938.47) scale(1.98387 25.305)"/></g><g filter="url(#f111b)"><use href="#t25" transform="translate(495.80 2938.47) scale(1.91828 25.305)"/></g><g filter="url(#f112a)"><use href="#t10" transform="translate(117.00 2963.28) scale(1.98387 25.305)"/></g><g filter="url(#f112b)"><use href="#t21" transform="translate(495.80 2963.28) scale(1.91828 25.305)"/></g><g filter="url(#f113a)"><use href="#t6" transform="translate(117.00 2988.08) scale(1.98387 25.305)"/></g><g filter="url(#f113b)"><use href="#t17" transform="translate(495.80 2988.08) scale(1.91828 25.305)"/></g><g filter="url(#f114a)"><use href="#t2" transform="translate(117.00 3012.89) scale(1.98387 25.305)"/></g><g filter="url(#f114b)"><use href="#t13" transform="translate(495.80 3012.89) scale(1.91828 25.305)"/></g><g filter="url(#f115a)"><use href="#t24" transform="translate(117.00 3037.69) scale(1.98387 25.305)"/></g><g filter="url(#f115b)"><use href="#t9" transform="translate(495.80 3037.69) scale(1.91828 25.305)"/></g><g filter="url(#f116a)"><use href="#t20" transform="translate(117.00 3062.50) scale(1.98387 25.305)"/></g><g filter="url(#f116b)"><use href="#t5" transform="translate(495.80 3062.50) scale(1.91828 25.305)"/></g><g filter="url(#f117a)"><use href="#t16" transform="translate(117.00 3087.30) scale(1.98387 25.305)"/></g><g filter="url(#f117b)"><use href="#t1" transform="translate(495.80 3087.30) scale(1.91828 25.305)"/></g><g filter="url(#f118a)"><use href="#t12" transform="translate(117.00 3112.11) scale(1.98387 24.805)"/></g><g filter="url(#f118b)"><use href="#t23" transform="translate(495.80 3112.11) scale(1.91828 24.805)"/></g></g><rect x="117" y="34.8" width="369" height="24.6" fill="#0000ff"/><rect x="495.8" y="34.8" width="356.8" height="24.6" fill="#ff0000"/><defs><linearGradient id="rsl"><stop offset="0" stop-color="#00f800"/><stop offset="1" stop-color="#00ea00"/></linearGradient><linearGradient id="rsr"><stop offset="0" stop-color="#00e800"/><stop offset="0.573" stop-color="#00d600"/><stop offset="0.909" stop-color="#00c600"/><stop offset="0.965" stop-color="#00a800"/><stop offset="0.982" stop-color="#008c00"/><stop offset="0.986" stop-color="#005000"/><stop offset="0.9875" stop-color="#000"/><stop offset="0.9925" stop-color="#000"/><stop offset="0.9928" stop-color="#f00"/><stop offset="1" stop-color="#f00"/></linearGradient></defs><rect x="117" y="64.8" width="369" height="24.8" fill="url(#rsl)"/><rect x="495.8" y="64.8" width="356.8" height="24.8" fill="url(#rsr)"/><text x="859" y="56.6" font-size="25.5" textLength="111.1" lengthAdjust="spacing">RiskType</text><text x="859" y="86.0" font-size="25.5" textLength="124.1" lengthAdjust="spacing">RiskScore</text><g font-size="25" fill="#000"><text x="859" y="117.5">B cell_TIMER</text><text x="859" y="142.3">T cell CD4+_TIMER</text><text x="859" y="167.1">T cell CD8+_TIMER</text><text x="859" y="191.9">Neutrophil_TIMER</text><text x="859" y="216.7">Macrophage_TIMER</text><text x="859" y="241.5">Myeloid dendritic cell_TIMER</text><text x="859" y="281.1">B cell naive_CIBERSORT</text><text x="859" y="305.9">B cell memory_CIBERSORT</text><text x="859" y="330.7">B cell plasma_CIBERSORT</text><text x="859" y="355.5">T cell CD8+_CIBERSORT</text><text x="859" y="380.3">T cell CD4+ naive_CIBERSORT</text><text x="859" y="405.1">T cell CD4+ memory resting_CIBERSORT</text><text x="859" y="429.9">T cell CD4+ memory activated_CIBERSORT</text><text x="859" y="454.7">T cell follicular helper_CIBERSORT</text><text x="859" y="479.5">T cell regulatory (Tregs)_CIBERSORT</text><text x="859" y="504.3">T cell gamma delta_CIBERSORT</text><text x="859" y="529.2">NK cell resting_CIBERSORT</text><text x="859" y="554.0">NK cell activated_CIBERSORT</text><text x="859" y="578.8">Monocyte_CIBERSORT</text><text x="859" y="603.6">Macrophage M0_CIBERSORT</text><text x="859" y="628.4">Macrophage M1_CIBERSORT</text><text x="859" y="653.2">Macrophage M2_CIBERSORT</text><text x="859" y="678.0">Myeloid dendritic cell resting_CIBERSORT</text><text x="859" y="702.8">Myeloid dendritic cell activated_CIBERSORT</text><text x="859" y="727.6">Mast cell activated_CIBERSORT</text><text x="859" y="752.4">Mast cell resting_CIBERSORT</text><text x="859" y="777.2">Eosinophil_CIBERSORT</text><text x="859" y="802.0">Neutrophil_CIBERSORT</text><text x="859" y="841.6">B cell naive_CIBERSORT−ABS</text><text x="859" y="866.4">B cell memory_CIBERSORT−ABS</text><text x="859" y="891.2">B cell plasma_CIBERSORT−ABS</text><text x="859" y="916.0">T cell CD8+_CIBERSORT−ABS</text><text x="859" y="940.8">T cell CD4+ naive_CIBERSORT−ABS</text><text x="859" y="965.6">T cell CD4+ memory resting_CIBERSORT−ABS</text><text x="859" y="990.4">T cell CD4+ memory activated_CIBERSORT−ABS</text><text x="859" y="1015.2">T cell follicular helper_CIBERSORT−ABS</text><text x="859" y="1040.0">T cell regulatory (Tregs)_CIBERSORT−ABS</text><text x="859" y="1064.8">T cell gamma delta_CIBERSORT−ABS</text><text x="859" y="1089.6">NK cell resting_CIBERSORT−ABS</text><text x="859" y="1114.4">NK cell activated_CIBERSORT−ABS</text><text x="859" y="1139.2">Monocyte_CIBERSORT−ABS</text><text x="859" y="1164.0">Macrophage M0_CIBERSORT−ABS</text><text x="859" y="1188.9">Macrophage M1_CIBERSORT−ABS</text><text x="859" y="1213.7">Macrophage M2_CIBERSORT−ABS</text><text x="859" y="1238.5">Myeloid dendritic cell resting_CIBERSORT−ABS</text><text x="859" y="1263.3">Myeloid dendritic cell activated_CIBERSORT−ABS</text><text x="859" y="1288.1">Mast cell activated_CIBERSORT−ABS</text><text x="859" y="1312.9">Mast cell resting_CIBERSORT−ABS</text><text x="859" y="1337.7">Eosinophil_CIBERSORT−ABS</text><text x="859" y="1362.5">Neutrophil_CIBERSORT−ABS</text><text x="859" y="1402.1">B cell_QUANTISEQ</text><text x="859" y="1426.9">Macrophage M1_QUANTISEQ</text><text x="859" y="1451.7">Macrophage M2_QUANTISEQ</text><text x="859" y="1476.5">Monocyte_QUANTISEQ</text><text x="859" y="1501.3">Neutrophil_QUANTISEQ</text><text x="859" y="1526.1">NK cell_QUANTISEQ</text><text x="859" y="1550.9">T cell CD4+ (non−regulatory)_QUANTISEQ</text><text x="859" y="1575.7">T cell CD8+_QUANTISEQ</text><text x="859" y="1600.5">T cell regulatory (Tregs)_QUANTISEQ</text><text x="859" y="1625.3">Myeloid dendritic cell_QUANTISEQ</text><text x="859" y="1650.1">uncharacterized cell_QUANTISEQ</text><text x="859" y="1689.7">T cell_MCPCOUNTER</text><text x="859" y="1714.5">T cell CD8+_MCPCOUNTER</text><text x="859" y="1739.3">cytotoxicity score_MCPCOUNTER</text><text x="859" y="1764.1">NK cell_MCPCOUNTER</text><text x="859" y="1788.9">B cell_MCPCOUNTER</text><text x="859" y="1813.7">Monocyte_MCPCOUNTER</text><text x="859" y="1838.5">Macrophage/Monocyte_MCPCOUNTER</text><text x="859" y="1863.3">Myeloid dendritic cell_MCPCOUNTER</text><text x="859" y="1888.1">Neutrophil_MCPCOUNTER</text><text x="859" y="1912.9">Endothelial cell_MCPCOUNTER</text><text x="859" y="1937.7">Cancer associated fibroblast_MCPCOUNTER</text><text x="859" y="1977.3">Myeloid dendritic cell activated_XCELL</text><text x="859" y="2002.1">B cell_XCELL</text><text x="859" y="2026.9">T cell CD4+ memory_XCELL</text><text x="859" y="2051.7">T cell CD4+ naive_XCELL</text><text x="859" y="2076.5">T cell CD4+ (non−regulatory)_XCELL</text><text x="859" y="2101.3">T cell CD4+ central memory_XCELL</text><text x="859" y="2126.1">T cell CD4+ effector memory_XCELL</text><text x="859" y="2150.9">T cell CD8+ naive_XCELL</text><text x="859" y="2175.8">T cell CD8+_XCELL</text><text x="859" y="2200.6">T cell CD8+ central memory_XCELL</text><text x="859" y="2225.4">T cell CD8+ effector memory_XCELL</text><text x="859" y="2250.2">Class−switched memory B cell_XCELL</text><text x="859" y="2275.0">Common lymphoid progenitor_XCELL</text><text x="859" y="2299.8">Common myeloid progenitor_XCELL</text><text x="859" y="2324.6">Myeloid dendritic cell_XCELL</text><text x="859" y="2349.4">Endothelial cell_XCELL</text><text x="859" y="2374.2">Eosinophil_XCELL</text><text x="859" y="2399.0">Cancer associated fibroblast_XCELL</text><text x="859" y="2423.8">Granulocyte−monocyte progenitor_XCELL</text><text x="859" y="2448.6">Hematopoietic stem cell_XCELL</text><text x="859" y="2473.4">Macrophage_XCELL</text><text x="859" y="2498.2">Macrophage M1_XCELL</text><text x="859" y="2523.0">Macrophage M2_XCELL</text><text x="859" y="2547.8">Mast cell_XCELL</text><text x="859" y="2572.6">B cell memory_XCELL</text><text x="859" y="2597.4">Monocyte_XCELL</text><text x="859" y="2622.2">B cell naive_XCELL</text><text x="859" y="2647.0">Neutrophil_XCELL</text><text x="859" y="2671.9">NK cell_XCELL</text><text x="859" y="2696.7">T cell NK_XCELL</text><text x="859" y="2721.5">Plasmacytoid dendritic cell_XCELL</text><text x="859" y="2746.3">B cell plasma_XCELL</text><text x="859" y="2771.1">T cell gamma delta_XCELL</text><text x="859" y="2795.9">T cell CD4+ Th1_XCELL</text><text x="859" y="2820.7">T cell CD4+ Th2_XCELL</text><text x="859" y="2845.5">T cell regulatory (Tregs)_XCELL</text><text x="859" y="2870.3">immune score_XCELL</text><text x="859" y="2895.1">stroma score_XCELL</text><text x="859" y="2919.9">microenvironment score_XCELL</text><text x="859" y="2959.5">B cell_EPIC</text><text x="859" y="2984.3">Cancer associated fibroblast_EPIC</text><text x="859" y="3009.1">T cell CD4+_EPIC</text><text x="859" y="3033.9">T cell CD8+_EPIC</text><text x="859" y="3058.7">Endothelial cell_EPIC</text><text x="859" y="3083.5">Macrophage_EPIC</text><text x="859" y="3108.3">NK cell_EPIC</text><text x="859" y="3133.1">uncharacterized cell_EPIC</text></g><g fill="#000"><text x="19.5" y="3168.6" font-size="26.3" textLength="112.4" lengthAdjust="spacing">RiskType</text><rect x="21.6" y="3183" width="26.4" height="26.4" fill="#ff0000"/><rect x="21.6" y="3211.5" width="26.4" height="26.4" fill="#0000ff"/><text x="54.9" y="3205.4" font-size="25.5" textLength="49.5" lengthAdjust="spacing">high</text><text x="54.9" y="3232.7" font-size="25.5" textLength="39.1" lengthAdjust="spacing">low</text><text x="157.3" y="3168.6" font-size="26.3" textLength="123.7" lengthAdjust="spacing">RiskScore</text><defs><linearGradient id="lgRiskScore" x1="0" y1="0" x2="0" y2="1"><stop offset="0.000" stop-color="#ff0000"/><stop offset="0.025" stop-color="#ff0000"/><stop offset="0.050" stop-color="#ff0000"/><stop offset="0.075" stop-color="#ff0000"/><stop offset="0.100" stop-color="#ff0000"/><stop offset="0.125" stop-color="#f60000"/><stop offset="0.150" stop-color="#e60000"/><stop offset="0.175" stop-color="#d70000"/><stop offset="0.200" stop-color="#c80000"/><stop offset="0.225" stop-color="#b90000"/><stop offset="0.250" stop-color="#aa0000"/><stop offset="0.275" stop-color="#9a0000"/><stop offset="0.300" stop-color="#8b0000"/><stop offset="0.325" stop-color="#7c0000"/><stop offset="0.350" stop-color="#6d0000"/><stop offset="0.375" stop-color="#5e0000"/><stop offset="0.400" stop-color="#4f0000"/><stop offset="0.425" stop-color="#3f0000"/><stop offset="0.450" stop-color="#300000"/><stop offset="0.475" stop-color="#210000"/><stop offset="0.500" stop-color="#120000"/><stop offset="0.525" stop-color="#030000"/><stop offset="0.550" stop-color="#000d00"/><stop offset="0.575" stop-color="#001c00"/><stop offset="0.600" stop-color="#002c00"/><stop offset="0.625" stop-color="#003b00"/><stop offset="0.650" stop-color="#004a00"/><stop offset="0.675" stop-color="#005a00"/><stop offset="0.700" stop-color="#006900"/><stop offset="0.725" stop-color="#007900"/><stop offset="0.750" stop-color="#008800"/><stop offset="0.775" stop-color="#009800"/><stop offset="0.800" stop-color="#00a700"/><stop offset="0.825" stop-color="#00b600"/><stop offset="0.850" stop-color="#00c600"/><stop offset="0.875" stop-color="#00d500"/><stop offset="0.900" stop-color="#00e500"/><stop offset="0.925" stop-color="#00f400"/><stop offset="0.950" stop-color="#00ff00"/><stop offset="0.975" stop-color="#00ff00"/><stop offset="1.000" stop-color="#00ff00"/></linearGradient></defs><rect x="158.1" y="3182.2" width="30" height="149.4" fill="url(#lgRiskScore)"/><path d="M158.1 3187.5h7M181.1 3187.5h7" stroke="#fff" stroke-width="1.3"/><text x="195.1" y="3196.1" font-size="25.5">15</text><path d="M158.1 3233.6h7M181.1 3233.6h7" stroke="#fff" stroke-width="1.3"/><text x="195.1" y="3242.2" font-size="25.5">10</text><path d="M158.1 3279.7h7M181.1 3279.7h7" stroke="#fff" stroke-width="1.3"/><text x="195.1" y="3288.3" font-size="25.5">5</text><path d="M158.1 3325.8h7M181.1 3325.8h7" stroke="#fff" stroke-width="1.3"/><text x="195.1" y="3334.4" font-size="25.5">0</text><text x="309.5" y="3168.6" font-size="26.3" textLength="79.7" lengthAdjust="spacing">TIMER</text><defs><linearGradient id="lgTIMER" x1="0" y1="0" x2="0" y2="1"><stop offset="0.000" stop-color="#f8281d"/><stop offset="0.025" stop-color="#f8281d"/><stop offset="0.050" stop-color="#f93222"/><stop offset="0.075" stop-color="#fa452b"/><stop offset="0.100" stop-color="#fb5733"/><stop offset="0.125" stop-color="#fc693e"/><stop offset="0.150" stop-color="#fd7b4a"/><stop offset="0.175" stop-color="#fe8d55"/><stop offset="0.200" stop-color="#fe9b60"/><stop offset="0.225" stop-color="#fda96a"/><stop offset="0.250" stop-color="#fdb775"/><stop offset="0.275" stop-color="#fdc47f"/><stop offset="0.300" stop-color="#fdce87"/><stop offset="0.325" stop-color="#fdd98f"/><stop offset="0.350" stop-color="#fde397"/><stop offset="0.375" stop-color="#fceca3"/><stop offset="0.400" stop-color="#fbf3b2"/><stop offset="0.425" stop-color="#fafbc0"/><stop offset="0.450" stop-color="#f6facb"/><stop offset="0.475" stop-color="#f2f8d5"/><stop offset="0.500" stop-color="#edf6e0"/><stop offset="0.525" stop-color="#e5f2e6"/><stop offset="0.550" stop-color="#dceeed"/><stop offset="0.575" stop-color="#d1e9f0"/><stop offset="0.600" stop-color="#c2e2ed"/><stop offset="0.625" stop-color="#b3dae9"/><stop offset="0.650" stop-color="#a3d1e6"/><stop offset="0.675" stop-color="#92c7e1"/><stop offset="0.700" stop-color="#81bedd"/><stop offset="0.725" stop-color="#70b4d9"/><stop offset="0.750" stop-color="#5ea9d3"/><stop offset="0.775" stop-color="#4c9ccd"/><stop offset="0.800" stop-color="#3b90c8"/><stop offset="0.825" stop-color="#3088c4"/><stop offset="0.850" stop-color="#267fc1"/><stop offset="0.875" stop-color="#1e79be"/><stop offset="0.900" stop-color="#1d78be"/><stop offset="0.925" stop-color="#1c77bd"/><stop offset="0.950" stop-color="#1a76bd"/><stop offset="0.975" stop-color="#1a76bd"/><stop offset="1.000" stop-color="#1a76bd"/></linearGradient></defs><rect x="308" y="3182.2" width="30" height="149.4" fill="url(#lgTIMER)"/><path d="M308 3187.5h7M331 3187.5h7" stroke="#fff" stroke-width="1.3"/><text x="345" y="3196.1" font-size="25.5">2</text><path d="M308 3222.0h7M331 3222.0h7" stroke="#fff" stroke-width="1.3"/><text x="345" y="3230.6" font-size="25.5">1</text><path d="M308 3256.6h7M331 3256.6h7" stroke="#fff" stroke-width="1.3"/><text x="345" y="3265.2" font-size="25.5">0</text><path d="M308 3291.1h7M331 3291.1h7" stroke="#fff" stroke-width="1.3"/><text x="345" y="3299.7" font-size="25.5">−1</text><path d="M308 3325.6h7M331 3325.6h7" stroke="#fff" stroke-width="1.3"/><text x="345" y="3334.2" font-size="25.5">−2</text><text x="412.6" y="3168.6" font-size="26.3" textLength="147.4" lengthAdjust="spacing">CIBERSORT</text><defs><linearGradient id="lgCIBERSORT" x1="0" y1="0" x2="0" y2="1"><stop offset="0.000" stop-color="#ff0000"/><stop offset="0.025" stop-color="#ff0000"/><stop offset="0.050" stop-color="#f70000"/><stop offset="0.075" stop-color="#e90000"/><stop offset="0.100" stop-color="#db0000"/><stop offset="0.125" stop-color="#ce0000"/><stop offset="0.150" stop-color="#c00000"/><stop offset="0.175" stop-color="#b20000"/><stop offset="0.200" stop-color="#a40000"/><stop offset="0.225" stop-color="#960000"/><stop offset="0.250" stop-color="#890000"/><stop offset="0.275" stop-color="#7b0000"/><stop offset="0.300" stop-color="#6d0000"/><stop offset="0.325" stop-color="#5f0000"/><stop offset="0.350" stop-color="#510000"/><stop offset="0.375" stop-color="#440000"/><stop offset="0.400" stop-color="#360000"/><stop offset="0.425" stop-color="#280000"/><stop offset="0.450" stop-color="#1a0000"/><stop offset="0.475" stop-color="#0d0000"/><stop offset="0.500" stop-color="#000100"/><stop offset="0.525" stop-color="#000f00"/><stop offset="0.550" stop-color="#001d00"/><stop offset="0.575" stop-color="#002b00"/><stop offset="0.600" stop-color="#003800"/><stop offset="0.625" stop-color="#004600"/><stop offset="0.650" stop-color="#005400"/><stop offset="0.675" stop-color="#006200"/><stop offset="0.700" stop-color="#007000"/><stop offset="0.725" stop-color="#007d00"/><stop offset="0.750" stop-color="#008b00"/><stop offset="0.775" stop-color="#009900"/><stop offset="0.800" stop-color="#00a700"/><stop offset="0.825" stop-color="#00b500"/><stop offset="0.850" stop-color="#00c200"/><stop offset="0.875" stop-color="#00d000"/><stop offset="0.900" stop-color="#00de00"/><stop offset="0.925" stop-color="#00ec00"/><stop offset="0.950" stop-color="#00f900"/><stop offset="0.975" stop-color="#00ff00"/><stop offset="1.000" stop-color="#00ff00"/></linearGradient></defs><rect x="414" y="3182.2" width="30" height="149.4" fill="url(#lgCIBERSORT)"/><path d="M414 3187.5h7M437 3187.5h7" stroke="#fff" stroke-width="1.3"/><text x="451" y="3196.1" font-size="25.5">2</text><path d="M414 3222.0h7M437 3222.0h7" stroke="#fff" stroke-width="1.3"/><text x="451" y="3230.6" font-size="25.5">1</text><path d="M414 3256.6h7M437 3256.6h7" stroke="#fff" stroke-width="1.3"/><text x="451" y="3265.2" font-size="25.5">0</text><path d="M414 3291.1h7M437 3291.1h7" stroke="#fff" stroke-width="1.3"/><text x="451" y="3299.7" font-size="25.5">−1</text><path d="M414 3325.6h7M437 3325.6h7" stroke="#fff" stroke-width="1.3"/><text x="451" y="3334.2" font-size="25.5">−2</text><text x="587.4" y="3168.6" font-size="26.3" textLength="214.9" lengthAdjust="spacing">CIBERSORT−ABS</text><defs><linearGradient id="lgCIBERSORTABS" x1="0" y1="0" x2="0" y2="1"><stop offset="0.000" stop-color="#ffff00"/><stop offset="0.025" stop-color="#ffff00"/><stop offset="0.050" stop-color="#f9f900"/><stop offset="0.075" stop-color="#efee00"/><stop offset="0.100" stop-color="#e5e300"/><stop offset="0.125" stop-color="#dbd700"/><stop offset="0.150" stop-color="#d0cc00"/><stop offset="0.175" stop-color="#c8c311"/><stop offset="0.200" stop-color="#bfb924"/><stop offset="0.225" stop-color="#b6b132"/><stop offset="0.250" stop-color="#aea93f"/><stop offset="0.275" stop-color="#a6a24b"/><stop offset="0.300" stop-color="#9f9d54"/><stop offset="0.325" stop-color="#99975c"/><stop offset="0.350" stop-color="#929265"/><stop offset="0.375" stop-color="#8c8c6f"/><stop offset="0.400" stop-color="#858579"/><stop offset="0.425" stop-color="#7e7e82"/><stop offset="0.450" stop-color="#77778a"/><stop offset="0.475" stop-color="#707091"/><stop offset="0.500" stop-color="#696999"/><stop offset="0.525" stop-color="#6060a5"/><stop offset="0.550" stop-color="#5656b0"/><stop offset="0.575" stop-color="#4c4cbb"/><stop offset="0.600" stop-color="#3f3fc3"/><stop offset="0.625" stop-color="#3232cd"/><stop offset="0.650" stop-color="#2525d7"/><stop offset="0.675" stop-color="#1919e1"/><stop offset="0.700" stop-color="#0f0feb"/><stop offset="0.725" stop-color="#0606f4"/><stop offset="0.750" stop-color="#0505f6"/><stop offset="0.775" stop-color="#0404f7"/><stop offset="0.800" stop-color="#0303f8"/><stop offset="0.825" stop-color="#0303f9"/><stop offset="0.850" stop-color="#0202fa"/><stop offset="0.875" stop-color="#0202fb"/><stop offset="0.900" stop-color="#0101fc"/><stop offset="0.925" stop-color="#0101fd"/><stop offset="0.950" stop-color="#0000ff"/><stop offset="0.975" stop-color="#0000ff"/><stop offset="1.000" stop-color="#0000ff"/></linearGradient></defs><rect x="588.8" y="3182.2" width="30" height="149.4" fill="url(#lgCIBERSORTABS)"/><path d="M588.8 3187.5h7M611.8 3187.5h7" stroke="#fff" stroke-width="1.3"/><text x="625.8" y="3196.1" font-size="25.5">2</text><path d="M588.8 3222.0h7M611.8 3222.0h7" stroke="#fff" stroke-width="1.3"/><text x="625.8" y="3230.6" font-size="25.5">1</text><path d="M588.8 3256.6h7M611.8 3256.6h7" stroke="#fff" stroke-width="1.3"/><text x="625.8" y="3265.2" font-size="25.5">0</text><path d="M588.8 3291.1h7M611.8 3291.1h7" stroke="#fff" stroke-width="1.3"/><text x="625.8" y="3299.7" font-size="25.5">−1</text><path d="M588.8 3325.6h7M611.8 3325.6h7" stroke="#fff" stroke-width="1.3"/><text x="625.8" y="3334.2" font-size="25.5">−2</text><text x="829.8" y="3168.6" font-size="26.3" textLength="148.0" lengthAdjust="spacing">QUANTISEQ</text><defs><linearGradient id="lgQUANTISEQ" x1="0" y1="0" x2="0" y2="1"><stop offset="0.000" stop-color="#ff0000"/><stop offset="0.025" stop-color="#ff0000"/><stop offset="0.050" stop-color="#ff0808"/><stop offset="0.075" stop-color="#ff1717"/><stop offset="0.100" stop-color="#ff2525"/><stop offset="0.125" stop-color="#ff3434"/><stop offset="0.150" stop-color="#ff4343"/><stop offset="0.175" stop-color="#ff5151"/><stop offset="0.200" stop-color="#ff6060"/><stop offset="0.225" stop-color="#ff6e6e"/><stop offset="0.250" stop-color="#ff7d7d"/><stop offset="0.275" stop-color="#ff8b8b"/><stop offset="0.300" stop-color="#ff9a9a"/><stop offset="0.325" stop-color="#ffa8a8"/><stop offset="0.350" stop-color="#ffb7b7"/><stop offset="0.375" stop-color="#ffc5c5"/><stop offset="0.400" stop-color="#ffd4d4"/><stop offset="0.425" stop-color="#ffe2e2"/><stop offset="0.450" stop-color="#fff1f1"/><stop offset="0.475" stop-color="#ffffff"/><stop offset="0.500" stop-color="#f2f2ff"/><stop offset="0.525" stop-color="#e5e5ff"/><stop offset="0.550" stop-color="#d7d7ff"/><stop offset="0.575" stop-color="#cacaff"/><stop offset="0.600" stop-color="#bdbdff"/><stop offset="0.625" stop-color="#b0b0ff"/><stop offset="0.650" stop-color="#a3a3ff"/><stop offset="0.675" stop-color="#9696ff"/><stop offset="0.700" stop-color="#8989ff"/><stop offset="0.725" stop-color="#7b7bff"/><stop offset="0.750" stop-color="#6e6eff"/><stop offset="0.775" stop-color="#6161ff"/><stop offset="0.800" stop-color="#5454ff"/><stop offset="0.825" stop-color="#4747ff"/><stop offset="0.850" stop-color="#3a3aff"/><stop offset="0.875" stop-color="#2d2dff"/><stop offset="0.900" stop-color="#2020ff"/><stop offset="0.925" stop-color="#1212ff"/><stop offset="0.950" stop-color="#0505ff"/><stop offset="0.975" stop-color="#0000ff"/><stop offset="1.000" stop-color="#0000ff"/></linearGradient></defs><rect x="830" y="3182.2" width="30" height="149.4" fill="url(#lgQUANTISEQ)"/><path d="M830 3187.5h7M853 3187.5h7" stroke="#fff" stroke-width="1.3"/><text x="867" y="3196.1" font-size="25.5">2</text><path d="M830 3222.0h7M853 3222.0h7" stroke="#fff" stroke-width="1.3"/><text x="867" y="3230.6" font-size="25.5">1</text><path d="M830 3256.6h7M853 3256.6h7" stroke="#fff" stroke-width="1.3"/><text x="867" y="3265.2" font-size="25.5">0</text><path d="M830 3291.1h7M853 3291.1h7" stroke="#fff" stroke-width="1.3"/><text x="867" y="3299.7" font-size="25.5">−1</text><path d="M830 3325.6h7M853 3325.6h7" stroke="#fff" stroke-width="1.3"/><text x="867" y="3334.2" font-size="25.5">−2</text><text x="1004.2" y="3168.6" font-size="26.3" textLength="181.8" lengthAdjust="spacing">MCPCOUNTER</text><defs><linearGradient id="lgMCPCOUNTER" x1="0" y1="0" x2="0" y2="1"><stop offset="0.000" stop-color="#f8fb9a"/><stop offset="0.025" stop-color="#f8fb9a"/><stop offset="0.050" stop-color="#f6f68b"/><stop offset="0.075" stop-color="#f4ee72"/><stop offset="0.100" stop-color="#f4e455"/><stop offset="0.125" stop-color="#f9d42b"/><stop offset="0.150" stop-color="#ffc502"/><stop offset="0.175" stop-color="#ffb600"/><stop offset="0.200" stop-color="#ffa700"/><stop offset="0.225" stop-color="#ff9700"/><stop offset="0.250" stop-color="#ff8700"/><stop offset="0.275" stop-color="#ff7706"/><stop offset="0.300" stop-color="#ff6817"/><stop offset="0.325" stop-color="#ff5a28"/><stop offset="0.350" stop-color="#f74e33"/><stop offset="0.375" stop-color="#f0433d"/><stop offset="0.400" stop-color="#e73a46"/><stop offset="0.425" stop-color="#de3350"/><stop offset="0.450" stop-color="#d42d57"/><stop offset="0.475" stop-color="#cb2a5c"/><stop offset="0.500" stop-color="#c12861"/><stop offset="0.525" stop-color="#b42367"/><stop offset="0.550" stop-color="#a81f6d"/><stop offset="0.575" stop-color="#9c1b6f"/><stop offset="0.600" stop-color="#901670"/><stop offset="0.625" stop-color="#821270"/><stop offset="0.650" stop-color="#720e6f"/><stop offset="0.675" stop-color="#620a6e"/><stop offset="0.700" stop-color="#510868"/><stop offset="0.725" stop-color="#410663"/><stop offset="0.750" stop-color="#320656"/><stop offset="0.775" stop-color="#240548"/><stop offset="0.800" stop-color="#190439"/><stop offset="0.825" stop-color="#0f0329"/><stop offset="0.850" stop-color="#07021a"/><stop offset="0.875" stop-color="#050110"/><stop offset="0.900" stop-color="#020007"/><stop offset="0.925" stop-color="#010004"/><stop offset="0.950" stop-color="#000001"/><stop offset="0.975" stop-color="#000000"/><stop offset="1.000" stop-color="#000000"/></linearGradient></defs><rect x="1005" y="3182.2" width="30" height="149.4" fill="url(#lgMCPCOUNTER)"/><path d="M1005 3187.5h7M1028 3187.5h7" stroke="#fff" stroke-width="1.3"/><text x="1042" y="3196.1" font-size="25.5">2</text><path d="M1005 3222.0h7M1028 3222.0h7" stroke="#fff" stroke-width="1.3"/><text x="1042" y="3230.6" font-size="25.5">1</text><path d="M1005 3256.6h7M1028 3256.6h7" stroke="#fff" stroke-width="1.3"/><text x="1042" y="3265.2" font-size="25.5">0</text><path d="M1005 3291.1h7M1028 3291.1h7" stroke="#fff" stroke-width="1.3"/><text x="1042" y="3299.7" font-size="25.5">−1</text><path d="M1005 3325.6h7M1028 3325.6h7" stroke="#fff" stroke-width="1.3"/><text x="1042" y="3334.2" font-size="25.5">−2</text><text x="1210.7" y="3168.6" font-size="26.3" textLength="82.3" lengthAdjust="spacing">XCELL</text><defs><linearGradient id="lgXCELL" x1="0" y1="0" x2="0" y2="1"><stop offset="0.000" stop-color="#ffe800"/><stop offset="0.025" stop-color="#ffe800"/><stop offset="0.050" stop-color="#f8e700"/><stop offset="0.075" stop-color="#ede500"/><stop offset="0.100" stop-color="#e0e400"/><stop offset="0.125" stop-color="#cfe200"/><stop offset="0.150" stop-color="#bfe000"/><stop offset="0.175" stop-color="#a5de00"/><stop offset="0.200" stop-color="#86db04"/><stop offset="0.225" stop-color="#39d22b"/><stop offset="0.250" stop-color="#00c94a"/><stop offset="0.275" stop-color="#00be56"/><stop offset="0.300" stop-color="#00b967"/><stop offset="0.325" stop-color="#00b478"/><stop offset="0.350" stop-color="#00ac7d"/><stop offset="0.375" stop-color="#00a482"/><stop offset="0.400" stop-color="#009d85"/><stop offset="0.425" stop-color="#009588"/><stop offset="0.450" stop-color="#008d8b"/><stop offset="0.475" stop-color="#00828d"/><stop offset="0.500" stop-color="#00788f"/><stop offset="0.525" stop-color="#00728f"/><stop offset="0.550" stop-color="#006b8e"/><stop offset="0.575" stop-color="#00658f"/><stop offset="0.600" stop-color="#005f91"/><stop offset="0.625" stop-color="#1b558c"/><stop offset="0.650" stop-color="#2d4b89"/><stop offset="0.675" stop-color="#364287"/><stop offset="0.700" stop-color="#3f3984"/><stop offset="0.725" stop-color="#47317f"/><stop offset="0.750" stop-color="#4b2879"/><stop offset="0.775" stop-color="#4e1e73"/><stop offset="0.800" stop-color="#4f166c"/><stop offset="0.825" stop-color="#4e0e65"/><stop offset="0.850" stop-color="#4d065d"/><stop offset="0.875" stop-color="#4d0057"/><stop offset="0.900" stop-color="#4c0055"/><stop offset="0.925" stop-color="#4b0053"/><stop offset="0.950" stop-color="#4a0051"/><stop offset="0.975" stop-color="#4a0050"/><stop offset="1.000" stop-color="#4a0050"/></linearGradient></defs><rect x="1212" y="3182.2" width="30" height="149.4" fill="url(#lgXCELL)"/><path d="M1212 3187.5h7M1235 3187.5h7" stroke="#fff" stroke-width="1.3"/><text x="1249" y="3196.1" font-size="25.5">2</text><path d="M1212 3222.0h7M1235 3222.0h7" stroke="#fff" stroke-width="1.3"/><text x="1249" y="3230.6" font-size="25.5">1</text><path d="M1212 3256.6h7M1235 3256.6h7" stroke="#fff" stroke-width="1.3"/><text x="1249" y="3265.2" font-size="25.5">0</text><path d="M1212 3291.1h7M1235 3291.1h7" stroke="#fff" stroke-width="1.3"/><text x="1249" y="3299.7" font-size="25.5">−1</text><path d="M1212 3325.6h7M1235 3325.6h7" stroke="#fff" stroke-width="1.3"/><text x="1249" y="3334.2" font-size="25.5">−2</text><text x="1321.5" y="3168.6" font-size="26.3" textLength="61.1" lengthAdjust="spacing">EPIC</text><defs><linearGradient id="lgEPIC" x1="0" y1="0" x2="0" y2="1"><stop offset="0.000" stop-color="#fcfdbf"/><stop offset="0.025" stop-color="#fcfdbf"/><stop offset="0.050" stop-color="#fcf7b7"/><stop offset="0.075" stop-color="#fdedaa"/><stop offset="0.100" stop-color="#fde19d"/><stop offset="0.125" stop-color="#fdd493"/><stop offset="0.150" stop-color="#fdc788"/><stop offset="0.175" stop-color="#fdb87c"/><stop offset="0.200" stop-color="#feaa70"/><stop offset="0.225" stop-color="#fe9d69"/><stop offset="0.250" stop-color="#ff9263"/><stop offset="0.275" stop-color="#ff855f"/><stop offset="0.300" stop-color="#ff785d"/><stop offset="0.325" stop-color="#ff6a5a"/><stop offset="0.350" stop-color="#ff5c60"/><stop offset="0.375" stop-color="#ff4e66"/><stop offset="0.400" stop-color="#f8446e"/><stop offset="0.425" stop-color="#ee3d75"/><stop offset="0.450" stop-color="#e2367c"/><stop offset="0.475" stop-color="#d53280"/><stop offset="0.500" stop-color="#c72e84"/><stop offset="0.525" stop-color="#b92985"/><stop offset="0.550" stop-color="#ab2586"/><stop offset="0.575" stop-color="#9f2285"/><stop offset="0.600" stop-color="#921f83"/><stop offset="0.625" stop-color="#861b82"/><stop offset="0.650" stop-color="#791681"/><stop offset="0.675" stop-color="#6c1180"/><stop offset="0.700" stop-color="#600e7d"/><stop offset="0.725" stop-color="#540b7a"/><stop offset="0.750" stop-color="#480a71"/><stop offset="0.775" stop-color="#3c0a67"/><stop offset="0.800" stop-color="#300a5b"/><stop offset="0.825" stop-color="#25094e"/><stop offset="0.850" stop-color="#1a0740"/><stop offset="0.875" stop-color="#10052d"/><stop offset="0.900" stop-color="#07021a"/><stop offset="0.925" stop-color="#040110"/><stop offset="0.950" stop-color="#010007"/><stop offset="0.975" stop-color="#000004"/><stop offset="1.000" stop-color="#000004"/></linearGradient></defs><rect x="1322" y="3182.2" width="30" height="149.4" fill="url(#lgEPIC)"/><path d="M1322 3187.5h7M1345 3187.5h7" stroke="#fff" stroke-width="1.3"/><text x="1359" y="3196.1" font-size="25.5">2</text><path d="M1322 3222.0h7M1345 3222.0h7" stroke="#fff" stroke-width="1.3"/><text x="1359" y="3230.6" font-size="25.5">1</text><path d="M1322 3256.6h7M1345 3256.6h7" stroke="#fff" stroke-width="1.3"/><text x="1359" y="3265.2" font-size="25.5">0</text><path d="M1322 3291.1h7M1345 3291.1h7" stroke="#fff" stroke-width="1.3"/><text x="1359" y="3299.7" font-size="25.5">−1</text><path d="M1322 3325.6h7M1345 3325.6h7" stroke="#fff" stroke-width="1.3"/><text x="1359" y="3334.2" font-size="25.5">−2</text></g></svg></body></html>
